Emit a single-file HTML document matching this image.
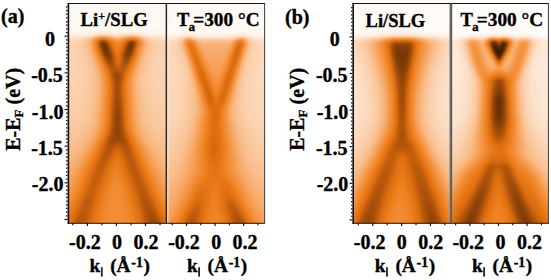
<!DOCTYPE html>
<html><head><meta charset="utf-8"><style>
html,body{margin:0;padding:0;background:#fff;width:551px;height:280px;overflow:hidden}
svg{display:block;position:absolute;left:0;top:0}
.m{position:absolute;overflow:hidden}
.m i{display:block;height:2px}
text{font-family:"Liberation Serif",serif;font-weight:bold;fill:#000;stroke:#000;stroke-width:0.35px}
</style></head><body>
<div class="m" style="left:68px;top:3px;width:98px;height:220px"><i style="background:linear-gradient(90deg,#fef8f3,#fef8f3,#fef8f3,#fef8f3,#fef8f3,#fef8f3,#fef8f3,#fef8f3,#fef8f3,#fef8f3,#fef8f3,#fef8f3,#fef8f3,#fef8f3,#fef8f3,#fef8f3,#fef8f3,#fef8f3,#fef8f3,#fef8f3,#fef8f3,#fef8f3,#fef8f3,#fef8f3,#fef8f3,#fef8f3,#fef8f3,#fef8f3,#fef8f3,#fef8f3,#fef8f3,#fef8f3,#fef8f3,#fef8f3,#fef8f3,#fef8f3,#fef8f3,#fef8f3,#fef8f3,#fef8f3,#fef8f3,#fef8f3,#fef8f3,#fef8f3,#fef8f3,#fef8f3,#fef8f3,#fef8f3,#fef8f3,#fef8f3)"></i><i style="background:linear-gradient(90deg,#fef8f3,#fef8f3,#fef8f3,#fef8f3,#fef8f3,#fef8f3,#fef8f3,#fef8f3,#fef8f3,#fef8f3,#fef8f3,#fef8f3,#fef8f3,#fef8f3,#fef8f3,#fef8f3,#fef8f3,#fef8f3,#fef8f3,#fef8f3,#fef8f3,#fef8f3,#fef8f3,#fef8f3,#fef8f3,#fef8f3,#fef8f3,#fef8f3,#fef8f3,#fef8f3,#fef8f3,#fef8f3,#fef8f3,#fef8f3,#fef8f3,#fef8f3,#fef8f3,#fef8f3,#fef8f3,#fef8f3,#fef8f3,#fef8f3,#fef8f3,#fef8f3,#fef8f3,#fef8f3,#fef8f3,#fef8f3,#fef8f3,#fef8f3)"></i><i style="background:linear-gradient(90deg,#fef8f3,#fef8f3,#fef8f3,#fef8f3,#fef8f3,#fef8f3,#fef8f3,#fef8f3,#fef8f3,#fef8f3,#fef8f3,#fef8f3,#fef8f3,#fef8f3,#fef8f3,#fef8f3,#fef8f3,#fef8f3,#fef8f3,#fef8f3,#fef8f3,#fef8f3,#fef8f3,#fef8f3,#fef8f3,#fef8f3,#fef8f3,#fef8f3,#fef8f3,#fef8f3,#fef8f3,#fef8f3,#fef8f3,#fef8f3,#fef8f3,#fef8f3,#fef8f3,#fef8f3,#fef8f3,#fef8f3,#fef8f3,#fef8f3,#fef8f3,#fef8f3,#fef8f3,#fef8f3,#fef8f3,#fef8f3,#fef8f3,#fef8f3)"></i><i style="background:linear-gradient(90deg,#fef8f3,#fef8f3,#fef8f3,#fef8f3,#fef8f3,#fef8f3,#fef8f3,#fef8f3,#fef8f3,#fef8f3,#fef8f3,#fef8f3,#fef8f3,#fef8f3,#fef8f3,#fef8f3,#fef8f3,#fef8f3,#fef8f3,#fef8f3,#fef8f3,#fef8f3,#fef8f3,#fef8f3,#fef8f3,#fef8f3,#fef8f3,#fef8f3,#fef8f3,#fef8f3,#fef8f3,#fef8f3,#fef8f3,#fef8f3,#fef8f3,#fef8f3,#fef8f3,#fef8f3,#fef8f3,#fef8f3,#fef8f3,#fef8f3,#fef8f3,#fef8f3,#fef8f3,#fef8f3,#fef8f3,#fef8f3,#fef8f3,#fef8f3)"></i><i style="background:linear-gradient(90deg,#fef8f3,#fef8f3,#fef8f3,#fef8f3,#fef8f3,#fef8f3,#fef8f3,#fef8f3,#fef8f3,#fef8f3,#fef8f3,#fef8f3,#fef8f3,#fef8f3,#fef8f3,#fef8f3,#fef8f3,#fef8f3,#fef8f3,#fef8f3,#fef8f3,#fef8f3,#fef8f3,#fef8f3,#fef8f3,#fef8f3,#fef8f3,#fef8f3,#fef8f3,#fef8f3,#fef8f3,#fef8f3,#fef8f3,#fef8f3,#fef8f3,#fef8f3,#fef8f3,#fef8f3,#fef8f3,#fef8f3,#fef8f3,#fef8f3,#fef8f3,#fef8f3,#fef8f3,#fef8f3,#fef8f3,#fef8f3,#fef8f3,#fef8f3)"></i><i style="background:linear-gradient(90deg,#fef8f3,#fef8f3,#fef8f3,#fef8f3,#fef8f3,#fef8f3,#fef8f3,#fef8f3,#fef8f3,#fef8f3,#fef8f3,#fef8f3,#fef8f3,#fef8f3,#fef8f3,#fef8f3,#fef8f3,#fef8f3,#fef8f3,#fef8f3,#fef8f3,#fef8f3,#fef8f3,#fef8f3,#fef8f3,#fef8f3,#fef8f3,#fef8f3,#fef8f3,#fef8f3,#fef8f3,#fef8f3,#fef8f3,#fef8f3,#fef8f3,#fef8f3,#fef8f3,#fef8f3,#fef8f3,#fef8f3,#fef8f3,#fef8f3,#fef8f3,#fef8f3,#fef8f3,#fef8f3,#fef8f3,#fef8f3,#fef8f3,#fef8f3)"></i><i style="background:linear-gradient(90deg,#fef8f3,#fef8f3,#fef8f3,#fef8f3,#fef8f3,#fef8f3,#fef8f3,#fef8f3,#fef8f3,#fef8f3,#fef8f3,#fef8f3,#fef8f3,#fef8f3,#fef8f3,#fef8f3,#fef8f3,#fef8f3,#fef8f3,#fef8f3,#fef8f3,#fef8f3,#fef8f3,#fef8f3,#fef8f3,#fef8f3,#fef8f3,#fef8f3,#fef8f3,#fef8f3,#fef8f3,#fef8f3,#fef8f3,#fef8f3,#fef8f3,#fef8f3,#fef8f3,#fef8f3,#fef8f3,#fef8f3,#fef8f3,#fef8f3,#fef8f3,#fef8f3,#fef8f3,#fef8f3,#fef8f3,#fef8f3,#fef8f3,#fef8f3)"></i><i style="background:linear-gradient(90deg,#fef8f3,#fef8f3,#fef8f3,#fef8f3,#fef8f3,#fef8f3,#fef8f3,#fef8f3,#fef8f3,#fef8f3,#fef8f3,#fef8f3,#fef8f3,#fef8f3,#fef8f3,#fef8f3,#fef8f3,#fef8f3,#fef8f3,#fef8f3,#fef8f3,#fef8f3,#fef8f3,#fef8f3,#fef8f3,#fef8f3,#fef8f3,#fef8f3,#fef8f3,#fef8f3,#fef8f3,#fef8f3,#fef8f3,#fef8f3,#fef8f3,#fef8f3,#fef8f3,#fef8f3,#fef8f3,#fef8f3,#fef8f3,#fef8f3,#fef8f3,#fef8f3,#fef8f3,#fef8f3,#fef8f3,#fef8f3,#fef8f3,#fef8f3)"></i><i style="background:linear-gradient(90deg,#fef8f3,#fef8f3,#fef8f3,#fef8f3,#fef8f3,#fef8f3,#fef8f3,#fef8f3,#fef8f3,#fef8f3,#fef8f3,#fef8f3,#fef8f3,#fef8f3,#fef8f3,#fef8f3,#fef8f3,#fef8f3,#fef8f3,#fef8f3,#fef8f3,#fef8f3,#fef8f3,#fef8f3,#fef8f3,#fef8f3,#fef8f3,#fef8f3,#fef8f3,#fef8f3,#fef8f3,#fef8f3,#fef8f3,#fef8f3,#fef8f3,#fef8f3,#fef8f3,#fef8f3,#fef8f3,#fef8f3,#fef8f3,#fef8f3,#fef8f3,#fef8f3,#fef8f3,#fef8f3,#fef8f3,#fef8f3,#fef8f3,#fef8f3)"></i><i style="background:linear-gradient(90deg,#fef8f3,#fef8f3,#fef8f3,#fef8f3,#fef8f3,#fef8f3,#fef8f3,#fef8f3,#fef8f3,#fef8f3,#fef8f3,#fef8f3,#fef8f3,#fef8f3,#fef8f3,#fef8f3,#fef8f3,#fef8f3,#fef8f3,#fef8f3,#fef8f3,#fef8f3,#fef8f3,#fef8f3,#fef8f3,#fef8f3,#fef8f3,#fef8f3,#fef8f3,#fef8f3,#fef8f3,#fef8f3,#fef8f3,#fef8f3,#fef8f3,#fef8f3,#fef8f3,#fef8f3,#fef8f3,#fef8f3,#fef8f3,#fef8f3,#fef8f3,#fef8f3,#fef8f3,#fef8f3,#fef8f3,#fef8f3,#fef8f3,#fef8f3)"></i><i style="background:linear-gradient(90deg,#fef8f3,#fef8f3,#fef8f3,#fef8f3,#fef8f3,#fef8f3,#fef8f3,#fef8f3,#fef8f3,#fef8f3,#fef8f3,#fef8f3,#fef8f3,#fef8f3,#fef8f3,#fef8f3,#fef8f3,#fef8f3,#fef8f3,#fef8f3,#fef8f3,#fef8f3,#fef8f3,#fef8f3,#fef8f3,#fef8f3,#fef8f3,#fef8f3,#fef8f3,#fef8f3,#fef8f3,#fef8f3,#fef8f3,#fef8f3,#fef8f3,#fef8f3,#fef8f3,#fef8f3,#fef8f3,#fef8f3,#fef8f3,#fef8f3,#fef8f3,#fef8f3,#fef8f3,#fef8f3,#fef8f3,#fef8f3,#fef8f3,#fef8f3)"></i><i style="background:linear-gradient(90deg,#fef8f3,#fef8f3,#fef8f3,#fef8f3,#fef8f3,#fef8f3,#fef8f3,#fef8f3,#fef8f3,#fef8f3,#fef8f3,#fef8f3,#fef8f3,#fef8f3,#fef8f3,#fef8f3,#fef8f3,#fef8f3,#fef8f3,#fef8f3,#fef8f3,#fef8f3,#fef8f3,#fef8f3,#fef8f3,#fef8f3,#fef8f3,#fef8f3,#fef8f3,#fef8f3,#fef8f3,#fef8f3,#fef8f3,#fef8f3,#fef8f3,#fef8f3,#fef8f3,#fef8f3,#fef8f3,#fef8f3,#fef8f3,#fef8f3,#fef8f3,#fef8f3,#fef8f3,#fef8f3,#fef8f3,#fef8f3,#fef8f3,#fef8f3)"></i><i style="background:linear-gradient(90deg,#fef8f3,#fef8f3,#fef8f3,#fef8f3,#fef8f3,#fef8f3,#fef8f3,#fef8f3,#fef8f3,#fef8f3,#fef8f2,#fef8f2,#fef8f2,#fef8f2,#fef7f1,#fef7f1,#fef7f1,#fef7f1,#fef7f1,#fef7f1,#fef7f1,#fef7f1,#fef7f2,#fef7f2,#fef8f2,#fef8f2,#fef8f2,#fef7f2,#fef7f1,#fef7f1,#fef7f1,#fef7f1,#fef7f1,#fef7f1,#fef7f1,#fef7f1,#fef7f2,#fef8f2,#fef8f2,#fef8f2,#fef8f2,#fef8f3,#fef8f3,#fef8f3,#fef8f3,#fef8f3,#fef8f3,#fef8f3,#fef8f3,#fef8f3)"></i><i style="height:1px;background:linear-gradient(90deg,#fef8f2,#fef8f2,#fef8f2,#fef8f2,#fef8f2,#fef8f2,#fef8f2,#fef7f2,#fef7f2,#fef7f1,#fef7f1,#fef7f1,#fef7f0,#fef6f0,#fef6ef,#fef6ef,#fef5ee,#fef5ee,#fef5ee,#fef6ee,#fef6ef,#fef6ef,#fef6ef,#fef6f0,#fef7f0,#fef7f0,#fef6f0,#fef6f0,#fef6ef,#fef6ef,#fef6ee,#fef5ee,#fef5ee,#fef5ee,#fef6ee,#fef6ef,#fef6f0,#fef7f0,#fef7f1,#fef7f1,#fef7f1,#fef7f2,#fef7f2,#fef8f2,#fef8f2,#fef8f2,#fef8f2,#fef8f2,#fef8f2,#fef8f2)"></i><i style="height:1px;background:linear-gradient(90deg,#fef7f1,#fef7f1,#fef7f1,#fef7f1,#fef7f1,#fef7f1,#fef7f1,#fef7f1,#fef7f0,#fef7f0,#fef6f0,#fef6ef,#fef6ee,#fef5ee,#fef5ed,#fef4ec,#fef4eb,#fef3ea,#fef3ea,#fef4eb,#fef4ec,#fef4ec,#fef5ed,#fef5ed,#fef5ee,#fef5ee,#fef5ee,#fef5ed,#fef5ed,#fef4ec,#fef4eb,#fef3eb,#fef3ea,#fef3ea,#fef4eb,#fef4ec,#fef5ed,#fef5ee,#fef6ef,#fef6ef,#fef6f0,#fef7f0,#fef7f1,#fef7f1,#fef7f1,#fef7f1,#fef7f1,#fef7f1,#fef7f1,#fef7f1)"></i><i style="height:1px;background:linear-gradient(90deg,#fef6f0,#fef6f0,#fef6f0,#fef6f0,#fef6ef,#fef6ef,#fef6ef,#fef6ef,#fef6ef,#fef5ee,#fef5ed,#fef5ed,#fef4eb,#fef3ea,#fef2e8,#fef1e7,#fef0e5,#fef0e5,#fef0e5,#fef1e6,#fef1e7,#fef2e8,#fef3e9,#fef3ea,#fef3ea,#fef3ea,#fef3ea,#fef3e9,#fef2e8,#fef2e7,#fef1e6,#fef0e5,#fef0e5,#fef0e5,#fef1e6,#fef2e7,#fef3e9,#fef4eb,#fef4ec,#fef5ed,#fef5ee,#fef6ee,#fef6ef,#fef6ef,#fef6ef,#fef6ef,#fef6f0,#fef6f0,#fef6f0,#fef6f0)"></i><i style="height:1px;background:linear-gradient(90deg,#fef5ee,#fef5ee,#fef5ed,#fef5ed,#fef5ed,#fef5ed,#fef5ec,#fef4ec,#fef4ec,#fef4eb,#fef3ea,#fef2e9,#fef1e7,#fef0e4,#feeee2,#fdeddf,#fdecdd,#fdebdc,#fdebdc,#fdecde,#fdeddf,#feeee1,#feefe3,#fef0e4,#fef0e5,#fef0e5,#fef0e5,#feefe3,#feeee2,#feede0,#fdecde,#fdebdd,#fdebdc,#fdebdd,#fdecde,#feeee1,#feefe3,#fef1e6,#fef2e8,#fef3e9,#fef3ea,#fef4eb,#fef4ec,#fef4ec,#fef5ed,#fef5ed,#fef5ed,#fef5ed,#fef5ee,#fef5ee)"></i><i style="height:1px;background:linear-gradient(90deg,#fef3eb,#fef3ea,#fef3ea,#fef3ea,#fef3e9,#fef3e9,#fef2e9,#fef2e8,#fef2e7,#fef1e6,#fef0e5,#feefe2,#feede0,#fdebdc,#fde9d8,#fde6d4,#fde5d1,#fde4cf,#fde4d0,#fde5d2,#fde6d4,#fde8d7,#fdeada,#fdebdc,#fdebdd,#fdecdd,#fdebdc,#fdeadb,#fde9d8,#fde7d6,#fde6d3,#fde4d1,#fde4cf,#fde4d0,#fde5d2,#fde7d6,#fdeada,#fdecde,#feeee1,#feefe4,#fef0e5,#fef1e7,#fef2e8,#fef2e8,#fef2e9,#fef3e9,#fef3ea,#fef3ea,#fef3ea,#fef3ea)"></i><i style="height:1px;background:linear-gradient(90deg,#fef1e6,#fef1e6,#fef0e5,#fef0e5,#fef0e4,#fef0e4,#feefe3,#feefe2,#feeee1,#fdeddf,#fdecdd,#fdeada,#fde7d6,#fde4d0,#fce1ca,#fcddc4,#fcd9be,#fbd8ba,#fbd8bb,#fcdabf,#fcddc4,#fce0c9,#fce2cd,#fde4d0,#fde5d1,#fde5d2,#fde4d1,#fce3ce,#fce1cb,#fcdec7,#fcdbc1,#fcd9bc,#fbd7ba,#fbd8bb,#fcdbc0,#fcdfc7,#fce2cd,#fde6d3,#fde9d8,#fdebdc,#fdecde,#feede0,#feeee2,#feefe3,#feefe4,#fef0e4,#fef0e5,#fef0e5,#fef1e6,#fef1e6)"></i><i style="height:1px;background:linear-gradient(90deg,#feede0,#feede0,#fdeddf,#fdecdf,#fdecde,#fdecdd,#fdebdc,#fdeadb,#fde9d9,#fde8d7,#fde6d3,#fde3cf,#fce0c9,#fcdabf,#fbd4b3,#facda8,#fac89e,#fac69a,#fac69b,#fac9a0,#facda8,#fbd2b0,#fbd6b8,#fcd9be,#fcdbc1,#fcdcc2,#fcdbc0,#fbd8bb,#fbd4b4,#fbd0ac,#facba4,#fac79d,#fac599,#fac79b,#facba3,#fbd0ad,#fbd7b9,#fcddc5,#fce1cc,#fde5d1,#fde7d5,#fde9d8,#fdeada,#fdebdb,#fdebdd,#fdecdd,#fdecde,#fdeddf,#fdeddf,#feede0)"></i><i style="height:1px;background:linear-gradient(90deg,#fde9d9,#fde9d8,#fde8d8,#fde8d7,#fde7d6,#fde7d5,#fde6d3,#fde5d2,#fde3cf,#fce2cc,#fcdfc8,#fcdbc0,#fbd4b4,#facca6,#fac496,#f9ba85,#f8b176,#f7ad6e,#f7ad6f,#f8b378,#f9ba85,#f9c192,#fac79c,#facba4,#facea9,#fbcfaa,#facda7,#fac9a0,#fac497,#f9be8c,#f8b67e,#f8b073,#f7ac6d,#f7ae71,#f8b57d,#f9bf8e,#fac89e,#fbd1ae,#fbd8ba,#fcddc4,#fce0ca,#fce3ce,#fde4d1,#fde5d3,#fde6d4,#fde7d5,#fde8d7,#fde8d7,#fde9d8,#fde9d9)"></i><i style="height:1px;background:linear-gradient(90deg,#fde5d2,#fde4d1,#fde4d0,#fde3cf,#fce3ce,#fce2cc,#fce1ca,#fcdfc8,#fcddc5,#fcdabf,#fbd6b8,#fbd0ad,#fac89e,#f9be8c,#f8b073,#f6a15a,#f59646,#f4923f,#f49240,#f59748,#f6a159,#f7ab6b,#f8b47b,#f9bb87,#f9bf8f,#f9c090,#f9be8c,#f8b882,#f8b074,#f7a662,#f69c50,#f49443,#f4923e,#f49341,#f69b4f,#f7a866,#f8b780,#f9c395,#facca6,#fbd3b3,#fbd8bc,#fcdcc2,#fcdec7,#fce0c9,#fce1cb,#fce2cd,#fce3ce,#fde4d0,#fde4d0,#fde5d1)"></i><i style="height:1px;background:linear-gradient(90deg,#fce1cb,#fce0ca,#fce0c9,#fcdfc8,#fcdec6,#fcddc4,#fcdbc1,#fcd9bd,#fbd6b8,#fbd3b2,#facea8,#fac79b,#f9bd8a,#f7ae6f,#f69c51,#f38e38,#ef8526,#ed7f1d,#ee7f1e,#ef8526,#f28d35,#f59545,#f6a058,#f7a967,#f7ae71,#f8b073,#f7ac6d,#f6a560,#f59b4f,#f3913d,#f1892e,#ef8221,#ed7f1d,#ee8120,#f1892e,#f49443,#f6a560,#f8b57d,#f9c293,#facaa2,#fbd0ad,#fbd5b5,#fbd8bb,#fcdabf,#fcdcc2,#fcddc5,#fcdec7,#fcdfc8,#fce0c9,#fce0ca)"></i><i style="height:1px;background:linear-gradient(90deg,#fcddc4,#fcdcc3,#fcdcc1,#fcdac0,#fcd9bd,#fbd8bb,#fbd6b7,#fbd4b3,#fbd1ae,#facda6,#fac79c,#f9bf8d,#f8b176,#f6a058,#f38f3a,#ee8221,#e47516,#de6e10,#de6e10,#e37415,#ec7e1c,#f1882c,#f3913d,#f5994b,#f6a057,#f6a15a,#f69d52,#f59544,#f28d35,#ef8324,#e87919,#e07112,#dd6d10,#e07113,#e97b1a,#f1882d,#f59647,#f7a967,#f8b982,#f9c395,#facaa2,#fbcfaa,#fbd2b1,#fbd5b5,#fbd7b9,#fbd9bc,#fcdabf,#fcdbc1,#fcdcc2,#fcddc4)"></i><i style="height:1px;background:linear-gradient(90deg,#fcdabe,#fcd9bd,#fbd8bb,#fbd7b9,#fbd6b7,#fbd4b4,#fbd2b0,#fbd0ac,#facca6,#fac89e,#f9c293,#f8b881,#f7a968,#f59647,#f0872b,#e67717,#d3670e,#ba590c,#b8580c,#cb630e,#e17113,#eb7d1c,#f0872b,#f38f3a,#f59543,#f59646,#f49340,#f28c34,#ef8324,#e77818,#dc6c0f,#c15d0d,#b7580c,#c45f0d,#df7012,#ed7f1e,#f38f39,#f6a058,#f8b175,#f9be8c,#fac599,#facaa2,#fbcea9,#fbd1ae,#fbd3b2,#fbd5b6,#fbd6b8,#fbd8ba,#fbd9bc,#fcd9be)"></i><i style="height:1px;background:linear-gradient(90deg,#fbd7ba,#fbd7b9,#fbd6b7,#fbd5b5,#fbd3b2,#fbd1af,#fbcfac,#facda7,#fac9a1,#fac598,#f9be8d,#f8b379,#f6a45e,#f4923e,#ef8222,#e07012,#ba5a0c,#9e4a0a,#9a480a,#ad520b,#cf650e,#e47415,#ee801e,#f1892e,#f38f39,#f3903c,#f28d35,#f08528,#ea7b1a,#df6f11,#bf5c0d,#a34d0a,#994809,#aa500b,#cf650e,#e87919,#f18a30,#f59a4d,#f7ac6c,#f9b984,#f9c293,#fac79d,#facba4,#fbceaa,#fbd1ae,#fbd2b1,#fbd4b4,#fbd5b6,#fbd6b8,#fbd7ba)"></i><i style="height:1px;background:linear-gradient(90deg,#fbd6b7,#fbd5b6,#fbd4b4,#fbd3b2,#fbd1af,#fbd0ac,#facea8,#facba4,#fac89d,#f9c395,#f9bc88,#f8b074,#f6a158,#f38f3a,#ed7f1d,#db6c0f,#aa510b,#894008,#833d08,#974709,#ba590c,#de6e11,#e97b1a,#ef8426,#f18b31,#f28c34,#f1882d,#ee811f,#e57516,#d1660e,#aa510b,#8c4208,#843e08,#974709,#c05d0d,#e47516,#f0872b,#f59747,#f7a967,#f8b77f,#f9c090,#fac69a,#facaa1,#facda6,#fbcfab,#fbd1ae,#fbd2b1,#fbd4b3,#fbd5b5,#fbd6b7)"></i><i style="height:1px;background:linear-gradient(90deg,#fbd5b6,#fbd4b4,#fbd3b2,#fbd2b0,#fbd1ae,#fbcfaa,#facda7,#facaa2,#fac79c,#f9c293,#f9bb87,#f8af72,#f6a057,#f38f39,#ec7e1c,#d7690f,#a44d0a,#7f3c07,#753707,#863f08,#aa510b,#d3670e,#e57617,#ee811f,#f0872b,#f1892f,#f08527,#eb7d1c,#e07113,#c25e0d,#9b490a,#7e3b07,#773807,#8e4309,#bb5a0c,#e37415,#f08629,#f59645,#f7a865,#f8b67d,#f9bf8e,#fac598,#fac99f,#facca5,#facea9,#fbd0ac,#fbd1af,#fbd3b1,#fbd4b3,#fbd5b5)"></i><i style="height:1px;background:linear-gradient(90deg,#fbd4b5,#fbd4b3,#fbd3b1,#fbd1af,#fbd0ad,#fbceaa,#facca6,#facaa1,#fac69b,#f9c293,#f9bb87,#f8b073,#f6a158,#f3903a,#ed7f1d,#db6b0f,#a54e0a,#7c3b07,#6e3406,#7b3a07,#9e4a0a,#c6600d,#e27214,#ec7d1c,#f08527,#f0872a,#ef8222,#e87919,#dd6d10,#b7570c,#904309,#753707,#733607,#8e4309,#bd5b0c,#e47516,#f0872b,#f59747,#f7a866,#f8b67e,#f9bf8e,#fac498,#fac89f,#facba4,#facea8,#fbcfac,#fbd1ae,#fbd2b1,#fbd3b2,#fbd4b4)"></i><i style="height:1px;background:linear-gradient(90deg,#fbd4b4,#fbd3b3,#fbd2b1,#fbd1af,#fbd0ac,#fbcea9,#facca6,#facaa1,#fac69b,#f9c293,#f9bb87,#f8b175,#f6a25b,#f3913d,#ee8120,#dd6e10,#aa500b,#7e3b07,#6b3306,#743707,#944509,#bc5b0c,#df6f11,#e97b1a,#ef8323,#f08527,#ee801e,#e57617,#d6690f,#ae530b,#884008,#703506,#723606,#914409,#c25e0d,#e57717,#f1892e,#f5984a,#f7aa68,#f8b67f,#f9bf8e,#fac498,#fac89f,#facba4,#facda8,#fbcfab,#fbd1ae,#fbd2b0,#fbd3b2,#fbd4b4)"></i><i style="height:1px;background:linear-gradient(90deg,#fbd4b4,#fbd3b2,#fbd2b1,#fbd1af,#fbd0ac,#fbcea9,#facca6,#facaa1,#fac79b,#f9c294,#f9bc89,#f8b277,#f6a45e,#f49340,#ef8323,#e07012,#b0540b,#823d08,#6b3206,#703506,#8c4208,#b4560c,#dc6c0f,#e77818,#ee811f,#ef8324,#ec7e1d,#e37415,#cf650e,#a64f0b,#823d08,#6e3406,#743707,#964709,#c9610d,#e77919,#f18a31,#f59a4e,#f7ab6b,#f8b780,#f9c08f,#fac598,#fac89f,#facba4,#facda8,#fbcfab,#fbd1ae,#fbd2b0,#fbd3b2,#fbd4b3)"></i><i style="height:1px;background:linear-gradient(90deg,#fbd4b4,#fbd3b2,#fbd2b1,#fbd1af,#fbd0ac,#fbcea9,#facca6,#facaa2,#fac79c,#f9c395,#f9bd8a,#f8b379,#f7a662,#f59543,#f08527,#e27314,#b8580c,#884008,#6d3306,#6d3306,#863f08,#ac520b,#d5680e,#e57616,#ed7f1d,#ee8221,#eb7c1b,#e17213,#c8610d,#a14b0a,#7e3b07,#6e3406,#783907,#9d4a0a,#d0660e,#ea7b1a,#f28c34,#f69d51,#f7ad6e,#f8b882,#f9c090,#fac599,#fac99f,#facba4,#facea8,#fbcfab,#fbd1ae,#fbd2b0,#fbd3b2,#fbd4b3)"></i><i style="background:linear-gradient(90deg,#fbd4b4,#fbd3b2,#fbd2b1,#fbd1af,#fbd0ad,#fbceaa,#facda6,#facaa2,#fac79d,#fac496,#f9be8d,#f8b57d,#f7a967,#f59849,#f1892e,#e67717,#c55f0d,#934509,#723606,#6c3306,#7f3c07,#a34c0a,#ca620e,#e27314,#eb7c1b,#ed7f1d,#e87a19,#df6f11,#bf5c0d,#994809,#7a3907,#6f3506,#803c08,#a84f0b,#dc6c0f,#ed7f1d,#f38f3a,#f6a057,#f8af72,#f9ba85,#f9c192,#fac69a,#fac9a0,#facca5,#facea9,#fbcfac,#fbd1ae,#fbd2b0,#fbd3b2,#fbd4b3)"></i><i style="background:linear-gradient(90deg,#fbd4b4,#fbd3b3,#fbd2b1,#fbd1af,#fbd0ad,#fbcfab,#facda7,#facba3,#fac89e,#fac598,#f9c08f,#f8b881,#f7ac6d,#f69d52,#f28d36,#eb7d1c,#d7690f,#a44d0a,#7c3b07,#6d3406,#783907,#974709,#be5b0c,#de6f11,#e77919,#eb7c1b,#e57617,#da6b0f,#b5560c,#914409,#783807,#753707,#8c4208,#b8580c,#e17213,#ef8425,#f49341,#f6a45f,#f8b277,#f9bc89,#f9c394,#fac79c,#facaa2,#facca6,#fbcea9,#fbd0ac,#fbd1af,#fbd2b1,#fbd3b2,#fbd4b3)"></i><i style="background:linear-gradient(90deg,#fbd4b4,#fbd3b3,#fbd3b1,#fbd2b0,#fbd1ae,#fbcfab,#facea8,#facca5,#fac9a0,#fac69a,#f9c192,#f9ba86,#f8b074,#f6a25b,#f4923e,#ef8222,#e07012,#b4560c,#894108,#723606,#753707,#8e4309,#b2550c,#d86a0f,#e47516,#e87919,#e27314,#d0660e,#ac520b,#8b4108,#783907,#7d3b07,#9b490a,#c9610d,#e67818,#f1892e,#f59849,#f7a966,#f8b57d,#f9bf8d,#fac497,#fac89e,#facba3,#facda7,#fbcfaa,#fbd0ad,#fbd1af,#fbd2b1,#fbd3b2,#fbd4b4)"></i><i style="background:linear-gradient(90deg,#fbd4b4,#fbd4b3,#fbd3b2,#fbd2b0,#fbd1ae,#fbd0ac,#fbcea9,#facca6,#facaa1,#fac79c,#f9c394,#f9bd8a,#f8b379,#f7a663,#f59645,#f0872b,#e57617,#c6600d,#984709,#7a3a07,#753707,#873f08,#a84f0b,#cc630e,#e17113,#e57616,#df7012,#c7600d,#a44d0a,#874008,#7b3a07,#874008,#aa510b,#da6b0f,#eb7d1c,#f28d36,#f69d52,#f7ac6d,#f8b882,#f9c090,#fac599,#fac99f,#facba4,#facea8,#fbcfab,#fbd1ae,#fbd2b0,#fbd3b1,#fbd3b3,#fbd4b4)"></i><i style="background:linear-gradient(90deg,#fbd4b5,#fbd4b4,#fbd3b2,#fbd2b1,#fbd1af,#fbd0ad,#fbcfaa,#facda7,#facba3,#fac89e,#fac497,#f9bf8e,#f8b780,#f7ac6c,#f69d52,#f28e37,#ec7e1d,#dd6d10,#b0540b,#8d4209,#7e3b07,#884008,#a34c0a,#c45f0d,#de6e11,#e27314,#de6e10,#c25e0d,#a34d0a,#8c4208,#884008,#9b490a,#c05d0d,#e27314,#ef8425,#f4923f,#f6a35c,#f8b175,#f9bb88,#f9c293,#fac79b,#facaa1,#facca6,#fbcea9,#fbd0ac,#fbd1ae,#fbd2b0,#fbd3b2,#fbd4b3,#fbd4b4)"></i><i style="background:linear-gradient(90deg,#fbd5b5,#fbd4b4,#fbd3b3,#fbd3b1,#fbd2b0,#fbd1ae,#fbcfab,#facea8,#facca5,#fac9a0,#fac69a,#f9c192,#f9bb86,#f8b074,#f6a35d,#f49341,#f08527,#e47516,#c7610d,#a14c0a,#8b4108,#8c4208,#a04b0a,#bd5b0c,#db6b0f,#e07012,#dc6c0f,#c05c0d,#a54e0a,#944609,#974709,#af530b,#d6690e,#e97a1a,#f18a2f,#f59849,#f7a866,#f8b57c,#f9be8d,#fac497,#fac89e,#facba3,#facda7,#fbcfab,#fbd0ad,#fbd1af,#fbd2b1,#fbd3b2,#fbd4b4,#fbd4b5)"></i><i style="background:linear-gradient(90deg,#fbd5b5,#fbd4b4,#fbd4b3,#fbd3b2,#fbd2b0,#fbd1ae,#fbd0ac,#fbcea9,#facca6,#facaa1,#fac79c,#f9c395,#f9bd8b,#f8b47b,#f7a866,#f5994b,#f28b32,#eb7d1b,#dd6d10,#b6570c,#9b490a,#934509,#a04b0a,#b9590c,#d4680e,#de6e11,#d7690f,#be5c0d,#a84f0b,#9e4a0a,#a74f0b,#c25e0d,#e07113,#ee811f,#f38f39,#f69e54,#f7ad6e,#f8b882,#f9c090,#fac599,#fac99f,#facba4,#facea8,#fbcfab,#fbd1ae,#fbd2b0,#fbd3b1,#fbd3b3,#fbd4b4,#fbd4b5)"></i><i style="background:linear-gradient(90deg,#fbd4b5,#fbd4b4,#fbd3b3,#fbd3b2,#fbd2b0,#fbd1af,#fbd0ac,#fbceaa,#facda7,#facaa2,#fac89d,#fac497,#f9bf8e,#f8b780,#f7ad6e,#f69f56,#f3913c,#ef8324,#e37415,#cb630e,#ac520b,#9e4a0a,#a34d0a,#b6570c,#ce640e,#dc6c0f,#d3670e,#be5b0c,#ad520b,#a9500b,#b6570c,#d5680e,#e67718,#f08629,#f49341,#f6a35c,#f8b074,#f9bb86,#f9c192,#fac69a,#fac9a1,#facca5,#facea9,#fbcfac,#fbd1ae,#fbd2b0,#fbd3b1,#fbd3b3,#fbd4b4,#fbd4b4)"></i><i style="background:linear-gradient(90deg,#fbd4b5,#fbd4b4,#fbd3b3,#fbd3b2,#fbd2b0,#fbd1af,#fbd0ad,#fbcfaa,#facda7,#facba3,#fac89f,#fac598,#f9c090,#f9ba85,#f8b074,#f6a45f,#f59545,#f1892e,#ea7b1b,#dd6d10,#be5c0d,#ab510b,#a9500b,#b5570c,#c8610d,#d4680e,#cf650e,#bf5c0d,#b3550c,#b4560c,#c7600d,#df7012,#ec7e1c,#f18b32,#f59849,#f7a764,#f8b37a,#f9bd8a,#f9c394,#fac79c,#facaa1,#facca6,#fbcea9,#fbd0ac,#fbd1ae,#fbd2b0,#fbd3b1,#fbd3b2,#fbd4b3,#fbd4b4)"></i><i style="background:linear-gradient(90deg,#fbd4b4,#fbd4b4,#fbd3b3,#fbd3b2,#fbd2b0,#fbd1af,#fbd0ad,#fbcfab,#facda8,#facba4,#fac9a0,#fac69a,#f9c293,#f9bc88,#f8b37a,#f7a866,#f59b4e,#f28e37,#ee8120,#e37415,#cf650e,#b7580c,#af530b,#b5570c,#c25e0d,#cc630e,#c8610d,#be5b0c,#b8580c,#c05d0d,#d7690f,#e57616,#ef8324,#f3903b,#f69e53,#f7ac6c,#f8b67f,#f9bf8d,#fac496,#fac79d,#facaa2,#facda6,#fbceaa,#fbd0ac,#fbd1ae,#fbd2b0,#fbd3b1,#fbd3b2,#fbd4b3,#fbd4b4)"></i><i style="background:linear-gradient(90deg,#fbd4b4,#fbd4b3,#fbd3b3,#fbd3b2,#fbd2b0,#fbd1af,#fbd0ad,#fbcfab,#facda8,#facca5,#fac9a0,#fac69b,#f9c394,#f9be8b,#f8b67e,#f7ac6c,#f69f56,#f4923e,#f08629,#e87919,#dd6d0f,#c25e0d,#b5560c,#b4560c,#bb5a0c,#c15d0d,#bf5c0d,#bb5a0c,#bd5b0c,#cc630e,#df7012,#ea7c1b,#f1892e,#f59543,#f6a35d,#f8b073,#f9b984,#f9c090,#fac598,#fac89e,#facba3,#facda7,#fbceaa,#fbd0ac,#fbd1ae,#fbd2b0,#fbd3b1,#fbd3b2,#fbd4b3,#fbd4b4)"></i><i style="background:linear-gradient(90deg,#fbd4b4,#fbd4b3,#fbd3b2,#fbd3b1,#fbd2b0,#fbd1af,#fbd0ad,#fbcfab,#facea8,#facca5,#facaa1,#fac79c,#f9c395,#f9bf8d,#f8b881,#f7af71,#f6a35d,#f59544,#f18a30,#ec7e1c,#e17113,#cd640e,#b9590c,#b1550b,#b2550b,#b4560c,#b6570c,#b9590c,#c35e0d,#d86a0f,#e47516,#ef8221,#f28e37,#f59a4d,#f7a865,#f8b378,#f9bc88,#f9c192,#fac599,#fac99f,#facba4,#facda7,#fbcfaa,#fbd0ac,#fbd1ae,#fbd2b0,#fbd2b1,#fbd3b2,#fbd3b3,#fbd4b4)"></i><i style="background:linear-gradient(90deg,#fbd4b3,#fbd3b3,#fbd3b2,#fbd2b1,#fbd2b0,#fbd1af,#fbd0ad,#fbcfab,#facea8,#facca5,#facaa1,#fac79c,#fac497,#f9c08f,#f9b984,#f8b175,#f7a662,#f5994b,#f28d36,#ef8221,#e47516,#d6680e,#bc5a0c,#ad520b,#a74f0b,#a74f0b,#ac510b,#b6570c,#c8610d,#de6e11,#e97a1a,#f0862a,#f4923e,#f69f56,#f7ab6b,#f8b57d,#f9bd8b,#f9c294,#fac69a,#fac9a0,#facba4,#facda7,#fbcfaa,#fbd0ac,#fbd1ae,#fbd2b0,#fbd2b1,#fbd3b2,#fbd3b3,#fbd4b3)"></i><i style="background:linear-gradient(90deg,#fbd4b3,#fbd3b2,#fbd3b2,#fbd2b1,#fbd2b0,#fbd1ae,#fbd0ad,#fbcfab,#facea8,#facca5,#facaa1,#fac79d,#fac497,#f9c090,#f9bb86,#f8b378,#f7a967,#f69c51,#f3903c,#f08527,#e77818,#db6c0f,#bc5a0c,#a64e0b,#9a480a,#984709,#a04b0a,#b1540b,#cb630e,#e17113,#ec7e1d,#f18a30,#f59545,#f6a35c,#f7ae70,#f8b780,#f9be8d,#f9c395,#fac69b,#fac9a0,#facba4,#facda7,#fbcfaa,#fbd0ac,#fbd1ae,#fbd1af,#fbd2b0,#fbd3b1,#fbd3b2,#fbd3b3)"></i><i style="background:linear-gradient(90deg,#fbd3b3,#fbd3b2,#fbd3b1,#fbd2b1,#fbd2b0,#fbd1ae,#fbd0ad,#fbcfab,#facea8,#facca5,#facaa2,#fac89d,#fac598,#f9c191,#f9bc88,#f8b47b,#f7ab6b,#f69f56,#f49340,#f0882c,#ea7c1b,#df6f11,#c35e0d,#aa500b,#9b490a,#984709,#a24c0a,#b6570c,#d3670e,#e47516,#ef8222,#f28e37,#f5994b,#f7a662,#f8b174,#f8b983,#f9bf8e,#f9c396,#fac79c,#fac9a0,#facba4,#facda7,#fbcfaa,#fbd0ac,#fbd1ae,#fbd1af,#fbd2b0,#fbd2b1,#fbd3b2,#fbd3b3)"></i><i style="background:linear-gradient(90deg,#fbd3b2,#fbd3b2,#fbd2b1,#fbd2b0,#fbd1af,#fbd1ae,#fbd0ad,#fbcfab,#facea8,#facca6,#facaa2,#fac89e,#fac598,#f9c192,#f9bc89,#f8b57d,#f7ad6e,#f6a25b,#f59544,#f18a31,#ed7e1d,#e17113,#c9620d,#ad520b,#9c490a,#994809,#a44d0a,#bb5a0c,#db6c0f,#e77818,#f08527,#f3903c,#f69c51,#f7a866,#f8b277,#f9ba85,#f9c08f,#fac496,#fac79c,#fac9a1,#facba4,#facda8,#fbcfaa,#fbd0ac,#fbd1ae,#fbd1af,#fbd2b0,#fbd2b1,#fbd3b2,#fbd3b2)"></i><i style="background:linear-gradient(90deg,#fbd3b2,#fbd3b1,#fbd2b1,#fbd2b0,#fbd1af,#fbd1ae,#fbd0ac,#fbcfab,#facea8,#facca6,#facaa2,#fac89e,#fac599,#f9c293,#f9bd8a,#f8b67e,#f7ae70,#f6a35d,#f59647,#f28c34,#ee801f,#e37415,#ce640e,#b1540b,#a04b0a,#9c490a,#a74f0b,#c05c0d,#de6e10,#e97b1a,#f0872b,#f4923f,#f69e54,#f7aa68,#f8b379,#f9bb86,#f9c090,#fac497,#fac79c,#fac9a1,#facca4,#facda7,#fbceaa,#fbd0ac,#fbd0ad,#fbd1af,#fbd2b0,#fbd2b0,#fbd3b1,#fbd3b2)"></i><i style="background:linear-gradient(90deg,#fbd3b2,#fbd2b1,#fbd2b0,#fbd2b0,#fbd1af,#fbd1ae,#fbd0ac,#fbcfab,#facea8,#facca6,#facaa2,#fac89e,#fac599,#f9c293,#f9bd8b,#f8b77f,#f7af71,#f6a45f,#f59849,#f28d36,#ef8221,#e47516,#d3670e,#b5570c,#a34d0a,#9f4b0a,#ab510b,#c45f0d,#df6f11,#ea7c1b,#f1882c,#f49340,#f69f56,#f7aa6a,#f8b47a,#f9bb87,#f9c090,#fac497,#fac79c,#facaa1,#facca4,#facda7,#fbceaa,#fbcfac,#fbd0ad,#fbd1ae,#fbd1af,#fbd2b0,#fbd2b1,#fbd3b1)"></i><i style="background:linear-gradient(90deg,#fbd3b1,#fbd2b1,#fbd2b0,#fbd2af,#fbd1ae,#fbd0ad,#fbd0ac,#fbcfaa,#facea8,#facca6,#facaa3,#fac89f,#fac59a,#f9c293,#f9be8c,#f8b780,#f8af72,#f6a560,#f5994b,#f28e37,#ef8323,#e57617,#d6690f,#b8580c,#a64e0a,#a24c0a,#ae530b,#c7600d,#e07012,#eb7d1c,#f1892e,#f49341,#f6a057,#f7ab6a,#f8b47a,#f9bb87,#f9c090,#fac497,#fac79c,#facaa1,#facba4,#facda7,#fbceaa,#fbcfab,#fbd0ad,#fbd1ae,#fbd1af,#fbd2b0,#fbd2b0,#fbd2b1)"></i><i style="background:linear-gradient(90deg,#fbd2b1,#fbd2b0,#fbd2b0,#fbd1af,#fbd1ae,#fbd0ad,#fbd0ac,#fbcfaa,#facea8,#facca6,#facaa3,#fac89f,#fac69a,#f9c294,#f9be8c,#f8b881,#f8af73,#f7a561,#f5994c,#f38e38,#ef8324,#e67717,#d86a0f,#ba5a0c,#a84f0b,#a44d0a,#b0540b,#c9610d,#e07113,#ec7d1c,#f1892f,#f49442,#f6a057,#f7ab6b,#f8b47b,#f9bb87,#f9c090,#fac497,#fac79d,#facaa1,#facba4,#facda7,#fbcea9,#fbcfab,#fbd0ad,#fbd1ae,#fbd1af,#fbd2af,#fbd2b0,#fbd2b1)"></i><i style="background:linear-gradient(90deg,#fbd2b0,#fbd2b0,#fbd1af,#fbd1af,#fbd1ae,#fbd0ad,#fbcfac,#fbcfaa,#facda8,#facca6,#facaa3,#fac89f,#fac69a,#f9c294,#f9be8c,#f8b881,#f8b073,#f7a662,#f59a4c,#f38f39,#ef8425,#e67717,#da6b0f,#bc5a0c,#a9500b,#a54e0a,#b1540b,#ca620d,#e17113,#ec7e1c,#f1892f,#f49442,#f6a058,#f7ab6b,#f8b47b,#f9bb87,#f9c091,#fac497,#fac79d,#fac9a1,#facba4,#facda7,#fbcea9,#fbcfab,#fbd0ac,#fbd0ad,#fbd1ae,#fbd1af,#fbd2b0,#fbd2b0)"></i><i style="background:linear-gradient(90deg,#fbd2b0,#fbd2af,#fbd1af,#fbd1ae,#fbd0ad,#fbd0ac,#fbcfab,#fbcea9,#facda8,#facca5,#facaa2,#fac89e,#fac59a,#f9c294,#f9be8c,#f8b881,#f8af73,#f7a561,#f5994c,#f38e38,#ef8324,#e67717,#d96b0f,#bc5a0c,#a9500b,#a54e0a,#b1540b,#c9620d,#e17113,#ec7d1c,#f1892e,#f49442,#f6a057,#f7ab6a,#f8b47a,#f9bb87,#f9c090,#fac497,#fac79c,#fac9a0,#facba4,#facda6,#facea9,#fbcfaa,#fbcfac,#fbd0ad,#fbd1ae,#fbd1ae,#fbd1af,#fbd2b0)"></i><i style="background:linear-gradient(90deg,#fbd2af,#fbd1af,#fbd1ae,#fbd0ae,#fbd0ad,#fbcfac,#fbcfaa,#facea9,#facda7,#facba4,#facaa1,#fac89d,#fac599,#f9c293,#f9bd8b,#f8b77f,#f7af71,#f6a560,#f5984a,#f28e37,#ef8323,#e67717,#d86a0f,#ba5a0c,#a84f0b,#a44d0a,#b0540b,#c8610d,#e07012,#eb7d1c,#f1882d,#f49340,#f69f55,#f7aa69,#f8b379,#f9ba85,#f9c08f,#fac396,#fac69b,#fac9a0,#facba3,#facca6,#facda8,#fbceaa,#fbcfab,#fbd0ac,#fbd0ad,#fbd1ae,#fbd1af,#fbd1af)"></i><i style="background:linear-gradient(90deg,#fbd1af,#fbd1ae,#fbd1ae,#fbd0ad,#fbd0ac,#fbcfab,#fbceaa,#facea8,#facca6,#facba4,#fac9a1,#fac79d,#fac498,#f9c192,#f9bd8a,#f8b67e,#f7ae70,#f6a45e,#f59749,#f28d36,#ef8222,#e57616,#d6690f,#b9590c,#a64e0b,#a24c0a,#ae530b,#c6600d,#df7012,#eb7c1b,#f0882c,#f4923f,#f69e54,#f7a967,#f8b277,#f9ba84,#f9bf8e,#f9c395,#fac69a,#fac89f,#facaa2,#facca5,#facda7,#facea9,#fbcfaa,#fbcfac,#fbd0ac,#fbd0ad,#fbd1ae,#fbd1af)"></i><i style="background:linear-gradient(90deg,#fbd1ae,#fbd1ae,#fbd0ad,#fbd0ac,#fbcfab,#fbcfaa,#fbcea9,#facda7,#facca5,#facba3,#fac9a0,#fac79c,#fac497,#f9c191,#f9bc88,#f8b57d,#f7ad6e,#f6a35c,#f59647,#f28c35,#ee8121,#e47516,#d4670e,#b6570c,#a44d0a,#a04b0a,#ac510b,#c45f0d,#df6f11,#ea7b1a,#f0872b,#f4923e,#f69d52,#f7a866,#f8b176,#f8b983,#f9bf8d,#f9c294,#fac599,#fac89e,#facaa1,#facba4,#facda6,#facea8,#fbceaa,#fbcfab,#fbd0ac,#fbd0ad,#fbd0ad,#fbd1ae)"></i><i style="background:linear-gradient(90deg,#fbd1ae,#fbd0ad,#fbd0ac,#fbcfac,#fbcfab,#fbceaa,#facea8,#facda7,#facca5,#facaa2,#fac89f,#fac69b,#fac396,#f9c090,#f9bb87,#f8b47b,#f7ac6d,#f6a25b,#f59645,#f28c33,#ee811f,#e37415,#d1660e,#b4560c,#a24c0a,#9d4a0a,#a9500b,#c15d0d,#de6e11,#e97a1a,#f08629,#f3913c,#f69c50,#f7a764,#f8b074,#f8b881,#f9be8c,#f9c293,#fac599,#fac79d,#fac9a1,#facba3,#facca6,#facda8,#fbcea9,#fbcfaa,#fbcfab,#fbd0ac,#fbd0ad,#fbd0ad)"></i><i style="background:linear-gradient(90deg,#fbd0ad,#fbd0ac,#fbd0ac,#fbcfab,#fbcfaa,#fbcea9,#facda8,#facca6,#facba4,#facaa1,#fac89e,#fac69a,#f9c395,#f9bf8f,#f9ba86,#f8b47a,#f7ab6b,#f6a159,#f59544,#f18b32,#ee801e,#e37315,#cf650e,#b2550b,#a04b0a,#9b490a,#a74f0b,#bf5c0d,#dd6d10,#e87a19,#f08628,#f3903b,#f59b4e,#f7a662,#f8b073,#f8b780,#f9bd8b,#f9c192,#fac498,#fac79c,#fac9a0,#facba3,#facca5,#facda7,#facea8,#fbceaa,#fbcfab,#fbcfab,#fbd0ac,#fbd0ad)"></i><i style="background:linear-gradient(90deg,#fbd0ac,#fbd0ac,#fbcfab,#fbcfaa,#fbcea9,#facea8,#facda7,#facca5,#facba3,#fac9a1,#fac89d,#fac599,#f9c294,#f9bf8e,#f9ba84,#f8b378,#f7aa6a,#f6a057,#f49443,#f18a31,#ed7f1d,#e27314,#cd640e,#b0540b,#9e4a0a,#9a480a,#a64e0a,#bd5b0c,#dd6d10,#e87919,#f08527,#f38f3a,#f59a4d,#f7a561,#f7af71,#f8b67f,#f9bd89,#f9c191,#fac497,#fac69b,#fac89f,#facaa2,#facba4,#facca6,#facda8,#facea9,#fbcfaa,#fbcfab,#fbcfac,#fbd0ac)"></i><i style="background:linear-gradient(90deg,#fbd0ac,#fbcfab,#fbcfab,#fbceaa,#facea9,#facda8,#facda6,#facca5,#facaa2,#fac9a0,#fac79c,#fac598,#f9c293,#f9be8d,#f8b983,#f8b277,#f7a968,#f69f56,#f49442,#f18a2f,#ed7e1d,#e17214,#cb630e,#af530b,#9c490a,#984709,#a44d0a,#bc5a0c,#dc6c0f,#e77818,#ef8426,#f38f39,#f5994b,#f6a45f,#f7ae70,#f8b67d,#f9bc88,#f9c090,#fac396,#fac69a,#fac89e,#facaa1,#facba4,#facca5,#facda7,#facea8,#fbcea9,#fbcfaa,#fbcfab,#fbcfac)"></i><i style="background:linear-gradient(90deg,#fbcfab,#fbcfab,#fbcfaa,#fbcea9,#facea8,#facda7,#facca6,#facba4,#facaa2,#fac89f,#fac79c,#fac497,#f9c192,#f9be8c,#f8b882,#f8b176,#f7a967,#f69e54,#f49340,#f1892e,#ec7e1c,#e17113,#c9620d,#ad520b,#9b490a,#974709,#a34c0a,#ba590c,#da6b0f,#e67818,#ef8424,#f28e38,#f5984a,#f6a45e,#f7ad6e,#f8b57c,#f9bb87,#f9c08f,#f9c395,#fac69a,#fac89d,#fac9a0,#facba3,#facca5,#facda6,#facda8,#facea9,#fbceaa,#fbcfaa,#fbcfab)"></i><i style="background:linear-gradient(90deg,#fbcfab,#fbcfaa,#fbcea9,#facea9,#facda8,#facda6,#facca5,#facba3,#facaa1,#fac89e,#fac69b,#fac497,#f9c191,#f9bd8a,#f8b781,#f8b074,#f7a865,#f69d53,#f4923f,#f1882d,#eb7d1c,#e07113,#c8610d,#ab510b,#994809,#954609,#a14c0a,#b8580c,#d86a0f,#e67717,#ef8323,#f28d36,#f59748,#f6a35c,#f7ac6d,#f8b47b,#f9ba86,#f9bf8e,#f9c294,#fac599,#fac79d,#fac9a0,#facaa2,#facba4,#facca6,#facda7,#facda8,#facea9,#fbceaa,#fbcfaa)"></i><i style="background:linear-gradient(90deg,#fbcfaa,#fbcea9,#facea9,#facda8,#facda7,#facca6,#facba4,#facaa2,#fac9a0,#fac89d,#fac69a,#f9c396,#f9c090,#f9bc89,#f8b77f,#f8b073,#f7a764,#f69c51,#f4923e,#f0882c,#eb7c1b,#e07012,#c6600d,#aa500b,#984709,#944509,#9f4b0a,#b7570c,#d6690f,#e57617,#ef8222,#f28d35,#f59646,#f6a25b,#f7ab6c,#f8b379,#f9ba84,#f9bf8d,#f9c293,#fac598,#fac79c,#fac89f,#facaa1,#facba3,#facca5,#facda6,#facda7,#facea8,#fbcea9,#fbceaa)"></i><i style="background:linear-gradient(90deg,#fbcea9,#facea9,#facea8,#facda7,#facca6,#facca5,#facba4,#facaa2,#fac99f,#fac79d,#fac599,#f9c395,#f9c08f,#f9bc88,#f8b67e,#f7af71,#f7a662,#f69b4f,#f3913d,#f0872b,#ea7c1b,#df6f12,#c45f0d,#a84f0b,#964609,#924509,#9e4a0a,#b5570c,#d5680e,#e57516,#ee8221,#f28c34,#f59545,#f6a159,#f7ab6a,#f8b378,#f8b983,#f9be8c,#f9c192,#fac497,#fac69b,#fac89e,#fac9a1,#facba3,#facba4,#facca6,#facda7,#facda8,#facea8,#fbcea9)"></i><i style="background:linear-gradient(90deg,#facea9,#facea8,#facda7,#facda7,#facca6,#facba4,#facba3,#facaa1,#fac89f,#fac79c,#fac598,#f9c294,#f9bf8e,#f9bb87,#f8b57d,#f7ae70,#f7a561,#f59a4e,#f3903c,#f08629,#e97b1a,#de6f11,#c25e0d,#a74f0b,#954609,#914409,#9c490a,#b3560c,#d3670e,#e47516,#ee8120,#f28b33,#f59544,#f6a058,#f7aa69,#f8b277,#f8b882,#f9bd8b,#f9c191,#fac496,#fac69a,#fac89d,#fac9a0,#facaa2,#facba4,#facca5,#facca6,#facda7,#facda8,#facea9)"></i><i style="background:linear-gradient(90deg,#facea8,#facda8,#facda7,#facca6,#facca5,#facba4,#facaa2,#fac9a0,#fac89e,#fac69b,#fac497,#f9c293,#f9bf8d,#f9ba86,#f8b47b,#f7ad6f,#f6a45f,#f5994c,#f3903a,#f08628,#e97a1a,#de6e11,#c05d0d,#a54e0a,#934509,#8f4309,#9b490a,#b2550b,#d1660e,#e37415,#ee801e,#f18b32,#f49443,#f69f56,#f7a967,#f8b175,#f8b881,#f9bd8a,#f9c090,#f9c395,#fac599,#fac79d,#fac99f,#facaa1,#facba3,#facba4,#facca6,#facda6,#facda7,#facda8)"></i><i style="background:linear-gradient(90deg,#facda8,#facda7,#facca6,#facca5,#facba4,#facba3,#facaa1,#fac9a0,#fac79d,#fac69a,#fac497,#f9c192,#f9be8d,#f9ba84,#f8b47a,#f7ac6d,#f6a35d,#f5994a,#f38f39,#f08527,#e87919,#dd6d10,#be5c0d,#a34d0a,#914409,#8d4209,#984709,#b0540b,#cf650e,#e37315,#ee7f1e,#f18a30,#f49441,#f69e54,#f7a866,#f8b074,#f8b77f,#f9bc89,#f9c08f,#f9c394,#fac599,#fac79c,#fac89e,#fac9a1,#facaa2,#facba4,#facca5,#facca6,#facda7,#facda7)"></i><i style="background:linear-gradient(90deg,#facda7,#facca6,#facca5,#facba4,#facba3,#facaa2,#fac9a0,#fac89e,#fac79c,#fac599,#f9c395,#f9c191,#f9bd8b,#f8b882,#f8b378,#f7ab6b,#f6a25c,#f59849,#f38e38,#ef8426,#e87919,#dd6d10,#be5c0d,#a44d0a,#924509,#8f4309,#9a480a,#b0540b,#cf650e,#e27314,#ed7f1d,#f18a2f,#f49340,#f69d53,#f7a764,#f8af72,#f8b67e,#f9bb87,#f9bf8e,#f9c293,#fac497,#fac69a,#fac79d,#fac99f,#facaa1,#facaa3,#facba4,#facca5,#facca6,#facda6)"></i><i style="background:linear-gradient(90deg,#facca5,#facba4,#facba4,#facba3,#facaa2,#fac9a0,#fac89f,#fac79c,#fac69a,#fac497,#f9c293,#f9bf8e,#f9bc88,#f8b780,#f8b175,#f7aa69,#f6a159,#f59647,#f28e37,#ef8425,#e87919,#dd6d10,#c05d0d,#a64f0b,#964609,#924509,#9d4a0a,#b3550c,#d0650e,#e37314,#ed7f1d,#f1892f,#f4923f,#f69c51,#f7a662,#f7ae70,#f8b47b,#f9ba84,#f9be8c,#f9c191,#f9c395,#fac599,#fac69b,#fac89e,#fac99f,#facaa1,#facaa2,#facba3,#facba4,#facca5)"></i><i style="background:linear-gradient(90deg,#facba4,#facba3,#facaa2,#facaa1,#fac9a0,#fac89e,#fac79d,#fac69b,#fac598,#f9c395,#f9c191,#f9be8c,#f9ba85,#f8b57d,#f8af73,#f7a866,#f69f56,#f59544,#f28d35,#ef8323,#e77818,#dc6c0f,#be5c0d,#a64e0a,#964609,#924509,#9d490a,#b1550b,#ce640e,#e27214,#ec7e1c,#f1882d,#f4913d,#f59b4e,#f6a45f,#f7ac6d,#f8b379,#f8b882,#f9bc89,#f9c08f,#f9c293,#fac497,#fac599,#fac79c,#fac89e,#fac99f,#fac9a1,#facaa2,#facaa3,#facba3)"></i><i style="background:linear-gradient(90deg,#facaa2,#facaa1,#fac9a0,#fac99f,#fac89e,#fac79d,#fac69b,#fac599,#fac396,#f9c293,#f9bf8f,#f9bc89,#f8b882,#f8b37a,#f7ad6f,#f7a662,#f69d52,#f49341,#f18b31,#ee811f,#e57516,#d7690f,#b8580c,#a04b0a,#914409,#8e4309,#984709,#ac520b,#c8610d,#e07012,#ea7c1b,#f08629,#f38f3a,#f5984a,#f6a25b,#f7aa6a,#f8b175,#f8b67f,#f9bb87,#f9be8d,#f9c191,#f9c395,#fac497,#fac69a,#fac79c,#fac89e,#fac89f,#fac9a0,#facaa1,#facaa2)"></i><i style="background:linear-gradient(90deg,#fac9a0,#fac9a0,#fac89f,#fac89e,#fac79c,#fac69b,#fac599,#fac496,#f9c294,#f9c090,#f9be8c,#f9bb86,#f8b77f,#f8b176,#f7ab6b,#f6a35d,#f59a4d,#f3913d,#f1882d,#ec7e1c,#e27314,#cf650e,#b2550c,#9c490a,#8e4309,#8c4208,#944609,#a74f0b,#c15d0d,#dd6d10,#e77919,#ef8425,#f28d36,#f59545,#f6a057,#f7a866,#f7af72,#f8b57c,#f9b983,#f9bd8a,#f9c08f,#f9c292,#f9c395,#fac598,#fac69a,#fac79c,#fac79d,#fac89e,#fac99f,#fac9a0)"></i><i style="background:linear-gradient(90deg,#fac89f,#fac89e,#fac79d,#fac79c,#fac69a,#fac599,#fac497,#f9c394,#f9c191,#f9bf8e,#f9bc89,#f8b983,#f8b57b,#f8af72,#f7a966,#f6a058,#f59747,#f38e38,#f08528,#e97b1a,#e07012,#c9620d,#af530b,#9b490a,#904309,#8d4209,#954609,#a54e0a,#bc5b0c,#da6b0f,#e57616,#ee8120,#f18a31,#f49341,#f69c51,#f7a561,#f7ad6e,#f8b378,#f8b780,#f9bb87,#f9be8c,#f9c090,#f9c293,#fac396,#fac598,#fac69a,#fac69b,#fac79d,#fac89e,#fac89e)"></i><i style="background:linear-gradient(90deg,#fac79d,#fac79c,#fac69b,#fac69a,#fac599,#fac497,#f9c395,#f9c192,#f9c08f,#f9be8b,#f9bb86,#f8b77f,#f8b277,#f7ad6d,#f7a561,#f69d52,#f49441,#f28b32,#ef8221,#e67718,#dd6d10,#c25e0d,#ab510b,#9a480a,#914409,#8f4309,#954609,#a34d0a,#b7580c,#d1660e,#e27314,#ec7d1c,#f0872b,#f3903b,#f5994b,#f6a25b,#f7aa69,#f8b074,#f8b57d,#f9b984,#f9bd8a,#f9bf8e,#f9c191,#f9c294,#fac496,#fac598,#fac59a,#fac69b,#fac79c,#fac79d)"></i><i style="background:linear-gradient(90deg,#fac79b,#fac69b,#fac599,#fac598,#fac497,#f9c395,#f9c293,#f9c090,#f9be8d,#f9bc88,#f8b983,#f8b57c,#f8b073,#f7aa68,#f6a25b,#f5994b,#f3903b,#f0882c,#ec7e1c,#e37315,#d4680e,#ba5a0c,#a74f0b,#994809,#924509,#914409,#964609,#a04b0a,#b1540b,#c9610d,#df6f11,#e87919,#ef8425,#f28d35,#f59544,#f69e55,#f7a763,#f7ae6f,#f8b379,#f8b780,#f9bb86,#f9be8b,#f9c08f,#f9c192,#f9c294,#fac496,#fac498,#fac599,#fac69a,#fac69b)"></i><i style="background:linear-gradient(90deg,#fac69a,#fac599,#fac498,#fac496,#f9c395,#f9c293,#f9c090,#f9bf8e,#f9bd8a,#f9ba85,#f8b67f,#f8b277,#f7ad6e,#f7a662,#f69e54,#f59543,#f28d35,#ef8425,#e87a19,#df6f12,#ca620e,#b4560c,#a44d0a,#9a480a,#964609,#964609,#984709,#9f4b0a,#ac520b,#c05d0d,#da6b0f,#e47516,#ee801e,#f1892e,#f4913e,#f59a4d,#f6a35d,#f7aa6a,#f8b074,#f8b57d,#f8b983,#f9bc88,#f9be8d,#f9c090,#f9c192,#f9c294,#fac396,#fac497,#fac598,#fac599)"></i><i style="background:linear-gradient(90deg,#fac598,#fac497,#fac396,#f9c394,#f9c293,#f9c091,#f9bf8e,#f9bd8b,#f9bb87,#f8b881,#f8b47b,#f8af73,#f7aa68,#f6a25b,#f5994c,#f3913d,#f1892e,#ed7f1d,#e47516,#d96a0f,#bf5c0d,#ac520b,#a04b0a,#9b480a,#994809,#994809,#9a480a,#9e4a0a,#a74f0b,#b7580c,#ce640e,#e07113,#e97b1a,#f08527,#f28e37,#f59545,#f69f56,#f7a764,#f7ae6f,#f8b378,#f8b77f,#f9ba85,#f9bd8a,#f9bf8d,#f9c090,#f9c192,#f9c294,#f9c395,#fac497,#fac498)"></i><i style="background:linear-gradient(90deg,#fac496,#f9c395,#f9c294,#f9c192,#f9c090,#f9bf8e,#f9be8c,#f9bc88,#f8b983,#f8b67d,#f8b276,#f7ac6d,#f7a662,#f69e54,#f59544,#f28d36,#ef8426,#e97b1a,#e07113,#ce640e,#b8580c,#a8500b,#a14b0a,#9f4b0a,#a14b0a,#a14c0a,#a14b0a,#a14b0a,#a54e0a,#b1540b,#c45f0d,#dd6d10,#e67717,#ee811f,#f18a30,#f4923f,#f59a4e,#f6a35d,#f7aa6a,#f8b074,#f8b57b,#f8b882,#f9bb87,#f9bd8b,#f9bf8e,#f9c090,#f9c192,#f9c293,#f9c395,#fac396)"></i><i style="background:linear-gradient(90deg,#f9c394,#f9c293,#f9c192,#f9c090,#f9bf8e,#f9be8c,#f9bc89,#f9ba85,#f8b780,#f8b379,#f7af71,#f7a967,#f6a25b,#f5994c,#f4913e,#f1892f,#ee801f,#e67717,#dd6d10,#c6600d,#b4560c,#a9500b,#a64e0a,#a84f0b,#ac520b,#ad520b,#ab510b,#a84f0b,#a84f0b,#af530b,#bf5c0d,#d5680e,#e27314,#eb7d1b,#f08629,#f38e38,#f59646,#f69f56,#f7a763,#f7ad6e,#f8b277,#f8b67e,#f9b983,#f9bc88,#f9be8b,#f9bf8e,#f9c090,#f9c192,#f9c293,#f9c294)"></i><i style="background:linear-gradient(90deg,#f9c293,#f9c191,#f9c090,#f9bf8e,#f9be8c,#f9bc89,#f9ba86,#f8b881,#f8b57c,#f8b175,#f7ac6c,#f7a561,#f69e54,#f59544,#f28e37,#f08528,#eb7c1b,#e27314,#d6680e,#c05d0d,#b1540b,#aa510b,#ab510b,#b1540b,#b7570c,#b8580c,#b5560c,#af530b,#ac510b,#af530b,#ba590c,#cd640e,#df6f11,#e77818,#ef8221,#f18a31,#f4923f,#f59b4e,#f6a35d,#f7aa69,#f8af72,#f8b47a,#f8b780,#f9ba85,#f9bc89,#f9be8c,#f9bf8e,#f9c090,#f9c191,#f9c292)"></i><i style="background:linear-gradient(90deg,#f9c191,#f9c090,#f9bf8e,#f9be8c,#f9bd8a,#f9bb86,#f8b983,#f8b67e,#f8b278,#f7ae70,#f7a866,#f6a25a,#f5994c,#f4913e,#f18a30,#ee8121,#e77818,#df6f11,#cd640e,#bb5a0c,#b0540b,#ad520b,#b1540b,#b9590c,#c15d0d,#c35e0d,#be5c0d,#b6570c,#b0540b,#b0540b,#b7570c,#c6600d,#db6c0f,#e47415,#ec7e1c,#f0872a,#f38f39,#f59646,#f69f55,#f7a662,#f7ac6d,#f8b175,#f8b57c,#f8b881,#f9ba86,#f9bc89,#f9be8c,#f9bf8e,#f9c08f,#f9c191)"></i><i style="background:linear-gradient(90deg,#f9c08f,#f9bf8e,#f9be8c,#f9bd8a,#f9bb87,#f9b983,#f8b77f,#f8b47a,#f8b073,#f7ab6a,#f6a560,#f69d53,#f59544,#f28e37,#f08629,#ec7d1c,#e37415,#db6b0f,#c6600d,#b7580c,#b0540b,#b0540b,#b7580c,#c25e0d,#ca620e,#cd640e,#c7610d,#be5b0c,#b5570c,#b1540b,#b5560c,#c05d0d,#d3670e,#e07113,#e87a19,#ef8323,#f18b32,#f4923f,#f59a4d,#f6a25b,#f7a967,#f7ae70,#f8b278,#f8b67e,#f8b982,#f9bb86,#f9bc89,#f9be8c,#f9bf8d,#f9bf8f)"></i><i style="background:linear-gradient(90deg,#f9bf8d,#f9be8b,#f9bc89,#f9bb87,#f9b984,#f8b780,#f8b47b,#f8b175,#f7ad6e,#f7a764,#f6a159,#f5994b,#f4913e,#f18a30,#ef8222,#e87919,#e07112,#d2670e,#c05d0d,#b5560c,#b1540b,#b5560c,#be5c0d,#ca620e,#d4680e,#d6690f,#d0650e,#c55f0d,#ba590c,#b4560c,#b4560c,#bc5a0c,#cb630e,#dd6e10,#e57617,#ed7f1d,#f0872b,#f38f39,#f59645,#f69e54,#f7a561,#f7ab6b,#f8b073,#f8b47a,#f8b77f,#f8b983,#f9bb86,#f9bc89,#f9bd8b,#f9be8d)"></i><i style="background:linear-gradient(90deg,#f9bd8b,#f9bc89,#f9bb87,#f9b984,#f8b780,#f8b57c,#f8b277,#f7ae71,#f7aa68,#f6a45e,#f69d52,#f59544,#f28e37,#f0862a,#ec7e1d,#e57616,#dd6d10,#cb630e,#bc5a0c,#b4560c,#b4560c,#bb5a0c,#c7600d,#d4670e,#dd6d0f,#dd6d10,#d96a0f,#cc630e,#bf5c0d,#b7570c,#b4560c,#b9590c,#c6600d,#d96a0f,#e27314,#ea7b1b,#ef8425,#f28c33,#f49340,#f59a4d,#f6a25b,#f7a866,#f7ad6f,#f8b176,#f8b47b,#f8b780,#f8b983,#f9bb86,#f9bc88,#f9bd8a)"></i><i style="background:linear-gradient(90deg,#f9bc88,#f9bb86,#f9b984,#f8b881,#f8b57d,#f8b378,#f8b073,#f7ab6c,#f7a662,#f6a057,#f5984a,#f4913e,#f18a31,#ef8323,#e97a1a,#e17214,#d7690f,#c5600d,#ba590c,#b5570c,#b8580c,#c15d0d,#cf650e,#dc6c0f,#df7012,#e07012,#dd6e10,#d3670e,#c55f0d,#ba590c,#b5570c,#b7580c,#c15d0d,#d2660e,#df7012,#e77818,#ee811f,#f1882d,#f3903a,#f59646,#f69e54,#f6a560,#f7aa6a,#f7af71,#f8b277,#f8b57c,#f8b780,#f9b983,#f9ba86,#f9bc88)"></i><i style="background:linear-gradient(90deg,#f9ba86,#f9b983,#f8b881,#f8b67e,#f8b379,#f8b174,#f7ad6e,#f7a866,#f6a35c,#f69c50,#f59543,#f28e38,#f0872b,#ed7f1d,#e67717,#df6f11,#d0650e,#c15d0d,#b9590c,#b7580c,#bd5b0c,#c9610d,#d7690f,#df6f11,#e27314,#e27314,#e07012,#da6b0f,#cb630e,#bf5c0d,#b7580c,#b7570c,#bd5b0c,#cb630e,#dd6d10,#e47516,#eb7d1c,#f08527,#f28c35,#f49341,#f59a4e,#f6a15a,#f7a764,#f7ac6d,#f8b073,#f8b379,#f8b57d,#f8b780,#f8b983,#f9ba85)"></i><i style="background:linear-gradient(90deg,#f8b983,#f8b881,#f8b67e,#f8b47a,#f8b176,#f7ae70,#f7aa69,#f7a561,#f69f56,#f59849,#f4913e,#f18b31,#ef8324,#ea7b1b,#e37315,#dc6c0f,#ca620e,#be5c0d,#b9590c,#bb5a0c,#c35e0d,#d0650e,#dd6d10,#e17214,#e47516,#e57616,#e27214,#dd6e10,#d1660e,#c35e0d,#ba590c,#b7580c,#bb5a0c,#c6600d,#d7690f,#e17213,#e87a19,#ef8221,#f1892f,#f3903b,#f59647,#f69e54,#f6a45f,#f7a968,#f7ae6f,#f8b175,#f8b47a,#f8b67d,#f8b780,#f8b983)"></i><i style="background:linear-gradient(90deg,#f8b780,#f8b67e,#f8b47b,#f8b277,#f8af72,#f7ac6c,#f7a764,#f6a25b,#f69b4f,#f49443,#f28e38,#f0872b,#ee801e,#e77818,#e07012,#d5680e,#c5600d,#bd5b0c,#bb5a0c,#bf5c0d,#ca620d,#d86a0f,#df7012,#e47516,#e77818,#e77818,#e47516,#df7012,#d7690f,#c8610d,#bd5b0c,#b8580c,#b9590c,#c25d0d,#d0660e,#de6f11,#e57617,#ed7f1d,#f08629,#f28d36,#f49341,#f59a4e,#f6a159,#f7a763,#f7ab6b,#f7af71,#f8b276,#f8b47a,#f8b67d,#f8b780)"></i><i style="background:linear-gradient(90deg,#f8b67e,#f8b47b,#f8b277,#f8b073,#f7ad6e,#f7a967,#f6a45f,#f69e54,#f59748,#f3913d,#f18b32,#ef8425,#eb7c1b,#e47415,#dd6d10,#ce650e,#c25e0d,#bc5b0c,#bd5b0c,#c45f0d,#d0660e,#dd6d10,#e27314,#e67718,#e97a1a,#e97a1a,#e67717,#e17213,#dc6c0f,#cd640e,#c15d0d,#ba590c,#b8580c,#be5c0d,#cb620e,#dc6c0f,#e37315,#ea7b1a,#ef8324,#f18a30,#f3913c,#f59747,#f69e53,#f6a45e,#f7a966,#f7ac6d,#f8b073,#f8b277,#f8b47b,#f8b67d)"></i><i style="background:linear-gradient(90deg,#f8b47b,#f8b278,#f8b074,#f7ae6f,#f7aa69,#f7a662,#f6a159,#f59a4e,#f49442,#f28e38,#f0872c,#ee801f,#e77919,#e17113,#d96a0f,#c9620d,#c05d0d,#bd5b0c,#c15d0d,#ca620e,#d86a0f,#df7012,#e47516,#e87a19,#eb7d1b,#eb7c1b,#e87919,#e37415,#de6e11,#d3670e,#c5600d,#bc5a0c,#b9590c,#bc5a0c,#c6600d,#d5680e,#e07012,#e77818,#ee801e,#f0872b,#f28e37,#f49442,#f59a4d,#f6a159,#f7a662,#f7aa69,#f7ad6f,#f8b074,#f8b278,#f8b47b)"></i><i style="background:linear-gradient(90deg,#f8b278,#f8b175,#f7ae70,#f7ab6b,#f7a865,#f6a35d,#f69d53,#f59747,#f3913d,#f18b32,#ef8426,#eb7d1c,#e47516,#de6f11,#d2670e,#c6600d,#bf5c0d,#bf5c0d,#c6600d,#d1660e,#dd6d10,#e27214,#e67818,#eb7c1b,#ed7f1d,#ec7e1d,#e97b1a,#e57616,#e07012,#d86a0f,#ca620d,#bf5c0d,#ba590c,#ba590c,#c25d0d,#cf650e,#de6e10,#e47516,#eb7d1c,#ef8425,#f18b32,#f3913d,#f59747,#f69d53,#f6a35d,#f7a865,#f7ab6b,#f7ae70,#f8b174,#f8b278)"></i><i style="background:linear-gradient(90deg,#f8b175,#f7af71,#f7ac6d,#f7a967,#f6a560,#f6a057,#f59a4c,#f49442,#f28e37,#f0882c,#ee8120,#e87a19,#e27214,#dc6c0f,#cd640e,#c35e0d,#c05d0d,#c35e0d,#cb630e,#d7690f,#df6f12,#e47516,#e97a1a,#ed7e1d,#ee811f,#ee801e,#eb7d1c,#e77818,#e27214,#dd6d10,#cf650e,#c35e0d,#bb5a0c,#ba590c,#be5c0d,#ca620d,#da6b0f,#e17214,#e87919,#ee8120,#f1882c,#f38e38,#f49442,#f59a4d,#f6a058,#f6a560,#f7a967,#f7ac6d,#f7af71,#f8b175)"></i><i style="background:linear-gradient(90deg,#f8af72,#f7ad6e,#f7aa69,#f7a663,#f6a25b,#f69d52,#f59646,#f3913d,#f28b32,#ef8526,#ec7e1c,#e57717,#df7012,#d6690e,#c9620d,#c25e0d,#c15d0d,#c6600d,#d0650e,#dc6d0f,#e17213,#e67717,#eb7c1b,#ee801f,#ef8222,#ef8221,#ed7f1d,#e87a19,#e47415,#de6f11,#d4680e,#c7600d,#be5b0c,#ba590c,#bc5a0c,#c55f0d,#d3670e,#df6f11,#e57617,#ec7e1c,#f08527,#f28b33,#f4913d,#f59747,#f69d52,#f6a25c,#f7a763,#f7aa69,#f7ad6e,#f8af72)"></i><i style="background:linear-gradient(90deg,#f7ad6f,#f7ab6b,#f7a865,#f6a45f,#f69f56,#f59a4c,#f49442,#f38e38,#f1882d,#ef8222,#e97b1a,#e37415,#dd6d10,#d1660e,#c6600d,#c25d0d,#c35e0d,#ca620d,#d5680e,#de6f11,#e37415,#e87919,#ec7e1d,#ef8222,#ef8425,#ef8324,#ee811f,#ea7c1b,#e57717,#e07113,#da6b0f,#cc630e,#c15d0d,#bb5a0c,#bb5a0c,#c15d0d,#cd640e,#dd6d0f,#e37315,#e97b1a,#ef8222,#f1892e,#f38f39,#f49443,#f59a4d,#f6a057,#f6a45f,#f7a865,#f7ab6b,#f7ad6f)"></i><i style="background:linear-gradient(90deg,#f7ac6c,#f7a967,#f7a661,#f6a25a,#f69d52,#f59747,#f4913e,#f28c34,#f08629,#ed7f1d,#e77818,#e17113,#da6b0f,#cd640e,#c45f0d,#c25e0d,#c5600d,#ce640e,#db6b0f,#e07112,#e57616,#ea7b1a,#ee801e,#ef8424,#f08528,#f08527,#ef8222,#ec7e1c,#e77918,#e27314,#dd6d10,#d1660e,#c45f0d,#bc5b0c,#ba590c,#be5b0c,#c7610d,#d7690f,#e07112,#e67818,#ed7f1d,#f08629,#f28c34,#f4923e,#f59747,#f69d52,#f6a25b,#f7a662,#f7a967,#f7ac6c)"></i><i style="background:linear-gradient(90deg,#f7aa69,#f7a764,#f6a35e,#f69f56,#f59a4d,#f49443,#f38f39,#f1892f,#ef8324,#eb7c1b,#e57516,#df6f11,#d5680e,#c9620d,#c35e0d,#c35e0d,#c9610d,#d3670e,#dd6d10,#e27314,#e77818,#eb7d1c,#ef8221,#f08527,#f0872a,#f08629,#ef8425,#ee801e,#e97b1a,#e47516,#df6f12,#d6690f,#c9610d,#bf5c0d,#ba590c,#bb5a0c,#c35e0d,#d0650e,#de6e10,#e47515,#ea7c1b,#ef8323,#f1892f,#f38f39,#f49443,#f59a4d,#f69f56,#f6a45e,#f7a764,#f7aa69)"></i><i style="background:linear-gradient(90deg,#f7a866,#f7a560,#f6a15a,#f69c51,#f59747,#f4923f,#f28d35,#f0872a,#ee811f,#e87a19,#e27314,#dd6d10,#d0660e,#c7600d,#c35e0d,#c55f0d,#cc630e,#d86a0f,#df6f11,#e47515,#e97a19,#ed7f1d,#ef8324,#f0862a,#f1882d,#f0882c,#f08527,#ee8121,#eb7d1b,#e67717,#e17113,#dc6c0f,#cd640e,#c25e0d,#bb5a0c,#ba590c,#bf5c0d,#ca620e,#da6b0f,#e17213,#e87919,#ee801e,#f0872a,#f28d35,#f4923e,#f59747,#f69c51,#f6a15a,#f6a560,#f7a866)"></i><i style="background:linear-gradient(90deg,#f7a662,#f6a35d,#f69f55,#f59a4d,#f59443,#f3903b,#f18a31,#ef8426,#ec7e1c,#e67717,#e07112,#d96a0f,#cc630e,#c55f0d,#c35e0d,#c7610d,#d0660e,#dc6c0f,#e17113,#e67717,#ea7c1b,#ee811f,#ef8526,#f0882c,#f1892f,#f1892e,#f0872a,#ef8323,#ed7e1d,#e87919,#e37415,#de6e10,#d2670e,#c6600d,#bd5b0c,#ba590c,#bc5b0c,#c55f0d,#d3670e,#df6f11,#e57616,#eb7d1c,#ef8425,#f18a30,#f38f3a,#f49443,#f59a4c,#f69f55,#f6a35c,#f7a662)"></i><i style="background:linear-gradient(90deg,#f6a45f,#f6a159,#f69c51,#f59748,#f4923f,#f28d36,#f0882c,#ef8221,#ea7b1a,#e47415,#de6e11,#d4680e,#c9620d,#c45f0d,#c55f0d,#ca620e,#d5680e,#de6e11,#e37314,#e77918,#ec7e1c,#ef8222,#f08629,#f1892e,#f18a31,#f18a30,#f0882c,#ef8426,#ee801f,#ea7b1a,#e57616,#e07012,#d86a0f,#ca620d,#bf5c0d,#ba590c,#ba590c,#c15d0d,#cd640e,#dc6c0f,#e27314,#e87a19,#ee8120,#f0872b,#f28d36,#f4923f,#f59747,#f69c51,#f6a058,#f6a45f)"></i><i style="background:linear-gradient(90deg,#f6a25b,#f69e55,#f59a4d,#f59544,#f3903b,#f18b32,#f08528,#ed7f1d,#e77818,#e17213,#dc6c0f,#d0650e,#c7600d,#c45f0d,#c6600d,#ce640e,#da6b0f,#e07012,#e47516,#e97b1a,#ee801e,#ef8425,#f0872b,#f18a30,#f28b33,#f28b32,#f1892e,#f08629,#ef8221,#eb7d1c,#e67818,#e17213,#dc6c0f,#ce650e,#c35e0d,#bb5a0c,#b9590c,#bd5b0c,#c7600d,#d6690e,#e07012,#e67717,#ec7e1c,#ef8426,#f18a31,#f3903b,#f49443,#f5994c,#f69e54,#f6a25b)"></i><i style="background:linear-gradient(90deg,#f6a058,#f69c51,#f59748,#f49340,#f28e37,#f1892e,#ef8323,#eb7c1b,#e57616,#df7012,#d76a0f,#cc630e,#c5600d,#c45f0d,#c9620d,#d2670e,#dd6d10,#e17213,#e67717,#eb7c1b,#ee8120,#f08528,#f1892e,#f28b32,#f28c35,#f28c34,#f18a30,#f0872b,#ef8324,#ed7f1d,#e87a19,#e37415,#de6e11,#d4670e,#c6600d,#bd5b0c,#b9590c,#bb5a0c,#c25e0d,#cf650e,#dd6d10,#e37415,#e97b1a,#ef8221,#f0882c,#f28d36,#f4923f,#f59747,#f69c50,#f6a057)"></i><i style="background:linear-gradient(90deg,#f69e54,#f59a4c,#f59544,#f3913c,#f28c33,#f08629,#ee801f,#e87a19,#e37315,#dd6e10,#d3670e,#c9620d,#c55f0d,#c6600d,#cc630e,#d7690f,#de6f11,#e37415,#e87919,#ec7e1d,#ef8323,#f0872a,#f18a30,#f28c34,#f28d36,#f28d36,#f28b32,#f1882d,#f08527,#ee811f,#ea7c1b,#e57617,#e07012,#d96a0f,#cb620e,#c05c0d,#ba590c,#b9590c,#be5c0d,#c9620d,#d96a0f,#e17113,#e77818,#ed7f1d,#f08527,#f18b32,#f3903b,#f49443,#f5994b,#f69e53)"></i><i style="background:linear-gradient(90deg,#f69c50,#f59748,#f49340,#f38e38,#f1892f,#ef8425,#ec7e1c,#e67717,#e07113,#db6b0f,#ce640e,#c6600d,#c45f0d,#c7600d,#cf650e,#db6b0f,#e07012,#e57616,#e97b1a,#ee801e,#ef8425,#f0882c,#f18b31,#f28d35,#f28e37,#f28e37,#f28c34,#f1892f,#f08629,#ef8222,#ec7d1c,#e77818,#e27214,#dd6d0f,#cf650e,#c25e0d,#ba590c,#b8580c,#bb5a0c,#c35f0d,#d1660e,#de6e11,#e47516,#ea7c1b,#ef8222,#f1882d,#f28d36,#f4923f,#f59646,#f69b4f)"></i><i style="background:linear-gradient(90deg,#f5994b,#f59544,#f3913c,#f28c34,#f0872a,#ee8120,#e97b1a,#e37415,#de6e11,#d4680e,#ca620d,#c45f0d,#c45f0d,#c8610d,#d2660e,#dd6d10,#e17213,#e67717,#eb7c1b,#ee8120,#f08527,#f1882d,#f28b32,#f28d36,#f28e38,#f28e37,#f28c34,#f18a30,#f0872a,#ef8324,#ed7f1d,#e87919,#e37415,#de6e11,#d2670e,#c55f0d,#bb5a0c,#b6570c,#b7580c,#be5b0c,#ca620d,#da6b0f,#e17213,#e77818,#ed7f1d,#f08528,#f18b32,#f3903b,#f49442,#f5984a)"></i><i style="background:linear-gradient(90deg,#f59647,#f49340,#f38e38,#f1892f,#ef8425,#ec7e1d,#e77818,#e17213,#dc6c0f,#cf650e,#c6600d,#c25e0d,#c45f0d,#ca620e,#d5680e,#de6e11,#e27314,#e77818,#ec7d1c,#ef8222,#f08628,#f1892e,#f28c33,#f28d36,#f38e38,#f28e38,#f28d35,#f18a31,#f0882c,#ef8425,#ee801e,#e97b1a,#e47516,#df7012,#d6690f,#c8610d,#bd5b0c,#b6570c,#b5560c,#b9590c,#c35e0d,#d2660e,#de6f11,#e47516,#ea7c1b,#ef8222,#f1882d,#f28d36,#f4923e,#f59645)"></i><i style="background:linear-gradient(90deg,#f49443,#f3913c,#f28c34,#f0872b,#ee8121,#ea7b1a,#e47516,#df6f11,#d6690e,#ca620e,#c35e0d,#c15d0d,#c45f0d,#cd630e,#d86a0f,#df6f12,#e47515,#e87a19,#ed7f1d,#ef8323,#f0872a,#f18a2f,#f28c34,#f28e37,#f38e38,#f38e38,#f28d36,#f18b32,#f1882d,#f08527,#ee8120,#ea7c1b,#e67717,#e17113,#da6b0f,#cb630e,#bf5c0d,#b6570c,#b3550c,#b5570c,#bd5b0c,#ca620e,#db6b0f,#e17214,#e77919,#ee7f1e,#f08528,#f18b32,#f38f3a,#f49442)"></i><i style="background:linear-gradient(90deg,#f4923f,#f38e38,#f18a30,#ef8426,#ed7f1d,#e77818,#e27214,#dd6d0f,#d0650e,#c6600d,#c15d0d,#c15d0d,#c6600d,#cf650e,#dc6c0f,#e07113,#e57616,#ea7b1a,#ee801e,#ef8425,#f0872b,#f18a30,#f28c34,#f28e37,#f38f38,#f38e38,#f28d36,#f28b33,#f1892e,#f08628,#ef8221,#ec7d1c,#e77818,#e27214,#dd6d10,#cf650e,#c15d0d,#b7580c,#b2550c,#b2550c,#b8580c,#c35e0d,#d2670e,#df6f11,#e57616,#eb7c1b,#ef8323,#f1882d,#f28d36,#f4913e)"></i><i style="background:linear-gradient(90deg,#f3903c,#f28c34,#f0872b,#ef8221,#ea7c1b,#e57616,#df7012,#d7690f,#cb620e,#c25e0d,#bf5c0d,#c15d0d,#c8610d,#d2670e,#dd6d10,#e27214,#e67717,#eb7c1b,#ee8120,#ef8526,#f0882c,#f18a31,#f28d35,#f28e37,#f38f39,#f38e38,#f28d36,#f28c33,#f1892f,#f0862a,#ef8323,#ed7f1d,#e87919,#e37415,#de6e11,#d3670e,#c45f0d,#b9590c,#b2550b,#b0540b,#b4560c,#bd5b0c,#cb620e,#dc6c0f,#e27214,#e87919,#ee801e,#f08528,#f18b31,#f38f3a)"></i><i style="background:linear-gradient(90deg,#f38e38,#f18a30,#f08527,#ed7f1d,#e87919,#e27314,#dd6d10,#d1660e,#c6600d,#bf5c0d,#be5c0d,#c25e0d,#ca620d,#d6680e,#de6f11,#e37415,#e77918,#ec7e1c,#ef8221,#f08528,#f1882d,#f18b32,#f28d35,#f28e38,#f38f39,#f38e38,#f28e37,#f28c34,#f18a30,#f0872b,#ef8425,#ee801e,#e97b1a,#e47516,#df7012,#d7690f,#c8610d,#bb5a0c,#b2550c,#ae530b,#b0540b,#b7580c,#c35e0d,#d3670e,#df6f11,#e57616,#eb7d1b,#ef8323,#f1882d,#f28d35)"></i><i style="background:linear-gradient(90deg,#f28c34,#f0872b,#ef8222,#eb7c1b,#e57617,#e07012,#d96a0f,#cb630e,#c25e0d,#bd5b0c,#be5b0c,#c35e0d,#cd640e,#d96a0f,#df7012,#e47516,#e97a19,#ed7f1d,#ef8323,#f08629,#f1892e,#f28b32,#f28d36,#f28e38,#f38f39,#f38e38,#f28e37,#f28c34,#f18a30,#f0882c,#ef8426,#ee811f,#ea7c1b,#e67717,#e17113,#db6c0f,#cb630e,#be5b0c,#b3560c,#ae520b,#ad520b,#b2550c,#bc5b0c,#cb630e,#dc6c0f,#e27314,#e87919,#ee801e,#f08528,#f18a31)"></i><i style="background:linear-gradient(90deg,#f18a30,#f08527,#ee801e,#e87a19,#e37415,#de6e10,#d2670e,#c6600d,#bf5c0d,#bc5a0c,#be5c0d,#c55f0d,#d0650e,#dc6c0f,#e17113,#e57617,#ea7b1a,#ee801e,#ef8324,#f0872a,#f1892f,#f28b33,#f28d36,#f28e38,#f38f39,#f38e38,#f28e37,#f28c34,#f18a31,#f1882d,#f08527,#ef8221,#ec7d1c,#e77818,#e27314,#dd6d10,#cf650e,#c15d0d,#b5570c,#ad520b,#ab510b,#ae530b,#b6570c,#c35e0d,#d4680e,#df7012,#e57617,#eb7d1c,#ef8323,#f1882c)"></i><i style="background:linear-gradient(90deg,#f0882c,#ef8323,#eb7d1c,#e67717,#e07113,#da6b0f,#cc630e,#c25e0d,#bc5a0c,#bb5a0c,#bf5c0d,#c7610d,#d3670e,#dd6e10,#e27314,#e67818,#eb7c1b,#ee811f,#ef8426,#f0872b,#f18a30,#f28c33,#f28d36,#f28e38,#f38f38,#f38e38,#f28e37,#f28c35,#f18b32,#f1892e,#f08628,#ef8222,#ed7e1d,#e87a19,#e37415,#de6f11,#d3670e,#c45f0d,#b7580c,#ae530b,#aa500b,#ab510b,#b1540b,#bc5b0c,#cc630e,#dc6d0f,#e27314,#e87a19,#ee801e,#f08528)"></i><i style="background:linear-gradient(90deg,#f08527,#ee801e,#e97a1a,#e37415,#de6e11,#d4670e,#c7600d,#be5c0d,#ba590c,#bb5a0c,#c05d0d,#ca620d,#d6690f,#df6f11,#e37415,#e87919,#ec7d1c,#ee8221,#f08527,#f0882c,#f18a30,#f28c33,#f28d36,#f28e38,#f38e38,#f38e38,#f28e37,#f28d35,#f18b32,#f1892e,#f0862a,#ef8324,#ed7f1e,#e97b1a,#e57616,#e07012,#d86a0f,#c8610d,#ba590c,#af530b,#a9500b,#a84f0b,#ac520b,#b6570c,#c45f0d,#d5680e,#df7012,#e57617,#eb7d1c,#ef8323)"></i><i style="background:linear-gradient(90deg,#ef8323,#ec7e1c,#e67818,#e17213,#dc6c0f,#cd640e,#c25e0d,#bb5a0c,#b8580c,#bb5a0c,#c25e0d,#cc630e,#da6b0f,#e07012,#e47516,#e97a1a,#ed7f1d,#ef8222,#f08628,#f1882d,#f18a31,#f28c34,#f28d36,#f28e37,#f38e38,#f38e38,#f28e37,#f28d35,#f28b32,#f1892f,#f0872a,#ef8425,#ee801f,#ea7c1b,#e67717,#e17113,#db6c0f,#cb630e,#bc5a0c,#b0540b,#a8500b,#a54e0a,#a84f0b,#b0540b,#bc5a0c,#cc630e,#dd6d10,#e37315,#e97a19,#ee801e)"></i><i style="background:linear-gradient(90deg,#ee811f,#ea7b1a,#e47516,#df6f11,#d5680e,#c8610d,#bd5b0c,#b8580c,#b7580c,#bb5a0c,#c45f0d,#cf650e,#dc6c0f,#e17113,#e57617,#ea7b1a,#ee801e,#ef8324,#f08629,#f1892e,#f18b31,#f28c34,#f28d36,#f28e37,#f38e38,#f28e38,#f28e37,#f28d35,#f28b32,#f18a2f,#f0872b,#ef8426,#ee8120,#eb7d1c,#e77818,#e27314,#dd6d10,#ce640e,#bf5c0d,#b1550b,#a84f0b,#a34d0a,#a44d0a,#aa500b,#b5570c,#c45f0d,#d6690f,#e07012,#e67717,#ec7d1c)"></i><i style="background:linear-gradient(90deg,#ed7e1d,#e77818,#e27314,#dd6d10,#cf650e,#c25e0d,#ba590c,#b6570c,#b7570c,#bc5b0c,#c6600d,#d2670e,#dd6e10,#e27314,#e67818,#eb7c1b,#ee801f,#ef8425,#f0872a,#f1892e,#f18b32,#f28c34,#f28d36,#f28e37,#f28e37,#f28e37,#f28d36,#f28d35,#f28b33,#f18a30,#f0882c,#f08527,#ef8221,#ec7e1c,#e87919,#e37415,#de6e11,#d2660e,#c15d0d,#b3560c,#a8500b,#a24c0a,#a14b0a,#a54e0a,#ae530b,#bc5b0c,#cd640e,#dd6d10,#e37415,#e97b1a)"></i><i style="background:linear-gradient(90deg,#ea7c1b,#e57616,#e07012,#d7690f,#c9610d,#bd5b0c,#b6570c,#b4560c,#b7570c,#be5b0c,#c8610d,#d6690e,#df6f11,#e37415,#e87919,#ec7d1c,#ee8120,#ef8426,#f0872b,#f1892f,#f18b32,#f28c34,#f28d36,#f28e37,#f28e37,#f28e37,#f28d36,#f28d35,#f28b33,#f18a30,#f1882d,#f08628,#ef8323,#ed7f1d,#e97a1a,#e47516,#df7012,#d5680e,#c55f0d,#b5570c,#a9500b,#a14c0a,#9e4a0a,#a04b0a,#a84f0b,#b5560c,#c55f0d,#d86a0f,#e17113,#e77818)"></i><i style="background:linear-gradient(90deg,#e87919,#e37315,#dd6e10,#d1660e,#c35e0d,#b9590c,#b3560c,#b3550c,#b7580c,#c05c0d,#cb630e,#d96a0f,#e07012,#e47516,#e97a19,#ed7e1d,#ef8222,#f08527,#f0882c,#f18a2f,#f28b32,#f28c34,#f28d36,#f28d36,#f28e37,#f28e37,#f28d36,#f28c35,#f28b33,#f18a30,#f1882d,#f08629,#ef8324,#ee801e,#ea7b1a,#e57617,#e07113,#d96a0f,#c8610d,#b8580c,#ab510b,#a14c0a,#9c490a,#9c490a,#a24c0a,#ae520b,#bd5b0c,#cf650e,#de6e11,#e47516)"></i><i style="height:1px;background:linear-gradient(90deg,#e67718,#e17113,#db6c0f,#cc630e,#bf5c0d,#b6570c,#b2550b,#b2550c,#b8580c,#c15d0d,#ce640e,#dc6c0f,#e17113,#e57617,#e97b1a,#ed7f1d,#ef8323,#f08528,#f0882c,#f18a30,#f28b32,#f28c34,#f28d35,#f28d36,#f28d37,#f28d36,#f28d36,#f28c34,#f28b33,#f18a30,#f1882d,#f08629,#ef8425,#ee801f,#ea7c1b,#e67717,#e17213,#dc6c0f,#cb620e,#ba590c,#ac520b,#a14c0a,#9a480a,#994809,#9e4a0a,#a9500b,#b7580c,#c8610d,#dc6c0f,#e27214)"></i></div>
<div class="m" style="left:166px;top:3px;width:98px;height:220px"><i style="background:linear-gradient(90deg,#fffaf6,#fffaf6,#fffaf6,#fffaf6,#fffaf6,#fffaf6,#fffaf6,#fffaf6,#fffaf6,#fffaf6,#fffaf6,#fffaf6,#fffaf6,#fffaf6,#fffaf6,#fffaf6,#fffaf6,#fffaf6,#fffaf6,#fffaf6,#fffaf6,#fffaf6,#fffaf6,#fffaf6,#fffaf6,#fffaf6,#fffaf6,#fffaf6,#fffaf6,#fffaf6,#fffaf6,#fffaf6,#fffaf6,#fffaf6,#fffaf6,#fffaf6,#fffaf6,#fffaf6,#fffaf6,#fffaf6,#fffaf6,#fffaf6,#fffaf6,#fffaf6,#fffaf6,#fffaf6,#fffaf6,#fffaf6,#fffaf6,#fffaf6)"></i><i style="background:linear-gradient(90deg,#fffaf6,#fffaf6,#fffaf6,#fffaf6,#fffaf6,#fffaf6,#fffaf6,#fffaf6,#fffaf6,#fffaf6,#fffaf6,#fffaf6,#fffaf6,#fffaf6,#fffaf6,#fffaf6,#fffaf6,#fffaf6,#fffaf6,#fffaf6,#fffaf6,#fffaf6,#fffaf6,#fffaf6,#fffaf6,#fffaf6,#fffaf6,#fffaf6,#fffaf6,#fffaf6,#fffaf6,#fffaf6,#fffaf6,#fffaf6,#fffaf6,#fffaf6,#fffaf6,#fffaf6,#fffaf6,#fffaf6,#fffaf6,#fffaf6,#fffaf6,#fffaf6,#fffaf6,#fffaf6,#fffaf6,#fffaf6,#fffaf6,#fffaf6)"></i><i style="background:linear-gradient(90deg,#fffaf6,#fffaf6,#fffaf6,#fffaf6,#fffaf6,#fffaf6,#fffaf6,#fffaf6,#fffaf6,#fffaf6,#fffaf6,#fffaf6,#fffaf6,#fffaf6,#fffaf6,#fffaf6,#fffaf6,#fffaf6,#fffaf6,#fffaf6,#fffaf6,#fffaf6,#fffaf6,#fffaf6,#fffaf6,#fffaf6,#fffaf6,#fffaf6,#fffaf6,#fffaf6,#fffaf6,#fffaf6,#fffaf6,#fffaf6,#fffaf6,#fffaf6,#fffaf6,#fffaf6,#fffaf6,#fffaf6,#fffaf6,#fffaf6,#fffaf6,#fffaf6,#fffaf6,#fffaf6,#fffaf6,#fffaf6,#fffaf6,#fffaf6)"></i><i style="background:linear-gradient(90deg,#fffaf6,#fffaf6,#fffaf6,#fffaf6,#fffaf6,#fffaf6,#fffaf6,#fffaf6,#fffaf6,#fffaf6,#fffaf6,#fffaf6,#fffaf6,#fffaf6,#fffaf6,#fffaf6,#fffaf6,#fffaf6,#fffaf6,#fffaf6,#fffaf6,#fffaf6,#fffaf6,#fffaf6,#fffaf6,#fffaf6,#fffaf6,#fffaf6,#fffaf6,#fffaf6,#fffaf6,#fffaf6,#fffaf6,#fffaf6,#fffaf6,#fffaf6,#fffaf6,#fffaf6,#fffaf6,#fffaf6,#fffaf6,#fffaf6,#fffaf6,#fffaf6,#fffaf6,#fffaf6,#fffaf6,#fffaf6,#fffaf6,#fffaf6)"></i><i style="background:linear-gradient(90deg,#fffaf6,#fffaf6,#fffaf6,#fffaf6,#fffaf6,#fffaf6,#fffaf6,#fffaf6,#fffaf6,#fffaf6,#fffaf6,#fffaf6,#fffaf6,#fffaf6,#fffaf6,#fffaf6,#fffaf6,#fffaf6,#fffaf6,#fffaf6,#fffaf6,#fffaf6,#fffaf6,#fffaf6,#fffaf6,#fffaf6,#fffaf6,#fffaf6,#fffaf6,#fffaf6,#fffaf6,#fffaf6,#fffaf6,#fffaf6,#fffaf6,#fffaf6,#fffaf6,#fffaf6,#fffaf6,#fffaf6,#fffaf6,#fffaf6,#fffaf6,#fffaf6,#fffaf6,#fffaf6,#fffaf6,#fffaf6,#fffaf6,#fffaf6)"></i><i style="background:linear-gradient(90deg,#fffaf6,#fffaf6,#fffaf6,#fffaf6,#fffaf6,#fffaf6,#fffaf6,#fffaf6,#fffaf6,#fffaf6,#fffaf6,#fffaf6,#fffaf6,#fffaf6,#fffaf6,#fffaf6,#fffaf6,#fffaf6,#fffaf6,#fffaf6,#fffaf6,#fffaf6,#fffaf6,#fffaf6,#fffaf6,#fffaf6,#fffaf6,#fffaf6,#fffaf6,#fffaf6,#fffaf6,#fffaf6,#fffaf6,#fffaf6,#fffaf6,#fffaf6,#fffaf6,#fffaf6,#fffaf6,#fffaf6,#fffaf6,#fffaf6,#fffaf6,#fffaf6,#fffaf6,#fffaf6,#fffaf6,#fffaf6,#fffaf6,#fffaf6)"></i><i style="background:linear-gradient(90deg,#fffaf6,#fffaf6,#fffaf6,#fffaf6,#fffaf6,#fffaf6,#fffaf6,#fffaf6,#fffaf6,#fffaf6,#fffaf6,#fffaf6,#fffaf6,#fffaf6,#fffaf6,#fffaf6,#fffaf6,#fffaf6,#fffaf6,#fffaf6,#fffaf6,#fffaf6,#fffaf6,#fffaf6,#fffaf6,#fffaf6,#fffaf6,#fffaf6,#fffaf6,#fffaf6,#fffaf6,#fffaf6,#fffaf6,#fffaf6,#fffaf6,#fffaf6,#fffaf6,#fffaf6,#fffaf6,#fffaf6,#fffaf6,#fffaf6,#fffaf6,#fffaf6,#fffaf6,#fffaf6,#fffaf6,#fffaf6,#fffaf6,#fffaf6)"></i><i style="background:linear-gradient(90deg,#fffaf6,#fffaf6,#fffaf6,#fffaf6,#fffaf6,#fffaf6,#fffaf6,#fffaf6,#fffaf6,#fffaf6,#fffaf6,#fffaf6,#fffaf6,#fffaf6,#fffaf6,#fffaf6,#fffaf6,#fffaf6,#fffaf6,#fffaf6,#fffaf6,#fffaf6,#fffaf6,#fffaf6,#fffaf6,#fffaf6,#fffaf6,#fffaf6,#fffaf6,#fffaf6,#fffaf6,#fffaf6,#fffaf6,#fffaf6,#fffaf6,#fffaf6,#fffaf6,#fffaf6,#fffaf6,#fffaf6,#fffaf6,#fffaf6,#fffaf6,#fffaf6,#fffaf6,#fffaf6,#fffaf6,#fffaf6,#fffaf6,#fffaf6)"></i><i style="background:linear-gradient(90deg,#fffaf6,#fffaf6,#fffaf6,#fffaf6,#fffaf6,#fffaf6,#fffaf6,#fffaf6,#fffaf6,#fffaf6,#fffaf6,#fffaf6,#fffaf6,#fffaf6,#fffaf6,#fffaf6,#fffaf6,#fffaf6,#fffaf6,#fffaf6,#fffaf6,#fffaf6,#fffaf6,#fffaf6,#fffaf6,#fffaf6,#fffaf6,#fffaf6,#fffaf6,#fffaf6,#fffaf6,#fffaf6,#fffaf6,#fffaf6,#fffaf6,#fffaf6,#fffaf6,#fffaf6,#fffaf6,#fffaf6,#fffaf6,#fffaf6,#fffaf6,#fffaf6,#fffaf6,#fffaf6,#fffaf6,#fffaf6,#fffaf6,#fffaf6)"></i><i style="background:linear-gradient(90deg,#fffaf6,#fffaf6,#fffaf6,#fffaf6,#fffaf6,#fffaf6,#fffaf6,#fffaf6,#fffaf6,#fffaf6,#fffaf6,#fffaf6,#fffaf6,#fffaf6,#fffaf6,#fffaf6,#fffaf6,#fffaf6,#fffaf6,#fffaf6,#fffaf6,#fffaf6,#fffaf6,#fffaf6,#fffaf6,#fffaf6,#fffaf6,#fffaf6,#fffaf6,#fffaf6,#fffaf6,#fffaf6,#fffaf6,#fffaf6,#fffaf6,#fffaf6,#fffaf6,#fffaf6,#fffaf6,#fffaf6,#fffaf6,#fffaf6,#fffaf6,#fffaf6,#fffaf6,#fffaf6,#fffaf6,#fffaf6,#fffaf6,#fffaf6)"></i><i style="background:linear-gradient(90deg,#fffaf6,#fffaf6,#fffaf6,#fffaf6,#fffaf6,#fffaf6,#fffaf6,#fffaf6,#fffaf6,#fffaf6,#fffaf6,#fffaf6,#fffaf6,#fffaf6,#fffaf6,#fffaf6,#fffaf6,#fffaf6,#fffaf6,#fffaf6,#fffaf6,#fffaf6,#fffaf6,#fffaf6,#fffaf6,#fffaf6,#fffaf6,#fffaf6,#fffaf6,#fffaf6,#fffaf6,#fffaf6,#fffaf6,#fffaf6,#fffaf6,#fffaf6,#fffaf6,#fffaf6,#fffaf6,#fffaf6,#fffaf6,#fffaf6,#fffaf6,#fffaf6,#fffaf6,#fffaf6,#fffaf6,#fffaf6,#fffaf6,#fffaf6)"></i><i style="background:linear-gradient(90deg,#fffaf6,#fffaf6,#fffaf6,#fffaf6,#fffaf6,#fffaf6,#fffaf6,#fffaf6,#fffaf6,#fffaf6,#fffaf6,#fffaf6,#fffaf6,#fffaf6,#fffaf6,#fffaf6,#fffaf6,#fffaf6,#fffaf6,#fffaf6,#fffaf6,#fffaf6,#fffaf6,#fffaf6,#fffaf6,#fffaf6,#fffaf6,#fffaf6,#fffaf6,#fffaf6,#fffaf6,#fffaf6,#fffaf6,#fffaf6,#fffaf6,#fffaf6,#fffaf6,#fffaf6,#fffaf6,#fffaf6,#fffaf6,#fffaf6,#fffaf6,#fffaf6,#fffaf6,#fffaf6,#fffaf6,#fffaf6,#fffaf6,#fffaf6)"></i><i style="background:linear-gradient(90deg,#fffaf6,#fffaf6,#fffaf6,#fffaf6,#fffaf6,#fffaf6,#fffaf6,#fffaf6,#fffaf6,#fffaf5,#fff9f5,#fff9f5,#fff9f5,#fffaf5,#fffaf5,#fffaf6,#fffaf6,#fffaf6,#fffaf6,#fffaf6,#fffaf6,#fffaf6,#fffaf6,#fffaf6,#fffaf6,#fffaf6,#fffaf6,#fffaf6,#fffaf6,#fffaf6,#fffaf6,#fffaf6,#fffaf6,#fffaf6,#fffaf6,#fffaf5,#fff9f5,#fff9f5,#fff9f5,#fff9f5,#fffaf5,#fffaf6,#fffaf6,#fffaf6,#fffaf6,#fffaf6,#fffaf6,#fffaf6,#fffaf6,#fffaf6)"></i><i style="height:1px;background:linear-gradient(90deg,#fffaf6,#fffaf6,#fffaf6,#fffaf5,#fffaf5,#fffaf5,#fff9f5,#fff9f5,#fff9f5,#fff9f4,#fff9f4,#fff9f4,#fff9f4,#fff9f4,#fff9f4,#fff9f5,#fff9f5,#fff9f5,#fff9f5,#fff9f5,#fff9f5,#fff9f5,#fff9f5,#fff9f5,#fff9f5,#fff9f5,#fff9f5,#fff9f5,#fff9f5,#fff9f5,#fff9f5,#fff9f5,#fff9f5,#fff9f5,#fff9f5,#fff9f4,#fff9f4,#fff9f4,#fff9f4,#fff9f4,#fff9f4,#fff9f5,#fff9f5,#fff9f5,#fffaf5,#fffaf5,#fffaf5,#fffaf6,#fffaf6,#fffaf6)"></i><i style="height:1px;background:linear-gradient(90deg,#fff9f5,#fff9f5,#fff9f5,#fff9f5,#fff9f5,#fff9f5,#fff9f5,#fff9f4,#fff9f4,#fef8f3,#fef8f3,#fef8f2,#fef8f2,#fef8f3,#fef8f3,#fff9f4,#fff9f4,#fff9f4,#fff9f4,#fff9f4,#fff9f4,#fff9f4,#fff9f4,#fff9f4,#fff9f4,#fff9f4,#fff9f4,#fff9f4,#fff9f4,#fff9f4,#fff9f4,#fff9f4,#fff9f4,#fff9f4,#fef8f3,#fef8f3,#fef8f2,#fef8f2,#fef8f2,#fef8f2,#fef8f3,#fff9f4,#fff9f4,#fff9f5,#fff9f5,#fff9f5,#fff9f5,#fff9f5,#fff9f5,#fff9f5)"></i><i style="height:1px;background:linear-gradient(90deg,#fff9f4,#fff9f4,#fff9f4,#fff9f4,#fff9f4,#fff9f4,#fef8f3,#fef8f3,#fef8f2,#fef7f1,#fef7f0,#fef6f0,#fef6f0,#fef7f0,#fef7f1,#fef8f2,#fef8f2,#fef8f2,#fef8f3,#fef8f3,#fef8f3,#fef8f3,#fef8f2,#fef8f2,#fef8f2,#fef8f2,#fef8f2,#fef8f2,#fef8f2,#fef8f3,#fef8f3,#fef8f3,#fef8f2,#fef8f2,#fef7f2,#fef7f1,#fef6f0,#fef6ef,#fef6ef,#fef6f0,#fef7f1,#fef8f2,#fef8f3,#fef8f3,#fff9f4,#fff9f4,#fff9f4,#fff9f4,#fff9f4,#fff9f4)"></i><i style="height:1px;background:linear-gradient(90deg,#fef8f3,#fef8f3,#fef8f3,#fef8f3,#fef8f2,#fef8f2,#fef7f2,#fef7f1,#fef6ef,#fef5ee,#fef4ec,#fef4eb,#fef4ec,#fef5ed,#fef5ee,#fef6ef,#fef6f0,#fef7f0,#fef7f0,#fef7f0,#fef7f0,#fef7f0,#fef7f0,#fef7f0,#fef7f0,#fef7f0,#fef7f0,#fef7f0,#fef7f0,#fef7f0,#fef7f0,#fef7f0,#fef7f0,#fef6f0,#fef6ef,#fef5ed,#fef4ec,#fef4eb,#fef4eb,#fef4ec,#fef5ed,#fef6ef,#fef7f1,#fef7f1,#fef8f2,#fef8f2,#fef8f3,#fef8f3,#fef8f3,#fef8f3)"></i><i style="height:1px;background:linear-gradient(90deg,#fef7f1,#fef7f1,#fef7f1,#fef7f0,#fef7f0,#fef6f0,#fef6ef,#fef5ed,#fef4eb,#fef3e9,#fef1e6,#fef0e5,#fef0e5,#fef1e7,#fef2e9,#fef3eb,#fef4ec,#fef4ec,#fef5ed,#fef5ed,#fef5ed,#fef5ec,#fef5ec,#fef4ec,#fef4ec,#fef4ec,#fef4ec,#fef4ec,#fef5ec,#fef5ed,#fef5ed,#fef5ed,#fef4ec,#fef4ec,#fef3ea,#fef2e8,#fef1e6,#fef0e4,#fef0e4,#fef1e6,#fef2e8,#fef4eb,#fef5ed,#fef6ef,#fef6ef,#fef7f0,#fef7f0,#fef7f1,#fef7f1,#fef7f1)"></i><i style="height:1px;background:linear-gradient(90deg,#fef5ee,#fef5ee,#fef5ed,#fef5ed,#fef5ed,#fef4ec,#fef3eb,#fef2e8,#fef0e5,#feeee2,#fdecde,#fdebdc,#fdebdc,#fdecde,#feeee1,#fef0e4,#fef1e6,#fef1e7,#fef2e7,#fef2e7,#fef2e7,#fef1e7,#fef1e7,#fef1e7,#fef1e7,#fef1e7,#fef1e7,#fef1e7,#fef1e7,#fef1e7,#fef2e7,#fef1e7,#fef1e7,#fef1e6,#feefe4,#feeee1,#fdebdd,#fdeada,#fdeada,#fdebdc,#feeee0,#fef0e5,#fef2e8,#fef3ea,#fef4ec,#fef5ec,#fef5ed,#fef5ed,#fef5ee,#fef5ee)"></i><i style="height:1px;background:linear-gradient(90deg,#fef3ea,#fef3e9,#fef3e9,#fef2e8,#fef2e8,#fef1e6,#fef0e5,#feeee2,#fdecdd,#fde8d7,#fde5d2,#fce3ce,#fde3cf,#fde5d2,#fde8d7,#fdeadb,#fdecde,#fdeddf,#feede0,#feede0,#feede0,#fdeddf,#fdeddf,#fdeddf,#fdeddf,#fdeddf,#fdeddf,#fdeddf,#fdeddf,#fdeddf,#feede0,#fdeddf,#fdeddf,#fdecdd,#fdeada,#fde7d6,#fde4d0,#fce2cc,#fce1cc,#fde3cf,#fde7d6,#fdebdc,#feeee1,#fef0e4,#fef1e6,#fef2e7,#fef2e8,#fef2e9,#fef3e9,#fef3ea)"></i><i style="height:1px;background:linear-gradient(90deg,#fef0e4,#feefe4,#feefe3,#feefe2,#feeee1,#feede0,#fdebdd,#fde9d8,#fde5d2,#fce0ca,#fcdbc0,#fbd7b9,#fbd7ba,#fcdbc1,#fce0c9,#fde3cf,#fde6d3,#fde7d5,#fde7d6,#fde7d6,#fde7d6,#fde7d5,#fde7d5,#fde7d5,#fde7d5,#fde7d5,#fde7d5,#fde7d5,#fde7d5,#fde7d5,#fde7d6,#fde7d5,#fde7d5,#fde5d2,#fce3ce,#fcdfc7,#fcd9bd,#fbd5b5,#fbd4b4,#fbd8bb,#fcdfc7,#fde4d0,#fde8d7,#fdebdc,#fdeddf,#feeee1,#feefe2,#feefe3,#feefe4,#fef0e4)"></i><i style="height:1px;background:linear-gradient(90deg,#fdecde,#fdebdd,#fdebdc,#fdeadb,#fde9da,#fde8d7,#fde6d4,#fce2ce,#fcddc4,#fbd4b5,#facca5,#fac79c,#fac89d,#facda7,#fbd4b4,#fcdabf,#fcdec6,#fce0c9,#fce0ca,#fce0ca,#fce0ca,#fce0c9,#fce0c9,#fce0c9,#fce0c9,#fce0c9,#fce0c9,#fce0c9,#fce0c9,#fce0ca,#fce0ca,#fce0ca,#fcdfc8,#fcddc5,#fcd9bd,#fbd2b0,#facaa2,#fac497,#f9c395,#fac99f,#fbd2b0,#fcdbc1,#fce2cc,#fde6d3,#fde8d7,#fde9d9,#fdeadb,#fdebdc,#fdebdd,#fdecdd)"></i><i style="height:1px;background:linear-gradient(90deg,#fde8d7,#fde7d6,#fde7d5,#fde6d3,#fde5d1,#fde3cf,#fce0ca,#fcdbc1,#fbd3b2,#fac89e,#f9bd8a,#f8b47b,#f8b47b,#f9bd8a,#fac69b,#fbcea9,#fbd3b3,#fbd6b8,#fbd7ba,#fbd7ba,#fbd7ba,#fbd7b9,#fbd7b8,#fbd6b8,#fbd6b8,#fbd6b8,#fbd6b8,#fbd6b8,#fbd7b9,#fbd7b9,#fbd7ba,#fbd7b9,#fbd6b7,#fbd3b1,#facca6,#fac396,#f8b882,#f7af71,#f7ae70,#f8b780,#fac598,#fbd1ae,#fcdabf,#fce0c9,#fce3ce,#fde4d1,#fde6d3,#fde6d4,#fde7d6,#fde8d6)"></i><i style="height:1px;background:linear-gradient(90deg,#fde4d0,#fde3cf,#fce3ce,#fce2cc,#fce0ca,#fcdfc7,#fcdbc0,#fbd4b5,#facba3,#f9be8b,#f7ad6d,#f6a158,#f69f56,#f7a865,#f8b67d,#f9c292,#fac99f,#facca6,#facea9,#fbcea9,#facea9,#facea8,#facda8,#facda7,#facda7,#facda7,#facda7,#facda7,#facda8,#facea8,#facea9,#facea8,#facca5,#fac89d,#f9c08f,#f8b277,#f6a25c,#f59849,#f5994b,#f7a561,#f8b882,#fac89e,#fbd3b1,#fcdabe,#fcdec6,#fce0ca,#fce1cc,#fce2cd,#fde3cf,#fde4d0)"></i><i style="height:1px;background:linear-gradient(90deg,#fce1cb,#fce0ca,#fcdfc8,#fcdec6,#fcddc3,#fcdabf,#fbd6b7,#fbcfab,#fac497,#f8b47a,#f6a057,#f4923f,#f3903a,#f59646,#f7a560,#f8b47b,#f9bf8e,#fac497,#fac69a,#fac69b,#fac69b,#fac69a,#fac599,#fac599,#fac598,#fac598,#fac598,#fac599,#fac599,#fac69a,#fac69a,#fac599,#f9c395,#f9be8b,#f8b276,#f6a159,#f4913d,#f18a30,#f28c33,#f59748,#f7ad6e,#f9c191,#facda7,#fbd5b5,#fcd9bd,#fcdcc2,#fcdec6,#fcdfc8,#fce0c9,#fce1ca)"></i><i style="height:1px;background:linear-gradient(90deg,#fcdec7,#fcdec5,#fcdcc3,#fcdbc1,#fcd9bd,#fbd7b8,#fbd2b1,#facba4,#f9c090,#f7ad6e,#f59748,#f18a31,#f08629,#f28b33,#f59748,#f7a866,#f8b57c,#f9bd89,#f9bf8f,#f9c090,#f9c090,#f9c08f,#f9bf8e,#f9bf8d,#f9be8d,#f9be8d,#f9bf8d,#f9bf8e,#f9bf8e,#f9c08f,#f9c08f,#f9bf8e,#f9bc88,#f8b47a,#f7a661,#f49442,#f0862a,#ed7f1d,#ef8323,#f3903b,#f7a561,#f9bb87,#fac99f,#fbd1ae,#fbd6b7,#fbd9bc,#fcdbc0,#fcdcc3,#fcddc5,#fcdec6)"></i><i style="height:1px;background:linear-gradient(90deg,#fcdcc3,#fcdbc1,#fcdabf,#fcd9bd,#fbd7b9,#fbd4b4,#fbd0ad,#fac9a0,#f9be8b,#f7aa68,#f49341,#f08527,#ed7f1d,#ef8324,#f38f39,#f69e54,#f7ad6e,#f8b67d,#f9ba85,#f9bb87,#f9bb87,#f9ba86,#f9ba84,#f9b984,#f8b983,#f8b983,#f9b983,#f9b984,#f9ba85,#f9ba86,#f9bb86,#f9b984,#f8b57c,#f7ac6c,#f69c50,#f28c33,#ec7e1c,#e67717,#eb7c1b,#f28b33,#f6a159,#f8b881,#fac69b,#fbcea9,#fbd3b2,#fbd6b8,#fbd8bc,#fcdabe,#fcdbc1,#fcdcc3)"></i><i style="height:1px;background:linear-gradient(90deg,#fcdbc1,#fcdabf,#fcd9bd,#fbd7ba,#fbd5b6,#fbd3b2,#fbcfaa,#fac89e,#f9bc89,#f7a866,#f4923e,#ef8222,#e87a19,#eb7d1c,#f1892e,#f59646,#f7a662,#f8b074,#f8b57d,#f8b780,#f8b780,#f8b67f,#f8b67e,#f8b57d,#f8b57c,#f8b57c,#f8b57c,#f8b57d,#f8b67e,#f8b67f,#f8b67f,#f8b57c,#f8b073,#f7a561,#f59543,#f08528,#e67717,#e07112,#e77818,#f1892f,#f69f55,#f8b67e,#fac598,#facda7,#fbd2b0,#fbd5b5,#fbd7b9,#fbd8bc,#fcdabe,#fcdbc0)"></i><i style="height:1px;background:linear-gradient(90deg,#fcdabf,#fcd9bd,#fbd8bb,#fbd6b8,#fbd5b5,#fbd2b0,#fbcea9,#fac89d,#f9bd89,#f7a967,#f4923e,#ee8120,#e57617,#e77818,#ef8324,#f4913e,#f6a159,#f7ac6d,#f8b277,#f8b47a,#f8b47b,#f8b47a,#f8b379,#f8b378,#f8b277,#f8b277,#f8b278,#f8b378,#f8b379,#f8b47a,#f8b47a,#f8b276,#f7ac6c,#f6a058,#f3903b,#ee801e,#e17113,#dc6c0f,#e57616,#f1882d,#f69e55,#f8b67e,#fac497,#facca6,#fbd1ae,#fbd4b4,#fbd6b7,#fbd7ba,#fcd9bd,#fcdabf)"></i><i style="height:1px;background:linear-gradient(90deg,#fcdabe,#fcd9bc,#fbd8ba,#fbd6b8,#fbd4b4,#fbd2b0,#facea9,#fac89e,#f9be8c,#f7ab6a,#f49341,#ef8221,#e47516,#e47515,#ed7f1d,#f28d36,#f69c50,#f7a866,#f8af72,#f8b276,#f8b277,#f8b276,#f8b175,#f8b175,#f8b074,#f8b074,#f8b074,#f8b175,#f8b176,#f8b277,#f8b176,#f7af72,#f7a866,#f69b4f,#f28c34,#ea7c1b,#dd6e10,#d96a0f,#e57617,#f18a30,#f6a058,#f8b780,#fac598,#facca6,#fbd1ae,#fbd3b3,#fbd5b6,#fbd7b9,#fbd8bc,#fcd9be)"></i><i style="height:1px;background:linear-gradient(90deg,#fcd9be,#fbd8bc,#fbd7ba,#fbd6b7,#fbd4b4,#fbd2b0,#fbcea9,#fac89f,#f9bf8e,#f7ad6f,#f59645,#ef8425,#e57616,#e27314,#ea7b1b,#f1892f,#f59748,#f6a560,#f7ad6e,#f8b073,#f8b174,#f8b074,#f8b073,#f8af72,#f7af72,#f7af72,#f8af72,#f8af73,#f8b073,#f8b074,#f8b073,#f7ad6e,#f7a561,#f59748,#f1882d,#e77818,#da6b0f,#d96a0f,#e77818,#f28c34,#f6a35d,#f8b983,#fac599,#facca6,#fbd1ae,#fbd3b3,#fbd5b6,#fbd7b9,#fbd8bb,#fcd9bd)"></i><i style="height:1px;background:linear-gradient(90deg,#fcd9be,#fbd8bc,#fbd7ba,#fbd6b7,#fbd4b4,#fbd2b0,#fbceaa,#fac9a0,#f9c191,#f8b074,#f5994b,#f08629,#e67717,#e17113,#e77818,#f08629,#f49442,#f6a25a,#f7aa6a,#f7ae70,#f8af72,#f8af72,#f7af71,#f7ae70,#f7ae70,#f7ae70,#f7ae70,#f7ae71,#f7af72,#f8af72,#f7ae70,#f7ab6a,#f6a25b,#f49442,#f08528,#e47515,#d5680e,#db6b0f,#e97b1a,#f38f39,#f7a663,#f9bb87,#fac69b,#facda7,#fbd1ae,#fbd3b3,#fbd5b6,#fbd7b9,#fbd8bb,#fcd9bd)"></i><i style="background:linear-gradient(90deg,#fcd9be,#fbd8bc,#fbd7ba,#fbd6b7,#fbd4b4,#fbd2b0,#fbcfab,#facaa2,#f9c395,#f8b57c,#f69f56,#f18a31,#e87a19,#e07113,#e47515,#ee8120,#f38f3a,#f69d52,#f7a764,#f7ac6d,#f7ae70,#f7ae70,#f7ad6f,#f7ad6e,#f7ad6e,#f7ad6e,#f7ad6e,#f7ad6f,#f7ae6f,#f7ae6f,#f7ac6d,#f7a865,#f69e54,#f3903b,#ee811f,#e07113,#d2660e,#de6e10,#ed7f1d,#f49340,#f7ab6b,#f9be8c,#fac89e,#facea8,#fbd1af,#fbd4b3,#fbd5b6,#fbd7b9,#fbd8bb,#fcd9bd)"></i><i style="background:linear-gradient(90deg,#fcd9be,#fbd9bc,#fbd8ba,#fbd6b8,#fbd5b5,#fbd3b1,#fbd0ad,#facca5,#fac599,#f9ba85,#f7a663,#f3903b,#ed7f1d,#e17214,#e17113,#ea7b1a,#f1892f,#f59646,#f6a25b,#f7a967,#f7ac6c,#f7ac6d,#f7ac6d,#f7ac6c,#f7ab6c,#f7ab6c,#f7ac6c,#f7ac6c,#f7ac6d,#f7ac6c,#f7aa69,#f6a45e,#f5984a,#f18b32,#e97b1a,#dd6d10,#d2670e,#e27214,#f08527,#f59a4d,#f8b176,#f9c192,#fac9a1,#fbcfaa,#fbd2b0,#fbd4b4,#fbd6b7,#fbd7b9,#fbd8bc,#fcd9bd)"></i><i style="background:linear-gradient(90deg,#fcdabe,#fcd9bd,#fbd8bb,#fbd7b9,#fbd5b6,#fbd3b2,#fbd1ae,#facda8,#fac89e,#f9bf8d,#f7ae6f,#f59646,#ef8426,#e47516,#df7012,#e57617,#ef8424,#f3913c,#f69d52,#f7a661,#f7aa68,#f7ab6a,#f7ab6a,#f7ab6a,#f7aa6a,#f7aa6a,#f7ab6a,#f7ab6a,#f7ab6b,#f7aa69,#f7a764,#f6a057,#f49341,#f08628,#e57616,#d7690f,#d86a0f,#e77818,#f28b33,#f6a25a,#f8b780,#fac497,#facba4,#fbcfac,#fbd2b1,#fbd4b5,#fbd6b8,#fbd7ba,#fbd8bc,#fcd9be)"></i><i style="background:linear-gradient(90deg,#fcdabf,#fcd9bd,#fbd8bb,#fbd7b9,#fbd5b7,#fbd4b3,#fbd2af,#fbceaa,#facaa1,#f9c293,#f8b47a,#f69f55,#f18a31,#e87a19,#e07012,#e27214,#ec7e1c,#f28b32,#f59747,#f6a15a,#f7a764,#f7a967,#f7aa68,#f7a968,#f7a968,#f7a968,#f7a968,#f7aa68,#f7aa68,#f7a866,#f6a45f,#f59b4f,#f38f39,#ee801f,#e17113,#d4680e,#de6e11,#ec7e1d,#f4913e,#f7a967,#f9bc88,#fac69b,#facda6,#fbd0ad,#fbd3b2,#fbd5b6,#fbd6b8,#fbd8bb,#fcd9bc,#fcdabe)"></i><i style="background:linear-gradient(90deg,#fcdabf,#fcd9bd,#fbd8bc,#fbd7ba,#fbd6b7,#fbd4b4,#fbd2b1,#fbcfac,#facba4,#fac598,#f9b984,#f7a662,#f3903c,#ed7f1d,#e17213,#df7012,#e77818,#f08628,#f4923f,#f69d52,#f6a45e,#f7a764,#f7a866,#f7a866,#f7a866,#f7a866,#f7a866,#f7a966,#f7a866,#f7a662,#f6a158,#f59645,#f18a30,#ea7b1a,#de6e10,#d6690e,#e27314,#ef8426,#f59849,#f8af72,#f9c08f,#fac89f,#facea9,#fbd1af,#fbd4b3,#fbd5b6,#fbd7b9,#fbd8bb,#fcd9bd,#fcdabe)"></i><i style="background:linear-gradient(90deg,#fcdabf,#fcdabe,#fbd9bc,#fbd8ba,#fbd6b8,#fbd5b5,#fbd3b2,#fbd0ad,#facda7,#fac79c,#f9be8c,#f7ad6e,#f59647,#f08527,#e47516,#df6f11,#e37415,#ee801e,#f28d35,#f59748,#f6a058,#f6a560,#f7a763,#f7a764,#f7a764,#f7a764,#f7a764,#f7a764,#f7a663,#f6a35e,#f69c51,#f4923e,#f08527,#e57617,#db6c0f,#db6c0f,#e77818,#f18a31,#f69f57,#f8b57c,#f9c394,#facaa2,#fbcfab,#fbd2b0,#fbd4b4,#fbd6b7,#fbd7ba,#fbd8bc,#fcd9bd,#fcdabf)"></i><i style="background:linear-gradient(90deg,#fcdabf,#fcdabe,#fcd9bd,#fbd8bb,#fbd7b9,#fbd5b6,#fbd3b3,#fbd1af,#facea9,#fac9a0,#f9c192,#f8b379,#f69e55,#f18b31,#e97a19,#df7012,#e07012,#e97b1a,#f0882c,#f49340,#f69c51,#f6a25b,#f6a560,#f7a661,#f7a662,#f7a662,#f7a662,#f7a662,#f6a45f,#f6a058,#f59849,#f28d36,#ee801e,#e27214,#d86a0f,#de6f11,#ec7e1c,#f3903b,#f7a763,#f9ba85,#fac599,#facca5,#fbd0ac,#fbd3b1,#fbd5b5,#fbd6b8,#fbd7ba,#fbd9bc,#fcd9be,#fcdabf)"></i><i style="background:linear-gradient(90deg,#fcdabf,#fcdabe,#fcd9bd,#fbd8bb,#fbd7b9,#fbd6b7,#fbd4b4,#fbd2b0,#fbcfaa,#facba3,#fac497,#f8b882,#f7a661,#f3903c,#ed7f1d,#e17213,#de6e11,#e47516,#ef8222,#f28e37,#f59748,#f69f55,#f6a25c,#f6a45e,#f6a45f,#f6a560,#f6a560,#f6a45f,#f6a25b,#f69d52,#f49442,#f1892e,#ea7b1a,#df6f11,#d96a0f,#e27314,#ef8324,#f59645,#f7ad6e,#f9be8c,#fac79d,#facda7,#fbd1ae,#fbd3b2,#fbd5b6,#fbd6b8,#fbd8ba,#fbd9bc,#fcd9be,#fcdabf)"></i><i style="background:linear-gradient(90deg,#fcdabf,#fcdabe,#fcd9bd,#fbd8bb,#fbd7ba,#fbd6b7,#fbd4b4,#fbd2b1,#fbd0ac,#facca5,#fac69b,#f9bd8a,#f7ac6d,#f59646,#f08527,#e47516,#de6e10,#e17113,#eb7c1b,#f1892e,#f49340,#f59b4e,#f6a057,#f6a25b,#f6a35d,#f6a35d,#f6a35d,#f6a25b,#f69f56,#f5994b,#f3903b,#ef8425,#e57617,#dc6d0f,#dc6c0f,#e67818,#f1892f,#f69d52,#f8b378,#f9c192,#fac9a0,#facea9,#fbd1af,#fbd4b3,#fbd5b6,#fbd7b9,#fbd8bb,#fcd9bd,#fcdabe,#fcdabf)"></i><i style="background:linear-gradient(90deg,#fcdabf,#fcdabe,#fcd9bd,#fbd8bc,#fbd7ba,#fbd6b8,#fbd5b5,#fbd3b2,#fbd0ad,#facda7,#fac89e,#f9c090,#f8b277,#f69e53,#f18a31,#e87a19,#de6f11,#de6e11,#e67717,#ef8324,#f38e38,#f59646,#f69d52,#f6a057,#f6a15a,#f6a25b,#f6a25a,#f6a058,#f69c51,#f59544,#f28c33,#ed7f1e,#e27214,#da6b0f,#df6f11,#eb7d1c,#f38f39,#f6a45f,#f8b881,#fac496,#facba3,#fbcfab,#fbd2b0,#fbd4b4,#fbd6b7,#fbd7b9,#fbd8bb,#fcd9bd,#fcdabe,#fcdabf)"></i><i style="background:linear-gradient(90deg,#fcdabf,#fcdabe,#fcd9bd,#fbd8bc,#fbd8ba,#fbd6b8,#fbd5b6,#fbd3b2,#fbd1ae,#facea9,#facaa1,#f9c395,#f8b780,#f6a560,#f3903b,#ed7f1d,#e07113,#dc6c0f,#e27214,#ec7e1c,#f1892f,#f4923f,#f5994b,#f69d53,#f6a057,#f6a058,#f6a057,#f69e53,#f5994a,#f3913d,#f0872b,#e97b1a,#df6f11,#da6b0f,#e27314,#ef8323,#f49443,#f7aa6a,#f9bc88,#fac69a,#facca5,#fbd0ac,#fbd2b1,#fbd4b5,#fbd6b7,#fbd7ba,#fbd8bb,#fcd9bd,#fcdabe,#fcdabf)"></i><i style="background:linear-gradient(90deg,#fcdabf,#fcdabe,#fcd9bd,#fbd8bc,#fbd8ba,#fbd6b8,#fbd5b6,#fbd3b3,#fbd1af,#fbcfaa,#facba3,#fac598,#f9bb87,#f7ab6a,#f59544,#ef8426,#e47415,#dc6c0f,#de6e11,#e77818,#ef8426,#f38e38,#f59544,#f59b4e,#f69e53,#f69f55,#f69e54,#f59b4f,#f59544,#f28d36,#ef8323,#e57617,#dd6d10,#dc6c0f,#e67717,#f0882c,#f59a4e,#f8b073,#f9bf8e,#fac79d,#facda7,#fbd0ad,#fbd3b2,#fbd5b5,#fbd6b8,#fbd7ba,#fbd8bb,#fcd9bd,#fcdabe,#fcdabf)"></i><i style="background:linear-gradient(90deg,#fcdabf,#fcdabe,#fcd9bd,#fbd8bc,#fbd7ba,#fbd6b8,#fbd5b6,#fbd3b3,#fbd1af,#fbcfab,#facba4,#fac69b,#f9be8d,#f8b073,#f69c50,#f1892f,#e77818,#dd6d10,#d96b0f,#e27314,#ed7f1d,#f18a2f,#f4923e,#f59748,#f69c50,#f69d52,#f69c50,#f59849,#f4923f,#f1892f,#ec7e1c,#e17213,#da6b0f,#de6e11,#ea7c1b,#f28d35,#f6a159,#f8b47b,#f9c192,#fac99f,#facda8,#fbd1ae,#fbd3b2,#fbd5b5,#fbd6b8,#fbd7ba,#fbd8bb,#fcd9bd,#fcd9be,#fcdabf)"></i><i style="background:linear-gradient(90deg,#fcdabf,#fcdabe,#fcd9bd,#fbd8bc,#fbd7ba,#fbd6b8,#fbd5b6,#fbd3b3,#fbd2af,#fbcfab,#facca5,#fac79d,#f9c090,#f8b47a,#f6a25a,#f28e38,#eb7d1c,#df6f11,#d4680e,#de6e10,#e87919,#ef8526,#f28e37,#f49443,#f5994b,#f69b4f,#f5994c,#f59544,#f38e38,#f08527,#e87919,#de6f11,#d86a0f,#e17113,#ee811f,#f4923e,#f7a663,#f8b882,#f9c395,#facaa1,#facea9,#fbd1ae,#fbd3b2,#fbd5b5,#fbd6b8,#fbd7ba,#fbd8bb,#fcd9bd,#fcd9be,#fcdabf)"></i><i style="background:linear-gradient(90deg,#fcdabe,#fcd9be,#fcd9bd,#fbd8bb,#fbd7ba,#fbd6b8,#fbd5b6,#fbd4b3,#fbd2b0,#fbcfab,#facca6,#fac89e,#f9c293,#f8b881,#f7a764,#f49341,#ef8222,#e27314,#d6680e,#d96a0f,#e37415,#ee801e,#f18a31,#f4923e,#f59647,#f5994b,#f59747,#f4923f,#f18b32,#ee8120,#e47516,#dc6c0f,#db6c0f,#e57516,#f08628,#f59647,#f7ac6c,#f9bc88,#fac598,#facaa3,#fbceaa,#fbd1ae,#fbd3b2,#fbd5b5,#fbd6b8,#fbd7b9,#fbd8bb,#fbd9bc,#fcd9bd,#fcdabe)"></i><i style="background:linear-gradient(90deg,#fcdabe,#fcd9bd,#fcd9bc,#fbd8bb,#fbd7ba,#fbd6b8,#fbd5b6,#fbd4b3,#fbd2b0,#fbcfac,#facda6,#fac9a0,#f9c396,#f9bb86,#f7ac6d,#f5984a,#f0872c,#e67717,#da6b0f,#d4670e,#df7012,#ea7b1a,#f08629,#f38f39,#f49443,#f59747,#f59543,#f38f3a,#f0872b,#eb7c1b,#e17113,#d96a0f,#de6e10,#e97a1a,#f18b31,#f69d52,#f8b074,#f9be8d,#fac69b,#facba4,#fbcfaa,#fbd1af,#fbd3b2,#fbd5b5,#fbd6b7,#fbd7b9,#fbd8bb,#fbd9bc,#fcd9bd,#fcdabe)"></i><i style="background:linear-gradient(90deg,#fcdabe,#fcd9bd,#fbd9bc,#fbd8bb,#fbd7ba,#fbd6b8,#fbd5b6,#fbd4b3,#fbd2b0,#fbd0ac,#facda7,#fac9a0,#fac498,#f9bd8a,#f8b074,#f69e54,#f28c34,#ea7c1b,#de6e11,#d2660e,#dc6c0f,#e57617,#ef8221,#f28b32,#f4923e,#f59544,#f4923f,#f28c34,#ef8324,#e77818,#de6e11,#d96a0f,#e07113,#ed7f1d,#f38f3a,#f6a35c,#f8b47b,#f9c090,#fac79d,#facca5,#fbcfab,#fbd1af,#fbd3b2,#fbd5b5,#fbd6b7,#fbd7b9,#fbd8bb,#fbd8bc,#fcd9bd,#fcd9be)"></i><i style="background:linear-gradient(90deg,#fcd9be,#fcd9bd,#fbd8bc,#fbd8bb,#fbd7b9,#fbd6b8,#fbd5b6,#fbd4b3,#fbd2b0,#fbd0ac,#facda7,#facaa1,#fac599,#f9bf8e,#f8b47a,#f6a35e,#f3913d,#ee8120,#e17213,#d3670e,#d5680e,#e17213,#ec7d1c,#f0882c,#f38f39,#f49340,#f3903b,#f1892e,#ed7f1e,#e47415,#dc6c0f,#db6c0f,#e47515,#ef8425,#f49442,#f7a865,#f8b881,#f9c293,#fac89e,#facca6,#fbcfab,#fbd1af,#fbd3b3,#fbd5b5,#fbd6b7,#fbd7b9,#fbd8bb,#fbd8bc,#fcd9bd,#fcd9be)"></i><i style="background:linear-gradient(90deg,#fcd9bd,#fcd9bd,#fbd8bc,#fbd8bb,#fbd7b9,#fbd6b8,#fbd5b5,#fbd3b3,#fbd2b0,#fbd0ac,#facda8,#facaa2,#fac69a,#f9c090,#f8b77f,#f7a866,#f59545,#f08628,#e57616,#d86a0f,#d0660e,#de6e11,#e77919,#ef8425,#f28c34,#f3903b,#f28d36,#f08528,#ea7b1a,#e07113,#d96a0f,#dd6e10,#e87919,#f1882d,#f5994b,#f7ac6d,#f9bb86,#f9c396,#fac99f,#facda6,#fbcfab,#fbd2af,#fbd3b3,#fbd5b5,#fbd6b7,#fbd7b9,#fbd8ba,#fbd8bc,#fcd9bc,#fcd9bd)"></i><i style="background:linear-gradient(90deg,#fcd9bd,#fbd9bc,#fbd8bb,#fbd8ba,#fbd7b9,#fbd6b7,#fbd5b5,#fbd3b3,#fbd2b0,#fbd0ac,#facda8,#facaa2,#fac69b,#f9c192,#f8b983,#f7ac6c,#f59a4e,#f18a31,#e97b1a,#dd6d10,#cf650e,#d86a0f,#e37415,#ee801e,#f1892e,#f28e37,#f18a30,#ef8221,#e67717,#de6e11,#d86a0f,#e07012,#ec7d1c,#f28d36,#f69e55,#f8b074,#f9bd8a,#fac498,#fac9a1,#facda7,#fbd0ac,#fbd2b0,#fbd3b3,#fbd5b5,#fbd6b7,#fbd7b9,#fbd7ba,#fbd8bb,#fbd9bc,#fcd9bd)"></i><i style="background:linear-gradient(90deg,#fcd9bd,#fbd9bc,#fbd8bb,#fbd7ba,#fbd7b9,#fbd6b7,#fbd5b5,#fbd3b3,#fbd2b0,#fbd0ac,#facda8,#facba3,#fac79c,#f9c293,#f9bb86,#f8af72,#f69f56,#f38f38,#ed7f1d,#e07112,#d1660e,#d2660e,#e07012,#ea7b1a,#f08528,#f18b31,#f0872a,#ec7e1d,#e37415,#dc6c0f,#db6b0f,#e37415,#ef8222,#f3913d,#f6a35e,#f8b47a,#f9bf8e,#fac599,#facaa1,#facda7,#fbd0ac,#fbd2b0,#fbd3b3,#fbd5b5,#fbd6b7,#fbd7b9,#fbd7ba,#fbd8bb,#fbd8bc,#fcd9bd)"></i><i style="background:linear-gradient(90deg,#fcd9bc,#fbd8bc,#fbd8bb,#fbd7ba,#fbd7b9,#fbd6b7,#fbd5b5,#fbd3b3,#fbd2b0,#fbd0ac,#facea8,#facba3,#fac79d,#f9c394,#f9bc89,#f8b277,#f6a35e,#f49240,#ef8425,#e47515,#d5680e,#cd640e,#dd6d0f,#e67717,#ef8221,#f0872b,#ef8324,#e97a1a,#e07112,#d96a0f,#dd6d10,#e67718,#f08629,#f59545,#f7a865,#f8b67f,#f9c090,#fac69b,#facaa2,#facda8,#fbd0ac,#fbd2b0,#fbd3b3,#fbd5b5,#fbd6b7,#fbd7b9,#fbd7ba,#fbd8bb,#fbd8bc,#fcd9bc)"></i><i style="background:linear-gradient(90deg,#fbd9bc,#fbd8bb,#fbd8bb,#fbd7ba,#fbd6b8,#fbd6b7,#fbd5b5,#fbd3b3,#fbd2b0,#fbd0ac,#facea8,#facba3,#fac79d,#f9c395,#f9be8b,#f8b47b,#f7a764,#f59646,#f1882c,#e87919,#dc6c0f,#cc630e,#d5680e,#e27314,#ec7e1c,#ef8425,#ee801e,#e57717,#de6e10,#d86a0f,#df6f12,#ea7c1b,#f18a31,#f59a4d,#f7ac6c,#f8b983,#f9c192,#fac79c,#facba3,#facea8,#fbd0ac,#fbd2b0,#fbd3b3,#fbd5b5,#fbd6b7,#fbd6b8,#fbd7ba,#fbd8bb,#fbd8bb,#fbd9bc)"></i><i style="background:linear-gradient(90deg,#fbd8bc,#fbd8bb,#fbd8ba,#fbd7b9,#fbd6b8,#fbd6b7,#fbd5b5,#fbd3b3,#fbd2b0,#fbd0ac,#facea8,#facba3,#fac89d,#fac496,#f9be8d,#f8b67e,#f7aa69,#f59b4e,#f28c34,#ec7d1c,#df6f12,#ce650e,#cf650e,#df6f11,#e87919,#ee801e,#ea7c1b,#e27314,#dc6c0f,#da6b0f,#e27214,#ee801e,#f38e38,#f69f56,#f7af72,#f9bb86,#f9c294,#fac79d,#facba3,#facea8,#fbd0ad,#fbd2b0,#fbd3b3,#fbd5b5,#fbd6b7,#fbd6b8,#fbd7b9,#fbd8ba,#fbd8bb,#fbd8bc)"></i><i style="background:linear-gradient(90deg,#fbd8bc,#fbd8bb,#fbd7ba,#fbd7b9,#fbd6b8,#fbd5b6,#fbd4b5,#fbd3b2,#fbd2b0,#fbd0ac,#facea8,#facba3,#fac89e,#fac497,#f9bf8e,#f8b780,#f7ad6e,#f69f55,#f3903a,#ee8221,#e27314,#d3670e,#cc630e,#db6c0f,#e47516,#ea7c1b,#e77818,#e07012,#d96a0f,#dd6d0f,#e57616,#ef8425,#f4923f,#f6a35d,#f8b277,#f9bd89,#f9c395,#fac89d,#facba4,#facea9,#fbd0ad,#fbd2b0,#fbd3b3,#fbd5b5,#fbd6b7,#fbd6b8,#fbd7b9,#fbd7ba,#fbd8bb,#fbd8bc)"></i><i style="background:linear-gradient(90deg,#fbd8bb,#fbd8bb,#fbd7ba,#fbd7b9,#fbd6b8,#fbd5b6,#fbd4b4,#fbd3b2,#fbd2b0,#fbd0ac,#facea8,#facba4,#fac89e,#fac497,#f9bf8f,#f8b882,#f7af71,#f6a25b,#f49340,#f08528,#e67717,#da6b0f,#cb630e,#d3670e,#e17113,#e67717,#e47415,#dd6e10,#d7690f,#de6f11,#e87a19,#f1882c,#f59645,#f7a763,#f8b47b,#f9be8c,#fac496,#fac89e,#facba4,#facea9,#fbd0ad,#fbd2b0,#fbd3b3,#fbd4b5,#fbd5b6,#fbd6b8,#fbd7b9,#fbd7ba,#fbd8bb,#fbd8bb)"></i><i style="background:linear-gradient(90deg,#fbd8bb,#fbd8ba,#fbd7ba,#fbd7b9,#fbd6b7,#fbd5b6,#fbd4b4,#fbd3b2,#fbd2b0,#fbd0ac,#facea8,#facba4,#fac89e,#fac497,#f9c08f,#f9b984,#f8b074,#f6a45f,#f59545,#f1892e,#ea7b1b,#df6f11,#d0660e,#d1660e,#de6e11,#e37314,#e17113,#dc6c0f,#dc6c0f,#e27214,#ed7f1d,#f28c34,#f59a4e,#f7aa69,#f8b67e,#f9bf8e,#fac497,#fac89f,#facba4,#fbcea9,#fbd0ad,#fbd2b0,#fbd3b3,#fbd4b5,#fbd5b6,#fbd6b8,#fbd7b9,#fbd7ba,#fbd8ba,#fbd8bb)"></i><i style="background:linear-gradient(90deg,#fbd8bb,#fbd7ba,#fbd7b9,#fbd6b8,#fbd6b7,#fbd5b6,#fbd4b4,#fbd3b2,#fbd2af,#fbd0ac,#facea8,#facba4,#fac89e,#fac497,#f9c090,#f9ba85,#f8b176,#f7a663,#f5994a,#f28c34,#ee801e,#e37315,#da6b0f,#d5680e,#dd6d10,#e07012,#df6f11,#dd6d10,#df6f11,#e67718,#ef8425,#f3913c,#f69f56,#f7ad6f,#f8b882,#f9c08f,#fac598,#fac89f,#facca5,#fbcea9,#fbd0ad,#fbd2b0,#fbd3b3,#fbd4b5,#fbd5b6,#fbd6b7,#fbd7b9,#fbd7b9,#fbd7ba,#fbd8bb)"></i><i style="background:linear-gradient(90deg,#fbd8ba,#fbd7ba,#fbd7b9,#fbd6b8,#fbd6b7,#fbd5b6,#fbd4b4,#fbd3b2,#fbd1af,#fbd0ac,#facea8,#facba4,#fac89e,#fac498,#f9c090,#f9ba85,#f8b277,#f7a865,#f69b4f,#f38f39,#ef8324,#e77818,#de6f11,#d96b0f,#dc6c0f,#de6e11,#de6e11,#de6e11,#e27314,#eb7d1b,#f1882d,#f49443,#f6a35d,#f8b073,#f9ba84,#f9c090,#fac599,#fac99f,#facca5,#fbcea9,#fbd0ad,#fbd2b0,#fbd3b2,#fbd4b4,#fbd5b6,#fbd6b7,#fbd6b8,#fbd7b9,#fbd7ba,#fbd8ba)"></i><i style="background:linear-gradient(90deg,#fbd7ba,#fbd7b9,#fbd7b9,#fbd6b8,#fbd6b7,#fbd5b5,#fbd4b4,#fbd3b2,#fbd1af,#fbd0ac,#facea8,#facba4,#fac89e,#fac498,#f9c090,#f9ba86,#f8b378,#f7a968,#f69d53,#f4913e,#f0872a,#ea7b1b,#e17214,#dd6d10,#dc6c0f,#dd6d10,#de6e10,#e07012,#e67717,#ee8120,#f28d35,#f5984a,#f7a663,#f8b277,#f9bb86,#f9c191,#fac599,#fac9a0,#facca5,#fbcea9,#fbd0ad,#fbd2b0,#fbd3b2,#fbd4b4,#fbd5b6,#fbd6b7,#fbd6b8,#fbd7b9,#fbd7ba,#fbd7ba)"></i><i style="background:linear-gradient(90deg,#fbd7ba,#fbd7b9,#fbd6b8,#fbd6b7,#fbd5b6,#fbd5b5,#fbd4b3,#fbd3b1,#fbd1af,#fbd0ac,#facda8,#facba3,#fac89e,#fac498,#f9c090,#f9ba86,#f8b379,#f7aa69,#f69f55,#f49341,#f1892e,#ed7f1d,#e47516,#de6e11,#dc6c0f,#dc6c0f,#de6e11,#e27314,#e97b1a,#f08527,#f3903b,#f69c51,#f7a967,#f8b379,#f9bc88,#f9c192,#fac69a,#fac9a0,#facca5,#fbceaa,#fbd0ad,#fbd2b0,#fbd3b2,#fbd4b4,#fbd5b6,#fbd6b7,#fbd6b8,#fbd7b9,#fbd7b9,#fbd7ba)"></i><i style="background:linear-gradient(90deg,#fbd7b9,#fbd7b9,#fbd6b8,#fbd6b7,#fbd5b6,#fbd4b5,#fbd3b3,#fbd2b1,#fbd1ae,#fbcfab,#facda7,#facba3,#fac89d,#fac497,#f9c08f,#f9ba85,#f8b278,#f7aa68,#f69f56,#f49442,#f18a31,#ee811f,#e67717,#df7012,#dc6c0f,#db6c0f,#de6f11,#e47516,#ec7e1c,#f1882d,#f4923f,#f69e55,#f7aa69,#f8b47a,#f9bc88,#f9c192,#fac599,#fac9a0,#facca5,#fbcea9,#fbd0ad,#fbd2af,#fbd3b2,#fbd4b4,#fbd5b5,#fbd5b6,#fbd6b7,#fbd6b8,#fbd7b9,#fbd7b9)"></i><i style="background:linear-gradient(90deg,#fbd7b9,#fbd6b8,#fbd6b7,#fbd5b6,#fbd5b5,#fbd4b4,#fbd3b2,#fbd2b0,#fbd0ad,#fbcfaa,#facca6,#facaa2,#fac79c,#f9c395,#f9bf8e,#f8b983,#f8b176,#f7a967,#f69e55,#f49442,#f18b32,#ee8221,#e77818,#e07112,#dc6c0f,#dc6c0f,#df6f12,#e57617,#ee801e,#f18a30,#f49442,#f69f56,#f7aa69,#f8b379,#f9bb86,#f9c090,#fac598,#fac89e,#facba4,#facda8,#fbcfac,#fbd1af,#fbd2b1,#fbd3b3,#fbd4b4,#fbd5b6,#fbd6b7,#fbd6b8,#fbd6b8,#fbd7b9)"></i><i style="background:linear-gradient(90deg,#fbd6b8,#fbd6b7,#fbd5b7,#fbd5b6,#fbd4b4,#fbd4b3,#fbd3b1,#fbd1af,#fbd0ac,#fbcea9,#facca5,#fac9a0,#fac69a,#f9c294,#f9be8c,#f8b780,#f8b073,#f7a764,#f69d52,#f49340,#f18a31,#ee8120,#e77818,#e07112,#dc6c0f,#dc6c0f,#df7012,#e67717,#ee811f,#f18a31,#f49442,#f69f55,#f7a968,#f8b277,#f9ba84,#f9c08f,#fac497,#fac79d,#facaa2,#facda7,#fbcfab,#fbd1ae,#fbd2b0,#fbd3b2,#fbd4b4,#fbd5b5,#fbd5b6,#fbd6b7,#fbd6b8,#fbd6b8)"></i><i style="background:linear-gradient(90deg,#fbd6b7,#fbd6b7,#fbd5b6,#fbd5b5,#fbd4b4,#fbd3b2,#fbd2b0,#fbd1ae,#fbcfab,#facda8,#facba4,#fac89f,#fac599,#f9c192,#f9bc89,#f8b67e,#f7ae70,#f7a560,#f59b4e,#f4913e,#f1892e,#ee801e,#e67717,#df7012,#db6b0f,#da6b0f,#df6f12,#e67717,#ee801f,#f18a30,#f49340,#f69d53,#f7a865,#f8b175,#f8b882,#f9bf8d,#f9c395,#fac79b,#facaa1,#facca6,#fbcea9,#fbd0ac,#fbd1af,#fbd2b1,#fbd3b3,#fbd4b4,#fbd5b5,#fbd5b6,#fbd6b7,#fbd6b8)"></i><i style="background:linear-gradient(90deg,#fbd6b7,#fbd5b6,#fbd5b5,#fbd4b4,#fbd3b3,#fbd3b1,#fbd2af,#fbd0ad,#fbcfaa,#facda7,#facaa2,#fac89d,#fac497,#f9c090,#f9bb87,#f8b57b,#f7ad6e,#f6a45e,#f5994b,#f3903c,#f0882c,#ed7f1d,#e67717,#e07012,#dc6d0f,#dd6d0f,#e07012,#e67718,#ee801f,#f1892f,#f4923f,#f69c50,#f7a662,#f8af72,#f8b780,#f9be8b,#f9c293,#fac69a,#fac9a0,#facba4,#facea8,#fbcfac,#fbd1ae,#fbd2b0,#fbd3b2,#fbd4b3,#fbd4b5,#fbd5b6,#fbd5b6,#fbd6b7)"></i><i style="background:linear-gradient(90deg,#fbd5b6,#fbd5b5,#fbd4b4,#fbd4b3,#fbd3b2,#fbd2b0,#fbd1ae,#fbd0ac,#facea9,#facca5,#facaa1,#fac79c,#fac396,#f9bf8f,#f9ba85,#f8b379,#f7ab6b,#f6a25b,#f59849,#f3903a,#f0872b,#ed7f1d,#e67718,#e17113,#de6e11,#de6f11,#e27214,#e77918,#ee811f,#f1892f,#f4913e,#f59b4e,#f7a560,#f7ae70,#f8b67e,#f9bc89,#f9c192,#fac599,#fac89e,#facba3,#facda7,#fbcfaa,#fbd0ad,#fbd1af,#fbd2b1,#fbd3b3,#fbd4b4,#fbd4b5,#fbd5b6,#fbd5b6)"></i><i style="background:linear-gradient(90deg,#fbd4b5,#fbd4b4,#fbd4b3,#fbd3b2,#fbd2b1,#fbd1af,#fbd0ad,#fbcfaa,#facda7,#facba4,#fac99f,#fac69a,#f9c294,#f9be8d,#f8b982,#f8b276,#f7aa68,#f6a158,#f59646,#f38e38,#f0872a,#ed7f1d,#e67717,#e17213,#de6f11,#df6f11,#e27314,#e77919,#ee811f,#f1892e,#f3913c,#f5994c,#f6a45e,#f7ad6e,#f8b47b,#f9bb87,#f9c090,#fac497,#fac79d,#facaa1,#facca5,#facea9,#fbcfac,#fbd1ae,#fbd2b0,#fbd3b1,#fbd3b2,#fbd4b4,#fbd4b4,#fbd5b5)"></i><i style="background:linear-gradient(90deg,#fbd4b4,#fbd3b3,#fbd3b2,#fbd2b1,#fbd1af,#fbd1ae,#fbcfab,#facea9,#facca6,#facaa2,#fac89e,#fac598,#f9c192,#f9bd8a,#f8b780,#f8b074,#f7a866,#f69f55,#f59544,#f28d36,#f08628,#ec7e1c,#e57617,#e17113,#de6e11,#de6f11,#e27214,#e77818,#ee801e,#f0882c,#f3903b,#f59849,#f6a25b,#f7ab6b,#f8b379,#f9ba84,#f9bf8e,#f9c395,#fac69b,#fac9a0,#facba4,#facda7,#fbcfaa,#fbd0ac,#fbd1ae,#fbd2b0,#fbd3b1,#fbd3b2,#fbd4b3,#fbd4b4)"></i><i style="background:linear-gradient(90deg,#fbd3b2,#fbd3b2,#fbd2b1,#fbd2af,#fbd1ae,#fbd0ac,#fbcfaa,#facda7,#facba4,#fac9a0,#fac79c,#fac496,#f9c090,#f9bc88,#f8b67d,#f7af71,#f7a663,#f69d53,#f49442,#f28c34,#ef8526,#eb7d1c,#e57616,#e07112,#de6e10,#de6e11,#e17213,#e67818,#ed7f1d,#f0872a,#f38f39,#f59647,#f6a158,#f7aa68,#f8b176,#f8b882,#f9be8c,#f9c293,#fac599,#fac89e,#facaa2,#facca6,#facea9,#fbcfab,#fbd0ad,#fbd1af,#fbd2b0,#fbd2b1,#fbd3b2,#fbd3b3)"></i><i style="background:linear-gradient(90deg,#fbd3b1,#fbd2b0,#fbd2af,#fbd1ae,#fbd0ad,#fbcfab,#facea9,#facca6,#facaa3,#fac89f,#fac69a,#f9c395,#f9bf8e,#f9ba85,#f8b47b,#f7ad6e,#f6a560,#f69c50,#f49340,#f28b32,#ef8425,#ea7c1b,#e47516,#e07012,#dd6d10,#de6e10,#e17113,#e67717,#ec7e1d,#f08629,#f28e37,#f59545,#f69f56,#f7a866,#f8b073,#f8b77f,#f9bd89,#f9c191,#fac497,#fac79c,#fac9a1,#facba4,#facda7,#fbceaa,#fbcfac,#fbd0ad,#fbd1af,#fbd2b0,#fbd2b1,#fbd3b2)"></i><i style="background:linear-gradient(90deg,#fbd2b0,#fbd1af,#fbd1ae,#fbd0ad,#fbcfab,#fbcea9,#facda7,#facba4,#facaa1,#fac79d,#fac598,#f9c293,#f9be8c,#f8b983,#f8b378,#f7ab6b,#f6a35d,#f59a4d,#f4923e,#f18a31,#ef8323,#ea7b1a,#e37415,#df6f12,#dd6d10,#dd6d10,#e07112,#e57617,#ec7d1c,#f08527,#f28d35,#f49443,#f69d53,#f7a663,#f7ae71,#f8b57d,#f9bb87,#f9c08f,#f9c395,#fac69b,#fac89f,#facaa3,#facca6,#facea8,#fbcfaa,#fbd0ac,#fbd0ad,#fbd1af,#fbd2b0,#fbd2b0)"></i><i style="background:linear-gradient(90deg,#fbd1af,#fbd1ae,#fbd0ad,#fbcfac,#fbcfaa,#facda8,#facca6,#facba3,#fac99f,#fac69b,#fac496,#f9c191,#f9bd8a,#f8b780,#f8b175,#f7aa69,#f6a25a,#f5984a,#f3913c,#f1892f,#ef8221,#e97a1a,#e37415,#df6f11,#dc6c0f,#dd6d10,#e07012,#e57616,#eb7d1c,#ef8426,#f28c34,#f49341,#f69c50,#f6a560,#f7ad6e,#f8b47a,#f9ba85,#f9bf8d,#f9c293,#fac599,#fac89d,#facaa1,#facba4,#facda7,#facea9,#fbcfab,#fbd0ac,#fbd0ad,#fbd1ae,#fbd1af)"></i><i style="background:linear-gradient(90deg,#fbd1ae,#fbd0ad,#fbcfac,#fbcfaa,#facea9,#facda7,#facba4,#facaa1,#fac89e,#fac59a,#f9c395,#f9c08f,#f9bb87,#f8b67e,#f8af73,#f7a866,#f6a057,#f59747,#f38f3a,#f1882d,#ee811f,#e87919,#e27314,#de6e11,#dc6c0f,#dc6d0f,#df7012,#e47516,#ea7c1b,#ef8324,#f18b32,#f4923f,#f59a4e,#f6a35e,#f7ab6b,#f8b278,#f8b882,#f9be8b,#f9c192,#fac497,#fac79c,#fac99f,#facba3,#facca5,#facda8,#fbcea9,#fbcfab,#fbd0ac,#fbd0ad,#fbd1ae)"></i><i style="background:linear-gradient(90deg,#fbd0ac,#fbcfac,#fbcfaa,#facea9,#facda7,#facca5,#facaa3,#fac9a0,#fac79c,#fac598,#f9c293,#f9bf8d,#f9ba85,#f8b47b,#f7ae70,#f7a763,#f69e55,#f59545,#f38e38,#f0872b,#ee801e,#e77818,#e27214,#de6e10,#db6b0f,#dc6c0f,#df6f11,#e47415,#ea7b1a,#ef8323,#f18a30,#f3913d,#f5994b,#f6a25b,#f7aa69,#f8b175,#f8b780,#f9bc89,#f9c090,#f9c395,#fac69a,#fac89e,#facaa1,#facba4,#facca6,#facda8,#fbceaa,#fbcfab,#fbd0ac,#fbd0ad)"></i><i style="background:linear-gradient(90deg,#fbcfab,#fbcfaa,#fbcea9,#facda8,#facca6,#facba4,#facaa1,#fac89e,#fac69a,#fac496,#f9c191,#f9bd8b,#f8b882,#f8b379,#f7ac6d,#f7a560,#f69d52,#f49443,#f28d36,#f08629,#ed7f1d,#e67818,#e17213,#dd6d10,#d96b0f,#db6b0f,#de6f11,#e37415,#e97a1a,#ef8221,#f1892f,#f3903c,#f59749,#f6a058,#f7a866,#f8af73,#f8b67d,#f9bb86,#f9bf8e,#f9c294,#fac598,#fac79c,#fac9a0,#facaa2,#facca5,#facda7,#facea8,#fbceaa,#fbcfab,#fbcfac)"></i><i style="background:linear-gradient(90deg,#fbcfaa,#fbcea9,#facda8,#facca6,#facba4,#facaa2,#fac9a0,#fac79c,#fac599,#f9c394,#f9c08f,#f9bc88,#f8b780,#f8b176,#f7ab6b,#f6a35e,#f69b4f,#f49341,#f28c34,#f08527,#ec7e1c,#e67717,#e07113,#dd6d0f,#d86a0f,#d96b0f,#de6e11,#e27314,#e87a19,#ee8120,#f1882d,#f38f3a,#f59646,#f69f56,#f7a764,#f7ae70,#f8b47b,#f9b984,#f9be8c,#f9c192,#fac497,#fac69b,#fac89e,#facaa1,#facba3,#facca5,#facda7,#facea8,#fbceaa,#fbcfab)"></i><i style="background:linear-gradient(90deg,#facea9,#facda8,#facda6,#facca5,#facba3,#fac9a1,#fac89e,#fac69b,#fac497,#f9c293,#f9bf8d,#f9bb86,#f8b67d,#f8b073,#f7a968,#f6a25b,#f59a4c,#f4923f,#f28b32,#ef8426,#eb7d1c,#e57617,#e07012,#dc6c0f,#d7690f,#d86a0f,#dd6e10,#e27314,#e87919,#ee801f,#f0872b,#f38e38,#f59544,#f69d53,#f7a561,#f7ad6e,#f8b378,#f8b882,#f9bd8a,#f9c090,#f9c395,#fac599,#fac79d,#fac99f,#facaa2,#facba4,#facca6,#facda7,#facea8,#fbcea9)"></i><i style="background:linear-gradient(90deg,#facda8,#facda7,#facca5,#facba4,#facaa2,#fac99f,#fac79d,#fac599,#f9c395,#f9c191,#f9be8b,#f9b984,#f8b47b,#f7af71,#f7a865,#f6a058,#f59849,#f3913d,#f18a31,#ef8324,#ea7c1b,#e47516,#df7012,#db6b0f,#d5680e,#d7690f,#dd6d10,#e17213,#e77818,#ee7f1e,#f0862a,#f28d36,#f49442,#f69c51,#f6a45f,#f7ab6b,#f8b176,#f8b77f,#f9bb88,#f9bf8e,#f9c293,#fac497,#fac69b,#fac89e,#fac9a1,#facaa3,#facba4,#facca6,#facda7,#facea8)"></i><i style="background:linear-gradient(90deg,#facda6,#facca5,#facba4,#facaa2,#fac9a0,#fac89e,#fac69b,#fac498,#f9c294,#f9c08f,#f9bc89,#f8b881,#f8b379,#f7ad6e,#f7a663,#f69f55,#f59647,#f3903b,#f1892f,#ef8222,#ea7b1a,#e47415,#df6f11,#d96a0f,#d4670e,#d5680e,#dd6d0f,#e17113,#e67818,#ed7f1d,#f08628,#f28c35,#f49341,#f59b4e,#f6a35c,#f7aa69,#f8b073,#f8b57d,#f9ba85,#f9be8c,#f9c191,#fac396,#fac599,#fac79d,#fac99f,#facaa1,#facba3,#facca5,#facca6,#facda7)"></i><i style="background:linear-gradient(90deg,#facca5,#facba4,#facaa3,#facaa1,#fac89f,#fac79c,#fac599,#fac496,#f9c192,#f9bf8d,#f9bb87,#f8b77f,#f8b176,#f7ac6c,#f6a560,#f69d53,#f59545,#f38f39,#f1882d,#ee8121,#e97a1a,#e37415,#de6e11,#d86a0f,#d2670e,#d4680e,#dc6c0f,#e07113,#e67717,#ec7e1c,#f08527,#f28c33,#f4923f,#f5994b,#f6a159,#f7a866,#f7af71,#f8b47b,#f8b983,#f9bd8a,#f9c090,#f9c294,#fac598,#fac69b,#fac89e,#fac9a0,#facaa2,#facba3,#facca5,#facca6)"></i><i style="background:linear-gradient(90deg,#facba4,#facba3,#facaa1,#fac99f,#fac89d,#fac69b,#fac598,#f9c394,#f9c090,#f9be8b,#f9ba85,#f8b57d,#f8b074,#f7aa69,#f6a45e,#f69c50,#f49443,#f38e38,#f0882c,#ee8120,#e97a1a,#e37415,#de6e11,#d86a0f,#d3670e,#d5680e,#dc6c0f,#e07113,#e67717,#ec7e1c,#ef8426,#f18b32,#f4913e,#f59849,#f6a057,#f7a764,#f7ad6f,#f8b378,#f8b881,#f9bc88,#f9bf8e,#f9c292,#fac496,#fac599,#fac79c,#fac89e,#fac9a0,#facaa2,#facba3,#facba4)"></i><i style="background:linear-gradient(90deg,#facaa3,#facaa1,#fac9a0,#fac89e,#fac79c,#fac599,#fac496,#f9c292,#f9bf8e,#f9bc89,#f8b882,#f8b47a,#f7af71,#f7a967,#f6a25c,#f69b4f,#f49442,#f28e37,#f0882c,#ee8120,#e97b1a,#e47415,#df6f12,#dc6c0f,#d7690f,#d96a0f,#dd6d10,#e17213,#e67718,#ec7e1c,#ef8426,#f18b32,#f3913d,#f59748,#f69f55,#f7a662,#f7ac6c,#f8b176,#f8b67e,#f9ba86,#f9be8c,#f9c090,#f9c394,#fac498,#fac69a,#fac79d,#fac89f,#fac9a1,#facaa2,#facba3)"></i><i style="background:linear-gradient(90deg,#facaa1,#fac9a0,#fac89e,#fac79c,#fac69a,#fac497,#f9c394,#f9c191,#f9be8c,#f9bb87,#f8b780,#f8b378,#f7ae6f,#f7a865,#f6a15a,#f59a4d,#f49341,#f28e37,#f0882c,#ee8120,#e97b1a,#e47516,#e07012,#dd6d10,#da6b0f,#dc6c0f,#de6e11,#e27314,#e77818,#ec7e1d,#ef8426,#f18b31,#f3913c,#f59647,#f69e54,#f6a560,#f7ab6a,#f8b074,#f8b57c,#f9b983,#f9bd8a,#f9bf8f,#f9c293,#fac396,#fac599,#fac69b,#fac89d,#fac99f,#fac9a1,#facaa2)"></i><i style="background:linear-gradient(90deg,#fac9a0,#fac89e,#fac79d,#fac69b,#fac598,#fac396,#f9c293,#f9c08f,#f9bd8a,#f9ba84,#f8b67e,#f8b176,#f7ac6d,#f7a763,#f6a058,#f5994c,#f49341,#f28d36,#f0882c,#ee8221,#ea7b1b,#e57616,#e17113,#de6e11,#dd6d0f,#dd6d10,#df6f12,#e37315,#e77918,#ed7f1d,#ef8526,#f18a31,#f3903c,#f59645,#f69d52,#f6a45e,#f7aa68,#f7af72,#f8b47a,#f8b881,#f9bb87,#f9be8d,#f9c191,#f9c394,#fac497,#fac69a,#fac79c,#fac89e,#fac99f,#fac9a0)"></i><i style="background:linear-gradient(90deg,#fac89e,#fac79d,#fac69b,#fac599,#fac497,#f9c294,#f9c191,#f9bf8d,#f9bc88,#f8b882,#f8b47b,#f8b074,#f7ab6b,#f7a661,#f69f56,#f5994b,#f49340,#f28d36,#f0882c,#ef8221,#ea7c1b,#e67717,#e27214,#df6f11,#de6e10,#de6e11,#e07012,#e37415,#e87919,#ed7f1d,#ef8526,#f18a31,#f3903b,#f59545,#f69c51,#f6a35c,#f7a866,#f7ae6f,#f8b278,#f8b67f,#f9ba85,#f9bd8b,#f9c08f,#f9c292,#f9c395,#fac598,#fac69a,#fac79c,#fac89e,#fac99f)"></i><i style="background:linear-gradient(90deg,#fac79d,#fac79b,#fac69a,#fac498,#f9c395,#f9c192,#f9c08f,#f9bd8b,#f9ba86,#f8b780,#f8b379,#f7af71,#f7aa69,#f6a55f,#f69e55,#f59849,#f4923f,#f28d36,#f0882c,#ef8222,#eb7c1b,#e67717,#e27314,#e07012,#df6f11,#df6f12,#e17113,#e47516,#e87a19,#ed7f1d,#f08527,#f18a31,#f3903b,#f59544,#f69b4f,#f6a25a,#f7a764,#f7ac6d,#f8b175,#f8b57d,#f8b983,#f9bc88,#f9bf8d,#f9c191,#f9c294,#fac496,#fac599,#fac69b,#fac79c,#fac89e)"></i><i style="background:linear-gradient(90deg,#fac79b,#fac69a,#fac598,#fac396,#f9c293,#f9c090,#f9bf8d,#f9bc89,#f9b983,#f8b67d,#f8b277,#f7ae6f,#f7a967,#f6a35d,#f69e53,#f59748,#f4923f,#f28d35,#f0882c,#ef8222,#eb7d1c,#e77818,#e37415,#e17113,#e07012,#e07012,#e27214,#e57616,#e97a1a,#ee801e,#f08527,#f18a30,#f38f3a,#f49443,#f59a4e,#f6a158,#f7a662,#f7ab6b,#f8b073,#f8b47a,#f8b780,#f9bb86,#f9bd8b,#f9c08f,#f9c192,#f9c395,#fac497,#fac599,#fac69b,#fac79c)"></i><i style="background:linear-gradient(90deg,#fac69a,#fac598,#fac496,#f9c294,#f9c191,#f9bf8f,#f9bd8b,#f9bb86,#f8b881,#f8b47b,#f8b174,#f7ac6d,#f7a865,#f6a25c,#f69d52,#f59647,#f4923e,#f28d35,#f0882c,#ef8222,#ec7d1c,#e77919,#e47516,#e27214,#e17113,#e17113,#e37315,#e67717,#e97b1a,#ee801e,#f08527,#f18a30,#f38f39,#f49442,#f59a4c,#f6a057,#f7a560,#f7aa69,#f7af71,#f8b378,#f8b67e,#f9b984,#f9bc89,#f9be8d,#f9c090,#f9c293,#f9c395,#fac497,#fac599,#fac69b)"></i><i style="background:linear-gradient(90deg,#fac598,#fac497,#f9c395,#f9c192,#f9c090,#f9be8d,#f9bc89,#f9b984,#f8b67f,#f8b379,#f8af72,#f7ab6b,#f7a663,#f6a15a,#f69c50,#f59645,#f3913d,#f28c35,#f0882c,#ef8323,#ec7e1c,#e87919,#e57616,#e37314,#e17214,#e27214,#e37415,#e67718,#ea7c1b,#ee801f,#f08527,#f18a30,#f38f39,#f49341,#f5994b,#f69f55,#f6a45e,#f7a967,#f7ad6f,#f8b176,#f8b57c,#f8b881,#f9bb86,#f9bd8b,#f9bf8e,#f9c191,#f9c293,#f9c396,#fac497,#fac599)"></i><i style="background:linear-gradient(90deg,#fac497,#f9c395,#f9c293,#f9c191,#f9bf8e,#f9bd8b,#f9bb86,#f8b882,#f8b57d,#f8b277,#f7ae70,#f7aa69,#f7a561,#f6a058,#f59b4e,#f59544,#f3913c,#f28c34,#f0872c,#ef8323,#ec7e1d,#e97a19,#e57717,#e37415,#e27314,#e37315,#e47516,#e77818,#ea7c1b,#ee811f,#f08527,#f18a30,#f38e38,#f49340,#f59849,#f69e53,#f6a35c,#f7a865,#f7ac6d,#f8b073,#f8b47a,#f8b77f,#f9ba84,#f9bc89,#f9be8c,#f9c08f,#f9c192,#f9c294,#fac396,#fac497)"></i><i style="background:linear-gradient(90deg,#f9c395,#f9c293,#f9c191,#f9c08f,#f9be8c,#f9bc88,#f9ba84,#f8b77f,#f8b47a,#f8b074,#f7ad6e,#f7a967,#f6a45f,#f69f56,#f5994c,#f49443,#f3903b,#f28c33,#f0872b,#ef8323,#ed7e1d,#e97a1a,#e67717,#e47516,#e37415,#e47415,#e57616,#e77918,#eb7c1b,#ee801f,#ef8526,#f1892f,#f28e37,#f4923f,#f59647,#f69c51,#f6a15a,#f7a663,#f7ab6a,#f7af71,#f8b277,#f8b57d,#f8b882,#f9bb86,#f9bd8a,#f9bf8d,#f9c090,#f9c192,#f9c394,#fac396)"></i><i style="background:linear-gradient(90deg,#f9c293,#f9c192,#f9c08f,#f9bf8d,#f9bd8a,#f9bb86,#f8b882,#f8b67d,#f8b278,#f8af72,#f7ab6b,#f7a764,#f6a25c,#f69d53,#f59849,#f49341,#f38f39,#f18a31,#f08629,#ef8222,#ec7e1d,#e97b1a,#e77818,#e57616,#e47516,#e47516,#e57617,#e87919,#ea7c1b,#ee801e,#ef8425,#f0882c,#f28c34,#f3913c,#f59544,#f59a4d,#f6a057,#f6a560,#f7a968,#f7ad6f,#f8b175,#f8b47b,#f8b780,#f9b984,#f9bc88,#f9be8c,#f9bf8e,#f9c091,#f9c293,#f9c394)"></i><i style="background:linear-gradient(90deg,#f9c192,#f9c090,#f9bf8e,#f9bd8b,#f9bc88,#f9b984,#f8b780,#f8b47b,#f8b175,#f7ae6f,#f7aa68,#f7a561,#f6a058,#f69b4f,#f59545,#f3913d,#f28d35,#f1892e,#ef8426,#ee811f,#ec7d1c,#e97a1a,#e77818,#e57617,#e57616,#e57616,#e67717,#e77919,#ea7b1a,#ed7e1d,#ef8222,#f08629,#f18a30,#f38f38,#f49340,#f59849,#f69d53,#f6a35c,#f7a764,#f7ac6c,#f8af72,#f8b378,#f8b57d,#f8b882,#f9ba86,#f9bc89,#f9be8c,#f9c08f,#f9c191,#f9c293)"></i><i style="background:linear-gradient(90deg,#f9c090,#f9bf8e,#f9be8c,#f9bc89,#f9ba85,#f8b881,#f8b57d,#f8b378,#f8af73,#f7ac6c,#f7a865,#f6a35d,#f69e54,#f5984a,#f49341,#f38f39,#f18a31,#f08629,#ef8222,#ed7f1d,#eb7c1b,#e87a19,#e77818,#e67717,#e57617,#e57617,#e67717,#e77818,#e97a1a,#eb7d1c,#ee801e,#ef8324,#f0882c,#f28c34,#f3913c,#f59544,#f59b4e,#f6a058,#f7a561,#f7aa68,#f7ae6f,#f8b175,#f8b47a,#f8b77f,#f9b983,#f9bb87,#f9bd8a,#f9bf8d,#f9c08f,#f9c191)"></i><i style="background:linear-gradient(90deg,#f9bf8e,#f9be8c,#f9bd8a,#f9bb86,#f8b983,#f8b77f,#f8b47a,#f8b175,#f7ae70,#f7aa69,#f7a661,#f6a159,#f69b4f,#f59545,#f3913d,#f28c34,#f0882c,#ef8424,#ee801e,#eb7d1c,#e97b1a,#e87919,#e77818,#e67717,#e67717,#e67717,#e67717,#e77818,#e87919,#e97b1a,#eb7d1c,#ee811f,#ef8526,#f1892e,#f28e37,#f49340,#f59749,#f69d53,#f6a35c,#f7a865,#f7ac6c,#f8af72,#f8b278,#f8b57d,#f8b881,#f9ba85,#f9bc88,#f9bd8b,#f9bf8d,#f9c08f)"></i><i style="background:linear-gradient(90deg,#f9be8d,#f9bd8a,#f9bb87,#f9b984,#f8b780,#f8b57c,#f8b278,#f8af72,#f7ac6c,#f7a865,#f6a35d,#f69e54,#f5984a,#f49341,#f38e38,#f1892f,#f08527,#ee811f,#eb7d1c,#e97b1a,#e87919,#e77918,#e77818,#e77818,#e77818,#e77818,#e67818,#e67718,#e67818,#e77818,#e97a1a,#ec7d1c,#ee8121,#f08629,#f18b32,#f3903b,#f59544,#f59a4e,#f6a058,#f7a561,#f7aa68,#f7ad6f,#f8b175,#f8b47a,#f8b67e,#f8b882,#f9ba86,#f9bc89,#f9be8b,#f9bf8d)"></i><i style="background:linear-gradient(90deg,#f9bd8a,#f9bc88,#f9ba85,#f8b882,#f8b67e,#f8b47a,#f8b175,#f7ae6f,#f7aa69,#f7a661,#f6a159,#f69b4f,#f59544,#f3903c,#f28b33,#f0862a,#ef8221,#ec7e1c,#e97a1a,#e77818,#e77818,#e77818,#e77919,#e87919,#e87919,#e87919,#e77818,#e67717,#e57617,#e57617,#e67718,#e97a1a,#ec7e1c,#ef8323,#f0882c,#f28d35,#f4923f,#f59748,#f69d53,#f6a35c,#f7a865,#f7ac6c,#f8af72,#f8b277,#f8b57c,#f8b780,#f8b983,#f9bb86,#f9bc89,#f9be8b)"></i><i style="background:linear-gradient(90deg,#f9bc88,#f9ba86,#f8b983,#f8b77f,#f8b47b,#f8b277,#f8af72,#f7ac6c,#f7a865,#f6a35d,#f69e54,#f59849,#f49340,#f28e37,#f1882d,#ef8324,#ec7e1d,#e97a1a,#e67718,#e57617,#e57617,#e67717,#e87919,#e97a1a,#e97b1a,#e97a1a,#e77918,#e67717,#e47516,#e37415,#e47515,#e67717,#e97a1a,#ed7f1d,#ef8426,#f18a30,#f38f3a,#f49443,#f59a4d,#f6a058,#f7a561,#f7aa68,#f7ad6f,#f8b074,#f8b379,#f8b57d,#f8b881,#f9b984,#f9bb87,#f9bc89)"></i><i style="background:linear-gradient(90deg,#f9bb86,#f9b983,#f8b780,#f8b57d,#f8b379,#f8b074,#f7ad6f,#f7aa69,#f7a662,#f6a159,#f69b4f,#f59545,#f3903b,#f18b32,#f08528,#ee801e,#ea7b1b,#e67818,#e47516,#e47515,#e47516,#e67717,#e87919,#ea7b1a,#ea7c1b,#ea7b1a,#e87919,#e67717,#e47415,#e27314,#e27314,#e37415,#e67717,#ea7c1b,#ee8120,#f0872a,#f28c35,#f4923f,#f59748,#f69d53,#f6a35c,#f7a765,#f7ab6b,#f7af71,#f8b276,#f8b47a,#f8b67e,#f8b882,#f9ba84,#f9bb87)"></i><i style="background:linear-gradient(90deg,#f9b984,#f8b881,#f8b67e,#f8b47a,#f8b176,#f7af71,#f7ac6c,#f7a865,#f6a35e,#f69e55,#f5984a,#f49340,#f28e37,#f1882d,#ef8323,#eb7d1c,#e77818,#e47516,#e37314,#e37314,#e47515,#e67717,#e87919,#ea7c1b,#eb7d1c,#ea7c1b,#e87919,#e57617,#e37415,#e17213,#e07113,#e17213,#e37415,#e77818,#ec7e1c,#ef8425,#f18a2f,#f38f3a,#f59443,#f59b4e,#f6a058,#f7a561,#f7a968,#f7ad6e,#f8b073,#f8b278,#f8b57c,#f8b77f,#f8b882,#f9ba85)"></i><i style="background:linear-gradient(90deg,#f8b882,#f8b67f,#f8b57b,#f8b278,#f8b073,#f7ad6e,#f7aa69,#f7a662,#f6a15a,#f69c50,#f59545,#f3903c,#f28b32,#f08528,#ee801e,#e97a1a,#e57616,#e27314,#e17213,#e27214,#e37415,#e67717,#e87a19,#eb7c1b,#ec7d1c,#eb7c1b,#e87a19,#e57617,#e37314,#e07112,#df6f11,#df6f12,#e17113,#e47516,#e97b1a,#ee811f,#f0872a,#f28d35,#f4923f,#f59749,#f69e53,#f6a35d,#f7a765,#f7ab6b,#f7ae71,#f8b175,#f8b379,#f8b57d,#f8b780,#f8b983)"></i><i style="background:linear-gradient(90deg,#f8b77f,#f8b57c,#f8b379,#f8b175,#f7ae71,#f7ac6c,#f7a865,#f6a45e,#f69f55,#f5994b,#f49341,#f28e38,#f1882d,#ef8223,#eb7d1b,#e67717,#e27314,#e07113,#e07012,#e17113,#e37415,#e67717,#e97a1a,#eb7d1c,#ec7e1d,#eb7d1c,#e97a1a,#e67717,#e27314,#e07012,#de6e11,#dd6e10,#df6f11,#e27214,#e67717,#ec7d1c,#ef8425,#f18a30,#f3903a,#f59544,#f69b4f,#f6a159,#f7a561,#f7a968,#f7ad6e,#f8b073,#f8b277,#f8b47a,#f8b67e,#f8b780)"></i><i style="background:linear-gradient(90deg,#f8b67d,#f8b47a,#f8b277,#f8b073,#f7ad6e,#f7aa69,#f7a662,#f6a25a,#f69c51,#f59646,#f3913d,#f28b33,#f08628,#ee801e,#e87a19,#e47415,#e07113,#df6f11,#df6f11,#e07113,#e37415,#e67717,#e97a1a,#ec7d1c,#ed7f1d,#ec7e1c,#e97b1a,#e67717,#e27314,#df7012,#dd6d10,#dc6c0f,#dd6d10,#df7012,#e37415,#e97a1a,#ee811f,#f0872b,#f28d36,#f49340,#f5984a,#f69e54,#f6a35d,#f7a865,#f7ab6b,#f7ae70,#f8b174,#f8b378,#f8b57b,#f8b67e)"></i><i style="background:linear-gradient(90deg,#f8b47b,#f8b378,#f8b174,#f7ae70,#f7ab6b,#f7a866,#f6a45f,#f69f56,#f59a4c,#f49442,#f38f39,#f1892e,#ef8323,#eb7c1b,#e57617,#e17213,#de6f11,#dd6d10,#de6e11,#e07012,#e37415,#e67717,#e97b1a,#ec7e1c,#ed7f1e,#ec7e1d,#ea7b1a,#e67718,#e37314,#df6f12,#dc6c0f,#d86a0f,#d86a0f,#dd6d10,#e07113,#e67717,#ec7d1c,#ef8425,#f18a31,#f3903b,#f59545,#f69c50,#f6a159,#f7a661,#f7a968,#f7ac6d,#f8af72,#f8b176,#f8b379,#f8b57c)"></i><i style="background:linear-gradient(90deg,#f8b379,#f8b176,#f8af72,#f7ad6e,#f7aa69,#f7a662,#f6a25b,#f69d52,#f59747,#f4923e,#f28c34,#f08629,#ee801e,#e87919,#e37315,#df6f11,#dd6d0f,#dc6c0f,#dd6d10,#e07012,#e37415,#e77818,#ea7b1b,#ed7f1d,#ee801e,#ed7f1d,#ea7c1b,#e77818,#e37415,#df6f11,#db6c0f,#d4680e,#d2670e,#d7690f,#de6e10,#e27314,#e87a19,#ee811f,#f0872b,#f28d37,#f49341,#f5994b,#f69f55,#f6a45e,#f7a865,#f7ab6a,#f7ae6f,#f8b073,#f8b277,#f8b47a)"></i><i style="background:linear-gradient(90deg,#f8b276,#f8b073,#f7ae6f,#f7ab6b,#f7a865,#f6a45f,#f6a057,#f59a4d,#f49443,#f38f39,#f1892f,#ef8323,#eb7c1b,#e57616,#e07012,#dc6c0f,#d86a0f,#d86a0f,#dd6d10,#e07012,#e37415,#e77818,#ea7c1b,#ed7f1d,#ee801f,#ee7f1e,#eb7c1b,#e77818,#e37415,#df6f11,#da6b0f,#d1660e,#cd640e,#cf650e,#d86a0f,#df7012,#e57616,#eb7d1c,#ef8425,#f18b31,#f3903c,#f59645,#f69c50,#f6a159,#f7a561,#f7a967,#f7ac6c,#f7ae71,#f8b074,#f8b277)"></i><i style="background:linear-gradient(90deg,#f8b074,#f7ae70,#f7ac6c,#f7a967,#f7a661,#f6a25a,#f69d52,#f59747,#f4923e,#f28c34,#f08629,#ee7f1e,#e77918,#e27214,#dd6d10,#d6690e,#d2670e,#d5680e,#dc6c0f,#df7012,#e37415,#e77818,#eb7c1b,#ee801e,#ee8120,#ee801e,#eb7d1c,#e77919,#e37415,#df6f11,#d86a0f,#ce640e,#c8610d,#c8610d,#cf650e,#dc6c0f,#e17214,#e87919,#ee811f,#f0872b,#f28e37,#f49341,#f5994b,#f69e55,#f6a35d,#f7a764,#f7aa69,#f7ad6e,#f7af71,#f8b175)"></i><i style="background:linear-gradient(90deg,#f7ae71,#f7ac6d,#f7aa69,#f7a764,#f6a35e,#f69f56,#f59a4d,#f49443,#f38f39,#f1892f,#ef8323,#ea7c1b,#e47516,#de6f11,#d6690f,#ce650e,#cd640e,#d2660e,#db6b0f,#df7012,#e37415,#e87919,#eb7d1c,#ee801e,#ee8120,#ee801f,#ec7d1c,#e87919,#e47415,#df6f12,#d86a0f,#cb630e,#c35e0d,#c15d0d,#c6600d,#d1660e,#de6e11,#e47516,#eb7d1c,#ef8425,#f18b31,#f3903c,#f59645,#f69b50,#f6a158,#f6a560,#f7a866,#f7ab6a,#f7ad6e,#f8af72)"></i><i style="background:linear-gradient(90deg,#f7ad6e,#f7ab6a,#f7a866,#f6a560,#f6a159,#f69c51,#f59747,#f4923e,#f28c34,#f08629,#ee801e,#e77818,#e17213,#dc6c0f,#d0650e,#ca620d,#cb630e,#d1660e,#dc6c0f,#e07112,#e47516,#e87a19,#ec7e1c,#ee811f,#ef8222,#ee8120,#ed7e1d,#e97a1a,#e57616,#e07113,#db6b0f,#cd640e,#c35e0d,#be5c0d,#c05d0d,#c9610d,#d86a0f,#e17113,#e77919,#ee801f,#f0872b,#f28e37,#f49340,#f5984a,#f69e54,#f6a25b,#f7a662,#f7a967,#f7ab6b,#f7ad6f)"></i><i style="background:linear-gradient(90deg,#f7ab6b,#f7a967,#f7a662,#f6a35c,#f69f55,#f59a4c,#f49443,#f38f3a,#f1892f,#ef8324,#ea7c1b,#e47516,#de6e11,#d3670e,#ca620d,#c6600d,#c9620d,#d2660e,#dd6d10,#e17113,#e57617,#e97b1a,#ed7f1d,#ee8121,#ef8323,#ef8222,#ee801e,#ea7c1b,#e67717,#e27214,#dd6d10,#d0650e,#c45f0d,#bc5b0c,#bb5a0c,#c15d0d,#ce640e,#dd6d10,#e47516,#eb7c1b,#ef8425,#f18a31,#f3903b,#f59544,#f59b4e,#f6a057,#f6a45e,#f7a764,#f7aa68,#f7ac6c)"></i><i style="background:linear-gradient(90deg,#f7a968,#f7a764,#f6a45f,#f6a058,#f69c50,#f59747,#f4923e,#f28c35,#f0862a,#ee801e,#e77818,#e17113,#da6b0f,#cc630e,#c45f0d,#c35e0d,#c9610d,#d3670e,#dd6d10,#e27214,#e67717,#ea7c1b,#ed7f1e,#ef8222,#ef8324,#ef8323,#ee811f,#eb7d1c,#e77918,#e37415,#de6e11,#d3670e,#c5600d,#bc5a0c,#b8580c,#bb5a0c,#c55f0d,#d5680e,#e07113,#e77818,#ee801e,#f0872b,#f28d36,#f49340,#f59849,#f69d52,#f6a15a,#f6a560,#f7a865,#f7aa69)"></i><i style="background:linear-gradient(90deg,#f7a865,#f7a560,#f6a25b,#f69e54,#f5994c,#f49443,#f38f3a,#f18a2f,#ef8324,#eb7c1b,#e47516,#de6e10,#d1660e,#c55f0d,#c05c0d,#c15d0d,#c9610d,#d4680e,#de6e11,#e37314,#e77818,#eb7d1b,#ee801e,#ef8323,#ef8425,#ef8324,#ee8121,#ec7e1d,#e97a19,#e47516,#df7012,#d7690f,#c8610d,#bc5a0c,#b5570c,#b5570c,#bd5b0c,#cb630e,#dd6d10,#e37415,#eb7c1b,#ef8424,#f18a30,#f3903b,#f59544,#f59a4d,#f69f55,#f6a35c,#f7a661,#f7a866)"></i><i style="background:linear-gradient(90deg,#f7a662,#f6a35d,#f6a057,#f69b50,#f59646,#f4923e,#f28d35,#f0872a,#ee801e,#e77918,#e17113,#d86a0f,#c8610d,#bf5c0d,#bc5a0c,#c05c0d,#c9620d,#d6690f,#df6f11,#e37415,#e87919,#ec7d1c,#ee8120,#ef8324,#ef8526,#ef8425,#ef8222,#ed7f1d,#ea7b1a,#e57717,#e17113,#db6b0f,#cb620e,#bd5b0c,#b4560c,#b1540b,#b6570c,#c15d0d,#d3670e,#e07012,#e77818,#ee801e,#f0872a,#f28d35,#f4923f,#f59747,#f69c50,#f6a058,#f6a45e,#f7a663)"></i><i style="background:linear-gradient(90deg,#f6a45f,#f6a159,#f69d53,#f5994b,#f49442,#f38f3a,#f18a30,#ef8324,#eb7c1b,#e47516,#de6e10,#ce650e,#c15d0d,#b9590c,#b9590c,#bf5c0d,#ca620e,#d96a0f,#e07012,#e47516,#e97a1a,#ed7e1d,#ef8221,#ef8425,#f08527,#f08527,#ef8324,#ee801f,#eb7d1b,#e77818,#e27314,#dd6d10,#ce640e,#bf5c0d,#b4560c,#ae530b,#af540b,#b8580c,#c8610d,#dc6c0f,#e37415,#ea7c1b,#ef8324,#f18a30,#f38f3a,#f49443,#f5994b,#f69e53,#f6a15a,#f6a45f)"></i><i style="background:linear-gradient(90deg,#f6a25b,#f69f55,#f59b4e,#f59646,#f4923e,#f28d35,#f0872a,#ee801e,#e77919,#e17113,#d7690f,#c5600d,#ba590c,#b5560c,#b7580c,#bf5c0d,#cc630e,#db6c0f,#e17113,#e57617,#ea7b1a,#ed7f1d,#ef8222,#ef8426,#f08628,#f08528,#ef8425,#ee8120,#ec7e1c,#e87919,#e37415,#de6f11,#d2670e,#c25e0d,#b4560c,#ac520b,#ab510b,#b0540b,#bd5b0c,#d0650e,#df6f12,#e67718,#ed7f1e,#f08629,#f28c34,#f4923e,#f59646,#f59b4f,#f69f56,#f6a25b)"></i><i style="background:linear-gradient(90deg,#f6a058,#f69d51,#f5984a,#f49442,#f38f3a,#f18a30,#ef8425,#eb7d1b,#e47516,#dd6d10,#cc630e,#bd5b0c,#b4560c,#b1540b,#b6570c,#c05c0d,#ce640e,#dd6d10,#e27214,#e67818,#eb7c1b,#ee801e,#ef8323,#f08527,#f08629,#f08629,#ef8426,#ef8222,#ed7f1d,#e97b1a,#e57616,#e07012,#d7690f,#c55f0d,#b6570c,#ab510b,#a74f0b,#aa500b,#b4560c,#c45f0d,#da6b0f,#e27314,#ea7b1a,#ef8323,#f1892f,#f38f39,#f49441,#f59849,#f69c51,#f6a058)"></i><i style="height:1px;background:linear-gradient(90deg,#f69e55,#f59b4e,#f59646,#f4923f,#f28d36,#f0882c,#ee8120,#e87a19,#e17214,#d86a0f,#c55f0d,#b7580c,#af530b,#af530b,#b5570c,#c15d0d,#d0650e,#dd6e10,#e27314,#e77818,#eb7d1c,#ee811f,#ef8324,#f08528,#f0862a,#f08629,#f08527,#ef8323,#ee801e,#ea7c1b,#e67717,#e17113,#da6b0f,#c8610d,#b8580c,#ab510b,#a54e0a,#a54e0a,#ad520b,#bc5a0c,#d0660e,#df7012,#e77818,#ee801e,#f0872a,#f28d35,#f4923e,#f59646,#f59a4e,#f69e55)"></i></div>
<div class="m" style="left:353px;top:3px;width:98px;height:220px"><i style="background:linear-gradient(90deg,#fffaf6,#fffaf6,#fffaf6,#fffaf6,#fffaf6,#fffaf6,#fffaf6,#fffaf6,#fffaf6,#fffaf6,#fffaf6,#fffaf6,#fffaf6,#fffaf6,#fffaf6,#fffaf6,#fffaf6,#fffaf6,#fffaf6,#fffaf6,#fffaf6,#fffaf6,#fffaf6,#fffaf6,#fffaf6,#fffaf6,#fffaf6,#fffaf6,#fffaf6,#fffaf6,#fffaf6,#fffaf6,#fffaf6,#fffaf6,#fffaf6,#fffaf6,#fffaf6,#fffaf6,#fffaf6,#fffaf6,#fffaf6,#fffaf6,#fffaf6,#fffaf6,#fffaf6,#fffaf6,#fffaf6,#fffaf6,#fffaf6,#fffaf6)"></i><i style="background:linear-gradient(90deg,#fffaf6,#fffaf6,#fffaf6,#fffaf6,#fffaf6,#fffaf6,#fffaf6,#fffaf6,#fffaf6,#fffaf6,#fffaf6,#fffaf6,#fffaf6,#fffaf6,#fffaf6,#fffaf6,#fffaf6,#fffaf6,#fffaf6,#fffaf6,#fffaf6,#fffaf6,#fffaf6,#fffaf6,#fffaf6,#fffaf6,#fffaf6,#fffaf6,#fffaf6,#fffaf6,#fffaf6,#fffaf6,#fffaf6,#fffaf6,#fffaf6,#fffaf6,#fffaf6,#fffaf6,#fffaf6,#fffaf6,#fffaf6,#fffaf6,#fffaf6,#fffaf6,#fffaf6,#fffaf6,#fffaf6,#fffaf6,#fffaf6,#fffaf6)"></i><i style="background:linear-gradient(90deg,#fffaf6,#fffaf6,#fffaf6,#fffaf6,#fffaf6,#fffaf6,#fffaf6,#fffaf6,#fffaf6,#fffaf6,#fffaf6,#fffaf6,#fffaf6,#fffaf6,#fffaf6,#fffaf6,#fffaf6,#fffaf6,#fffaf6,#fffaf6,#fffaf6,#fffaf6,#fffaf6,#fffaf6,#fffaf6,#fffaf6,#fffaf6,#fffaf6,#fffaf6,#fffaf6,#fffaf6,#fffaf6,#fffaf6,#fffaf6,#fffaf6,#fffaf6,#fffaf6,#fffaf6,#fffaf6,#fffaf6,#fffaf6,#fffaf6,#fffaf6,#fffaf6,#fffaf6,#fffaf6,#fffaf6,#fffaf6,#fffaf6,#fffaf6)"></i><i style="background:linear-gradient(90deg,#fffaf6,#fffaf6,#fffaf6,#fffaf6,#fffaf6,#fffaf6,#fffaf6,#fffaf6,#fffaf6,#fffaf6,#fffaf6,#fffaf6,#fffaf6,#fffaf6,#fffaf6,#fffaf6,#fffaf6,#fffaf6,#fffaf6,#fffaf6,#fffaf6,#fffaf6,#fffaf6,#fffaf6,#fffaf6,#fffaf6,#fffaf6,#fffaf6,#fffaf6,#fffaf6,#fffaf6,#fffaf6,#fffaf6,#fffaf6,#fffaf6,#fffaf6,#fffaf6,#fffaf6,#fffaf6,#fffaf6,#fffaf6,#fffaf6,#fffaf6,#fffaf6,#fffaf6,#fffaf6,#fffaf6,#fffaf6,#fffaf6,#fffaf6)"></i><i style="background:linear-gradient(90deg,#fffaf6,#fffaf6,#fffaf6,#fffaf6,#fffaf6,#fffaf6,#fffaf6,#fffaf6,#fffaf6,#fffaf6,#fffaf6,#fffaf6,#fffaf6,#fffaf6,#fffaf6,#fffaf6,#fffaf6,#fffaf6,#fffaf6,#fffaf6,#fffaf6,#fffaf6,#fffaf6,#fffaf6,#fffaf6,#fffaf6,#fffaf6,#fffaf6,#fffaf6,#fffaf6,#fffaf6,#fffaf6,#fffaf6,#fffaf6,#fffaf6,#fffaf6,#fffaf6,#fffaf6,#fffaf6,#fffaf6,#fffaf6,#fffaf6,#fffaf6,#fffaf6,#fffaf6,#fffaf6,#fffaf6,#fffaf6,#fffaf6,#fffaf6)"></i><i style="background:linear-gradient(90deg,#fffaf6,#fffaf6,#fffaf6,#fffaf6,#fffaf6,#fffaf6,#fffaf6,#fffaf6,#fffaf6,#fffaf6,#fffaf6,#fffaf6,#fffaf6,#fffaf6,#fffaf6,#fffaf6,#fffaf6,#fffaf6,#fffaf6,#fffaf6,#fffaf6,#fffaf6,#fffaf6,#fffaf6,#fffaf6,#fffaf6,#fffaf6,#fffaf6,#fffaf6,#fffaf6,#fffaf6,#fffaf6,#fffaf6,#fffaf6,#fffaf6,#fffaf6,#fffaf6,#fffaf6,#fffaf6,#fffaf6,#fffaf6,#fffaf6,#fffaf6,#fffaf6,#fffaf6,#fffaf6,#fffaf6,#fffaf6,#fffaf6,#fffaf6)"></i><i style="background:linear-gradient(90deg,#fffaf6,#fffaf6,#fffaf6,#fffaf6,#fffaf6,#fffaf6,#fffaf6,#fffaf6,#fffaf6,#fffaf6,#fffaf6,#fffaf6,#fffaf6,#fffaf6,#fffaf6,#fffaf6,#fffaf6,#fffaf6,#fffaf6,#fffaf6,#fffaf6,#fffaf6,#fffaf6,#fffaf6,#fffaf6,#fffaf6,#fffaf6,#fffaf6,#fffaf6,#fffaf6,#fffaf6,#fffaf6,#fffaf6,#fffaf6,#fffaf6,#fffaf6,#fffaf6,#fffaf6,#fffaf6,#fffaf6,#fffaf6,#fffaf6,#fffaf6,#fffaf6,#fffaf6,#fffaf6,#fffaf6,#fffaf6,#fffaf6,#fffaf6)"></i><i style="background:linear-gradient(90deg,#fffaf6,#fffaf6,#fffaf6,#fffaf6,#fffaf6,#fffaf6,#fffaf6,#fffaf6,#fffaf6,#fffaf6,#fffaf6,#fffaf6,#fffaf6,#fffaf6,#fffaf6,#fffaf6,#fffaf6,#fffaf6,#fffaf6,#fffaf6,#fffaf6,#fffaf6,#fffaf6,#fffaf6,#fffaf6,#fffaf6,#fffaf6,#fffaf6,#fffaf6,#fffaf6,#fffaf6,#fffaf6,#fffaf6,#fffaf6,#fffaf6,#fffaf6,#fffaf6,#fffaf6,#fffaf6,#fffaf6,#fffaf6,#fffaf6,#fffaf6,#fffaf6,#fffaf6,#fffaf6,#fffaf6,#fffaf6,#fffaf6,#fffaf6)"></i><i style="background:linear-gradient(90deg,#fffaf6,#fffaf6,#fffaf6,#fffaf6,#fffaf6,#fffaf6,#fffaf6,#fffaf6,#fffaf6,#fffaf6,#fffaf6,#fffaf6,#fffaf6,#fffaf6,#fffaf6,#fffaf6,#fffaf6,#fffaf6,#fffaf6,#fffaf6,#fffaf6,#fffaf6,#fffaf6,#fffaf6,#fffaf6,#fffaf6,#fffaf6,#fffaf6,#fffaf6,#fffaf6,#fffaf6,#fffaf6,#fffaf6,#fffaf6,#fffaf6,#fffaf6,#fffaf6,#fffaf6,#fffaf6,#fffaf6,#fffaf6,#fffaf6,#fffaf6,#fffaf6,#fffaf6,#fffaf6,#fffaf6,#fffaf6,#fffaf6,#fffaf6)"></i><i style="background:linear-gradient(90deg,#fffaf6,#fffaf6,#fffaf6,#fffaf6,#fffaf6,#fffaf6,#fffaf6,#fffaf6,#fffaf6,#fffaf6,#fffaf6,#fffaf6,#fffaf6,#fffaf6,#fffaf6,#fffaf6,#fffaf6,#fffaf6,#fffaf6,#fffaf6,#fffaf6,#fffaf6,#fffaf6,#fffaf6,#fffaf6,#fffaf6,#fffaf6,#fffaf6,#fffaf6,#fffaf6,#fffaf6,#fffaf6,#fffaf6,#fffaf6,#fffaf6,#fffaf6,#fffaf6,#fffaf6,#fffaf6,#fffaf6,#fffaf6,#fffaf6,#fffaf6,#fffaf6,#fffaf6,#fffaf6,#fffaf6,#fffaf6,#fffaf6,#fffaf6)"></i><i style="background:linear-gradient(90deg,#fffaf6,#fffaf6,#fffaf6,#fffaf6,#fffaf6,#fffaf6,#fffaf6,#fffaf6,#fffaf6,#fffaf6,#fffaf6,#fffaf6,#fffaf6,#fffaf6,#fffaf6,#fffaf6,#fffaf6,#fffaf6,#fffaf6,#fffaf6,#fffaf6,#fffaf6,#fffaf6,#fffaf6,#fffaf6,#fffaf6,#fffaf6,#fffaf6,#fffaf6,#fffaf6,#fffaf6,#fffaf6,#fffaf6,#fffaf6,#fffaf6,#fffaf6,#fffaf6,#fffaf6,#fffaf6,#fffaf6,#fffaf6,#fffaf6,#fffaf6,#fffaf6,#fffaf6,#fffaf6,#fffaf6,#fffaf6,#fffaf6,#fffaf6)"></i><i style="background:linear-gradient(90deg,#fffaf6,#fffaf6,#fffaf6,#fffaf6,#fffaf6,#fffaf6,#fffaf6,#fffaf6,#fffaf6,#fffaf6,#fffaf6,#fffaf6,#fffaf6,#fffaf6,#fffaf6,#fffaf6,#fffaf6,#fffaf6,#fffaf6,#fffaf6,#fffaf6,#fffaf6,#fffaf6,#fffaf6,#fffaf6,#fffaf6,#fffaf6,#fffaf6,#fffaf6,#fffaf6,#fffaf6,#fffaf6,#fffaf6,#fffaf6,#fffaf6,#fffaf6,#fffaf6,#fffaf6,#fffaf6,#fffaf6,#fffaf6,#fffaf6,#fffaf6,#fffaf6,#fffaf6,#fffaf6,#fffaf6,#fffaf6,#fffaf6,#fffaf6)"></i><i style="background:linear-gradient(90deg,#fffaf6,#fffaf6,#fffaf6,#fffaf6,#fffaf6,#fffaf6,#fffaf6,#fffaf6,#fffaf6,#fffaf6,#fffaf6,#fffaf6,#fffaf6,#fffaf5,#fffaf5,#fffaf5,#fff9f5,#fff9f5,#fff9f5,#fff9f5,#fff9f5,#fff9f5,#fff9f5,#fff9f5,#fff9f5,#fff9f5,#fff9f5,#fff9f5,#fff9f5,#fff9f5,#fff9f5,#fff9f5,#fff9f5,#fff9f5,#fffaf5,#fffaf5,#fffaf5,#fffaf6,#fffaf6,#fffaf6,#fffaf6,#fffaf6,#fffaf6,#fffaf6,#fffaf6,#fffaf6,#fffaf6,#fffaf6,#fffaf6,#fffaf6)"></i><i style="height:1px;background:linear-gradient(90deg,#fffaf6,#fffaf6,#fffaf5,#fffaf5,#fffaf5,#fff9f5,#fff9f5,#fff9f5,#fff9f5,#fff9f5,#fff9f5,#fff9f5,#fff9f5,#fff9f4,#fff9f4,#fff9f4,#fff9f4,#fff9f4,#fef8f3,#fef8f3,#fef8f3,#fef8f3,#fef8f3,#fef8f3,#fef8f3,#fef8f3,#fef8f3,#fef8f3,#fef8f3,#fef8f3,#fef8f3,#fef8f3,#fff9f4,#fff9f4,#fff9f4,#fff9f4,#fff9f4,#fff9f5,#fff9f5,#fff9f5,#fff9f5,#fff9f5,#fff9f5,#fff9f5,#fff9f5,#fffaf5,#fffaf5,#fffaf5,#fffaf6,#fffaf6)"></i><i style="height:1px;background:linear-gradient(90deg,#fff9f5,#fff9f5,#fff9f5,#fff9f5,#fff9f5,#fff9f5,#fff9f4,#fff9f4,#fff9f4,#fff9f4,#fff9f4,#fff9f4,#fef8f3,#fef8f3,#fef8f3,#fef8f3,#fef8f2,#fef8f2,#fef7f2,#fef7f1,#fef7f1,#fef7f1,#fef7f1,#fef7f1,#fef7f1,#fef7f1,#fef7f1,#fef7f1,#fef7f1,#fef7f1,#fef7f1,#fef7f2,#fef8f2,#fef8f2,#fef8f3,#fef8f3,#fef8f3,#fef8f3,#fff9f4,#fff9f4,#fff9f4,#fff9f4,#fff9f4,#fff9f4,#fff9f5,#fff9f5,#fff9f5,#fff9f5,#fff9f5,#fff9f5)"></i><i style="height:1px;background:linear-gradient(90deg,#fff9f4,#fff9f4,#fff9f4,#fff9f4,#fff9f4,#fef8f3,#fef8f3,#fef8f3,#fef8f3,#fef8f2,#fef8f2,#fef8f2,#fef7f2,#fef7f1,#fef7f1,#fef7f0,#fef6f0,#fef6ef,#fef6ef,#fef5ee,#fef5ee,#fef5ee,#fef5ed,#fef5ed,#fef5ed,#fef5ed,#fef5ed,#fef5ed,#fef5ee,#fef5ee,#fef5ee,#fef6ef,#fef6ef,#fef6f0,#fef7f0,#fef7f1,#fef7f1,#fef7f2,#fef8f2,#fef8f2,#fef8f2,#fef8f3,#fef8f3,#fef8f3,#fef8f3,#fff9f4,#fff9f4,#fff9f4,#fff9f4,#fff9f4)"></i><i style="height:1px;background:linear-gradient(90deg,#fef8f3,#fef8f3,#fef8f3,#fef8f2,#fef8f2,#fef7f2,#fef7f1,#fef7f1,#fef7f0,#fef7f0,#fef6f0,#fef6ef,#fef6ef,#fef5ee,#fef5ed,#fef5ed,#fef4ec,#fef4eb,#fef3ea,#fef3e9,#fef2e9,#fef2e8,#fef2e8,#fef2e8,#fef2e8,#fef2e8,#fef2e8,#fef2e8,#fef2e8,#fef2e9,#fef3e9,#fef3ea,#fef4eb,#fef4ec,#fef5ed,#fef5ed,#fef5ee,#fef6ef,#fef6ef,#fef6f0,#fef7f0,#fef7f0,#fef7f1,#fef7f1,#fef7f2,#fef8f2,#fef8f2,#fef8f3,#fef8f3,#fef8f3)"></i><i style="height:1px;background:linear-gradient(90deg,#fef7f1,#fef7f1,#fef7f0,#fef6f0,#fef6ef,#fef6ef,#fef6ee,#fef5ee,#fef5ed,#fef4ec,#fef4eb,#fef4eb,#fef3ea,#fef3e9,#fef2e8,#fef1e7,#fef1e6,#fef0e4,#feefe3,#feeee1,#feeee1,#feede0,#feede0,#feede0,#feede0,#feede0,#feede0,#feede0,#feede0,#feeee1,#feeee1,#feefe3,#fef0e4,#fef1e6,#fef1e7,#fef2e8,#fef3e9,#fef3ea,#fef4eb,#fef4eb,#fef4ec,#fef5ed,#fef5ee,#fef6ee,#fef6ef,#fef6ef,#fef6f0,#fef7f0,#fef7f1,#fef7f1)"></i><i style="height:1px;background:linear-gradient(90deg,#fef5ee,#fef5ed,#fef5ed,#fef4ec,#fef4eb,#fef4eb,#fef3ea,#fef2e9,#fef2e8,#fef1e7,#fef1e6,#fef0e4,#feefe3,#feeee2,#feede0,#fdecde,#fdebdc,#fdeada,#fde9d8,#fde7d6,#fde7d5,#fde6d4,#fde6d3,#fde6d3,#fde6d3,#fde6d3,#fde6d3,#fde6d3,#fde6d4,#fde7d5,#fde7d6,#fde9d8,#fdeada,#fdebdc,#fdecde,#feede0,#feeee2,#feefe3,#fef0e4,#fef1e6,#fef1e7,#fef2e8,#fef2e9,#fef3ea,#fef4eb,#fef4eb,#fef4ec,#fef5ed,#fef5ed,#fef5ee)"></i><i style="height:1px;background:linear-gradient(90deg,#fef3ea,#fef2e9,#fef2e8,#fef1e7,#fef1e6,#fef0e5,#feefe3,#feeee2,#feeee0,#fdeddf,#fdecdd,#fdebdb,#fde9da,#fde8d8,#fde7d5,#fde5d3,#fde3cf,#fce1cc,#fce0c9,#fcdec6,#fcdcc3,#fcdbc1,#fcdbc0,#fcdbc0,#fcdbc0,#fcdbc0,#fcdbc0,#fcdbc0,#fcdbc1,#fcdcc3,#fcdec6,#fce0c9,#fce1cc,#fde3cf,#fde5d3,#fde7d5,#fde8d8,#fde9da,#fdebdb,#fdecdd,#fdeddf,#feeee0,#feeee2,#feefe3,#fef0e5,#fef1e6,#fef1e7,#fef2e8,#fef2e9,#fef3ea)"></i><i style="height:1px;background:linear-gradient(90deg,#fef0e4,#feefe3,#feeee2,#feeee0,#fdeddf,#fdecdd,#fdeadb,#fde9d9,#fde8d7,#fde7d5,#fde5d2,#fde4d0,#fce2cd,#fce0ca,#fcdec7,#fcdcc2,#fbd8bb,#fbd4b5,#fbd1ae,#facea8,#facba4,#facaa2,#fac9a0,#fac9a0,#facaa1,#facaa1,#fac9a0,#fac9a0,#facaa2,#facba4,#facea8,#fbd1ae,#fbd4b5,#fbd8bb,#fcdcc2,#fcdec7,#fce0ca,#fce2cd,#fde4d0,#fde5d2,#fde7d5,#fde8d7,#fde9d9,#fdeadb,#fdecdd,#fdeddf,#feeee0,#feeee2,#feefe3,#fef0e4)"></i><i style="height:1px;background:linear-gradient(90deg,#fdecdd,#fdebdc,#fdeada,#fde9d8,#fde8d6,#fde6d4,#fde5d1,#fde3cf,#fce1cb,#fcdfc8,#fcddc4,#fcdbc0,#fbd8bb,#fbd5b6,#fbd2af,#facda8,#fac99f,#fac496,#f9bf8d,#f9ba84,#f8b67d,#f8b379,#f8b277,#f8b277,#f8b378,#f8b378,#f8b277,#f8b277,#f8b379,#f8b67d,#f9ba84,#f9bf8d,#fac496,#fac99f,#facda8,#fbd2af,#fbd5b6,#fbd8bb,#fcdbc0,#fcddc4,#fcdfc8,#fce1cb,#fde3cf,#fde5d1,#fde6d4,#fde8d6,#fde9d8,#fdeada,#fdebdc,#fdecdd)"></i><i style="height:1px;background:linear-gradient(90deg,#fde8d6,#fde7d5,#fde5d3,#fde4d0,#fce2cd,#fce1ca,#fcdfc7,#fcdcc3,#fcd9bd,#fbd6b7,#fbd3b2,#fbcfab,#facca5,#fac89e,#fac496,#f9bf8d,#f8b780,#f7af72,#f7a764,#f6a058,#f59b4f,#f59849,#f59646,#f59647,#f59748,#f59748,#f59647,#f59646,#f59849,#f59b4f,#f6a058,#f7a764,#f7af72,#f8b780,#f9bf8d,#fac496,#fac89e,#facca5,#fbcfab,#fbd3b2,#fbd6b7,#fcd9bd,#fcdcc3,#fcdfc7,#fce1ca,#fce2cd,#fde4d0,#fde5d3,#fde7d5,#fde8d6)"></i><i style="height:1px;background:linear-gradient(90deg,#fde4d0,#fce3ce,#fce1cb,#fce0c9,#fcdec5,#fcdbc0,#fbd8bb,#fbd4b5,#fbd1ae,#facda7,#fac9a0,#fac599,#f9c191,#f9bc88,#f8b57d,#f7ad6f,#f6a45f,#f59a4d,#f4923f,#f28c35,#f1882d,#f08528,#ef8425,#ef8426,#f08527,#f08527,#ef8426,#ef8425,#f08528,#f1882d,#f28c35,#f4923f,#f59a4d,#f6a45f,#f7ad6f,#f8b57d,#f9bc88,#f9c191,#fac599,#fac9a0,#facda7,#fbd1ae,#fbd4b5,#fbd8bb,#fcdbc0,#fcdec5,#fce0c9,#fce1cb,#fce3ce,#fde4d0)"></i><i style="height:1px;background:linear-gradient(90deg,#fce1cb,#fcdfc9,#fcdec6,#fcdbc1,#fbd9bc,#fbd5b7,#fbd2b0,#fbcea9,#facaa2,#fac69a,#f9c192,#f9bc89,#f8b67e,#f8af72,#f7a865,#f69f55,#f59544,#f28d36,#f08528,#ed7e1d,#e87919,#e47516,#e37415,#e37415,#e47516,#e47516,#e37415,#e37415,#e47516,#e87919,#ed7e1d,#f08528,#f28d36,#f59544,#f69f55,#f7a865,#f8af72,#f8b67e,#f9bc89,#f9c192,#fac69a,#facaa2,#fbcea9,#fbd2b0,#fbd5b7,#fbd9bc,#fcdbc1,#fcdec6,#fcdfc9,#fce1cb)"></i><i style="height:1px;background:linear-gradient(90deg,#fcdfc7,#fcddc4,#fcdbc0,#fbd8bb,#fbd5b6,#fbd2af,#facea9,#facaa1,#fac599,#f9c090,#f9bb86,#f8b47b,#f7ad6f,#f7a662,#f69e54,#f59543,#f28d35,#ef8425,#e97b1a,#e27314,#dc6d0f,#d2660e,#cd640e,#cd640e,#d0650e,#d0650e,#cd640e,#cd640e,#d2660e,#dc6d0f,#e27314,#e97b1a,#ef8425,#f28d35,#f59543,#f69e54,#f7a662,#f7ad6f,#f8b47b,#f9bb86,#f9c090,#fac599,#facaa1,#facea9,#fbd2af,#fbd5b6,#fbd8bb,#fcdbc0,#fcddc4,#fcdfc7)"></i><i style="height:1px;background:linear-gradient(90deg,#fcddc4,#fcdbc0,#fbd8bc,#fbd6b7,#fbd3b1,#fbcfab,#facba4,#fac79c,#f9c293,#f9bc89,#f8b67d,#f7af71,#f7a765,#f6a057,#f59748,#f38f3a,#f0872b,#ec7d1c,#e37315,#d86a0f,#c45f0d,#b7580c,#b1550b,#b2550b,#b5560c,#b5560c,#b2550b,#b1550b,#b7580c,#c45f0d,#d86a0f,#e37315,#ec7d1c,#f0872b,#f38f3a,#f59748,#f6a057,#f7a765,#f7af71,#f8b67d,#f9bc89,#f9c293,#fac79c,#facba4,#fbcfab,#fbd3b1,#fbd6b7,#fbd8bc,#fcdbc0,#fcddc4)"></i><i style="height:1px;background:linear-gradient(90deg,#fcdcc2,#fcdabe,#fbd7ba,#fbd4b4,#fbd1af,#facda8,#fac9a0,#fac598,#f9c08f,#f9ba84,#f8b378,#f7ab6b,#f6a45e,#f69c50,#f49442,#f28c34,#ef8324,#e87919,#de6f11,#c8610d,#b2550c,#a54e0a,#9f4a0a,#9f4b0a,#a24c0a,#a24c0a,#9f4b0a,#9f4a0a,#a54e0a,#b2550c,#c8610d,#de6f11,#e87919,#ef8324,#f28c34,#f49442,#f69c50,#f6a45e,#f7ab6b,#f8b378,#f9ba84,#f9c08f,#fac598,#fac9a0,#facda8,#fbd1af,#fbd4b4,#fbd7ba,#fcdabe,#fcdcc2)"></i><i style="height:1px;background:linear-gradient(90deg,#fcdbc1,#fcd9bd,#fbd7b8,#fbd4b3,#fbd0ad,#facda6,#fac89f,#fac496,#f9bf8d,#f8b881,#f8b175,#f7a968,#f6a25a,#f5994c,#f4923f,#f18b31,#ef8221,#e67717,#dc6c0f,#bf5c0d,#a8500b,#994809,#924409,#924409,#954609,#954609,#924409,#924409,#994809,#a8500b,#bf5c0d,#dc6c0f,#e67717,#ef8221,#f18b31,#f4923f,#f5994c,#f6a25a,#f7a968,#f8b175,#f8b881,#f9bf8d,#fac496,#fac89f,#facda6,#fbd0ad,#fbd4b3,#fbd7b8,#fcd9bd,#fcdbc1)"></i><i style="height:1px;background:linear-gradient(90deg,#fcdbc1,#fcd9bd,#fbd6b8,#fbd3b3,#fbd0ad,#facca6,#fac89e,#fac396,#f9be8d,#f8b781,#f8b074,#f7a967,#f6a159,#f5984a,#f4913e,#f18a30,#ee8120,#e57617,#d96a0f,#ba5a0c,#a24c0a,#914409,#894108,#894008,#8d4209,#8d4209,#894008,#894108,#914409,#a24c0a,#ba5a0c,#d96a0f,#e57617,#ee8120,#f18a30,#f4913e,#f5984a,#f6a159,#f7a967,#f8b074,#f8b781,#f9be8d,#fac396,#fac89e,#facca6,#fbd0ad,#fbd3b3,#fbd6b8,#fcd9bd,#fcdbc1)"></i><i style="height:1px;background:linear-gradient(90deg,#fcdbc1,#fcd9bd,#fbd6b8,#fbd3b3,#fbd0ad,#facda6,#fac89f,#fac496,#f9bf8d,#f8b881,#f8b074,#f7a967,#f6a159,#f5984a,#f4913e,#f18a30,#ee8120,#e57617,#d86a0f,#b8580c,#9f4b0a,#8d4209,#843e08,#833e08,#873f08,#873f08,#833e08,#843e08,#8d4209,#9f4b0a,#b8580c,#d86a0f,#e57617,#ee8120,#f18a30,#f4913e,#f5984a,#f6a159,#f7a967,#f8b074,#f8b881,#f9bf8d,#fac496,#fac89f,#facda6,#fbd0ad,#fbd3b3,#fbd6b8,#fcd9bd,#fcdbc1)"></i><i style="height:1px;background:linear-gradient(90deg,#fcdbc1,#fcd9bd,#fbd7b9,#fbd4b3,#fbd1ae,#facda7,#fac99f,#fac497,#f9bf8e,#f8b882,#f8b175,#f7a968,#f6a15a,#f5994b,#f4923e,#f18a31,#ee8120,#e57617,#d86a0f,#b8580c,#9d4a0a,#8a4108,#813d08,#803c08,#833d08,#833d08,#803c08,#813d08,#8a4108,#9d4a0a,#b8580c,#d86a0f,#e57617,#ee8120,#f18a31,#f4923e,#f5994b,#f6a15a,#f7a968,#f8b175,#f8b882,#f9bf8e,#fac497,#fac99f,#facda7,#fbd1ae,#fbd4b3,#fbd7b9,#fcd9bd,#fcdbc1)"></i><i style="background:linear-gradient(90deg,#fcdcc2,#fcd9be,#fbd7b9,#fbd4b4,#fbd1af,#facea8,#fac9a1,#fac599,#f9c08f,#f9b984,#f8b277,#f7aa6a,#f6a25c,#f59a4d,#f49240,#f28b32,#ef8222,#e67718,#db6b0f,#b9590c,#9d4a0a,#884008,#7e3b07,#7c3a07,#7f3c07,#7f3c07,#7c3a07,#7e3b07,#884008,#9d4a0a,#b9590c,#db6b0f,#e67718,#ef8222,#f28b32,#f49240,#f59a4d,#f6a25c,#f7aa6a,#f8b277,#f9b984,#f9c08f,#fac599,#fac9a1,#facea8,#fbd1af,#fbd4b4,#fbd7b9,#fcd9be,#fcdcc2)"></i><i style="background:linear-gradient(90deg,#fcdcc3,#fcdabf,#fbd8bb,#fbd5b6,#fbd2b1,#fbcfaa,#facba3,#fac69b,#f9c192,#f9bb87,#f8b47b,#f7ac6d,#f6a45f,#f69c50,#f49442,#f28d35,#ef8425,#e87919,#dd6d10,#bd5b0c,#9f4b0a,#884008,#7b3a07,#793907,#7b3a07,#7b3a07,#793907,#7b3a07,#884008,#9f4b0a,#bd5b0c,#dd6d10,#e87919,#ef8425,#f28d35,#f49442,#f69c50,#f6a45f,#f7ac6d,#f8b47b,#f9bb87,#f9c192,#fac69b,#facba3,#fbcfaa,#fbd2b1,#fbd5b6,#fbd8bb,#fcdabf,#fcdcc3)"></i><i style="background:linear-gradient(90deg,#fcddc4,#fcdbc0,#fbd9bc,#fbd6b8,#fbd3b2,#fbd0ac,#facca5,#fac89e,#f9c395,#f9bd8b,#f8b67e,#f7af71,#f7a663,#f69e54,#f59545,#f38e38,#f08628,#ea7b1a,#df6f11,#c25e0d,#a24c0a,#894008,#7a3a07,#763807,#783807,#783807,#763807,#7a3a07,#894008,#a24c0a,#c25e0d,#df6f11,#ea7b1a,#f08628,#f38e38,#f59545,#f69e54,#f7a663,#f7af71,#f8b67e,#f9bd8b,#f9c395,#fac89e,#facca5,#fbd0ac,#fbd3b2,#fbd6b8,#fbd9bc,#fcdbc0,#fcddc4)"></i><i style="background:linear-gradient(90deg,#fcddc5,#fcdcc2,#fcd9be,#fbd7b9,#fbd4b4,#fbd1ae,#facda8,#fac9a0,#fac498,#f9bf8e,#f8b882,#f8b175,#f7a967,#f6a058,#f59748,#f3903b,#f0882c,#ec7d1c,#e17113,#c7610d,#a64e0a,#8b4108,#7a3907,#743707,#753707,#753707,#743707,#7a3907,#8b4108,#a64e0a,#c7610d,#e17113,#ec7d1c,#f0882c,#f3903b,#f59748,#f6a058,#f7a967,#f8b175,#f8b882,#f9bf8e,#fac498,#fac9a0,#facda8,#fbd1ae,#fbd4b4,#fbd7b9,#fcd9be,#fcdcc2,#fcddc5)"></i><i style="background:linear-gradient(90deg,#fcdec6,#fcdcc3,#fcdabf,#fbd8bb,#fbd5b6,#fbd2b1,#fbcfaa,#facba3,#fac69a,#f9c191,#f9bb86,#f8b379,#f7ab6b,#f6a35c,#f59a4d,#f4923e,#f18a2f,#ee801e,#e37415,#cf650e,#ac520b,#904409,#7e3b07,#773807,#773807,#773807,#773807,#7e3b07,#904409,#ac520b,#cf650e,#e37415,#ee801e,#f18a2f,#f4923e,#f59a4d,#f6a35c,#f7ab6b,#f8b379,#f9bb86,#f9c191,#fac69a,#facba3,#fbcfaa,#fbd2b1,#fbd5b6,#fbd8bb,#fcdabf,#fcdcc3,#fcdec6)"></i><i style="background:linear-gradient(90deg,#fcdec7,#fcddc4,#fcdbc1,#fcd9bd,#fbd6b8,#fbd3b3,#fbd0ac,#facca5,#fac79d,#f9c394,#f9bd8a,#f8b57d,#f7ad6f,#f7a560,#f69c51,#f49441,#f28c33,#ef8222,#e57717,#d6690f,#b3550c,#964609,#823d08,#7a3907,#793907,#793907,#7a3907,#823d08,#964609,#b3550c,#d6690f,#e57717,#ef8222,#f28c33,#f49441,#f69c51,#f7a560,#f7ad6f,#f8b57d,#f9bd8a,#f9c394,#fac79d,#facca5,#fbd0ac,#fbd3b3,#fbd6b8,#fcd9bd,#fcdbc1,#fcddc4,#fcdec7)"></i><i style="background:linear-gradient(90deg,#fcdfc8,#fcdec5,#fcdcc2,#fcdabe,#fbd7b9,#fbd4b4,#fbd1ae,#facda8,#fac9a0,#fac497,#f9bf8d,#f8b881,#f8b073,#f7a764,#f69f55,#f59545,#f28e37,#ef8426,#e87919,#dc6d0f,#ba590c,#9b490a,#863f08,#7d3b07,#7b3a07,#7b3a07,#7d3b07,#863f08,#9b490a,#ba590c,#dc6d0f,#e87919,#ef8426,#f28e37,#f59545,#f69f55,#f7a764,#f8b073,#f8b881,#f9bf8d,#fac497,#fac9a0,#facda8,#fbd1ae,#fbd4b4,#fbd7b9,#fcdabe,#fcdcc2,#fcdec5,#fcdfc8)"></i><i style="background:linear-gradient(90deg,#fcdfc8,#fcdec6,#fcdcc3,#fcdabf,#fbd8bb,#fbd5b6,#fbd2b0,#fbceaa,#facaa2,#fac69a,#f9c090,#f9ba84,#f8b277,#f7aa68,#f6a159,#f59748,#f38f3a,#f0862a,#ea7b1b,#df6f11,#c05d0d,#a14c0a,#8a4108,#7f3c07,#7d3b07,#7d3b07,#7f3c07,#8a4108,#a14c0a,#c05d0d,#df6f11,#ea7b1b,#f0862a,#f38f3a,#f59748,#f6a159,#f7aa68,#f8b277,#f9ba84,#f9c090,#fac69a,#facaa2,#fbceaa,#fbd2b0,#fbd5b6,#fbd8bb,#fcdabf,#fcdcc3,#fcdec6,#fcdfc8)"></i><i style="background:linear-gradient(90deg,#fce0c9,#fcdec7,#fcddc4,#fcdbc0,#fbd9bc,#fbd6b7,#fbd3b2,#fbcfac,#facba4,#fac79c,#f9c293,#f9bc88,#f8b47a,#f7ac6c,#f6a35d,#f59a4c,#f3913d,#f1882d,#ec7e1c,#e17213,#c7610d,#a74f0b,#8f4309,#823d08,#7e3b07,#7e3b07,#823d08,#8f4309,#a74f0b,#c7610d,#e17213,#ec7e1c,#f1882d,#f3913d,#f59a4c,#f6a35d,#f7ac6c,#f8b47a,#f9bc88,#f9c293,#fac79c,#facba4,#fbcfac,#fbd3b2,#fbd6b7,#fbd9bc,#fcdbc0,#fcddc4,#fcdec7,#fce0c9)"></i><i style="background:linear-gradient(90deg,#fce0c9,#fcdfc7,#fcddc5,#fcdbc1,#fcd9bd,#fbd7b9,#fbd4b4,#fbd1ae,#facda7,#fac89f,#f9c396,#f9be8b,#f8b67e,#f7ae70,#f7a561,#f69c50,#f49340,#f18a31,#ee801f,#e37415,#cf650e,#ad520b,#944509,#853e08,#803c08,#803c08,#853e08,#944509,#ad520b,#cf650e,#e37415,#ee801f,#f18a31,#f49340,#f69c50,#f7a561,#f7ae70,#f8b67e,#f9be8b,#f9c396,#fac89f,#facda7,#fbd1ae,#fbd4b4,#fbd7b9,#fcd9bd,#fcdbc1,#fcddc5,#fcdfc7,#fce0c9)"></i><i style="background:linear-gradient(90deg,#fce0ca,#fcdfc8,#fcdec6,#fcdcc2,#fcdabf,#fbd8ba,#fbd5b5,#fbd2af,#facea9,#facaa1,#fac598,#f9bf8e,#f8b882,#f8b074,#f7a765,#f69e54,#f59543,#f28c34,#ef8222,#e67717,#d6690e,#b3560c,#994809,#884008,#813d08,#813d08,#884008,#994809,#b3560c,#d6690e,#e67717,#ef8222,#f28c34,#f59543,#f69e54,#f7a765,#f8b074,#f8b882,#f9bf8e,#fac598,#facaa1,#facea9,#fbd2af,#fbd5b5,#fbd8ba,#fcdabf,#fcdcc2,#fcdec6,#fcdfc8,#fce0ca)"></i><i style="background:linear-gradient(90deg,#fce0ca,#fcdfc8,#fcdec6,#fcddc3,#fcdbc0,#fbd8bc,#fbd6b7,#fbd2b1,#fbcfab,#facba3,#fac69b,#f9c191,#f9ba85,#f8b277,#f7aa68,#f6a058,#f59646,#f28e38,#ef8426,#e87919,#dc6c0f,#ba590c,#9e4a0a,#8c4208,#843e08,#843e08,#8c4208,#9e4a0a,#ba590c,#dc6c0f,#e87919,#ef8426,#f28e38,#f59646,#f6a058,#f7aa68,#f8b277,#f9ba85,#f9c191,#fac69b,#facba3,#fbcfab,#fbd2b1,#fbd6b7,#fbd8bc,#fcdbc0,#fcddc3,#fcdec6,#fcdfc8,#fce0ca)"></i><i style="background:linear-gradient(90deg,#fce1ca,#fce0c9,#fcdfc7,#fcddc4,#fcdbc1,#fcd9bd,#fbd6b8,#fbd3b3,#fbd0ad,#facca5,#fac79d,#f9c294,#f9bc89,#f8b47b,#f7ac6c,#f6a35c,#f5994a,#f3903b,#f0862a,#ea7b1a,#de6f11,#c15d0d,#a44d0a,#914409,#894008,#894008,#914409,#a44d0a,#c15d0d,#de6f11,#ea7b1a,#f0862a,#f3903b,#f5994a,#f6a35c,#f7ac6c,#f8b47b,#f9bc89,#f9c294,#fac79d,#facca5,#fbd0ad,#fbd3b3,#fbd6b8,#fcd9bd,#fcdbc1,#fcddc4,#fcdfc7,#fce0c9,#fce1ca)"></i><i style="background:linear-gradient(90deg,#fce1cb,#fce0c9,#fcdfc7,#fcdec5,#fcdcc2,#fcdabe,#fbd7ba,#fbd4b4,#fbd1ae,#facda8,#fac9a0,#fac497,#f9be8c,#f8b67f,#f7ae70,#f6a560,#f59b4e,#f4913e,#f1882d,#ec7d1c,#e07113,#c7610d,#aa510b,#964709,#8d4209,#8d4209,#964709,#aa510b,#c7610d,#e07113,#ec7d1c,#f1882d,#f4913e,#f59b4e,#f6a560,#f7ae70,#f8b67f,#f9be8c,#fac497,#fac9a0,#facda8,#fbd1ae,#fbd4b4,#fbd7ba,#fcdabe,#fcdcc2,#fcdec5,#fcdfc7,#fce0c9,#fce1cb)"></i><i style="background:linear-gradient(90deg,#fce1cb,#fce0c9,#fcdfc8,#fcdec6,#fcdcc2,#fcdabf,#fbd8ba,#fbd5b5,#fbd2b0,#facea9,#facaa1,#fac598,#f9bf8f,#f8b882,#f8b073,#f7a764,#f69d52,#f49341,#f18a30,#ed7f1e,#e27314,#cd640e,#af530b,#9a480a,#8f4309,#8f4309,#9a480a,#af530b,#cd640e,#e27314,#ed7f1e,#f18a30,#f49341,#f69d52,#f7a764,#f8b073,#f8b882,#f9bf8f,#fac598,#facaa1,#facea9,#fbd2b0,#fbd5b5,#fbd8ba,#fcdabf,#fcdcc2,#fcdec6,#fcdfc8,#fce0c9,#fce1cb)"></i><i style="background:linear-gradient(90deg,#fce1cb,#fce0ca,#fcdfc8,#fcdec6,#fcdcc3,#fcdabf,#fbd8bb,#fbd5b6,#fbd2b1,#fbcfaa,#facba3,#fac69a,#f9c191,#f9ba85,#f8b277,#f7a967,#f69f56,#f59543,#f28c33,#ee8120,#e47516,#d3670e,#b4560c,#9e4a0a,#924409,#924409,#9e4a0a,#b4560c,#d3670e,#e47516,#ee8120,#f28c33,#f59543,#f69f56,#f7a967,#f8b277,#f9ba85,#f9c191,#fac69a,#facba3,#fbcfaa,#fbd2b1,#fbd5b6,#fbd8bb,#fcdabf,#fcdcc3,#fcdec6,#fcdfc8,#fce0ca,#fce1cb)"></i><i style="background:linear-gradient(90deg,#fce1cb,#fce0ca,#fcdfc8,#fcdec6,#fcddc3,#fcdbc0,#fbd8bc,#fbd6b7,#fbd3b1,#fbcfab,#facba4,#fac79c,#f9c293,#f9bb88,#f8b47a,#f7ab6b,#f6a15a,#f59646,#f28d36,#ef8323,#e67717,#d96a0f,#b8580c,#a14c0a,#944609,#944609,#a14c0a,#b8580c,#d96a0f,#e67717,#ef8323,#f28d36,#f59646,#f6a15a,#f7ab6b,#f8b47a,#f9bb88,#f9c293,#fac79c,#facba4,#fbcfab,#fbd3b1,#fbd6b7,#fbd8bc,#fcdbc0,#fcddc3,#fcdec6,#fcdfc8,#fce0ca,#fce1cb)"></i><i style="background:linear-gradient(90deg,#fce1cb,#fce0ca,#fcdfc8,#fcdec6,#fcddc4,#fcdbc0,#fbd9bc,#fbd6b8,#fbd3b2,#fbd0ac,#facca5,#fac89d,#f9c394,#f9bd8a,#f8b57d,#f7ad6e,#f6a35d,#f5984a,#f38f39,#f08527,#e87919,#dd6d10,#bd5b0c,#a54e0a,#974709,#974709,#a54e0a,#bd5b0c,#dd6d10,#e87919,#f08527,#f38f39,#f5984a,#f6a35d,#f7ad6e,#f8b57d,#f9bd8a,#f9c394,#fac89d,#facca5,#fbd0ac,#fbd3b2,#fbd6b8,#fbd9bc,#fcdbc0,#fcddc4,#fcdec6,#fcdfc8,#fce0ca,#fce1cb)"></i><i style="background:linear-gradient(90deg,#fce1cb,#fce0ca,#fcdfc8,#fcdec7,#fcddc4,#fcdbc1,#fcd9bd,#fbd6b8,#fbd4b3,#fbd0ad,#facda6,#fac89f,#fac496,#f9be8c,#f8b77f,#f7ae71,#f7a560,#f59a4e,#f3903c,#f0862a,#e97b1a,#de6e11,#c25e0d,#a84f0b,#9a480a,#9a480a,#a84f0b,#c25e0d,#de6e11,#e97b1a,#f0862a,#f3903c,#f59a4e,#f7a560,#f7ae71,#f8b77f,#f9be8c,#fac496,#fac89f,#facda6,#fbd0ad,#fbd4b3,#fbd6b8,#fcd9bd,#fcdbc1,#fcddc4,#fcdec7,#fcdfc8,#fce0ca,#fce1cb)"></i><i style="background:linear-gradient(90deg,#fce1cb,#fce0ca,#fce0c9,#fcdfc7,#fcddc4,#fcdbc1,#fcd9bd,#fbd7b9,#fbd4b4,#fbd1ae,#facda7,#fac9a0,#fac498,#f9bf8e,#f8b882,#f8b073,#f7a763,#f69c51,#f4923e,#f1882c,#eb7d1b,#e07012,#c6600d,#ac510b,#9d4a0a,#9d4a0a,#ac510b,#c6600d,#e07012,#eb7d1b,#f1882c,#f4923e,#f69c51,#f7a763,#f8b073,#f8b882,#f9bf8e,#fac498,#fac9a0,#facda7,#fbd1ae,#fbd4b4,#fbd7b9,#fcd9bd,#fcdbc1,#fcddc4,#fcdfc7,#fce0c9,#fce0ca,#fce1cb)"></i><i style="background:linear-gradient(90deg,#fce1cb,#fce0ca,#fce0c9,#fcdfc7,#fcddc5,#fcdcc2,#fcdabe,#fbd7ba,#fbd4b5,#fbd1af,#facea8,#facaa1,#fac599,#f9c090,#f9b984,#f8b176,#f7a866,#f69e54,#f49341,#f1892f,#ec7e1d,#e17213,#ca620e,#af530b,#a04b0a,#a04b0a,#af530b,#ca620e,#e17213,#ec7e1d,#f1892f,#f49341,#f69e54,#f7a866,#f8b176,#f9b984,#f9c090,#fac599,#facaa1,#facea8,#fbd1af,#fbd4b5,#fbd7ba,#fcdabe,#fcdcc2,#fcddc5,#fcdfc7,#fce0c9,#fce0ca,#fce1cb)"></i><i style="background:linear-gradient(90deg,#fce1cb,#fce0ca,#fce0c9,#fcdfc7,#fcdec5,#fcdcc2,#fcdabe,#fbd8ba,#fbd5b5,#fbd2b0,#fbcea9,#facaa2,#fac69a,#f9c191,#f9bb86,#f8b378,#f7aa69,#f6a057,#f49443,#f18b31,#ee801e,#e27314,#cd640e,#b1540b,#a14c0a,#a14c0a,#b1540b,#cd640e,#e27314,#ee801e,#f18b31,#f49443,#f6a057,#f7aa69,#f8b378,#f9bb86,#f9c191,#fac69a,#facaa2,#fbcea9,#fbd2b0,#fbd5b5,#fbd8ba,#fcdabe,#fcdcc2,#fcdec5,#fcdfc7,#fce0c9,#fce0ca,#fce1cb)"></i><i style="background:linear-gradient(90deg,#fce1cb,#fce0ca,#fce0c9,#fcdfc7,#fcdec5,#fcdcc2,#fcdabf,#fbd8bb,#fbd5b6,#fbd2b1,#fbcfaa,#facba3,#fac69b,#f9c292,#f9bc88,#f8b47a,#f7ab6b,#f6a15a,#f59645,#f28c34,#ee8120,#e37415,#cf650e,#b1540b,#a04b0a,#a04b0a,#b1540b,#cf650e,#e37415,#ee8120,#f28c34,#f59645,#f6a15a,#f7ab6b,#f8b47a,#f9bc88,#f9c292,#fac69b,#facba3,#fbcfaa,#fbd2b1,#fbd5b6,#fbd8bb,#fcdabf,#fcdcc2,#fcdec5,#fcdfc7,#fce0c9,#fce0ca,#fce1cb)"></i><i style="background:linear-gradient(90deg,#fce1cb,#fce1ca,#fce0c9,#fcdfc8,#fcdec6,#fcdcc3,#fcdabf,#fbd8bb,#fbd6b7,#fbd3b1,#fbcfab,#facba4,#fac79c,#f9c294,#f9bc89,#f8b57c,#f7ac6d,#f6a35c,#f59747,#f28d36,#ef8221,#e47516,#d0660e,#b1540b,#9f4a0a,#9f4a0a,#b1540b,#d0660e,#e47516,#ef8221,#f28d36,#f59747,#f6a35c,#f7ac6d,#f8b57c,#f9bc89,#f9c294,#fac79c,#facba4,#fbcfab,#fbd3b1,#fbd6b7,#fbd8bb,#fcdabf,#fcdcc3,#fcdec6,#fcdfc8,#fce0c9,#fce1ca,#fce1cb)"></i><i style="background:linear-gradient(90deg,#fce1cb,#fce1ca,#fce0c9,#fcdfc8,#fcdec6,#fcdcc3,#fcdbc0,#fbd8bc,#fbd6b7,#fbd3b2,#fbd0ac,#facca5,#fac79d,#f9c395,#f9bd8b,#f8b67d,#f7ad6f,#f6a35d,#f59749,#f28d36,#ef8222,#e47516,#d2660e,#b2550b,#a04b0a,#a04b0a,#b2550b,#d2660e,#e47516,#ef8222,#f28d36,#f59749,#f6a35d,#f7ad6f,#f8b67d,#f9bd8b,#f9c395,#fac79d,#facca5,#fbd0ac,#fbd3b2,#fbd6b7,#fbd8bc,#fcdbc0,#fcdcc3,#fcdec6,#fcdfc8,#fce0c9,#fce1ca,#fce1cb)"></i><i style="background:linear-gradient(90deg,#fce1cb,#fce1ca,#fce0c9,#fcdfc8,#fcdec6,#fcddc3,#fcdbc0,#fbd9bc,#fbd6b8,#fbd3b3,#fbd0ad,#facca6,#fac89e,#f9c395,#f9be8c,#f8b67f,#f7ae70,#f6a45e,#f5984a,#f28e37,#ef8323,#e57616,#d3670e,#b3550c,#a14c0a,#a14c0a,#b3550c,#d3670e,#e57616,#ef8323,#f28e37,#f5984a,#f6a45e,#f7ae70,#f8b67f,#f9be8c,#f9c395,#fac89e,#facca6,#fbd0ad,#fbd3b3,#fbd6b8,#fbd9bc,#fcdbc0,#fcddc3,#fcdec6,#fcdfc8,#fce0c9,#fce1ca,#fce1cb)"></i><i style="background:linear-gradient(90deg,#fce1cb,#fce1ca,#fce0c9,#fcdfc8,#fcdec6,#fcddc4,#fcdbc0,#fcd9bd,#fbd6b8,#fbd4b3,#fbd0ad,#facda7,#fac89f,#fac496,#f9be8d,#f8b780,#f7ae71,#f6a45f,#f5994b,#f28e38,#ef8323,#e57617,#d4680e,#b4560c,#a24c0a,#a24c0a,#b4560c,#d4680e,#e57617,#ef8323,#f28e38,#f5994b,#f6a45f,#f7ae71,#f8b780,#f9be8d,#fac496,#fac89f,#facda7,#fbd0ad,#fbd4b3,#fbd6b8,#fcd9bd,#fcdbc0,#fcddc4,#fcdec6,#fcdfc8,#fce0c9,#fce1ca,#fce1cb)"></i><i style="background:linear-gradient(90deg,#fce1cb,#fce1ca,#fce0c9,#fcdfc8,#fcdec6,#fcddc4,#fcdbc1,#fcd9bd,#fbd7b9,#fbd4b4,#fbd1ae,#facda7,#fac9a0,#fac497,#f9bf8e,#f8b881,#f8af72,#f7a560,#f5994b,#f38e38,#ef8324,#e57617,#d5680e,#b5570c,#a34d0a,#a34d0a,#b5570c,#d5680e,#e57617,#ef8324,#f38e38,#f5994b,#f7a560,#f8af72,#f8b881,#f9bf8e,#fac497,#fac9a0,#facda7,#fbd1ae,#fbd4b4,#fbd7b9,#fcd9bd,#fcdbc1,#fcddc4,#fcdec6,#fcdfc8,#fce0c9,#fce1ca,#fce1cb)"></i><i style="background:linear-gradient(90deg,#fce1cb,#fce0ca,#fce0c9,#fcdfc8,#fcdec6,#fcddc4,#fcdbc1,#fcd9be,#fbd7b9,#fbd4b4,#fbd1af,#facda8,#fac9a1,#fac598,#f9bf8f,#f8b882,#f8b073,#f7a661,#f59a4c,#f38f39,#ef8424,#e67717,#d6690f,#b7570c,#a54e0a,#a54e0a,#b7570c,#d6690f,#e67717,#ef8424,#f38f39,#f59a4c,#f7a661,#f8b073,#f8b882,#f9bf8f,#fac598,#fac9a1,#facda8,#fbd1af,#fbd4b4,#fbd7b9,#fcd9be,#fcdbc1,#fcddc4,#fcdec6,#fcdfc8,#fce0c9,#fce0ca,#fce1cb)"></i><i style="background:linear-gradient(90deg,#fce1cb,#fce0ca,#fce0c9,#fcdfc8,#fcdec6,#fcddc4,#fcdbc1,#fcdabe,#fbd7ba,#fbd5b5,#fbd1af,#facea9,#facaa1,#fac599,#f9c08f,#f8b983,#f8b074,#f7a662,#f59a4d,#f38f39,#ef8425,#e67717,#d7690f,#b8580c,#a64e0b,#a64e0b,#b8580c,#d7690f,#e67717,#ef8425,#f38f39,#f59a4d,#f7a662,#f8b074,#f8b983,#f9c08f,#fac599,#facaa1,#facea9,#fbd1af,#fbd5b5,#fbd7ba,#fcdabe,#fcdbc1,#fcddc4,#fcdec6,#fcdfc8,#fce0c9,#fce0ca,#fce1cb)"></i><i style="background:linear-gradient(90deg,#fce1cb,#fce0ca,#fce0c9,#fcdfc8,#fcdec7,#fcddc4,#fcdcc2,#fcdabe,#fbd8ba,#fbd5b5,#fbd2b0,#fbceaa,#facaa2,#fac69a,#f9c090,#f9b984,#f8b175,#f7a763,#f59a4e,#f38f3a,#ef8425,#e67718,#d86a0f,#b9590c,#a74f0b,#a74f0b,#b9590c,#d86a0f,#e67718,#ef8425,#f38f3a,#f59a4e,#f7a763,#f8b175,#f9b984,#f9c090,#fac69a,#facaa2,#fbceaa,#fbd2b0,#fbd5b5,#fbd8ba,#fcdabe,#fcdcc2,#fcddc4,#fcdec7,#fcdfc8,#fce0c9,#fce0ca,#fce1cb)"></i><i style="background:linear-gradient(90deg,#fce1cb,#fce0ca,#fce0c9,#fcdfc8,#fcdec6,#fcddc4,#fcdbc1,#fcdabe,#fbd7ba,#fbd5b5,#fbd2b0,#fbcea9,#facaa2,#fac69a,#f9c090,#f9b984,#f8b175,#f7a763,#f59a4e,#f38f3a,#ef8425,#e67718,#d96a0f,#ba590c,#a9500b,#a9500b,#ba590c,#d96a0f,#e67718,#ef8425,#f38f3a,#f59a4e,#f7a763,#f8b175,#f9b984,#f9c090,#fac69a,#facaa2,#fbcea9,#fbd2b0,#fbd5b5,#fbd7ba,#fcdabe,#fcdbc1,#fcddc4,#fcdec6,#fcdfc8,#fce0c9,#fce0ca,#fce1cb)"></i><i style="background:linear-gradient(90deg,#fce1ca,#fce0c9,#fcdfc8,#fcdfc7,#fcdec6,#fcddc3,#fcdbc1,#fcd9bd,#fbd7b9,#fbd4b4,#fbd1af,#facea8,#facaa1,#fac599,#f9c08f,#f8b983,#f8b074,#f7a662,#f59a4d,#f38f39,#ef8425,#e67718,#d96a0f,#bb5a0c,#aa500b,#aa500b,#bb5a0c,#d96a0f,#e67718,#ef8425,#f38f39,#f59a4d,#f7a662,#f8b074,#f8b983,#f9c08f,#fac599,#facaa1,#facea8,#fbd1af,#fbd4b4,#fbd7b9,#fcd9bd,#fcdbc1,#fcddc3,#fcdec6,#fcdfc7,#fcdfc8,#fce0c9,#fce1ca)"></i><i style="background:linear-gradient(90deg,#fce0ca,#fce0c9,#fcdfc8,#fcdec7,#fcddc5,#fcdcc3,#fcdbc0,#fbd9bc,#fbd6b8,#fbd4b3,#fbd1ae,#facda7,#fac9a0,#fac498,#f9bf8e,#f8b882,#f8af72,#f7a561,#f5994c,#f38f38,#ef8425,#e67717,#d96a0f,#bb5a0c,#ab510b,#ab510b,#bb5a0c,#d96a0f,#e67717,#ef8425,#f38f38,#f5994c,#f7a561,#f8af72,#f8b882,#f9bf8e,#fac498,#fac9a0,#facda7,#fbd1ae,#fbd4b3,#fbd6b8,#fbd9bc,#fcdbc0,#fcdcc3,#fcddc5,#fcdec7,#fcdfc8,#fce0c9,#fce0ca)"></i><i style="background:linear-gradient(90deg,#fce0c9,#fce0c9,#fcdfc8,#fcdec6,#fcddc4,#fcdcc2,#fcdabf,#fbd8bb,#fbd6b7,#fbd3b2,#fbd0ad,#facca6,#fac89f,#fac496,#f9bf8d,#f8b780,#f7ae71,#f6a45f,#f5984a,#f28e37,#ef8323,#e67717,#d96a0f,#bc5b0c,#ac520b,#ac520b,#bc5b0c,#d96a0f,#e67717,#ef8323,#f28e37,#f5984a,#f6a45f,#f7ae71,#f8b780,#f9bf8d,#fac496,#fac89f,#facca6,#fbd0ad,#fbd3b2,#fbd6b7,#fbd8bb,#fcdabf,#fcdcc2,#fcddc4,#fcdec6,#fcdfc8,#fce0c9,#fce0c9)"></i><i style="background:linear-gradient(90deg,#fce0c9,#fcdfc8,#fcdfc7,#fcdec6,#fcddc4,#fcdbc1,#fcdabe,#fbd8ba,#fbd5b6,#fbd3b1,#fbcfac,#facca5,#fac89e,#f9c395,#f9be8c,#f8b67e,#f7ad6f,#f6a35d,#f59748,#f28d36,#ef8222,#e57617,#d96a0f,#bd5b0c,#ae530b,#ae530b,#bd5b0c,#d96a0f,#e57617,#ef8222,#f28d36,#f59748,#f6a35d,#f7ad6f,#f8b67e,#f9be8c,#f9c395,#fac89e,#facca5,#fbcfac,#fbd3b1,#fbd5b6,#fbd8ba,#fcdabe,#fcdbc1,#fcddc4,#fcdec6,#fcdfc7,#fcdfc8,#fce0c9)"></i><i style="background:linear-gradient(90deg,#fcdfc8,#fcdfc7,#fcdec6,#fcddc5,#fcdcc2,#fcdbc0,#fcd9bd,#fbd7b9,#fbd5b5,#fbd2b0,#fbcfaa,#facba4,#fac79c,#f9c294,#f9bd8a,#f8b57c,#f7ac6d,#f6a25b,#f59646,#f28c34,#ef8221,#e57616,#d86a0f,#be5b0c,#af530b,#af530b,#be5b0c,#d86a0f,#e57616,#ef8221,#f28c34,#f59646,#f6a25b,#f7ac6d,#f8b57c,#f9bd8a,#f9c294,#fac79c,#facba4,#fbcfaa,#fbd2b0,#fbd5b5,#fbd7b9,#fcd9bd,#fcdbc0,#fcdcc2,#fcddc5,#fcdec6,#fcdfc7,#fcdfc8)"></i><i style="background:linear-gradient(90deg,#fcdfc7,#fcdec6,#fcddc5,#fcdcc3,#fcdbc1,#fcdabe,#fbd8bb,#fbd6b7,#fbd4b3,#fbd1ae,#facea8,#facaa2,#fac69a,#f9c192,#f9bb87,#f8b37a,#f7aa6a,#f6a058,#f59543,#f28b32,#ee811f,#e47516,#d7690f,#bd5b0c,#af530b,#af530b,#bd5b0c,#d7690f,#e47516,#ee811f,#f28b32,#f59543,#f6a058,#f7aa6a,#f8b37a,#f9bb87,#f9c192,#fac69a,#facaa2,#facea8,#fbd1ae,#fbd4b3,#fbd6b7,#fbd8bb,#fcdabe,#fcdbc1,#fcdcc3,#fcddc5,#fcdec6,#fcdfc7)"></i><i style="background:linear-gradient(90deg,#fcdec6,#fcddc5,#fcddc3,#fcdbc1,#fcdabf,#fcd9bd,#fbd7b9,#fbd5b6,#fbd3b1,#fbd0ac,#facda6,#fac9a0,#fac598,#f9c08f,#f9ba84,#f8b276,#f7a967,#f69e54,#f49341,#f18a30,#ee7f1e,#e37415,#d5680e,#bd5b0c,#af530b,#af530b,#bd5b0c,#d5680e,#e37415,#ee7f1e,#f18a30,#f49341,#f69e54,#f7a967,#f8b276,#f9ba84,#f9c08f,#fac598,#fac9a0,#facda6,#fbd0ac,#fbd3b1,#fbd5b6,#fbd7b9,#fcd9bd,#fcdabf,#fcdbc1,#fcddc3,#fcddc5,#fcdec6)"></i><i style="background:linear-gradient(90deg,#fcddc5,#fcddc3,#fcdcc2,#fcdbc0,#fcd9be,#fbd8bb,#fbd6b8,#fbd4b4,#fbd2af,#fbcfaa,#facba4,#fac89e,#fac396,#f9bf8d,#f8b881,#f8b073,#f7a662,#f69c50,#f4913e,#f1882d,#ec7e1c,#e27314,#d3670e,#bb5a0c,#af530b,#af530b,#bb5a0c,#d3670e,#e27314,#ec7e1c,#f1882d,#f4913e,#f69c50,#f7a662,#f8b073,#f8b881,#f9bf8d,#fac396,#fac89e,#facba4,#fbcfaa,#fbd2af,#fbd4b4,#fbd6b8,#fbd8bb,#fcd9be,#fcdbc0,#fcdcc2,#fcddc3,#fcddc5)"></i><i style="background:linear-gradient(90deg,#fcddc3,#fcdcc2,#fcdbc0,#fcdabe,#fbd8bc,#fbd7b9,#fbd5b6,#fbd3b2,#fbd0ad,#facea8,#facaa2,#fac69b,#f9c293,#f9bd8a,#f8b57d,#f7ad6e,#f6a35d,#f5984a,#f38f3a,#f08629,#ea7c1b,#e17213,#d0650e,#ba590c,#ae520b,#ae520b,#ba590c,#d0650e,#e17213,#ea7c1b,#f08629,#f38f3a,#f5984a,#f6a35d,#f7ad6e,#f8b57d,#f9bd8a,#f9c293,#fac69b,#facaa2,#facea8,#fbd0ad,#fbd3b2,#fbd5b6,#fbd7b9,#fbd8bc,#fcdabe,#fcdbc0,#fcdcc2,#fcddc3)"></i><i style="background:linear-gradient(90deg,#fcdcc2,#fcdbc0,#fcdabf,#fcd9bd,#fbd8ba,#fbd6b7,#fbd4b4,#fbd2b0,#fbcfab,#facca6,#fac9a0,#fac599,#f9c090,#f9ba86,#f8b378,#f7aa69,#f6a057,#f59544,#f28d35,#ef8425,#e87a19,#df7012,#cc630e,#b8580c,#ac520b,#ac520b,#b8580c,#cc630e,#df7012,#e87a19,#ef8425,#f28d35,#f59544,#f6a057,#f7aa69,#f8b378,#f9ba86,#f9c090,#fac599,#fac9a0,#facca6,#fbcfab,#fbd2b0,#fbd4b4,#fbd6b7,#fbd8ba,#fcd9bd,#fcdabf,#fcdbc0,#fcdcc2)"></i><i style="background:linear-gradient(90deg,#fcdbc0,#fcdabf,#fcd9bd,#fbd8bb,#fbd7b8,#fbd5b6,#fbd3b2,#fbd1ae,#fbcea9,#facba4,#fac89d,#fac396,#f9bf8d,#f8b881,#f8af72,#f7a662,#f69c50,#f4923f,#f18a30,#ee8120,#e67717,#de6e10,#c8610d,#b5560c,#aa510b,#aa510b,#b5560c,#c8610d,#de6e10,#e67717,#ee8120,#f18a30,#f4923f,#f69c50,#f7a662,#f8af72,#f8b881,#f9bf8d,#fac396,#fac89d,#facba4,#fbcea9,#fbd1ae,#fbd3b2,#fbd5b6,#fbd7b8,#fbd8bb,#fcd9bd,#fcdabf,#fcdbc0)"></i><i style="background:linear-gradient(90deg,#fcdabf,#fcd9bd,#fbd8bb,#fbd7b9,#fbd6b7,#fbd4b4,#fbd2b0,#fbd0ac,#facda7,#facaa1,#fac69a,#f9c292,#f9bc88,#f8b47b,#f7ac6c,#f6a25b,#f59748,#f38f39,#f08629,#ec7d1c,#e37415,#da6b0f,#c35e0d,#b2550b,#a84f0b,#a84f0b,#b2550b,#c35e0d,#da6b0f,#e37415,#ec7d1c,#f08629,#f38f39,#f59748,#f6a25b,#f7ac6c,#f8b47b,#f9bc88,#f9c292,#fac69a,#facaa1,#facda7,#fbd0ac,#fbd2b0,#fbd4b4,#fbd6b7,#fbd7b9,#fbd8bb,#fcd9bd,#fcdabf)"></i><i style="background:linear-gradient(90deg,#fcd9bd,#fbd8bc,#fbd7ba,#fbd6b8,#fbd5b5,#fbd3b2,#fbd1ae,#fbceaa,#facca5,#fac89e,#fac497,#f9bf8f,#f8b983,#f8b175,#f7a865,#f69d53,#f49341,#f28b32,#ef8323,#e97a1a,#e17213,#d6690f,#c25e0d,#b3560c,#ab510b,#ab510b,#b3560c,#c25e0d,#d6690f,#e17213,#e97a1a,#ef8323,#f28b32,#f49341,#f69d53,#f7a865,#f8b175,#f8b983,#f9bf8f,#fac497,#fac89e,#facca5,#fbceaa,#fbd1ae,#fbd3b2,#fbd5b5,#fbd6b8,#fbd7ba,#fbd8bc,#fcd9bd)"></i><i style="background:linear-gradient(90deg,#fbd8bc,#fbd7ba,#fbd6b8,#fbd5b6,#fbd3b3,#fbd2b0,#fbd0ac,#facda7,#facaa2,#fac69b,#f9c294,#f9bd8a,#f8b57d,#f7ad6e,#f6a35d,#f59849,#f38f3a,#f0872b,#ed7f1d,#e57617,#df6f11,#d1660e,#c05d0d,#b4560c,#ad520b,#ad520b,#b4560c,#c05d0d,#d1660e,#df6f11,#e57617,#ed7f1d,#f0872b,#f38f3a,#f59849,#f6a35d,#f7ad6e,#f8b57d,#f9bd8a,#f9c294,#fac69b,#facaa2,#facda7,#fbd0ac,#fbd2b0,#fbd3b3,#fbd5b6,#fbd6b8,#fbd7ba,#fbd8bc)"></i><i style="background:linear-gradient(90deg,#fbd7ba,#fbd6b8,#fbd5b6,#fbd4b4,#fbd2b1,#fbd1ae,#fbceaa,#facca5,#fac89f,#fac598,#f9c090,#f9ba84,#f8b276,#f7a866,#f69e54,#f49341,#f28b32,#ef8323,#e97a1a,#e27214,#db6b0f,#ca620e,#bd5b0c,#b4560c,#af530b,#af530b,#b4560c,#bd5b0c,#ca620e,#db6b0f,#e27214,#e97a1a,#ef8323,#f28b32,#f49341,#f69e54,#f7a866,#f8b276,#f9ba84,#f9c090,#fac598,#fac89f,#facca5,#fbceaa,#fbd1ae,#fbd2b1,#fbd4b4,#fbd5b6,#fbd6b8,#fbd7ba)"></i><i style="background:linear-gradient(90deg,#fbd6b8,#fbd5b6,#fbd4b4,#fbd3b2,#fbd1af,#fbcfab,#facda7,#facaa2,#fac79c,#f9c294,#f9bd8b,#f8b67e,#f7ad6f,#f6a35d,#f5984a,#f38f3a,#f0872a,#ec7e1d,#e57516,#de6e11,#d0650e,#c35e0d,#b9590c,#b3550c,#af530b,#af530b,#b3550c,#b9590c,#c35e0d,#d0650e,#de6e11,#e57516,#ec7e1d,#f0872a,#f38f3a,#f5984a,#f6a35d,#f7ad6f,#f8b67e,#f9bd8b,#f9c294,#fac79c,#facaa2,#facda7,#fbcfab,#fbd1af,#fbd3b2,#fbd4b4,#fbd5b6,#fbd6b8)"></i><i style="background:linear-gradient(90deg,#fbd5b6,#fbd4b5,#fbd3b2,#fbd2b0,#fbd0ad,#facea9,#facba4,#fac89f,#fac598,#f9c090,#f9ba85,#f8b277,#f7a967,#f69e54,#f49341,#f18b32,#ef8222,#e87919,#e07112,#d5680e,#c55f0d,#bb5a0c,#b5560c,#b1540b,#af530b,#af530b,#b1540b,#b5560c,#bb5a0c,#c55f0d,#d5680e,#e07112,#e87919,#ef8222,#f18b32,#f49341,#f69e54,#f7a967,#f8b277,#f9ba85,#f9c090,#fac598,#fac89f,#facba4,#facea9,#fbd0ad,#fbd2b0,#fbd3b2,#fbd4b5,#fbd5b6)"></i><i style="background:linear-gradient(90deg,#fbd4b5,#fbd3b3,#fbd2b0,#fbd1ae,#fbcfaa,#facda6,#facaa2,#fac79c,#f9c395,#f9be8c,#f8b77f,#f7ae70,#f6a45f,#f5994c,#f3903b,#f0872b,#ed7e1d,#e57616,#de6e10,#cf650e,#c25e0d,#bb5a0c,#b7580c,#b6570c,#b5570c,#b5570c,#b6570c,#b7580c,#bb5a0c,#c25e0d,#cf650e,#de6e10,#e57616,#ed7e1d,#f0872b,#f3903b,#f5994c,#f6a45f,#f7ae70,#f8b77f,#f9be8c,#f9c395,#fac79c,#facaa2,#facda6,#fbcfaa,#fbd1ae,#fbd2b0,#fbd3b3,#fbd4b5)"></i><i style="background:linear-gradient(90deg,#fbd4b3,#fbd2b1,#fbd1af,#fbcfac,#facea8,#facba4,#fac89f,#fac598,#f9c191,#f9bb86,#f8b379,#f7aa69,#f6a057,#f59544,#f28c34,#ef8425,#e97b1a,#e27214,#d96b0f,#ca620d,#c05c0d,#bb5a0c,#ba590c,#bb5a0c,#bb5a0c,#bb5a0c,#bb5a0c,#ba590c,#bb5a0c,#c05c0d,#ca620d,#d96b0f,#e27214,#e97b1a,#ef8425,#f28c34,#f59544,#f6a057,#f7aa69,#f8b379,#f9bb86,#f9c191,#fac598,#fac89f,#facba4,#facea8,#fbcfac,#fbd1af,#fbd2b1,#fbd4b3)"></i><i style="background:linear-gradient(90deg,#fbd2b1,#fbd1af,#fbd0ac,#fbcea9,#facca5,#fac9a1,#fac69b,#f9c394,#f9be8c,#f8b780,#f7af72,#f7a561,#f59b4e,#f3913d,#f1892e,#ee801e,#e67717,#df6f11,#d3670e,#c6600d,#bf5c0d,#bd5b0c,#bf5c0d,#c15d0d,#c35e0d,#c35e0d,#c15d0d,#bf5c0d,#bd5b0c,#bf5c0d,#c6600d,#d3670e,#df6f11,#e67717,#ee801e,#f1892e,#f3913d,#f59b4e,#f7a561,#f7af72,#f8b780,#f9be8c,#f9c394,#fac69b,#fac9a1,#facca5,#fbcea9,#fbd0ac,#fbd1af,#fbd2b1)"></i><i style="background:linear-gradient(90deg,#fbd1af,#fbd0ac,#fbceaa,#facda6,#facaa2,#fac79d,#fac497,#f9c090,#f9ba86,#f8b379,#f7aa69,#f6a058,#f59645,#f28d36,#f08527,#eb7c1b,#e37415,#dc6d0f,#cd640e,#c35e0d,#bf5c0d,#c15d0d,#c55f0d,#ca620e,#cd640e,#cd640e,#ca620e,#c55f0d,#c15d0d,#bf5c0d,#c35e0d,#cd640e,#dc6d0f,#e37415,#eb7c1b,#f08527,#f28d36,#f59645,#f6a058,#f7aa69,#f8b379,#f9ba86,#f9c090,#fac497,#fac79d,#facaa2,#facda6,#fbceaa,#fbd0ac,#fbd1af)"></i><i style="background:linear-gradient(90deg,#fbd0ac,#fbcfaa,#facda7,#facba3,#fac89f,#fac599,#f9c293,#f9bd8a,#f8b67f,#f7af71,#f7a561,#f69b4f,#f4923e,#f1892f,#ee8120,#e77818,#e07112,#d6690f,#c9610d,#c15d0d,#c05d0d,#c45f0d,#cb620e,#d2660e,#d6690f,#d6690f,#d2660e,#cb620e,#c45f0d,#c05d0d,#c15d0d,#c9610d,#d6690f,#e07112,#e77818,#ee8120,#f1892f,#f4923e,#f69b4f,#f7a561,#f7af71,#f8b67f,#f9bd8a,#f9c293,#fac599,#fac89f,#facba3,#facda7,#fbcfaa,#fbd0ac)"></i><i style="background:linear-gradient(90deg,#fbcfaa,#facda7,#facba4,#fac9a0,#fac69b,#f9c395,#f9bf8e,#f9ba84,#f8b278,#f7aa69,#f6a058,#f59646,#f28e37,#f08628,#ec7d1c,#e47516,#dd6e10,#d0650e,#c55f0d,#c05d0d,#c15d0d,#c7610d,#d0650e,#d96a0f,#dd6d10,#dd6d10,#d96a0f,#d0650e,#c7610d,#c15d0d,#c05d0d,#c55f0d,#d0650e,#dd6e10,#e47516,#ec7d1c,#f08628,#f28e37,#f59646,#f6a058,#f7aa69,#f8b278,#f9ba84,#f9bf8e,#f9c395,#fac69b,#fac9a0,#facba4,#facda7,#fbcfaa)"></i><i style="background:linear-gradient(90deg,#facda8,#facca5,#facaa1,#fac79d,#fac497,#f9c191,#f9bc89,#f8b67d,#f7ae70,#f7a561,#f69b4f,#f4923f,#f18a30,#ef8221,#e87919,#e17213,#d96a0f,#ca620e,#c25e0d,#bf5c0d,#c35e0d,#ca620e,#d5680e,#dd6d10,#df6f11,#df6f11,#dd6d10,#d5680e,#ca620e,#c35e0d,#bf5c0d,#c25e0d,#ca620e,#d96a0f,#e17213,#e87919,#ef8221,#f18a30,#f4923f,#f69b4f,#f7a561,#f7ae70,#f8b67d,#f9bc89,#f9c191,#fac497,#fac79d,#facaa1,#facca5,#facda8)"></i><i style="background:linear-gradient(90deg,#facca5,#facaa2,#fac89e,#fac599,#f9c293,#f9be8c,#f8b882,#f8b176,#f7a968,#f6a058,#f59646,#f38e38,#f08629,#ec7e1c,#e57616,#de6e11,#d1660e,#c55f0d,#bf5c0d,#bf5c0d,#c45f0d,#ce640e,#d96a0f,#de6f11,#e07113,#e07113,#de6f11,#d96a0f,#ce640e,#c45f0d,#bf5c0d,#bf5c0d,#c55f0d,#d1660e,#de6e11,#e57616,#ec7e1c,#f08629,#f38e38,#f59646,#f6a058,#f7a968,#f8b176,#f8b882,#f9be8c,#f9c293,#fac599,#fac89e,#facaa2,#facca5)"></i><i style="background:linear-gradient(90deg,#facaa2,#fac89e,#fac69a,#f9c395,#f9bf8f,#f9bb86,#f8b47b,#f7ad6e,#f6a45f,#f59b4e,#f4923f,#f18a31,#ef8222,#e87a19,#e17213,#da6b0f,#ca620e,#c15d0d,#bd5b0c,#bf5c0d,#c6600d,#d0660e,#dc6c0f,#df7012,#e27214,#e27214,#df7012,#dc6c0f,#d0660e,#c6600d,#bf5c0d,#bd5b0c,#c15d0d,#ca620e,#da6b0f,#e17213,#e87a19,#ef8222,#f18a31,#f4923f,#f59b4e,#f6a45f,#f7ad6e,#f8b47b,#f9bb86,#f9bf8f,#f9c395,#fac69a,#fac89e,#facaa2)"></i><i style="background:linear-gradient(90deg,#fac89f,#fac69b,#fac496,#f9c191,#f9bc89,#f8b77f,#f8b074,#f7a866,#f69f56,#f59545,#f28e37,#f08629,#ec7e1d,#e57616,#de6f11,#d1660e,#c45f0d,#bd5b0c,#bc5a0c,#bf5c0d,#c8610d,#d3670e,#dd6d10,#e17113,#e37415,#e37415,#e17113,#dd6d10,#d3670e,#c8610d,#bf5c0d,#bc5a0c,#bd5b0c,#c45f0d,#d1660e,#de6f11,#e57616,#ec7e1d,#f08629,#f28e37,#f59545,#f69f56,#f7a866,#f8b074,#f8b77f,#f9bc89,#f9c191,#fac496,#fac69b,#fac89f)"></i><i style="background:linear-gradient(90deg,#fac69b,#fac497,#f9c192,#f9be8c,#f8b983,#f8b378,#f7ac6c,#f6a35d,#f59a4d,#f4923e,#f18a30,#ef8222,#e97a1a,#e27214,#da6b0f,#ca620d,#bf5c0d,#ba590c,#bb5a0c,#c05d0d,#ca620d,#d6690f,#de6e11,#e27214,#e47516,#e47516,#e27214,#de6e11,#d6690f,#ca620d,#c05d0d,#bb5a0c,#ba590c,#bf5c0d,#ca620d,#da6b0f,#e27214,#e97a1a,#ef8222,#f18a30,#f4923e,#f59a4d,#f6a35d,#f7ac6c,#f8b378,#f8b983,#f9be8c,#f9c192,#fac497,#fac69b)"></i><i style="background:linear-gradient(90deg,#fac598,#f9c293,#f9bf8e,#f9bb86,#f8b57c,#f7af71,#f7a764,#f69e54,#f59544,#f28e37,#f08629,#ec7e1d,#e57617,#de6f11,#d1660e,#c35e0d,#bb5a0c,#b8580c,#bb5a0c,#c25e0d,#cc630e,#d96a0f,#df6f12,#e37315,#e57616,#e57616,#e37315,#df6f12,#d96a0f,#cc630e,#c25e0d,#bb5a0c,#b8580c,#bb5a0c,#c35e0d,#d1660e,#de6f11,#e57617,#ec7e1d,#f08629,#f28e37,#f59544,#f69e54,#f7a764,#f7af71,#f8b57c,#f9bb86,#f9bf8e,#f9c293,#fac598)"></i><i style="background:linear-gradient(90deg,#f9c394,#f9c08f,#f9bc89,#f8b780,#f8b176,#f7aa6a,#f6a25c,#f5994c,#f4913e,#f18a30,#ef8222,#e97a1a,#e27214,#db6b0f,#ca620d,#be5b0c,#b8580c,#b7580c,#bc5a0c,#c45f0d,#d0650e,#dc6c0f,#e07113,#e47516,#e67717,#e67717,#e47516,#e07113,#dc6c0f,#cf650e,#c45f0d,#bb5a0c,#b7580c,#b8580c,#be5c0d,#ca620e,#db6b0f,#e27314,#e97b1a,#ef8323,#f18a31,#f4923e,#f59a4c,#f6a35c,#f7ab6a,#f8b276,#f8b781,#f9bc89,#f9c090,#f9c394)"></i><i style="background:linear-gradient(90deg,#f9c191,#f9be8c,#f9b984,#f8b47b,#f7ae70,#f7a663,#f69e54,#f59544,#f28e38,#f0872a,#ed7f1d,#e67717,#df6f12,#d3670e,#c45f0d,#bb5a0c,#b7570c,#b8580c,#be5c0d,#c8610d,#d5680e,#de6e11,#e27314,#e57617,#e77919,#e77918,#e57617,#e17214,#dd6d10,#d3670e,#c6600d,#bd5b0c,#b7580c,#b6570c,#bb5a0c,#c55f0d,#d4680e,#e07012,#e67718,#ee801e,#f0872b,#f38f39,#f59645,#f69f55,#f7a764,#f7ae71,#f8b57b,#f9ba84,#f9be8c,#f9c191)"></i><i style="background:linear-gradient(90deg,#f9bf8d,#f9bb87,#f8b67f,#f8b175,#f7aa69,#f6a25c,#f59a4c,#f4923e,#f18b31,#ef8324,#ea7b1b,#e37415,#dc6c0f,#cc630e,#bf5c0d,#b8580c,#b6570c,#b9590c,#c15d0d,#cc630e,#d96b0f,#df7012,#e37415,#e77818,#e97a1a,#e97a19,#e67718,#e37315,#de6f11,#d6690f,#c9620d,#bf5c0d,#b7580c,#b5560c,#b8580c,#c05d0d,#ce640e,#dd6d10,#e47415,#eb7c1b,#ef8426,#f28c33,#f49340,#f59b4f,#f6a35e,#f7ab6b,#f8b176,#f8b780,#f9bc88,#f9bf8e)"></i><i style="background:linear-gradient(90deg,#f9bd89,#f8b882,#f8b379,#f7ad6f,#f7a662,#f69e54,#f59545,#f38f39,#f0872b,#ee801e,#e77818,#e07012,#d5680e,#c6600d,#bb5a0c,#b6570c,#b6570c,#bb5a0c,#c55f0d,#d1660e,#dd6d10,#e17113,#e57616,#e87a19,#ea7c1b,#ea7b1a,#e77919,#e47515,#e07012,#da6b0f,#cc630e,#c15d0d,#b8580c,#b4560c,#b5570c,#bc5a0c,#c8610d,#d86a0f,#e17213,#e87919,#ee8120,#f1892e,#f3903b,#f59748,#f6a057,#f7a865,#f7ae71,#f8b47b,#f9b983,#f9bd8a)"></i><i style="background:linear-gradient(90deg,#f9ba85,#f8b57d,#f8b074,#f7aa68,#f6a25b,#f59a4d,#f4923f,#f28b33,#ef8425,#eb7c1b,#e47415,#dd6d10,#ce640e,#c05d0d,#b8580c,#b5560c,#b7580c,#be5b0c,#c8610d,#d5680e,#de6e11,#e27314,#e67818,#ea7b1a,#eb7d1c,#eb7d1b,#e97a19,#e57616,#e17113,#dc6c0f,#cf650e,#c35e0d,#ba590c,#b4560c,#b3560c,#b8580c,#c25e0d,#d1660e,#df6f11,#e57617,#ec7e1d,#f08629,#f28d36,#f49442,#f69c50,#f6a45f,#f7ab6b,#f8b176,#f8b67f,#f9bb86)"></i><i style="background:linear-gradient(90deg,#f8b780,#f8b278,#f7ad6e,#f7a662,#f69e54,#f59645,#f38f39,#f1882c,#ee811f,#e77919,#e17113,#d86a0f,#c7610d,#bc5a0c,#b5570c,#b4560c,#b9590c,#c15d0d,#cc630e,#da6b0f,#e07012,#e47516,#e87919,#eb7d1b,#ed7e1d,#ec7e1c,#ea7b1a,#e67717,#e27314,#dd6e10,#d3670e,#c6600d,#bb5a0c,#b4560c,#b2550b,#b5560c,#bd5b0c,#cb630e,#dc6c0f,#e37314,#ea7b1a,#ef8323,#f18a30,#f3913d,#f5984a,#f6a158,#f7a865,#f7ae71,#f8b47a,#f8b882)"></i><i style="background:linear-gradient(90deg,#f8b47b,#f8af72,#f7a967,#f6a25b,#f59a4d,#f49340,#f28c33,#ef8526,#eb7d1c,#e47516,#de6e11,#d0650e,#c15d0d,#b8580c,#b4560c,#b5560c,#bb5a0c,#c45f0d,#d1660e,#dd6d10,#e17213,#e57617,#e97b1a,#ec7e1c,#ee801e,#ed7f1d,#eb7c1b,#e77818,#e37415,#df6f11,#d6690f,#c8610d,#bd5b0c,#b5560c,#b1540b,#b2550c,#b9590c,#c55f0d,#d5680e,#e07012,#e77818,#ee801e,#f0872b,#f38e38,#f59544,#f69d52,#f6a560,#f7ab6b,#f8b175,#f8b67e)"></i><i style="background:linear-gradient(90deg,#f8b176,#f7ac6c,#f7a561,#f69e54,#f59646,#f38f3a,#f1882d,#ee8120,#e87a19,#e17214,#da6b0f,#c9610d,#bc5a0c,#b5560c,#b3550c,#b6570c,#bd5b0c,#c8610d,#d5680e,#de6e11,#e37314,#e77818,#eb7c1b,#ed7f1d,#ee811f,#ee801e,#ec7e1c,#e87a19,#e47516,#e07012,#da6b0f,#cb630e,#bf5c0d,#b6570c,#b1540b,#b0540b,#b5560c,#bf5c0d,#ce640e,#de6e10,#e47516,#eb7d1c,#ef8426,#f28b33,#f4923f,#f5994c,#f6a15a,#f7a866,#f7ae70,#f8b379)"></i><i style="background:linear-gradient(90deg,#f7ae71,#f7a966,#f6a25a,#f59a4d,#f49340,#f28c34,#f08527,#ec7e1c,#e57617,#df6f11,#d1660e,#c25e0d,#b8580c,#b2550c,#b2550c,#b7580c,#c05d0d,#cc630e,#da6b0f,#e07012,#e47516,#e87a19,#ec7e1c,#ee811f,#ef8221,#ee8120,#ed7f1d,#e97b1a,#e57617,#e17113,#dc6c0f,#cf650e,#c25e0d,#b7580c,#b1540b,#ae530b,#b1550b,#ba590c,#c8610d,#d96b0f,#e17214,#e87a19,#ee8121,#f1892d,#f38f3a,#f59645,#f69e53,#f6a560,#f7ab6b,#f8b174)"></i><i style="background:linear-gradient(90deg,#f7ab6b,#f6a560,#f69e54,#f59646,#f3903a,#f1892e,#ef8221,#e97a1a,#e27314,#db6c0f,#ca620d,#bc5b0c,#b4560c,#b1540b,#b3550c,#b9590c,#c35e0d,#d0660e,#dd6d10,#e17213,#e67717,#ea7b1a,#ed7f1d,#ef8221,#ef8323,#ef8222,#ee801e,#ea7c1b,#e67718,#e27314,#dd6e10,#d2660e,#c45f0d,#b9590c,#b1540b,#ad520b,#af530b,#b5570c,#c15d0d,#d2660e,#df6f11,#e67717,#ed7e1d,#f08628,#f28d35,#f49340,#f59a4d,#f6a25a,#f7a866,#f7ae70)"></i><i style="background:linear-gradient(90deg,#f7a865,#f6a15a,#f59a4d,#f49340,#f28c34,#f08628,#ed7e1d,#e67717,#df6f12,#d3670e,#c35e0d,#b7580c,#b1540b,#b0540b,#b4560c,#bc5a0c,#c7600d,#d5680e,#de6e11,#e37315,#e77818,#eb7d1b,#ee801e,#ef8323,#ef8425,#ef8323,#ee811f,#eb7d1c,#e77919,#e37415,#df6f11,#d5680e,#c7600d,#bb5a0c,#b2550b,#ad520b,#ac520b,#b1550b,#bc5a0c,#cb620e,#dc6c0f,#e37415,#ea7b1a,#ef8323,#f18a30,#f3903c,#f59647,#f69e54,#f7a560,#f7ab6b)"></i><i style="background:linear-gradient(90deg,#f6a45f,#f69d53,#f59645,#f3903a,#f1892f,#ef8222,#e97b1a,#e27314,#dc6c0f,#cb620e,#bc5b0c,#b3550c,#ae530b,#af530b,#b5570c,#be5c0d,#cb630e,#d96a0f,#e07012,#e47516,#e87a19,#ec7e1c,#ee8120,#ef8425,#ef8527,#ef8425,#ef8221,#ec7e1d,#e87a19,#e47516,#e07012,#d96a0f,#ca620d,#bd5b0c,#b3550c,#ac520b,#aa510b,#ae520b,#b6570c,#c45f0d,#d5680e,#e07112,#e77818,#ee801e,#f0872a,#f28e37,#f49442,#f59b4e,#f6a25b,#f7a866)"></i><i style="background:linear-gradient(90deg,#f6a159,#f5994c,#f49340,#f28c35,#f08629,#ed7f1d,#e67717,#df7012,#d4670e,#c35e0d,#b7570c,#af530b,#ad520b,#b0540b,#b7580c,#c25e0d,#cf650e,#dc6d0f,#e17213,#e57617,#ea7b1a,#ed7f1d,#ef8222,#ef8527,#f08628,#ef8527,#ef8222,#ed7f1d,#e97b1a,#e57617,#e17113,#dc6c0f,#cd640e,#bf5c0d,#b4560c,#ac520b,#a9500b,#aa510b,#b1550b,#bd5b0c,#ce640e,#de6e10,#e47516,#eb7d1c,#ef8425,#f18b31,#f3913d,#f59748,#f69f55,#f7a560)"></i><i style="background:linear-gradient(90deg,#f69d52,#f59545,#f3903a,#f1892f,#ef8223,#ea7b1a,#e37415,#dd6d0f,#cb630e,#bc5b0c,#b2550b,#ac520b,#ac520b,#b1540b,#b9590c,#c55f0d,#d3670e,#de6e11,#e27314,#e77818,#eb7d1b,#ee811f,#ef8424,#f08628,#f0862a,#f08528,#ef8324,#ee801e,#ea7c1b,#e67718,#e27214,#dd6d10,#d0660e,#c25e0d,#b6570c,#ad520b,#a84f0b,#a84f0b,#ad520b,#b7580c,#c6600d,#d96a0f,#e17214,#e87a19,#ee8120,#f1882c,#f38e38,#f49443,#f69b4f,#f6a25b)"></i><i style="background:linear-gradient(90deg,#f5994c,#f49340,#f28d35,#f08629,#ed7f1e,#e77818,#e07112,#d5680e,#c45f0d,#b7570c,#ae530b,#aa510b,#ac520b,#b2550c,#bc5b0c,#c9620d,#d86a0f,#df7012,#e47516,#e87a19,#ec7e1d,#ef8221,#ef8526,#f0872a,#f0872b,#f0862a,#ef8426,#ee8120,#eb7d1c,#e77918,#e37415,#de6e11,#d4670e,#c55f0d,#b8580c,#ae530b,#a74f0b,#a64e0a,#aa500b,#b2550c,#c05d0d,#d2660e,#df6f12,#e67717,#ed7e1d,#f08528,#f28c34,#f4923f,#f5984a,#f69f56)"></i><i style="background:linear-gradient(90deg,#f59646,#f3903c,#f18a30,#ef8324,#eb7c1b,#e47516,#dd6e10,#ce640e,#bd5b0c,#b2550b,#ab510b,#a9500b,#ac520b,#b4560c,#c05c0d,#cd640e,#dc6c0f,#e17113,#e57617,#ea7b1a,#ed7f1e,#ef8323,#f08628,#f0872b,#f1882c,#f0872b,#f08527,#ef8222,#ec7e1d,#e87a19,#e47516,#df7012,#d7690f,#c8610d,#ba590c,#af530b,#a74f0b,#a44d0a,#a74f0b,#ae530b,#bb5a0c,#cb630e,#dd6d10,#e37415,#ea7c1b,#ef8324,#f18a30,#f3903b,#f59545,#f69c51)"></i><i style="background:linear-gradient(90deg,#f49341,#f28e37,#f0872b,#ee811f,#e87919,#e17213,#d86a0f,#c6600d,#b7580c,#ad520b,#a84f0b,#a84f0b,#ad520b,#b6570c,#c35e0d,#d1660e,#dd6e10,#e27314,#e77818,#eb7d1b,#ee811f,#ef8425,#f0862a,#f1882d,#f1892e,#f0882c,#f08628,#ef8323,#ed7f1d,#e97b1a,#e57616,#e07112,#da6b0f,#ca620e,#bc5a0c,#b0540b,#a74f0b,#a34d0a,#a44d0a,#aa500b,#b5570c,#c55f0d,#d86a0f,#e17213,#e87919,#ee811f,#f0872b,#f28e37,#f49341,#f59a4c)"></i><i style="background:linear-gradient(90deg,#f3913c,#f18b32,#ef8426,#ec7d1c,#e57616,#de6f11,#d0650e,#bf5c0d,#b1540b,#a9500b,#a64e0a,#a84f0b,#ae530b,#b9590c,#c6600d,#d5680e,#df6f11,#e47415,#e87919,#ec7e1c,#ef8221,#f08527,#f0872b,#f1892e,#f1892f,#f1882d,#f08629,#ef8324,#ee801e,#ea7c1b,#e67717,#e17213,#dc6c0f,#cd640e,#be5b0c,#b1540b,#a74f0b,#a24c0a,#a14c0a,#a64e0a,#b0540b,#be5c0d,#d0660e,#df6f11,#e57617,#ec7e1c,#f08527,#f28b32,#f3913d,#f59747)"></i><i style="background:linear-gradient(90deg,#f28e38,#f1882c,#ee8121,#e97a1a,#e27314,#db6b0f,#c8610d,#b8580c,#ac520b,#a54e0a,#a44d0a,#a84f0b,#b0540b,#bc5a0c,#ca620e,#da6b0f,#e07112,#e57616,#e97b1a,#ed7f1d,#ef8323,#f08628,#f1882d,#f1892f,#f18a30,#f1892e,#f0872b,#ef8426,#ee8120,#eb7d1c,#e77818,#e27314,#dd6d10,#d0650e,#c05d0d,#b3550c,#a84f0b,#a14c0a,#9f4a0a,#a24c0a,#ab510b,#b8580c,#c9620d,#dc6c0f,#e37415,#ea7b1a,#ef8223,#f1892e,#f38f39,#f49443)"></i><i style="background:linear-gradient(90deg,#f28b33,#f08527,#ec7e1d,#e67717,#df7012,#d2660e,#c05d0d,#b1550b,#a74f0b,#a24c0a,#a34d0a,#a8500b,#b2550c,#bf5c0d,#ce640e,#dd6d10,#e27214,#e67717,#ea7c1b,#ee801f,#ef8425,#f0872a,#f1892e,#f18a30,#f18a31,#f1892f,#f0872c,#f08527,#ef8221,#ec7e1c,#e87919,#e37415,#de6e11,#d3670e,#c35e0d,#b4560c,#a9500b,#a14b0a,#9d4a0a,#9f4a0a,#a64e0b,#b2550c,#c25e0d,#d6690f,#e17113,#e77918,#ee801e,#f0872a,#f28d35,#f4923f)"></i><i style="background:linear-gradient(90deg,#f1892e,#ef8222,#ea7b1a,#e37415,#dc6c0f,#ca620d,#b9580c,#ab510b,#a34d0a,#a04b0a,#a34c0a,#aa500b,#b5560c,#c35e0d,#d2670e,#de6e11,#e37415,#e77919,#ec7d1c,#ee8121,#ef8527,#f0872b,#f1892f,#f18b31,#f18b31,#f18a30,#f1882d,#f08528,#ef8222,#ed7f1d,#e97a19,#e47516,#df7012,#d6690e,#c5600d,#b6570c,#aa500b,#a04b0a,#9b490a,#9c490a,#a24c0a,#ad520b,#bc5a0c,#cf650e,#de6f11,#e57617,#ec7d1c,#ef8426,#f18b31,#f3903b)"></i><i style="background:linear-gradient(90deg,#f08629,#ed7f1d,#e77818,#e07112,#d4680e,#c15d0d,#b2550b,#a64e0b,#a04b0a,#9f4a0a,#a34d0a,#ab510b,#b8580c,#c6600d,#d7690f,#df7012,#e47516,#e97a1a,#ed7f1d,#ef8223,#f08628,#f1882d,#f18a30,#f28b32,#f28b32,#f18a31,#f1892d,#f08629,#ef8324,#ee7f1e,#e97b1a,#e57616,#e07112,#d96a0f,#c8610d,#b9590c,#ab510b,#a14b0a,#9a480a,#994809,#9e4a0a,#a74f0b,#b6570c,#c8610d,#dc6c0f,#e37315,#e97b1a,#ef8222,#f1882d,#f28e38)"></i><i style="background:linear-gradient(90deg,#ef8324,#eb7c1b,#e47516,#dd6d10,#cc630e,#ba590c,#ab510b,#a14c0a,#9d490a,#9d4a0a,#a34d0a,#ae520b,#bb5a0c,#ca620e,#db6b0f,#e17113,#e67717,#ea7c1b,#ee801e,#ef8324,#f0862a,#f1892e,#f18a31,#f28b33,#f28c33,#f18b31,#f1892e,#f0872a,#ef8425,#ee801f,#ea7c1b,#e67717,#e17213,#dc6c0f,#cb630e,#bb5a0c,#ad520b,#a14c0a,#994809,#974709,#9a480a,#a24c0a,#b0540b,#c15d0d,#d5680e,#e07113,#e77818,#ee801e,#f08629,#f28c34)"></i><i style="background:linear-gradient(90deg,#ee801e,#e87919,#e17213,#d7690f,#c35e0d,#b2550c,#a54e0a,#9d4a0a,#9a480a,#9d4a0a,#a54e0a,#b0540b,#bf5c0d,#cf650e,#dd6d10,#e27314,#e77818,#eb7d1c,#ee8120,#ef8426,#f0872b,#f1892f,#f28b32,#f28c34,#f28c34,#f28b32,#f1892f,#f0872b,#ef8426,#ee8120,#eb7d1c,#e77818,#e27314,#dd6d10,#ce640e,#be5b0c,#ae530b,#a24c0a,#994809,#954609,#964609,#9e4a0a,#aa500b,#ba590c,#cd640e,#de6e11,#e57616,#eb7d1c,#ef8425,#f18a30)"></i><i style="background:linear-gradient(90deg,#eb7d1c,#e57616,#de6e11,#ce640e,#bb5a0c,#ab510b,#a04b0a,#994809,#984709,#9d4a0a,#a64f0b,#b3560c,#c25e0d,#d3670e,#de6f11,#e37415,#e87a19,#ec7e1d,#ef8222,#f08528,#f1882c,#f18a30,#f28b33,#f28c34,#f28c34,#f28b33,#f18a30,#f0882c,#f08527,#ef8221,#ec7e1c,#e87919,#e37415,#de6e11,#d1660e,#c05d0d,#b1540b,#a34d0a,#994809,#934509,#934509,#994809,#a44d0a,#b3560c,#c6600d,#db6b0f,#e27314,#e97a1a,#ee8121,#f0882c)"></i><i style="background:linear-gradient(90deg,#e97a19,#e27314,#da6b0f,#c5600d,#b3560c,#a54e0a,#9b490a,#964609,#974709,#9e4a0a,#a9500b,#b6570c,#c6600d,#d86a0f,#e07012,#e57616,#e97b1a,#ee7f1e,#ef8324,#f08629,#f1892e,#f18b31,#f28c34,#f28d35,#f28d35,#f28c33,#f18a31,#f1882d,#f08628,#ef8323,#ed7f1d,#e97a1a,#e47516,#df6f12,#d5680e,#c35e0d,#b3550c,#a54e0a,#994809,#924509,#904409,#954609,#9f4b0a,#ad520b,#bf5c0d,#d3670e,#e07012,#e77818,#ed7f1d,#f08528)"></i><i style="height:1px;background:linear-gradient(90deg,#e67818,#e07012,#d3670e,#bf5c0d,#ae530b,#a14b0a,#984709,#944609,#974709,#9f4a0a,#ab510b,#b9590c,#ca620d,#db6b0f,#e17113,#e67717,#ea7c1b,#ee801f,#ef8425,#f0872a,#f1892f,#f18b32,#f28c34,#f28d35,#f28d35,#f28c34,#f18b31,#f1892e,#f08629,#ef8324,#ed7f1e,#e97b1a,#e57616,#e07012,#d7690f,#c5600d,#b5560c,#a64e0a,#9a480a,#914409,#8f4309,#924409,#9b490a,#a9500b,#ba590c,#ce640e,#de6e11,#e57616,#eb7d1c,#ef8425)"></i></div>
<div class="m" style="left:451px;top:3px;width:97px;height:220px"><i style="background:linear-gradient(90deg,#fffcf9,#fffcf9,#fffcf9,#fffcf9,#fffcf9,#fffcf9,#fffcf9,#fffcf9,#fffcf9,#fffcf9,#fffcf9,#fffcf9,#fffcf9,#fffcf9,#fffcf9,#fffcf9,#fffcf9,#fffcf9,#fffcf9,#fffcf9,#fffcf9,#fffcf9,#fffcf9,#fffcf9,#fffcf9,#fffcf9,#fffcf9,#fffcf9,#fffcf9,#fffcf9,#fffcf9,#fffcf9,#fffcf9,#fffcf9,#fffcf9,#fffcf9,#fffcf9,#fffcf9,#fffcf9,#fffcf9,#fffcf9,#fffcf9,#fffcf9,#fffcf9,#fffcf9,#fffcf9,#fffcf9,#fffcf9,#fffcf9)"></i><i style="background:linear-gradient(90deg,#fffcf9,#fffcf9,#fffcf9,#fffcf9,#fffcf9,#fffcf9,#fffcf9,#fffcf9,#fffcf9,#fffcf9,#fffcf9,#fffcf9,#fffcf9,#fffcf9,#fffcf9,#fffcf9,#fffcf9,#fffcf9,#fffcf9,#fffcf9,#fffcf9,#fffcf9,#fffcf9,#fffcf9,#fffcf9,#fffcf9,#fffcf9,#fffcf9,#fffcf9,#fffcf9,#fffcf9,#fffcf9,#fffcf9,#fffcf9,#fffcf9,#fffcf9,#fffcf9,#fffcf9,#fffcf9,#fffcf9,#fffcf9,#fffcf9,#fffcf9,#fffcf9,#fffcf9,#fffcf9,#fffcf9,#fffcf9,#fffcf9)"></i><i style="background:linear-gradient(90deg,#fffcf9,#fffcf9,#fffcf9,#fffcf9,#fffcf9,#fffcf9,#fffcf9,#fffcf9,#fffcf9,#fffcf9,#fffcf9,#fffcf9,#fffcf9,#fffcf9,#fffcf9,#fffcf9,#fffcf9,#fffcf9,#fffcf9,#fffcf9,#fffcf9,#fffcf9,#fffcf9,#fffcf9,#fffcf9,#fffcf9,#fffcf9,#fffcf9,#fffcf9,#fffcf9,#fffcf9,#fffcf9,#fffcf9,#fffcf9,#fffcf9,#fffcf9,#fffcf9,#fffcf9,#fffcf9,#fffcf9,#fffcf9,#fffcf9,#fffcf9,#fffcf9,#fffcf9,#fffcf9,#fffcf9,#fffcf9,#fffcf9)"></i><i style="background:linear-gradient(90deg,#fffcf9,#fffcf9,#fffcf9,#fffcf9,#fffcf9,#fffcf9,#fffcf9,#fffcf9,#fffcf9,#fffcf9,#fffcf9,#fffcf9,#fffcf9,#fffcf9,#fffcf9,#fffcf9,#fffcf9,#fffcf9,#fffcf9,#fffcf9,#fffcf9,#fffcf9,#fffcf9,#fffcf9,#fffcf9,#fffcf9,#fffcf9,#fffcf9,#fffcf9,#fffcf9,#fffcf9,#fffcf9,#fffcf9,#fffcf9,#fffcf9,#fffcf9,#fffcf9,#fffcf9,#fffcf9,#fffcf9,#fffcf9,#fffcf9,#fffcf9,#fffcf9,#fffcf9,#fffcf9,#fffcf9,#fffcf9,#fffcf9)"></i><i style="background:linear-gradient(90deg,#fffcf9,#fffcf9,#fffcf9,#fffcf9,#fffcf9,#fffcf9,#fffcf9,#fffcf9,#fffcf9,#fffcf9,#fffcf9,#fffcf9,#fffcf9,#fffcf9,#fffcf9,#fffcf9,#fffcf9,#fffcf9,#fffcf9,#fffcf9,#fffcf9,#fffcf9,#fffcf9,#fffcf9,#fffcf9,#fffcf9,#fffcf9,#fffcf9,#fffcf9,#fffcf9,#fffcf9,#fffcf9,#fffcf9,#fffcf9,#fffcf9,#fffcf9,#fffcf9,#fffcf9,#fffcf9,#fffcf9,#fffcf9,#fffcf9,#fffcf9,#fffcf9,#fffcf9,#fffcf9,#fffcf9,#fffcf9,#fffcf9)"></i><i style="background:linear-gradient(90deg,#fffcf9,#fffcf9,#fffcf9,#fffcf9,#fffcf9,#fffcf9,#fffcf9,#fffcf9,#fffcf9,#fffcf9,#fffcf9,#fffcf9,#fffcf9,#fffcf9,#fffcf9,#fffcf9,#fffcf9,#fffcf9,#fffcf9,#fffcf9,#fffcf9,#fffcf9,#fffcf9,#fffcf9,#fffcf9,#fffcf9,#fffcf9,#fffcf9,#fffcf9,#fffcf9,#fffcf9,#fffcf9,#fffcf9,#fffcf9,#fffcf9,#fffcf9,#fffcf9,#fffcf9,#fffcf9,#fffcf9,#fffcf9,#fffcf9,#fffcf9,#fffcf9,#fffcf9,#fffcf9,#fffcf9,#fffcf9,#fffcf9)"></i><i style="background:linear-gradient(90deg,#fffcf9,#fffcf9,#fffcf9,#fffcf9,#fffcf9,#fffcf9,#fffcf9,#fffcf9,#fffcf9,#fffcf9,#fffcf9,#fffcf9,#fffcf9,#fffcf9,#fffcf9,#fffcf9,#fffcf9,#fffcf9,#fffcf9,#fffcf9,#fffcf9,#fffcf9,#fffcf9,#fffcf9,#fffcf9,#fffcf9,#fffcf9,#fffcf9,#fffcf9,#fffcf9,#fffcf9,#fffcf9,#fffcf9,#fffcf9,#fffcf9,#fffcf9,#fffcf9,#fffcf9,#fffcf9,#fffcf9,#fffcf9,#fffcf9,#fffcf9,#fffcf9,#fffcf9,#fffcf9,#fffcf9,#fffcf9,#fffcf9)"></i><i style="background:linear-gradient(90deg,#fffcf9,#fffcf9,#fffcf9,#fffcf9,#fffcf9,#fffcf9,#fffcf9,#fffcf9,#fffcf9,#fffcf9,#fffcf9,#fffcf9,#fffcf9,#fffcf9,#fffcf9,#fffcf9,#fffcf9,#fffcf9,#fffcf9,#fffcf9,#fffcf9,#fffcf9,#fffcf9,#fffcf9,#fffcf9,#fffcf9,#fffcf9,#fffcf9,#fffcf9,#fffcf9,#fffcf9,#fffcf9,#fffcf9,#fffcf9,#fffcf9,#fffcf9,#fffcf9,#fffcf9,#fffcf9,#fffcf9,#fffcf9,#fffcf9,#fffcf9,#fffcf9,#fffcf9,#fffcf9,#fffcf9,#fffcf9,#fffcf9)"></i><i style="background:linear-gradient(90deg,#fffcf9,#fffcf9,#fffcf9,#fffcf9,#fffcf9,#fffcf9,#fffcf9,#fffcf9,#fffcf9,#fffcf9,#fffcf9,#fffcf9,#fffcf9,#fffcf9,#fffcf9,#fffcf9,#fffcf9,#fffcf9,#fffcf9,#fffcf9,#fffcf9,#fffcf9,#fffcf9,#fffcf9,#fffcf9,#fffcf9,#fffcf9,#fffcf9,#fffcf9,#fffcf9,#fffcf9,#fffcf9,#fffcf9,#fffcf9,#fffcf9,#fffcf9,#fffcf9,#fffcf9,#fffcf9,#fffcf9,#fffcf9,#fffcf9,#fffcf9,#fffcf9,#fffcf9,#fffcf9,#fffcf9,#fffcf9,#fffcf9)"></i><i style="background:linear-gradient(90deg,#fffcf9,#fffcf9,#fffcf9,#fffcf9,#fffcf9,#fffcf9,#fffcf9,#fffcf9,#fffcf9,#fffcf9,#fffcf9,#fffcf9,#fffcf9,#fffcf9,#fffcf9,#fffcf9,#fffcf9,#fffcf9,#fffcf9,#fffcf9,#fffcf9,#fffcf9,#fffcf9,#fffcf9,#fffcf9,#fffcf9,#fffcf9,#fffcf9,#fffcf9,#fffcf9,#fffcf9,#fffcf9,#fffcf9,#fffcf9,#fffcf9,#fffcf9,#fffcf9,#fffcf9,#fffcf9,#fffcf9,#fffcf9,#fffcf9,#fffcf9,#fffcf9,#fffcf9,#fffcf9,#fffcf9,#fffcf9,#fffcf9)"></i><i style="background:linear-gradient(90deg,#fffcf9,#fffcf9,#fffcf9,#fffcf9,#fffcf9,#fffcf9,#fffcf9,#fffcf9,#fffcf9,#fffcf9,#fffcf9,#fffcf9,#fffcf9,#fffcf9,#fffcf9,#fffcf9,#fffcf9,#fffcf9,#fffcf9,#fffcf9,#fffcf9,#fffcf9,#fffcf9,#fffcf9,#fffcf9,#fffcf9,#fffcf9,#fffcf9,#fffcf9,#fffcf9,#fffcf9,#fffcf9,#fffcf9,#fffcf9,#fffcf9,#fffcf9,#fffcf9,#fffcf9,#fffcf9,#fffcf9,#fffcf9,#fffcf9,#fffcf9,#fffcf9,#fffcf9,#fffcf9,#fffcf9,#fffcf9,#fffcf9)"></i><i style="background:linear-gradient(90deg,#fffcf9,#fffcf9,#fffcf9,#fffcf9,#fffcf9,#fffcf9,#fffcf9,#fffcf9,#fffcf9,#fffcf9,#fffcf9,#fffcf9,#fffcf9,#fffcf9,#fffcf9,#fffcf9,#fffcf9,#fffcf9,#fffcf9,#fffcf9,#fffcf9,#fffcf9,#fffcf9,#fffcf9,#fffcf9,#fffcf9,#fffcf9,#fffcf9,#fffcf9,#fffcf9,#fffcf9,#fffcf9,#fffcf9,#fffcf9,#fffcf9,#fffcf9,#fffcf9,#fffcf9,#fffcf9,#fffcf9,#fffcf9,#fffcf9,#fffcf9,#fffcf9,#fffcf9,#fffcf9,#fffcf9,#fffcf9,#fffcf9)"></i><i style="background:linear-gradient(90deg,#fffcf9,#fffcf9,#fffcf9,#fffcf9,#fffcf9,#fffcf9,#fffcf9,#fffcf9,#fffcf9,#fffcf9,#fffcf9,#fffcf9,#fffcf9,#fffcf9,#fffcf9,#fffcf9,#fffcf9,#fffcf9,#fffcf9,#fffcf9,#fffcf9,#fffcf9,#fffcf9,#fffcf9,#fffcf9,#fffcf9,#fffcf9,#fffcf9,#fffcf9,#fffcf9,#fffcf9,#fffcf9,#fffcf9,#fffcf9,#fffcf9,#fffcf9,#fffcf9,#fffcf9,#fffcf9,#fffcf9,#fffcf9,#fffcf9,#fffcf9,#fffcf9,#fffcf9,#fffcf9,#fffcf9,#fffcf9,#fffcf9)"></i><i style="height:1px;background:linear-gradient(90deg,#fffcf9,#fffcf9,#fffcf9,#fffcf9,#fffcf9,#fffcf9,#fffcf9,#fffcf9,#fffbf9,#fffbf9,#fffbf9,#fffbf9,#fffbf9,#fffbf9,#fffbf9,#fffcf9,#fffbf9,#fffbf9,#fffbf9,#fffbf8,#fffbf8,#fffbf8,#fffbf8,#fffbf8,#fffbf8,#fffbf8,#fffbf8,#fffbf8,#fffbf8,#fffbf8,#fffbf9,#fffbf9,#fffbf9,#fffbf9,#fffbf9,#fffbf9,#fffbf9,#fffbf9,#fffbf9,#fffbf9,#fffcf9,#fffcf9,#fffcf9,#fffcf9,#fffcf9,#fffcf9,#fffcf9,#fffcf9,#fffcf9)"></i><i style="height:1px;background:linear-gradient(90deg,#fffcf9,#fffcf9,#fffcf9,#fffcf9,#fffcf9,#fffbf9,#fffbf9,#fffbf9,#fffbf8,#fffbf8,#fffbf8,#fffbf8,#fffbf8,#fffbf8,#fffbf8,#fffbf8,#fffbf8,#fffbf8,#fffbf8,#fffbf8,#fffbf7,#fffbf7,#fffbf7,#fffbf7,#fffbf7,#fffbf7,#fffbf7,#fffbf7,#fffbf7,#fffbf8,#fffbf8,#fffbf8,#fffbf8,#fffbf8,#fffbf8,#fffbf8,#fffbf8,#fffbf8,#fffbf8,#fffbf8,#fffbf9,#fffbf9,#fffbf9,#fffcf9,#fffcf9,#fffcf9,#fffcf9,#fffcf9,#fffcf9)"></i><i style="height:1px;background:linear-gradient(90deg,#fffbf9,#fffbf9,#fffbf9,#fffbf9,#fffbf9,#fffbf8,#fffbf8,#fffbf8,#fffbf8,#fffbf7,#fffbf7,#fffbf7,#fffbf7,#fffbf8,#fffbf8,#fffbf8,#fffbf8,#fffbf7,#fffaf7,#fffaf6,#fffaf6,#fffaf6,#fffaf6,#fffaf6,#fffaf6,#fffaf6,#fffaf6,#fffaf6,#fffaf6,#fffaf6,#fffaf7,#fffbf7,#fffbf8,#fffbf8,#fffbf8,#fffbf7,#fffbf7,#fffbf7,#fffbf7,#fffbf8,#fffbf8,#fffbf8,#fffbf8,#fffbf9,#fffbf9,#fffbf9,#fffbf9,#fffbf9,#fffbf9)"></i><i style="height:1px;background:linear-gradient(90deg,#fffbf8,#fffbf8,#fffbf8,#fffbf8,#fffbf8,#fffbf8,#fffbf7,#fffaf7,#fffaf6,#fffaf6,#fffaf6,#fffaf6,#fffaf6,#fffaf6,#fffaf6,#fffaf6,#fffaf6,#fffaf6,#fff9f5,#fff9f4,#fef8f3,#fef8f2,#fef8f3,#fef8f3,#fef8f3,#fef8f3,#fef8f2,#fef8f2,#fef8f3,#fff9f4,#fff9f5,#fffaf6,#fffaf6,#fffaf6,#fffaf6,#fffaf6,#fffaf6,#fffaf6,#fffaf6,#fffaf6,#fffaf7,#fffbf7,#fffbf8,#fffbf8,#fffbf8,#fffbf8,#fffbf8,#fffbf8,#fffbf8)"></i><i style="height:1px;background:linear-gradient(90deg,#fffbf8,#fffbf8,#fffbf7,#fffbf7,#fffaf7,#fffaf6,#fffaf6,#fff9f5,#fff9f4,#fef8f3,#fef8f3,#fef8f3,#fef8f3,#fef8f3,#fff9f4,#fff9f4,#fff9f4,#fef8f3,#fef7f1,#fef6ef,#fef5ed,#fef5ed,#fef5ed,#fef5ee,#fef6ee,#fef5ed,#fef5ed,#fef5ed,#fef5ee,#fef6f0,#fef7f2,#fef8f3,#fff9f4,#fff9f4,#fef8f3,#fef8f3,#fef8f3,#fef8f3,#fef8f3,#fff9f4,#fff9f5,#fffaf6,#fffaf6,#fffaf7,#fffbf7,#fffbf7,#fffbf7,#fffbf8,#fffbf8)"></i><i style="height:1px;background:linear-gradient(90deg,#fffaf6,#fffaf6,#fffaf6,#fffaf6,#fff9f5,#fff9f4,#fef8f3,#fef7f2,#fef7f0,#fef6ef,#fef5ee,#fef5ed,#fef5ee,#fef6ef,#fef6f0,#fef7f0,#fef6ef,#fef5ed,#fef3ea,#fef1e7,#fef0e4,#feefe3,#feefe3,#fef0e5,#fef1e6,#fef0e4,#feefe3,#feefe3,#fef0e5,#fef2e8,#fef4ec,#fef6ee,#fef6f0,#fef6f0,#fef6ef,#fef5ee,#fef5ed,#fef5ed,#fef5ee,#fef6f0,#fef7f1,#fef8f3,#fff9f4,#fff9f5,#fffaf5,#fffaf6,#fffaf6,#fffaf6,#fffaf6)"></i><i style="height:1px;background:linear-gradient(90deg,#fff9f4,#fff9f4,#fef8f3,#fef8f3,#fef8f2,#fef7f0,#fef6ee,#fef4ec,#fef3e9,#fef1e7,#fef0e5,#fef0e5,#fef0e5,#fef1e7,#fef2e9,#fef3ea,#fef2e8,#fef0e4,#fdeddf,#fde9d9,#fde6d4,#fde5d2,#fde6d3,#fde8d6,#fde8d7,#fde7d5,#fde5d3,#fde6d3,#fde8d6,#fdebdc,#feeee2,#fef1e6,#fef3e9,#fef2e9,#fef2e7,#fef1e6,#fef0e5,#fef0e5,#fef1e6,#fef2e8,#fef4eb,#fef5ee,#fef6f0,#fef7f1,#fef8f2,#fef8f3,#fff9f4,#fff9f4,#fff9f4)"></i><i style="height:1px;background:linear-gradient(90deg,#fef7f1,#fef7f0,#fef6f0,#fef6ef,#fef5ed,#fef3eb,#fef2e7,#feefe3,#fdeddf,#fdeada,#fde8d8,#fde8d7,#fde9d9,#fdeadb,#fdecde,#fdeddf,#fdecdd,#fde8d7,#fce3ce,#fcdcc3,#fbd7b9,#fbd4b4,#fbd6b7,#fcd9bd,#fcdabf,#fbd7ba,#fbd4b5,#fbd5b5,#fcd9bd,#fce0c9,#fde5d2,#fdeada,#fdecde,#fdecde,#fdebdc,#fde9d9,#fde8d7,#fde8d7,#fde9d9,#fdecdd,#feeee2,#fef1e6,#fef3ea,#fef4ec,#fef5ee,#fef6ef,#fef7f0,#fef7f1,#fef7f1)"></i><i style="height:1px;background:linear-gradient(90deg,#fef4ec,#fef4ec,#fef3ea,#fef2e9,#fef1e6,#feefe3,#fdecde,#fde8d7,#fde4d0,#fce0ca,#fcdec6,#fcddc4,#fcdfc7,#fce1cb,#fde3cf,#fde5d1,#fce3ce,#fcdcc3,#fbd2b1,#fac79c,#f9be8b,#f9b983,#f9bc88,#f9c293,#fac496,#f9bf8e,#f9ba84,#f9ba86,#f9c293,#facca6,#fbd8ba,#fce0c9,#fde4d0,#fde4cf,#fce1cc,#fcdfc8,#fcddc4,#fcddc4,#fcdfc8,#fce3ce,#fde7d5,#fdebdc,#feeee1,#fef0e5,#fef2e8,#fef3ea,#fef4eb,#fef4ec,#fef5ed)"></i><i style="height:1px;background:linear-gradient(90deg,#fef2e7,#fef1e6,#fef0e4,#feeee2,#fdecdf,#fde9d9,#fde5d2,#fce0ca,#fcd9be,#fbd3b1,#fbcea9,#facda7,#fbcfac,#fbd4b3,#fbd8bb,#fcdac0,#fbd7b9,#facca6,#f9be8b,#f7aa69,#f59a4d,#f49443,#f59748,#f6a158,#f6a45e,#f69c50,#f59544,#f59545,#f6a159,#f8b37a,#fac599,#fbd2b0,#fcd9bd,#fbd8bc,#fbd4b5,#fbd0ad,#facda7,#facda7,#fbd1ae,#fbd7ba,#fcdec7,#fde4d0,#fde8d8,#fdecdd,#feeee1,#feefe4,#fef0e5,#fef1e7,#fef2e8)"></i><i style="height:1px;background:linear-gradient(90deg,#feefe2,#feeee1,#fdeddf,#fdebdc,#fde8d7,#fde4d1,#fcdfc8,#fbd7b9,#facea8,#fac598,#f9bf8d,#f9bd8a,#f9c090,#fac59a,#facba4,#fbceaa,#facaa2,#f9bd89,#f7a561,#f38f39,#ee811f,#e97a1a,#ec7e1c,#f08629,#f1892f,#ef8222,#ea7b1a,#eb7c1b,#f0872b,#f5984a,#f8b176,#fac497,#facda7,#facca5,#fac69b,#f9c191,#f9bd8a,#f9bd8b,#f9c294,#facba3,#fbd4b4,#fcddc5,#fde3cf,#fde7d6,#fdeada,#fdecde,#feede0,#feeee2,#feefe3)"></i><i style="height:1px;background:linear-gradient(90deg,#fdecde,#fdebdd,#fdeada,#fde8d7,#fde5d2,#fce1cb,#fcdabe,#fbd0ac,#fac598,#f8b983,#f8af72,#f7ac6d,#f8b074,#f8b881,#f9c090,#fac498,#f9c090,#f7ae6f,#f49442,#ed7f1d,#dc6c0f,#c35e0d,#ce640e,#e17213,#e57616,#dc6c0f,#c55f0d,#cb630e,#e47415,#f1892f,#f6a159,#f8b882,#f9c394,#f9c191,#f9b984,#f8b175,#f7ac6d,#f7ad6f,#f8b57d,#f9c192,#facda6,#fbd7b9,#fcdfc8,#fde4d0,#fde7d5,#fde9d9,#fdebdc,#fdecde,#fdeddf)"></i><i style="height:1px;background:linear-gradient(90deg,#fdebdc,#fdeada,#fde8d7,#fde6d4,#fce3ce,#fcdec6,#fbd6b8,#facba4,#f9bf8d,#f8b073,#f6a55f,#f6a058,#f6a45e,#f7ac6d,#f8b67e,#f9bd8a,#f8b881,#f6a45e,#f28b32,#e27314,#b1550b,#924509,#9e4a0a,#bf5c0d,#cc630e,#ae530b,#934509,#9d4a0a,#ce640e,#ed7f1e,#f59646,#f8af72,#f9bb86,#f8b780,#f7ae70,#f6a560,#f6a057,#f6a25b,#f7ac6c,#f9ba85,#fac89d,#fbd3b2,#fcdcc3,#fce2cc,#fde5d2,#fde8d6,#fde9d9,#fdeadb,#fdebdd)"></i><i style="height:1px;background:linear-gradient(90deg,#fdeada,#fde9d8,#fde7d6,#fde5d2,#fce2cc,#fcddc4,#fbd4b4,#fac99f,#f9bb86,#f7aa69,#f69e53,#f5984a,#f69b4f,#f6a45f,#f7af71,#f8b67e,#f8b378,#f69e54,#f08629,#dc6c0f,#964609,#713506,#7b3a07,#a14b0a,#ae530b,#8d4209,#713506,#7e3b07,#b6570c,#e87919,#f4913d,#f7aa68,#f8b57c,#f8b073,#f7a662,#f69c51,#f59849,#f59b4e,#f7a662,#f8b67d,#fac598,#fbd1ae,#fcdabf,#fce0ca,#fde4d0,#fde6d4,#fde8d7,#fde9d9,#fdeadb)"></i><i style="height:1px;background:linear-gradient(90deg,#fde9d9,#fde8d7,#fde7d5,#fde4d1,#fce1cb,#fcdcc2,#fbd3b2,#fac89d,#f8b983,#f7a764,#f59a4c,#f49443,#f59646,#f69e55,#f7a968,#f8b277,#f8af73,#f69b4f,#ef8424,#d1660e,#863f08,#5e2c05,#653005,#8b4108,#994809,#773807,#5c2c05,#6b3306,#a9500b,#e57616,#f38f39,#f7a763,#f8b175,#f7ab6a,#f6a058,#f59747,#f49341,#f59647,#f6a35c,#f8b37a,#fac496,#fbd0ad,#fcdabe,#fce0c9,#fde3cf,#fde6d3,#fde8d6,#fde9d9,#fdeada)"></i><i style="height:1px;background:linear-gradient(90deg,#fde9d9,#fde8d7,#fde6d4,#fde4d1,#fce1cb,#fcdcc2,#fbd3b3,#fac89e,#f8b983,#f7a763,#f5984a,#f4923f,#f49341,#f59b4e,#f7a661,#f8af72,#f7af71,#f69c51,#ef8526,#d2670e,#823d08,#552804,#582904,#793907,#874008,#663006,#522603,#642f05,#a8500b,#e67717,#f3903b,#f7a763,#f7ae71,#f7a764,#f69c51,#f49442,#f4913e,#f59544,#f6a25b,#f8b37a,#fac497,#fbd0ad,#fcdabe,#fce0c9,#fde3cf,#fde6d3,#fde7d6,#fde9d8,#fdeada)"></i><i style="height:1px;background:linear-gradient(90deg,#fde9d9,#fde8d7,#fde6d4,#fde4d1,#fce1cc,#fcdcc3,#fbd4b4,#fac9a0,#f9ba85,#f7a866,#f5994a,#f4923e,#f4923f,#f59849,#f6a35d,#f7ad6e,#f8b073,#f6a058,#f1882d,#dd6d10,#8a4108,#532704,#4e2503,#693106,#763807,#592a04,#4c2303,#663006,#b3550c,#ea7b1a,#f49341,#f7a968,#f7ad6e,#f6a45f,#f5994c,#f4923f,#f3913c,#f59545,#f6a35d,#f8b57c,#fac599,#fbd1af,#fcdabf,#fce0ca,#fde4cf,#fde6d3,#fde7d6,#fde9d8,#fdeada)"></i><i style="height:1px;background:linear-gradient(90deg,#fde9d9,#fde8d7,#fde7d5,#fde5d1,#fce2cc,#fcddc4,#fbd5b6,#facaa2,#f9bc89,#f7aa69,#f59a4c,#f4923e,#f3913d,#f59646,#f6a159,#f7ab6b,#f8b073,#f6a45f,#f28d35,#e17213,#954609,#542804,#482102,#5b2b05,#673106,#4f2503,#492202,#6d3406,#c05d0d,#ee801e,#f59849,#f7ab6b,#f7ac6c,#f6a25b,#f59748,#f3913d,#f3903c,#f59646,#f6a560,#f8b780,#fac79c,#fbd2b1,#fcdbc1,#fce1ca,#fde4d0,#fde6d3,#fde8d6,#fde9d8,#fdeada)"></i><i style="height:1px;background:linear-gradient(90deg,#fde9d9,#fde8d7,#fde7d5,#fde5d2,#fce2cd,#fcdec6,#fbd6b8,#facba4,#f9be8c,#f7ac6c,#f69b4f,#f4923f,#f3913c,#f59544,#f69f56,#f7aa68,#f8b073,#f7a866,#f3913d,#e67717,#a34d0a,#582a04,#431f02,#512603,#5a2a04,#482102,#482202,#783807,#d0650e,#f08527,#f69d52,#f7ad6d,#f7aa69,#f6a058,#f59545,#f3903c,#f3913c,#f59748,#f7a764,#f9b984,#fac89f,#fbd4b3,#fcdcc2,#fce1cb,#fde4d0,#fde6d4,#fde8d6,#fde9d8,#fdeada)"></i><i style="background:linear-gradient(90deg,#fde9d9,#fde8d8,#fde7d5,#fde5d2,#fce3ce,#fcdfc7,#fbd8bb,#facea8,#f9c191,#f8af72,#f69e54,#f49341,#f3903c,#f49442,#f69d51,#f7a765,#f8af72,#f7ad6e,#f59849,#ee801e,#bc5b0c,#663006,#431f01,#472102,#4d2403,#421e01,#4e2403,#8e4309,#e07113,#f28c34,#f6a45e,#f7ad6f,#f7a865,#f69d53,#f49442,#f3903b,#f3913d,#f59a4d,#f7ab6a,#f9bd8a,#facba3,#fbd5b7,#fcddc5,#fce2cc,#fde4d1,#fde6d4,#fde8d7,#fde9d9,#fdeada)"></i><i style="background:linear-gradient(90deg,#fdeada,#fde9d8,#fde7d6,#fde6d3,#fde3cf,#fce0c9,#fcdabe,#fbd0ad,#fac497,#f8b47a,#f6a25b,#f59544,#f3913c,#f4923f,#f59a4c,#f6a55f,#f7ae70,#f8b074,#f6a35c,#f18b31,#de6e11,#853e08,#4a2202,#3e1d01,#401e01,#401d01,#5e2c05,#b2550c,#ec7d1c,#f59645,#f7ab6a,#f7ad6e,#f6a560,#f59a4d,#f4923f,#f3903a,#f49340,#f69e54,#f8b073,#f9c192,#facea9,#fbd8bb,#fcdfc7,#fce3ce,#fde5d2,#fde7d5,#fde8d7,#fde9d9,#fdeadb)"></i><i style="background:linear-gradient(90deg,#fdeada,#fde9d9,#fde8d7,#fde6d4,#fde4d0,#fce1cb,#fcdcc2,#fbd3b2,#fac89d,#f8b982,#f7a663,#f59748,#f3913d,#f4913e,#f59748,#f6a25a,#f7ac6c,#f8b176,#f7ac6c,#f59645,#eb7d1c,#b2550b,#5e2c05,#3f1d01,#3b1b01,#4a2202,#843e08,#dd6e10,#f18a31,#f6a25b,#f7ae71,#f7ab6a,#f6a15a,#f59747,#f3913d,#f3903b,#f59544,#f6a35c,#f8b57c,#fac599,#fbd1ae,#fcdabf,#fce0c9,#fde3cf,#fde6d3,#fde7d6,#fde9d8,#fdeada,#fdeadb)"></i><i style="background:linear-gradient(90deg,#fdeadb,#fde9d9,#fde8d7,#fde7d5,#fde5d1,#fce2cd,#fcddc5,#fbd6b7,#facba3,#f9bd8b,#f7ab6b,#f59b4e,#f4923f,#f3913d,#f59544,#f69f55,#f7a967,#f8b174,#f8b276,#f6a45e,#f28c34,#df6f12,#894008,#4c2403,#421e01,#612e05,#b6570c,#ed7f1d,#f59748,#f7ac6c,#f7af71,#f7a866,#f69e54,#f59443,#f3903b,#f3913c,#f59849,#f7a865,#f9ba85,#fac99f,#fbd4b3,#fcdcc3,#fce1cb,#fde4d0,#fde6d4,#fde8d6,#fde9d8,#fdeada,#fdebdb)"></i><i style="background:linear-gradient(90deg,#fdeadb,#fde9d9,#fde8d8,#fde7d5,#fde5d2,#fce3ce,#fcdfc7,#fbd8bb,#facea9,#f9c191,#f8b073,#f69e55,#f49341,#f3913c,#f49442,#f69c50,#f7a662,#f7af71,#f8b379,#f7ad6f,#f5984a,#ee801e,#b8580c,#642f05,#532703,#894008,#e07012,#f28d35,#f6a45f,#f8b073,#f7ad6f,#f7a560,#f59b4e,#f49340,#f38f3a,#f4923e,#f69c50,#f7ad6e,#f9bf8d,#facca5,#fbd6b8,#fcdec6,#fce2cd,#fde5d1,#fde7d5,#fde8d7,#fde9d9,#fdeada,#fdebdc)"></i><i style="background:linear-gradient(90deg,#fdebdb,#fdeada,#fde9d8,#fde8d6,#fde6d3,#fde3cf,#fce0c9,#fcdabf,#fbd1ae,#fac498,#f8b47b,#f6a35c,#f59544,#f3913d,#f4923f,#f5994b,#f6a35d,#f7ad6d,#f8b378,#f8b378,#f7a661,#f28e37,#e17113,#9a480a,#833e08,#be5c0d,#ee801f,#f5994c,#f7ad6f,#f8b074,#f7ab6b,#f6a25b,#f59749,#f3913d,#f38f3a,#f49442,#f6a058,#f8b277,#f9c394,#fbcfab,#fcd9bc,#fcdfc8,#fce3ce,#fde5d2,#fde7d5,#fde8d8,#fde9d9,#fdeadb,#fdebdc)"></i><i style="background:linear-gradient(90deg,#fdebdb,#fdeada,#fde9d9,#fde8d7,#fde6d4,#fde4d0,#fce1cb,#fcdcc2,#fbd3b3,#fac89e,#f8b983,#f7a764,#f59849,#f4913e,#f4913e,#f59647,#f6a058,#f7aa69,#f8b175,#f8b47b,#f8b073,#f69c51,#ef8425,#d86a0f,#c35e0d,#e57617,#f3903b,#f7a865,#f8b276,#f8af72,#f7a865,#f69e55,#f59544,#f3903b,#f3903b,#f59645,#f6a560,#f8b780,#fac69b,#fbd2b0,#fcdbc0,#fce0ca,#fde4cf,#fde6d3,#fde7d6,#fde9d8,#fdeada,#fdeadb,#fdebdc)"></i><i style="background:linear-gradient(90deg,#fdebdc,#fdeada,#fde9d9,#fde8d7,#fde7d5,#fde5d1,#fce2cd,#fcdec6,#fbd6b8,#facca5,#f9be8d,#f7ad6e,#f69c51,#f49340,#f3913c,#f49442,#f69c50,#f7a661,#f7ad6f,#f8b278,#f8b47a,#f7a968,#f4923e,#eb7c1b,#e47516,#f0862a,#f69e54,#f8af73,#f8b175,#f7ac6c,#f6a45e,#f59a4d,#f49340,#f38f3a,#f3913d,#f59a4d,#f7aa69,#f9bc89,#facaa2,#fbd5b5,#fcddc4,#fce1cc,#fde4d0,#fde6d4,#fde8d6,#fde9d8,#fdeada,#fdeadb,#fdebdc)"></i><i style="background:linear-gradient(90deg,#fdebdc,#fdeadb,#fde9d9,#fde8d8,#fde7d5,#fde5d2,#fce3ce,#fcdfc8,#fcd9bd,#fbd0ac,#fac496,#f8b47a,#f6a25c,#f59545,#f3913d,#f4923e,#f59747,#f6a057,#f7a866,#f7ae71,#f8b276,#f7ae70,#f69c51,#f28b33,#f0872b,#f4923f,#f7a662,#f8af73,#f7ad6e,#f7a764,#f69f55,#f59545,#f3913c,#f38f3a,#f49341,#f6a057,#f8b175,#f9c192,#facea9,#fbd7ba,#fcdec7,#fce2cd,#fde5d1,#fde7d5,#fde8d7,#fde9d9,#fdeada,#fdebdb,#fdebdc)"></i><i style="background:linear-gradient(90deg,#fdebdc,#fdeadb,#fde9da,#fde9d8,#fde7d6,#fde6d3,#fde4d0,#fce0ca,#fcdbc1,#fbd3b2,#fac89e,#f9ba86,#f7a967,#f59a4d,#f4923f,#f3913c,#f49442,#f59b4e,#f6a35d,#f7aa69,#f7ae71,#f8af72,#f7a865,#f69c50,#f5984a,#f6a15a,#f7ac6d,#f7ad6e,#f7a967,#f6a25b,#f59a4c,#f49340,#f38f3a,#f3903c,#f59747,#f7a661,#f8b780,#fac69a,#fbd1af,#fcdabe,#fce0c9,#fce3ce,#fde5d2,#fde7d5,#fde8d7,#fde9d9,#fdeada,#fdebdb,#fdebdc)"></i><i style="background:linear-gradient(90deg,#fdebdc,#fdeadb,#fdeada,#fde9d8,#fde8d6,#fde6d4,#fde4d1,#fce2cc,#fcddc5,#fbd6b8,#facca6,#f9c090,#f8b073,#f69f57,#f49443,#f3903c,#f4913e,#f59645,#f69d53,#f6a45f,#f7a764,#f7a662,#f6a25b,#f69f56,#f69e54,#f6a058,#f6a45e,#f7a561,#f6a35d,#f69d52,#f59544,#f3913c,#f38f39,#f4923f,#f69c50,#f7ac6c,#f9bd8a,#facaa1,#fbd4b4,#fcdcc2,#fce1ca,#fde4cf,#fde6d3,#fde7d6,#fde8d8,#fde9d9,#fdeada,#fdebdb,#fdebdc)"></i><i style="background:linear-gradient(90deg,#fdebdc,#fdeadb,#fdeada,#fde9d8,#fde8d7,#fde6d4,#fde5d1,#fce2cd,#fcdfc7,#fbd9bc,#fbd0ac,#fac598,#f8b67e,#f7a561,#f59748,#f3913d,#f3903b,#f4923f,#f59748,#f69c50,#f69c51,#f59849,#f49442,#f4923e,#f3913d,#f4923f,#f59545,#f5994c,#f59a4d,#f59646,#f4923f,#f38f39,#f38f3a,#f49443,#f6a159,#f8b176,#f9c192,#facda7,#fbd6b8,#fcddc5,#fce1cc,#fde4d0,#fde6d3,#fde7d6,#fde8d8,#fde9d9,#fdeada,#fdebdb,#fdebdc)"></i><i style="background:linear-gradient(90deg,#fdebdb,#fdeada,#fde9d9,#fde9d8,#fde8d6,#fde6d4,#fde5d2,#fce3ce,#fcdfc9,#fcdabf,#fbd2b1,#fac89e,#f9bb87,#f7ab6a,#f69b4f,#f4923f,#f38f39,#f38f3a,#f4923e,#f49341,#f4913e,#f28d36,#f1892e,#f08629,#f08528,#f0872b,#f18b31,#f38f39,#f4923e,#f3913d,#f38e38,#f28d36,#f3903b,#f59748,#f7a662,#f8b67f,#fac598,#fbd0ac,#fbd8bb,#fcdec6,#fce2cc,#fde4d0,#fde6d3,#fde7d6,#fde8d7,#fde9d9,#fdeada,#fdeadb,#fdebdc)"></i><i style="background:linear-gradient(90deg,#fdeadb,#fdeada,#fde9d9,#fde8d8,#fde7d6,#fde6d4,#fde5d1,#fce3ce,#fce0c9,#fcdcc1,#fbd5b5,#facba4,#f9c08f,#f8b074,#f6a057,#f49442,#f28e38,#f28c34,#f28d35,#f28c34,#f1882d,#ef8323,#ec7d1c,#e87a19,#e87919,#ea7b1a,#ee801e,#f08527,#f1892f,#f28b32,#f28b32,#f28c34,#f3913d,#f59b4e,#f7aa6a,#f9bb87,#fac89e,#fbd2b0,#fcd9bd,#fcdfc7,#fce2cc,#fde4d0,#fde6d3,#fde7d5,#fde8d7,#fde9d8,#fde9d9,#fdeada,#fdeadb)"></i><i style="background:linear-gradient(90deg,#fdeada,#fde9d9,#fde9d8,#fde8d7,#fde7d5,#fde6d3,#fde5d1,#fce3ce,#fce0ca,#fcddc4,#fbd7b9,#fbcfab,#fac599,#f8b881,#f7a764,#f5984a,#f3903a,#f18b31,#f0882c,#ef8426,#ed7f1d,#e67717,#e17113,#dd6d10,#dc6c0f,#de6f11,#e37415,#e97b1a,#ee8120,#f08528,#f1882d,#f28d35,#f49442,#f6a15a,#f8b277,#f9c191,#facca5,#fbd4b4,#fcdbc0,#fcdfc8,#fce2cc,#fde4d0,#fde5d2,#fde7d5,#fde8d6,#fde8d8,#fde9d9,#fdeada,#fdeadb)"></i><i style="background:linear-gradient(90deg,#fde9d9,#fde9d8,#fde8d7,#fde7d6,#fde6d4,#fde5d2,#fde4d0,#fce2cd,#fce0c9,#fcddc4,#fbd8bb,#fbd1af,#fac89f,#f9bd8b,#f7ad6f,#f69d53,#f3913d,#f1892e,#ef8323,#ea7c1b,#e37415,#db6b0f,#c6600d,#b9590c,#b6570c,#be5c0d,#cf650e,#df6f12,#e67818,#ed7f1d,#f08528,#f28d35,#f59747,#f7a763,#f8b780,#fac497,#facea9,#fbd5b6,#fcdbc0,#fcdfc7,#fce1cb,#fde3cf,#fde5d1,#fde6d4,#fde7d5,#fde8d7,#fde9d8,#fde9d9,#fdeada)"></i><i style="background:linear-gradient(90deg,#fde9d9,#fde8d8,#fde8d7,#fde7d5,#fde6d4,#fde5d2,#fde3cf,#fce2cc,#fce0c9,#fcdcc3,#fbd8bb,#fbd2b0,#facaa2,#f9c090,#f8b277,#f6a25a,#f49340,#f1882d,#ee801e,#e67717,#dd6e10,#c6600d,#b1540b,#a34d0a,#a04b0a,#a9500b,#ba5a0c,#d3670e,#e17213,#e97b1a,#ef8425,#f28e37,#f59a4d,#f7ab6a,#f9ba86,#fac69a,#fbceaa,#fbd5b6,#fcdabf,#fcdec6,#fce1cb,#fce3ce,#fde4d1,#fde6d3,#fde7d5,#fde7d6,#fde8d7,#fde9d8,#fde9d9)"></i><i style="background:linear-gradient(90deg,#fde9d8,#fde8d7,#fde8d6,#fde7d5,#fde6d3,#fde5d1,#fde3cf,#fce2cc,#fcdfc8,#fcdcc3,#fbd8bb,#fbd2b1,#facba4,#f9c294,#f8b67d,#f7a662,#f59545,#f18a30,#ee801e,#e57516,#dc6c0f,#c15d0d,#ab510b,#9e4a0a,#9a480a,#a34d0a,#b5560c,#cd640e,#e07012,#e97a1a,#f08527,#f3903b,#f69e54,#f7ae71,#f9bd8b,#fac79d,#fbcfab,#fbd5b6,#fcdabf,#fcdec6,#fce1ca,#fce2ce,#fde4d0,#fde5d2,#fde6d4,#fde7d6,#fde8d7,#fde9d8,#fde9d9)"></i><i style="background:linear-gradient(90deg,#fde9d8,#fde8d7,#fde7d6,#fde7d5,#fde6d3,#fde5d1,#fde3cf,#fce1cc,#fcdfc8,#fcdcc2,#fbd8bb,#fbd2b1,#facba4,#f9c395,#f8b881,#f7a967,#f59849,#f28b33,#ee801e,#e47515,#d7690f,#bb5a0c,#a64e0a,#984709,#944609,#9d4a0a,#af530b,#c8610d,#df6f11,#e97a1a,#f08628,#f4913e,#f6a159,#f8b174,#f9be8d,#fac89d,#fbcfab,#fbd5b6,#fcdabf,#fcdec6,#fce0ca,#fce2cd,#fde4d0,#fde5d2,#fde6d4,#fde7d5,#fde8d7,#fde8d8,#fde9d8)"></i><i style="background:linear-gradient(90deg,#fde8d8,#fde8d7,#fde7d6,#fde6d4,#fde6d3,#fde4d1,#fce3ce,#fce1cb,#fcdfc8,#fcdcc2,#fbd7ba,#fbd2b0,#facba4,#f9c395,#f8b882,#f7aa69,#f59a4c,#f28c34,#ee801f,#e37415,#d3670e,#b6570c,#a04b0a,#924409,#8e4309,#974709,#aa500b,#c35e0d,#de6e11,#e97a19,#f08629,#f49240,#f6a25b,#f8b176,#f9bf8d,#fac79d,#fbcfaa,#fbd5b5,#fcdabe,#fcdec5,#fce0ca,#fce2cd,#fde4d0,#fde5d2,#fde6d4,#fde7d5,#fde8d6,#fde8d7,#fde9d8)"></i><i style="background:linear-gradient(90deg,#fde8d7,#fde8d6,#fde7d5,#fde6d4,#fde5d2,#fde4d0,#fce3ce,#fce1cb,#fcdfc7,#fcdbc1,#fbd7b9,#fbd2b0,#facba3,#f9c395,#f8b882,#f7aa69,#f59a4d,#f28d35,#ee801f,#e37315,#cf650e,#b1540b,#9a480a,#8b4208,#884008,#914409,#a54e0a,#bf5c0d,#dd6d10,#e87a19,#f0872a,#f49340,#f6a25b,#f8b176,#f9be8c,#fac79c,#fbceaa,#fbd4b5,#fcd9be,#fcddc5,#fce0c9,#fce2cd,#fde3cf,#fde5d2,#fde6d3,#fde7d5,#fde7d6,#fde8d7,#fde8d8)"></i><i style="background:linear-gradient(90deg,#fde8d7,#fde7d6,#fde7d5,#fde6d4,#fde5d2,#fde4d0,#fce3ce,#fce1cb,#fcdfc7,#fcdbc1,#fbd7b9,#fbd1af,#facaa3,#f9c294,#f8b781,#f7aa68,#f59a4d,#f28d35,#ee801f,#e27314,#cc630e,#ad520b,#954609,#863f08,#833d08,#8c4208,#a04b0a,#bc5a0c,#dd6d10,#e87a19,#f0872a,#f49340,#f6a25b,#f8b175,#f9be8b,#fac79c,#facea9,#fbd4b4,#fcd9bd,#fcddc4,#fce0c9,#fce2cc,#fde3cf,#fde5d1,#fde6d3,#fde6d4,#fde7d6,#fde8d7,#fde8d7)"></i><i style="background:linear-gradient(90deg,#fde8d7,#fde7d6,#fde7d5,#fde6d3,#fde5d2,#fde4d0,#fce2cd,#fce1ca,#fcdec7,#fcdbc0,#fbd6b8,#fbd1ae,#facaa2,#f9c293,#f8b77f,#f7a967,#f5994b,#f28c34,#ee801e,#e27214,#ca620d,#a9500b,#904309,#803c08,#7d3b07,#863f08,#9c490a,#b9590c,#dc6c0f,#e87919,#f08629,#f4923f,#f6a159,#f8b073,#f9bd8a,#fac69b,#facea8,#fbd4b3,#fcd9bc,#fcddc4,#fcdfc9,#fce1cc,#fde3cf,#fde4d1,#fde5d3,#fde6d4,#fde7d5,#fde8d6,#fde8d7)"></i><i style="background:linear-gradient(90deg,#fde8d6,#fde7d5,#fde6d4,#fde6d3,#fde5d1,#fde4cf,#fce2cd,#fce0ca,#fcdec6,#fcdac0,#fbd6b7,#fbd0ad,#fac9a1,#f9c192,#f8b67d,#f7a865,#f59849,#f28b33,#ed7f1d,#e17113,#c6600d,#a54e0a,#8b4108,#7b3a07,#773807,#813d08,#974709,#b5560c,#d86a0f,#e77818,#f08527,#f4913d,#f6a057,#f7af71,#f9bc89,#fac599,#facda7,#fbd3b3,#fbd8bc,#fcdcc3,#fcdfc8,#fce1cc,#fce3ce,#fde4d0,#fde5d2,#fde6d4,#fde7d5,#fde7d6,#fde8d7)"></i><i style="background:linear-gradient(90deg,#fde7d6,#fde7d5,#fde6d4,#fde5d3,#fde5d1,#fde3cf,#fce2cd,#fce0ca,#fcdec6,#fcdabf,#fbd6b7,#fbd0ac,#fac9a0,#f9c191,#f8b57c,#f7a663,#f59647,#f18a31,#ec7e1c,#e07012,#c25e0d,#a14b0a,#853f08,#753707,#723606,#7c3a07,#924409,#b0540b,#d4680e,#e67717,#ef8425,#f3903c,#f69f55,#f7ae70,#f9bb87,#fac598,#facda6,#fbd3b2,#fbd8bb,#fcdcc2,#fcdfc8,#fce1cb,#fce3ce,#fde4d0,#fde5d2,#fde6d3,#fde7d5,#fde7d6,#fde8d6)"></i><i style="background:linear-gradient(90deg,#fde7d6,#fde7d5,#fde6d4,#fde5d2,#fde4d1,#fde3cf,#fce2cc,#fce0c9,#fcdec5,#fcdabe,#fbd5b6,#fbcfac,#fac89f,#f9c08f,#f8b47a,#f7a561,#f59545,#f1892f,#eb7c1b,#de6f11,#bd5b0c,#9b490a,#803c08,#6f3506,#6c3306,#763807,#8c4208,#ab510b,#d0650e,#e47516,#ef8323,#f38f3a,#f69d53,#f7ad6e,#f9ba85,#fac497,#facca5,#fbd2b1,#fbd8ba,#fcdcc2,#fcdfc7,#fce1cb,#fce2ce,#fde4d0,#fde5d2,#fde6d3,#fde6d4,#fde7d5,#fde7d6)"></i><i style="background:linear-gradient(90deg,#fde7d5,#fde6d4,#fde6d3,#fde5d2,#fde4d0,#fce3ce,#fce2cc,#fce0c9,#fcddc5,#fcdabe,#fbd5b6,#fbcfab,#fac89e,#f9bf8f,#f8b379,#f6a560,#f59544,#f1892e,#ea7c1b,#de6e10,#bb5a0c,#984709,#7d3b07,#6c3306,#693206,#733607,#894008,#a9500b,#cd640e,#e47515,#ef8222,#f38f39,#f69d51,#f7ac6d,#f9ba84,#fac497,#facca5,#fbd2b1,#fbd7ba,#fcdcc1,#fcdfc7,#fce1cb,#fce2cd,#fde4d0,#fde5d1,#fde5d3,#fde6d4,#fde7d5,#fde7d6)"></i><i style="background:linear-gradient(90deg,#fde7d5,#fde6d4,#fde6d3,#fde5d2,#fde4d0,#fce3ce,#fce1cc,#fce0c9,#fcddc4,#fcd9be,#fbd5b5,#fbcfab,#fac89e,#f9bf8e,#f8b378,#f6a45f,#f59543,#f1882d,#ea7b1a,#dd6e10,#ba590c,#984709,#7c3a07,#6c3306,#693106,#723606,#894008,#a84f0b,#cd630e,#e37415,#ef8222,#f38f38,#f69c51,#f7ac6c,#f9b984,#fac496,#facca4,#fbd2b0,#fbd7ba,#fcdbc1,#fcdfc7,#fce1ca,#fce2cd,#fde3cf,#fde4d1,#fde5d2,#fde6d4,#fde7d5,#fde7d5)"></i><i style="background:linear-gradient(90deg,#fde7d5,#fde6d4,#fde6d3,#fde5d2,#fde4d0,#fce3ce,#fce1cc,#fcdfc9,#fcddc4,#fcd9bd,#fbd5b5,#fbcfaa,#fac89d,#f9bf8e,#f8b378,#f6a45e,#f49443,#f1882d,#ea7b1a,#dd6d10,#b9590c,#974709,#7c3a07,#6b3306,#683106,#723606,#884008,#a84f0b,#cc630e,#e37415,#ef8221,#f38e38,#f69c50,#f7ab6b,#f9b983,#fac396,#facba4,#fbd2b0,#fbd7b9,#fcdbc1,#fcdec7,#fce0ca,#fce2cd,#fde3cf,#fde4d1,#fde5d2,#fde6d3,#fde6d4,#fde7d5)"></i><i style="background:linear-gradient(90deg,#fde7d5,#fde6d4,#fde5d3,#fde5d1,#fde4d0,#fce3ce,#fce1cb,#fcdfc8,#fcddc4,#fcd9bd,#fbd4b5,#fbcfaa,#fac79d,#f9bf8d,#f8b277,#f6a45e,#f49443,#f1882c,#e97b1a,#dd6d10,#b9590c,#974709,#7b3a07,#6b3306,#683106,#713606,#874008,#a74f0b,#cb630e,#e37415,#ee8221,#f28e37,#f69c50,#f7ab6b,#f8b983,#f9c396,#facba4,#fbd2b0,#fbd7b9,#fcdbc1,#fcdec6,#fce0ca,#fce2cd,#fde3cf,#fde4d1,#fde5d2,#fde6d3,#fde6d4,#fde7d5)"></i><i style="background:linear-gradient(90deg,#fde6d4,#fde6d3,#fde5d2,#fde5d1,#fde4d0,#fce2ce,#fce1cb,#fcdfc8,#fcddc4,#fcd9bd,#fbd4b4,#fbceaa,#fac79d,#f9bf8d,#f8b277,#f6a35d,#f49442,#f0882c,#e97b1a,#dd6d10,#b8580c,#964609,#7b3a07,#6b3206,#673106,#713506,#873f08,#a64e0b,#cb620e,#e37415,#ee8120,#f28e37,#f69b4f,#f7ab6a,#f8b982,#f9c395,#facba4,#fbd1af,#fbd7b9,#fcdbc0,#fcdec6,#fce0ca,#fce2cc,#fde3cf,#fde4d0,#fde5d2,#fde6d3,#fde6d4,#fde7d5)"></i><i style="background:linear-gradient(90deg,#fde6d4,#fde6d3,#fde5d2,#fde4d1,#fde3cf,#fce2cd,#fce1cb,#fcdfc7,#fcdcc2,#fbd8bc,#fbd4b3,#facea8,#fac69b,#f9be8b,#f8b175,#f6a25b,#f49341,#f0872b,#e97a1a,#dc6c0f,#b7580c,#964609,#7b3a07,#6b3306,#683106,#713506,#873f08,#a64e0a,#ca620d,#e27314,#ee811f,#f28d36,#f59a4d,#f7aa68,#f8b780,#f9c294,#facaa2,#fbd1ae,#fbd6b7,#fcdabf,#fcdec5,#fce0c9,#fce1cc,#fce3ce,#fde4d0,#fde5d1,#fde5d2,#fde6d3,#fde6d4)"></i><i style="background:linear-gradient(90deg,#fde6d3,#fde5d2,#fde5d1,#fde4d0,#fce3ce,#fce2cc,#fce0c9,#fcdec6,#fcdbc0,#fbd7b9,#fbd2b1,#facca6,#fac598,#f9bc88,#f7af71,#f6a058,#f4923f,#f08629,#e87919,#dc6c0f,#b7570c,#964609,#7c3a07,#6c3306,#693206,#733607,#884008,#a64e0a,#c8610d,#e27214,#ee801e,#f28c34,#f5984a,#f7a865,#f8b57d,#f9c191,#fac99f,#fbcfab,#fbd5b5,#fcd9bd,#fcddc3,#fcdfc8,#fce1cb,#fce2cd,#fde3cf,#fde4d0,#fde5d2,#fde6d3,#fde6d4)"></i><i style="background:linear-gradient(90deg,#fde5d3,#fde5d2,#fde4d0,#fde3cf,#fce2cd,#fce1cb,#fcdfc8,#fcddc4,#fcdabe,#fbd6b7,#fbd1ae,#facba3,#f9c396,#f9ba84,#f7ad6e,#f69e55,#f3913d,#f08527,#e77818,#da6b0f,#b6570c,#964609,#7d3b07,#6e3406,#6b3206,#743707,#884008,#a64e0a,#c7610d,#e17213,#ed7f1d,#f28b32,#f59747,#f7a662,#f8b37a,#f9bf8e,#fac79c,#facea9,#fbd3b3,#fbd8bb,#fcdcc1,#fcdec7,#fce0ca,#fce2cc,#fce3ce,#fde4d0,#fde4d1,#fde5d2,#fde6d3)"></i><i style="background:linear-gradient(90deg,#fde5d2,#fde4d1,#fde4d0,#fce3ce,#fce2cc,#fce0ca,#fcdfc7,#fcdcc2,#fcd9bc,#fbd5b5,#fbcfac,#fac9a0,#f9c293,#f8b881,#f7ab6b,#f69d52,#f3903b,#ef8426,#e77818,#d96a0f,#b6570c,#974709,#7e3b07,#6f3506,#6c3306,#753707,#894008,#a54e0a,#c7600d,#e17113,#ec7e1d,#f18a30,#f59545,#f6a45f,#f8b276,#f9bd8b,#fac69a,#facca6,#fbd2b0,#fbd7b9,#fcdac0,#fcddc5,#fcdfc8,#fce1cb,#fce2cd,#fde3cf,#fde4d0,#fde5d1,#fde5d2)"></i><i style="background:linear-gradient(90deg,#fde5d1,#fde4d0,#fde3cf,#fce2cd,#fce1cb,#fce0c9,#fcdec6,#fcdbc1,#fbd8bb,#fbd3b3,#fbceaa,#fac89e,#f9c191,#f8b67f,#f7aa69,#f69c50,#f38f3a,#ef8425,#e77818,#da6b0f,#b8580c,#9a480a,#823d08,#743707,#713506,#7a3907,#8d4209,#a8500b,#c9610d,#e17213,#ec7e1d,#f18a30,#f59544,#f6a35d,#f8b074,#f9bc88,#fac498,#facba4,#fbd1ae,#fbd6b7,#fcd9be,#fcddc3,#fcdfc7,#fce0ca,#fce2cc,#fce3ce,#fde4d0,#fde4d1,#fde5d2)"></i><i style="background:linear-gradient(90deg,#fde4d0,#fde3cf,#fce3ce,#fce2cc,#fce0ca,#fcdfc8,#fcddc4,#fcdabf,#fbd6b8,#fbd2b1,#facda7,#fac79c,#f9c08f,#f8b57d,#f7a967,#f69b4f,#f38f3a,#ef8426,#e77818,#dc6d0f,#bd5b0c,#a04b0a,#894008,#7c3a07,#793907,#813d08,#944509,#ad520b,#cc630e,#e27214,#ed7f1d,#f18a30,#f59443,#f6a25b,#f8af72,#f9bb86,#f9c396,#facaa2,#fbd0ac,#fbd4b5,#fbd8bc,#fcdbc1,#fcdec6,#fce0c9,#fce1cb,#fce2cd,#fde3cf,#fde4d0,#fde4d1)"></i><i style="background:linear-gradient(90deg,#fde3cf,#fce3ce,#fce2cc,#fce1cb,#fcdfc8,#fcdec6,#fcdbc1,#fbd9bc,#fbd5b6,#fbd1ae,#facca5,#fac599,#f9be8c,#f8b47a,#f7a865,#f59a4e,#f38f39,#ef8426,#e87919,#dd6d10,#c05d0d,#a54e0a,#8f4309,#823d08,#7f3c07,#874008,#994809,#b2550b,#d0650e,#e27314,#ed7f1d,#f18a30,#f49442,#f6a159,#f7ae70,#f9b983,#f9c293,#fac99f,#fbcea9,#fbd3b2,#fbd7b9,#fcdabf,#fcddc4,#fcdfc7,#fce0ca,#fce1cb,#fce2cd,#fce3ce,#fde4d0)"></i><i style="background:linear-gradient(90deg,#fce2ce,#fce2cc,#fce1cb,#fce0c9,#fcdec7,#fcdcc3,#fcdabf,#fbd7b9,#fbd3b3,#fbcfab,#facaa2,#fac497,#f9bd89,#f8b277,#f7a663,#f5994c,#f38f39,#ef8426,#e87919,#de6e11,#c45f0d,#aa500b,#954609,#894008,#863f08,#8e4209,#9f4a0a,#b6570c,#d3670e,#e37415,#ed7f1d,#f18a2f,#f49442,#f6a058,#f7ac6d,#f8b781,#f9c091,#fac79c,#facda7,#fbd1af,#fbd5b6,#fbd9bc,#fcdbc1,#fcdec5,#fcdfc8,#fce0ca,#fce1cc,#fce2cd,#fce3ce)"></i><i style="background:linear-gradient(90deg,#fce2cc,#fce1cb,#fce0c9,#fcdfc7,#fcddc5,#fcdbc1,#fbd9bc,#fbd6b7,#fbd2b0,#facea8,#fac99f,#f9c394,#f9bb87,#f8b175,#f7a561,#f5994b,#f38e38,#ef8426,#e87a19,#df6f11,#c8610d,#ae530b,#9b490a,#8f4309,#8c4208,#944509,#a44d0a,#ba590c,#d6690e,#e47415,#ed7f1d,#f1892f,#f49341,#f69f56,#f7ab6b,#f8b67e,#f9bf8e,#fac69a,#facba4,#fbd0ac,#fbd4b4,#fbd7ba,#fcdabf,#fcdcc3,#fcdec6,#fcdfc8,#fce0ca,#fce1cb,#fce2cd)"></i><i style="background:linear-gradient(90deg,#fce1cb,#fce0c9,#fcdfc8,#fcdec5,#fcdcc2,#fcdabe,#fbd7ba,#fbd4b4,#fbd0ad,#facca6,#fac79c,#f9c192,#f9b984,#f8af72,#f6a45f,#f59849,#f38e38,#ef8526,#e97a1a,#e07012,#cb630e,#b3560c,#a14c0a,#954609,#934509,#9a480a,#a9500b,#bf5c0d,#d96a0f,#e47516,#ee801e,#f1892f,#f49340,#f69e54,#f7aa69,#f8b47b,#f9be8b,#fac497,#facaa1,#fbceaa,#fbd2b1,#fbd6b7,#fbd8bc,#fcdbc0,#fcddc4,#fcdec7,#fcdfc8,#fce0ca,#fce1cb)"></i><i style="background:linear-gradient(90deg,#fce0c9,#fcdfc8,#fcdec6,#fcdcc3,#fcdac0,#fbd8bc,#fbd6b7,#fbd3b1,#fbcfab,#facba3,#fac69a,#f9c08f,#f8b881,#f7ae70,#f6a35d,#f59748,#f28e37,#ef8527,#e97b1a,#e07113,#cf650e,#b8580c,#a74f0b,#9c490a,#9a480a,#a04b0a,#ae530b,#c35e0d,#dc6c0f,#e57616,#ee801e,#f1892f,#f49240,#f69d53,#f7a967,#f8b379,#f9bc89,#f9c395,#fac89e,#facda7,#fbd1ae,#fbd4b4,#fbd7b9,#fcd9be,#fcdbc1,#fcddc4,#fcdec7,#fcdfc8,#fce0ca)"></i><i style="background:linear-gradient(90deg,#fcdfc8,#fcdec6,#fcddc4,#fcdbc1,#fcd9bd,#fbd7b9,#fbd4b4,#fbd1af,#facda8,#fac9a0,#fac497,#f9be8d,#f8b67e,#f7ad6e,#f6a25b,#f59747,#f28e37,#f08527,#ea7b1b,#e17213,#d3670e,#bd5b0c,#ac520b,#a24c0a,#a04b0a,#a64e0b,#b4560c,#c7610d,#dd6d10,#e57717,#ee801f,#f1892f,#f4923f,#f69c51,#f7a865,#f8b276,#f9ba86,#f9c192,#fac79c,#facba4,#fbcfab,#fbd3b2,#fbd6b7,#fbd8bb,#fcdabf,#fcdcc2,#fcddc5,#fcdec7,#fcdfc8)"></i><i style="background:linear-gradient(90deg,#fcdec6,#fcddc4,#fcdbc1,#fcdabe,#fbd8bb,#fbd5b6,#fbd3b2,#fbd0ac,#facca5,#fac89d,#f9c395,#f9bd8a,#f8b57c,#f7ab6b,#f6a15a,#f59646,#f28e37,#f08527,#ea7c1b,#e27314,#d7690f,#c25e0d,#b2550b,#a8500b,#a64e0b,#ac520b,#b9590c,#cc630e,#de6e11,#e67717,#ee811f,#f1892f,#f4923e,#f69c50,#f7a663,#f8b074,#f8b983,#f9c08f,#fac599,#facaa1,#facea9,#fbd1af,#fbd4b4,#fbd7b9,#fcd9bc,#fcdbc0,#fcdcc3,#fcddc5,#fcdec7)"></i><i style="background:linear-gradient(90deg,#fcddc4,#fcdcc2,#fcdabf,#fbd8bc,#fbd6b8,#fbd4b4,#fbd1af,#fbcea9,#facba3,#fac69b,#f9c192,#f9bb88,#f8b47a,#f7ab6a,#f6a159,#f59646,#f38e38,#f08629,#ec7e1c,#e47516,#dd6d10,#cb620e,#bb5a0c,#b2550c,#b1540b,#b6570c,#c25e0d,#d4680e,#e07113,#e87919,#ef8221,#f18a30,#f4923f,#f69c50,#f7a662,#f8af72,#f8b881,#f9bf8d,#fac497,#fac99f,#facca6,#fbd0ac,#fbd3b2,#fbd5b6,#fbd7ba,#fcd9bd,#fcdbc0,#fcdcc3,#fcddc5)"></i><i style="background:linear-gradient(90deg,#fcdcc2,#fcdabf,#fcd9bd,#fbd7ba,#fbd5b6,#fbd3b2,#fbd0ad,#facda7,#fac9a0,#fac599,#f9c090,#f9ba85,#f8b378,#f7aa69,#f6a158,#f59647,#f38f39,#f0872b,#ed7f1d,#e67717,#df6f12,#d3670e,#c55f0d,#bd5b0c,#bb5a0c,#c05d0d,#cb630e,#dc6c0f,#e27314,#e97b1a,#ef8324,#f18b32,#f49340,#f69b50,#f7a561,#f7ae71,#f8b67f,#f9be8b,#f9c395,#fac79d,#facba4,#fbceaa,#fbd1af,#fbd4b4,#fbd6b8,#fbd8bb,#fcdabe,#fcdbc1,#fcdcc3)"></i><i style="background:linear-gradient(90deg,#fcdbc0,#fcd9bd,#fbd8ba,#fbd6b7,#fbd4b3,#fbd1af,#fbcfaa,#facba4,#fac89e,#fac496,#f9bf8e,#f8b983,#f8b276,#f7a968,#f6a058,#f59747,#f38f3a,#f1882d,#ee811f,#e87919,#e17213,#dc6c0f,#cf650e,#c7600d,#c5600d,#ca620e,#d5680e,#df6f11,#e47516,#eb7d1c,#ef8426,#f28c33,#f49340,#f69b50,#f6a560,#f7ad6f,#f8b57d,#f9bc89,#f9c292,#fac69a,#facaa1,#facda7,#fbd0ad,#fbd3b1,#fbd5b5,#fbd7b9,#fbd8bc,#fcdabf,#fcdbc1)"></i><i style="background:linear-gradient(90deg,#fcd9be,#fbd8bb,#fbd6b8,#fbd5b5,#fbd2b1,#fbd0ad,#facda8,#facaa2,#fac79c,#f9c394,#f9be8c,#f8b881,#f8b174,#f7a967,#f6a058,#f59748,#f3903b,#f1892e,#ef8222,#ea7b1a,#e47415,#df6f11,#d86a0f,#d1660e,#d0650e,#d4680e,#dd6d0f,#e17213,#e67818,#ed7f1d,#f08628,#f28c35,#f49341,#f69c50,#f6a45f,#f7ad6e,#f8b47b,#f9bb87,#f9c090,#fac598,#fac89f,#facca5,#fbcfaa,#fbd1af,#fbd3b3,#fbd5b7,#fbd7ba,#fbd9bc,#fcdabf)"></i><i style="background:linear-gradient(90deg,#fbd8bb,#fbd7b9,#fbd5b6,#fbd3b2,#fbd1af,#fbcfaa,#facca5,#fac99f,#fac599,#f9c192,#f9bd8a,#f8b67f,#f8b073,#f7a866,#f6a057,#f59748,#f3903c,#f18a30,#ef8424,#eb7d1c,#e67717,#e17213,#de6e10,#db6b0f,#d96b0f,#dc6c0f,#df7012,#e37415,#e87a19,#ee801f,#f0872a,#f28d36,#f49442,#f69c50,#f6a45f,#f7ac6c,#f8b379,#f9ba84,#f9bf8e,#f9c396,#fac79c,#facaa2,#facda8,#fbd0ac,#fbd2b1,#fbd4b4,#fbd6b7,#fbd7ba,#fcd9bd)"></i><i style="background:linear-gradient(90deg,#fbd7b9,#fbd5b6,#fbd4b3,#fbd2b0,#fbd0ac,#facda8,#facaa3,#fac79d,#fac497,#f9c090,#f9bb87,#f8b57d,#f7af71,#f7a765,#f6a057,#f59748,#f3913d,#f18b32,#ef8527,#ed7f1d,#e87919,#e37415,#e07012,#de6e11,#de6e10,#df6f11,#e17214,#e57617,#ea7c1b,#ef8221,#f0882c,#f28e37,#f49442,#f69c50,#f6a45e,#f7ab6b,#f8b277,#f8b882,#f9be8c,#f9c293,#fac69a,#fac9a0,#facca5,#fbceaa,#fbd1ae,#fbd3b2,#fbd5b5,#fbd6b8,#fbd8ba)"></i><i style="background:linear-gradient(90deg,#fbd6b7,#fbd4b4,#fbd2b1,#fbd1ae,#fbceaa,#facca5,#fac9a0,#fac69b,#f9c394,#f9bf8d,#f9ba85,#f8b47b,#f7ae6f,#f7a763,#f69f56,#f59748,#f3913d,#f28b33,#f08528,#ee801e,#e97a1a,#e57616,#e27214,#e07012,#e07012,#e17113,#e37415,#e77818,#eb7d1c,#ef8323,#f1882d,#f38e38,#f49443,#f69c50,#f6a35d,#f7aa6a,#f8b175,#f8b780,#f9bc89,#f9c191,#fac498,#fac89d,#facba3,#facda7,#fbcfac,#fbd1af,#fbd3b3,#fbd5b6,#fbd6b8)"></i><i style="background:linear-gradient(90deg,#fbd4b5,#fbd3b2,#fbd1af,#fbcfab,#facda7,#facaa3,#fac89e,#fac598,#f9c192,#f9be8b,#f8b882,#f8b379,#f7ad6e,#f7a662,#f69f56,#f59748,#f3913d,#f28b32,#f08528,#ee801e,#e97b1a,#e57617,#e37415,#e17213,#e17213,#e27314,#e47516,#e77919,#ec7e1c,#ef8324,#f1892e,#f38f39,#f49443,#f69b4f,#f6a35c,#f7aa68,#f8b073,#f8b67e,#f9bb87,#f9c08f,#f9c395,#fac69b,#fac9a0,#facca5,#fbcea9,#fbd0ad,#fbd2b0,#fbd4b3,#fbd5b6)"></i><i style="background:linear-gradient(90deg,#fbd3b2,#fbd1af,#fbd0ac,#facea9,#facca4,#fac9a0,#fac69b,#f9c396,#f9c090,#f9bc88,#f8b780,#f8b276,#f7ab6c,#f6a560,#f69e53,#f59646,#f3903b,#f18a30,#ef8426,#ed7f1d,#e87a19,#e57617,#e37415,#e27314,#e27214,#e27314,#e47516,#e77818,#eb7d1c,#ef8222,#f1882d,#f28e38,#f49442,#f59b4e,#f6a25b,#f7a967,#f7af71,#f8b47b,#f9ba84,#f9be8d,#f9c293,#fac598,#fac89e,#facaa2,#facda7,#fbcfaa,#fbd1ae,#fbd2b1,#fbd4b3)"></i><i style="background:linear-gradient(90deg,#fbd2b0,#fbd0ad,#fbcea9,#facca6,#facaa2,#fac89d,#fac598,#f9c293,#f9be8d,#f9ba85,#f8b57c,#f7af72,#f7a967,#f6a25b,#f59b4e,#f49442,#f28e37,#f0882c,#ef8221,#ea7c1b,#e67718,#e37415,#e27314,#e17213,#e17213,#e17214,#e37315,#e57617,#e97b1a,#ee801f,#f08629,#f28c34,#f4923f,#f5984a,#f69f56,#f7a662,#f7ac6d,#f8b277,#f8b881,#f9bc89,#f9c090,#fac396,#fac69b,#fac9a0,#facba4,#facda8,#fbcfab,#fbd1ae,#fbd2b1)"></i><i style="background:linear-gradient(90deg,#fbd0ad,#fbcfaa,#facda7,#facba3,#fac89f,#fac69a,#f9c395,#f9c08f,#f9bc88,#f8b77f,#f8b175,#f7ab6b,#f6a45f,#f69d53,#f59646,#f3903c,#f18a31,#ef8425,#ec7e1c,#e77818,#e37415,#e17213,#e07112,#e07012,#e07012,#e07012,#e07113,#e37315,#e67818,#eb7d1c,#ef8324,#f1892f,#f38f3a,#f59543,#f69b4f,#f6a25b,#f7a866,#f7ae71,#f8b47b,#f9b984,#f9be8c,#f9c292,#fac598,#fac79d,#facaa1,#facca5,#facea8,#fbcfac,#fbd1ae)"></i><i style="background:linear-gradient(90deg,#fbcfaa,#facda7,#facba4,#fac9a0,#fac79b,#fac497,#f9c191,#f9bd8b,#f8b882,#f8b378,#f7ad6d,#f7a662,#f69f56,#f59849,#f4923f,#f28c35,#f08629,#ee801e,#e87919,#e37415,#e07012,#de6e11,#de6e10,#de6e11,#de6e10,#dd6d10,#de6e10,#df7012,#e37415,#e87919,#ee801e,#f08629,#f28c34,#f3913d,#f59646,#f69d52,#f6a35d,#f7aa68,#f8b073,#f8b67d,#f9bb87,#f9bf8e,#f9c294,#fac599,#fac89e,#facaa2,#facca6,#facea9,#fbcfac)"></i><i style="background:linear-gradient(90deg,#facda7,#facba4,#fac9a0,#fac79c,#fac497,#f9c192,#f9be8c,#f9b984,#f8b47a,#f7ae6f,#f7a764,#f6a058,#f5994b,#f49341,#f28e37,#f1882d,#ef8221,#e97b1a,#e37415,#df6f11,#dc6c0f,#d86a0f,#d96a0f,#db6b0f,#da6b0f,#d7690f,#d6690f,#da6b0f,#df6f11,#e47415,#ea7b1a,#ef8222,#f1882d,#f28d36,#f4923f,#f59747,#f69d53,#f6a45f,#f7ab6a,#f8b175,#f8b77f,#f9bc88,#f9c08f,#f9c395,#fac69a,#fac89e,#facaa2,#facca5,#facea8)"></i><i style="background:linear-gradient(90deg,#facba3,#fac9a0,#fac79c,#fac498,#f9c293,#f9bf8d,#f9ba85,#f8b57c,#f7af71,#f7a865,#f6a159,#f59a4c,#f49441,#f38f39,#f1892f,#ef8324,#eb7d1c,#e47516,#df6f11,#d6690f,#ce650e,#cd640e,#d0650e,#d2670e,#d1660e,#cd640e,#ca620e,#cd640e,#d6690f,#df6f12,#e57617,#ec7e1c,#ef8425,#f1892f,#f28e37,#f4923f,#f59747,#f69e53,#f6a560,#f7ab6b,#f8b277,#f8b781,#f9bd89,#f9c090,#f9c395,#fac69a,#fac89e,#facaa2,#facca5)"></i><i style="background:linear-gradient(90deg,#fac99f,#fac79c,#fac498,#f9c293,#f9bf8e,#f9bb86,#f8b57d,#f8af72,#f7a967,#f6a15a,#f59a4d,#f49442,#f38f39,#f18a30,#f08527,#ed7f1d,#e67717,#df7012,#d5680e,#c7610d,#c25d0d,#c25e0d,#c7600d,#ca620e,#c9610d,#c35e0d,#bf5c0d,#bf5c0d,#c8610d,#d7690f,#e17113,#e77919,#ee801e,#f08628,#f18a30,#f28e37,#f4923f,#f59748,#f69e54,#f7a561,#f7ac6d,#f8b378,#f8b882,#f9bd8a,#f9c191,#f9c396,#fac69a,#fac89e,#facaa1)"></i><i style="background:linear-gradient(90deg,#fac69b,#fac498,#f9c293,#f9bf8e,#f9bb87,#f8b67e,#f8b074,#f7aa68,#f6a25b,#f59b4e,#f49442,#f38f39,#f18a31,#f08628,#ee801f,#e87919,#e17213,#d7690f,#c45f0d,#b9590c,#b5570c,#b9580c,#bf5c0d,#c35e0d,#c15d0d,#ba590c,#b3560c,#b2550c,#b9590c,#c8610d,#dc6c0f,#e37415,#ea7c1b,#ef8221,#f08629,#f18a30,#f28d37,#f4923e,#f59748,#f69f55,#f7a662,#f7ad6e,#f8b379,#f8b983,#f9bd8b,#f9c191,#f9c396,#fac69a,#fac79d)"></i><i style="background:linear-gradient(90deg,#fac497,#f9c293,#f9bf8e,#f9bc88,#f8b77f,#f8b175,#f7ab6a,#f6a35d,#f69b4f,#f49443,#f38f39,#f18a31,#f08629,#ef8221,#eb7c1b,#e57516,#de6e11,#cd640e,#bd5b0c,#b5560c,#b5560c,#bb5a0c,#c45f0d,#c9610d,#c6600d,#be5b0c,#b4560c,#b0540b,#b4560c,#bf5c0d,#d2660e,#e07012,#e77818,#ec7e1d,#ef8323,#f08629,#f1892f,#f28d36,#f4923e,#f59849,#f69f57,#f7a764,#f7ae70,#f8b47b,#f9b984,#f9be8c,#f9c191,#f9c395,#fac599)"></i><i style="background:linear-gradient(90deg,#f9c293,#f9bf8e,#f9bc88,#f8b780,#f8b277,#f7ac6c,#f6a45f,#f69c51,#f59544,#f38f3a,#f18a31,#f08629,#ef8222,#ec7e1c,#e77818,#e17213,#d7690f,#c45f0d,#b7580c,#b2550c,#b5560c,#be5b0c,#c8610d,#cf650e,#cc630e,#c25d0d,#b6570c,#af530b,#af530b,#b8580c,#c8610d,#dc6c0f,#e37415,#e97b1a,#ed7f1e,#ef8222,#f08527,#f1892d,#f28d35,#f4923f,#f5984a,#f6a058,#f7a866,#f7af72,#f8b57c,#f9ba85,#f9be8c,#f9c191,#f9c395)"></i><i style="background:linear-gradient(90deg,#f9bf8e,#f9bc89,#f8b881,#f8b378,#f7ac6d,#f7a561,#f69d53,#f59545,#f38f3a,#f18a30,#f08528,#ef8221,#ec7e1d,#e97a1a,#e47516,#de6e10,#cd640e,#bc5b0c,#b2550c,#b0540b,#b6570c,#c15d0d,#cd640e,#d4680e,#d1660e,#c6600d,#b9590c,#af530b,#ac520b,#b2550b,#bf5c0d,#d3670e,#e07012,#e67717,#eb7c1b,#ed7f1d,#ee8121,#ef8426,#f1882c,#f28d35,#f4923f,#f5994c,#f6a15a,#f7a967,#f8b073,#f8b57d,#f9ba85,#f9be8c,#f9c191)"></i><i style="background:linear-gradient(90deg,#f9bc89,#f8b882,#f8b379,#f7ad6f,#f7a663,#f69e55,#f59646,#f3903b,#f18a30,#f08527,#ee8120,#ec7e1c,#e97b1a,#e67717,#e17113,#d7690f,#c45f0d,#b5570c,#ae530b,#af530b,#b8580c,#c55f0d,#d2670e,#da6b0f,#d7690f,#cb620e,#bc5a0c,#b0540b,#aa510b,#ad520b,#b7580c,#c9610d,#dd6d10,#e37415,#e87919,#ea7c1b,#ec7e1c,#ee801e,#ef8324,#f0882c,#f28d36,#f49340,#f59a4d,#f6a35c,#f7aa69,#f8b074,#f8b67e,#f9ba86,#f9be8c)"></i><i style="background:linear-gradient(90deg,#f9b984,#f8b57c,#f8b073,#f7aa68,#f6a25b,#f59a4d,#f49340,#f28d35,#f0872b,#ef8223,#ed7f1d,#ea7c1b,#e77818,#e37415,#de6e10,#cd640e,#bc5a0c,#b0540b,#ac510b,#b0540b,#ba5a0c,#c9620d,#d76a0f,#dd6d10,#dc6c0f,#cf650e,#bf5c0d,#b2550b,#a9500b,#a8500b,#b0540b,#bf5c0d,#d4670e,#e07012,#e57617,#e97a1a,#eb7c1b,#ec7e1d,#ee8120,#f08527,#f18a30,#f3903b,#f59646,#f69e54,#f7a662,#f7ad6e,#f8b378,#f8b780,#f9bb87)"></i><i style="background:linear-gradient(90deg,#f8b67f,#f8b277,#f7ac6d,#f7a661,#f69e54,#f59645,#f3903a,#f18a30,#ef8426,#ee801e,#eb7c1b,#e87919,#e57616,#e07113,#d7690f,#c45f0d,#b4560c,#ab510b,#aa500b,#b1540b,#be5b0c,#cd640e,#dc6c0f,#df6f11,#de6e10,#d4680e,#c35e0d,#b4560c,#a9500b,#a54e0a,#aa510b,#b7570c,#c9620d,#dd6d10,#e37315,#e77818,#e97b1a,#eb7c1b,#ed7f1d,#ef8222,#f0872b,#f28d35,#f49340,#f59a4d,#f6a25b,#f7a967,#f8af72,#f8b47b,#f8b882)"></i><i style="background:linear-gradient(90deg,#f8b379,#f7ae71,#f7a866,#f6a15a,#f59a4c,#f49340,#f28d35,#f0872a,#ef8221,#ec7e1c,#e97a1a,#e67717,#e27314,#dd6d10,#cd640e,#bb5a0c,#ad520b,#a74f0b,#a9500b,#b3550c,#c15d0d,#d2660e,#de6e10,#e07113,#df7012,#d96a0f,#c8610d,#b7580c,#aa500b,#a34d0a,#a54e0a,#af530b,#bf5c0d,#d4680e,#e07012,#e57516,#e77919,#e97b1a,#eb7d1c,#ee801e,#ef8426,#f18a30,#f3903a,#f59645,#f69e53,#f7a560,#f7ac6c,#f8b175,#f8b57d)"></i><i style="background:linear-gradient(90deg,#f8b074,#f7ab6b,#f6a560,#f69d53,#f59545,#f38f3a,#f1892f,#ef8425,#ed7f1d,#ea7b1a,#e77818,#e47515,#e07012,#d6690f,#c35e0d,#b3550c,#a84f0b,#a54e0a,#aa500b,#b5570c,#c55f0d,#d7690f,#df6f12,#e27214,#e17113,#dd6d0f,#cc630e,#ba5a0c,#ac510b,#a34c0a,#a14c0a,#a84f0b,#b6570c,#ca620d,#dd6d10,#e27314,#e67717,#e87919,#e97b1a,#ec7e1c,#ef8221,#f0872a,#f28c35,#f49240,#f5994c,#f6a159,#f7a865,#f7ae6f,#f8b278)"></i><i style="background:linear-gradient(90deg,#f7ad6e,#f7a764,#f6a159,#f5994b,#f4923f,#f28c34,#f0862a,#ee8120,#eb7c1b,#e87919,#e57616,#e17213,#dd6d10,#cc630e,#ba590c,#ab510b,#a34d0a,#a34d0a,#ab510b,#b8580c,#c9620d,#db6c0f,#e07113,#e37415,#e27314,#de6e11,#d1660e,#be5c0d,#ae530b,#a34d0a,#9e4a0a,#a24c0a,#ae530b,#bf5c0d,#d4680e,#df7012,#e47415,#e67717,#e87919,#ea7b1b,#ed7f1d,#ef8425,#f1892f,#f38f3a,#f59545,#f69d52,#f6a45f,#f7aa69,#f8af72)"></i><i style="background:linear-gradient(90deg,#f7aa68,#f6a45e,#f69d51,#f59544,#f38f3a,#f1892f,#ef8324,#ec7e1d,#e87a19,#e57617,#e37314,#df6f11,#d5680e,#c25e0d,#b1540b,#a54e0a,#a04b0a,#a34d0a,#ad520b,#bc5a0c,#ce640e,#dd6d10,#e27214,#e47516,#e37415,#df7012,#d5680e,#c35e0d,#b1540b,#a44d0a,#9c490a,#9d4a0a,#a64e0b,#b6570c,#ca620d,#dc6d0f,#e17213,#e47516,#e67717,#e87919,#eb7d1b,#ee8120,#f0862a,#f28c34,#f4923f,#f5994b,#f6a058,#f7a763,#f7ac6d)"></i><i style="background:linear-gradient(90deg,#f7a662,#f6a057,#f5984a,#f4923f,#f28c34,#f08629,#ee801f,#ea7b1b,#e67718,#e37415,#e07113,#dc6c0f,#cb630e,#b9590c,#a9500b,#9f4b0a,#9d4a0a,#a34d0a,#af530b,#c05d0d,#d2670e,#df6f11,#e37415,#e57717,#e57516,#e17113,#da6b0f,#c7600d,#b5560c,#a64e0a,#9c490a,#994809,#9f4b0a,#ad520b,#bf5c0d,#d3670e,#df6f11,#e27314,#e47516,#e67717,#e97a1a,#ec7e1d,#ef8324,#f1892e,#f38f39,#f59544,#f69c51,#f6a35d,#f7a967)"></i><i style="background:linear-gradient(90deg,#f6a25c,#f69c50,#f59544,#f38f39,#f1892e,#ef8323,#ec7e1c,#e77919,#e47516,#e17213,#de6e11,#d3670e,#c15d0d,#b0540b,#a24c0a,#9b490a,#9c490a,#a54e0a,#b3550c,#c45f0d,#d7690f,#e07012,#e47516,#e77818,#e67717,#e27314,#dd6d10,#cc630e,#b9590c,#a8500b,#9c490a,#974709,#994809,#a54e0a,#b5570c,#c9620d,#dc6c0f,#e07113,#e37315,#e47516,#e77818,#ea7c1b,#ee811f,#f08629,#f28c34,#f4923e,#f5984a,#f69f56,#f7a561)"></i><i style="background:linear-gradient(90deg,#f69f55,#f59849,#f4923e,#f28c33,#f08629,#ee801e,#e97b1a,#e57617,#e27314,#df6f12,#da6b0f,#ca620e,#b8580c,#a84f0b,#9c490a,#984709,#9c490a,#a74f0b,#b7580c,#c9620d,#dc6c0f,#e17213,#e67717,#e87919,#e77818,#e37415,#de6f11,#d1660e,#be5b0c,#ac520b,#9e4a0a,#954609,#954609,#9d4a0a,#ac520b,#bf5c0d,#d3670e,#de6e11,#e17213,#e37415,#e57616,#e87919,#ec7e1c,#ef8324,#f1892e,#f38f39,#f59543,#f69b50,#f6a25b)"></i><i style="background:linear-gradient(90deg,#f69b4f,#f49443,#f38f39,#f1892e,#ef8323,#eb7d1c,#e77818,#e37415,#e07112,#dd6d10,#d1660e,#c15d0d,#af530b,#a04b0a,#974709,#964709,#9e4a0a,#ab510b,#bc5a0c,#ce650e,#de6e10,#e37315,#e77818,#e97a1a,#e87919,#e57616,#e07012,#d6690f,#c35e0d,#b0540b,#a14b0a,#954609,#924409,#974709,#a44d0a,#b5570c,#c9620d,#da6b0f,#df6f12,#e17213,#e37415,#e67717,#e97b1a,#ee801e,#f08629,#f28c33,#f4923e,#f59849,#f69e55)"></i><i style="background:linear-gradient(90deg,#f59748,#f4913e,#f28c33,#f08628,#ee801e,#e97a19,#e47516,#e17113,#de6e11,#d7690f,#c8610d,#b7580c,#a64f0b,#9a480a,#934509,#964609,#a04b0a,#ae530b,#c05d0d,#d3670e,#df6f11,#e47516,#e87919,#ea7b1a,#e97a1a,#e67717,#e17213,#db6c0f,#c8610d,#b5560c,#a44d0a,#964709,#904409,#924409,#9c490a,#ac520b,#bf5c0d,#d1660e,#dd6d10,#e07012,#e17214,#e47415,#e77818,#eb7d1c,#ef8323,#f1892e,#f38f39,#f49443,#f59b4e)"></i><i style="background:linear-gradient(90deg,#f49442,#f38f38,#f1892e,#ef8323,#eb7d1b,#e67717,#e27314,#df6f11,#db6c0f,#cf650e,#bf5c0d,#ae530b,#9e4a0a,#944509,#914409,#964609,#a24c0a,#b3550c,#c5600d,#d96a0f,#e07113,#e57617,#e97a1a,#eb7c1b,#ea7b1b,#e77818,#e37314,#dd6d10,#cd640e,#ba590c,#a74f0b,#984709,#8f4309,#8e4209,#954609,#a34d0a,#b5570c,#c8610d,#d86a0f,#de6e10,#e07012,#e27214,#e57616,#e97a1a,#ee801e,#f08628,#f28c33,#f4913e,#f59748)"></i><i style="background:linear-gradient(90deg,#f3913d,#f28c33,#f08628,#ee801e,#e87919,#e47415,#e07012,#dd6d10,#d4670e,#c6600d,#b6570c,#a54e0a,#974709,#8f4309,#904309,#984709,#a64e0b,#b7580c,#cb620e,#dd6d0f,#e27214,#e67718,#ea7b1a,#eb7d1c,#eb7c1b,#e87919,#e47516,#df6f11,#d2670e,#bf5c0d,#ac520b,#9b490a,#8f4309,#8b4108,#8f4309,#9b490a,#ac510b,#bf5c0d,#cf650e,#dc6c0f,#de6e11,#e07112,#e37314,#e67718,#eb7d1c,#ef8323,#f1892e,#f38f38,#f49442)"></i><i style="background:linear-gradient(90deg,#f38f39,#f1892e,#ef8323,#eb7d1b,#e67717,#e17213,#de6e11,#d86a0f,#cc630e,#be5b0c,#ad520b,#9e4a0a,#924409,#8d4209,#904409,#9b490a,#ab510b,#bd5b0c,#d1660e,#de6e11,#e37415,#e87919,#eb7c1b,#ec7e1d,#ec7d1c,#e97b1a,#e57617,#e07113,#d86a0f,#c55f0d,#b1550b,#a04b0a,#924409,#8a4108,#8b4108,#944509,#a34d0a,#b5570c,#c7610d,#d5680e,#dd6d0f,#df6f11,#e17113,#e47516,#e97a1a,#ee801e,#f08629,#f28c34,#f4913e)"></i><i style="background:linear-gradient(90deg,#f28c34,#f08629,#ee801e,#e87a19,#e37415,#df7012,#dc6c0f,#d1660e,#c55f0d,#b5570c,#a54e0a,#974709,#8d4209,#8c4208,#934509,#a04b0a,#b1540b,#c45f0d,#d7690f,#e07012,#e57616,#e97a1a,#ec7e1c,#ed7f1d,#ed7f1d,#ea7c1b,#e77818,#e27314,#dd6d10,#cb630e,#b8580c,#a54e0a,#954609,#8b4108,#884008,#8e4309,#9b490a,#ad520b,#bf5c0d,#ce640e,#d86a0f,#dd6d10,#df7012,#e27314,#e67818,#ec7d1c,#ef8324,#f1892f,#f38f39)"></i><i style="background:linear-gradient(90deg,#f1892f,#ef8424,#ec7d1c,#e67717,#e17213,#dd6e10,#d6680e,#ca620e,#bd5b0c,#ad520b,#9e4a0a,#914409,#8b4108,#8c4208,#964609,#a54e0a,#b7570c,#ca620e,#dc6c0f,#e27214,#e67718,#ea7c1b,#ed7f1d,#ee801e,#ed7f1e,#eb7d1c,#e87919,#e47515,#df6f11,#d2660e,#be5c0d,#ab510b,#9a480a,#8d4209,#874008,#8a4108,#944609,#a44d0a,#b6570c,#c6600d,#d2670e,#da6b0f,#de6e10,#e07113,#e47516,#e97b1a,#ee811f,#f0872a,#f28c35)"></i><i style="background:linear-gradient(90deg,#f0872b,#ee8120,#e97a1a,#e47515,#df7012,#da6b0f,#cf650e,#c35e0d,#b5560c,#a54e0a,#964709,#8c4208,#894008,#8e4309,#9a480a,#aa510b,#bd5b0c,#d0660e,#de6e11,#e37415,#e87919,#eb7d1c,#ee7f1e,#ee811f,#ee801e,#ec7e1d,#e97b1a,#e57617,#e07113,#d86a0f,#c55f0d,#b1540b,#9f4b0a,#904409,#874008,#873f08,#8e4309,#9c490a,#ad520b,#be5b0c,#cc630e,#d5680e,#dc6c0f,#df6f11,#e27314,#e77818,#ec7e1d,#ef8425,#f18a30)"></i><i style="background:linear-gradient(90deg,#ef8426,#ec7e1d,#e77818,#e17214,#dd6d10,#d3670e,#c8610d,#bb5a0c,#ac520b,#9d4a0a,#904409,#894008,#894008,#904409,#9f4a0a,#b0540b,#c35e0d,#d7690f,#e07012,#e57616,#e97a1a,#ec7e1c,#ee801f,#ee8120,#ee8120,#ed7f1d,#ea7c1b,#e77818,#e27314,#dd6d10,#cb630e,#b7580c,#a54e0a,#944609,#894008,#853e08,#894008,#954609,#a54e0a,#b6570c,#c45f0d,#cf650e,#d7690f,#dd6d10,#e07113,#e57516,#ea7b1a,#ee8121,#f0872b)"></i><i style="background:linear-gradient(90deg,#ef8221,#ea7b1a,#e47516,#df7012,#d96a0f,#cc630e,#c05d0d,#b3550c,#a44d0a,#964609,#8b4108,#863f08,#894108,#944509,#a44d0a,#b6570c,#ca620d,#dc6c0f,#e27214,#e67717,#ea7c1b,#ed7f1d,#ee8120,#ef8221,#ee8221,#ee801e,#eb7d1c,#e87919,#e47415,#df6f11,#d2660e,#be5b0c,#aa510b,#994809,#8b4108,#843e08,#853f08,#8e4309,#9d490a,#ad520b,#bd5b0c,#c9610d,#d1660e,#da6b0f,#de6f11,#e27314,#e77918,#ed7f1d,#f08527)"></i><i style="background:linear-gradient(90deg,#ed7f1d,#e77818,#e27214,#dd6d10,#d2660e,#c5600d,#b9590c,#ab510b,#9c490a,#8f4309,#863f08,#853f08,#8b4108,#984709,#a9500b,#bc5b0c,#d0650e,#de6e11,#e37415,#e77919,#eb7d1b,#ee801e,#ee8221,#ef8222,#ef8222,#ee811f,#ec7e1d,#e97a1a,#e57617,#e07113,#d86a0f,#c45f0d,#b1540b,#9e4a0a,#8e4309,#853e08,#823d08,#884008,#944609,#a54e0a,#b4560c,#c25e0d,#cc630e,#d4680e,#dc6d0f,#e07113,#e57616,#ea7c1b,#ef8222)"></i><i style="background:linear-gradient(90deg,#ea7c1b,#e57616,#df7012,#d86a0f,#ca620e,#be5c0d,#b1540b,#a34d0a,#944609,#894008,#833e08,#853f08,#8e4309,#9d4a0a,#af530b,#c35e0d,#d6690f,#e07012,#e57616,#e97a1a,#ec7e1c,#ee801f,#ef8222,#ef8323,#ef8323,#ee8120,#ed7f1d,#ea7c1b,#e67818,#e27314,#dd6d10,#cb630e,#b7580c,#a44d0a,#934509,#863f08,#813d08,#833e08,#8d4209,#9c490a,#ac520b,#ba5a0c,#c5600d,#ce640e,#d7690f,#de6e11,#e37315,#e87919,#ee801e)"></i><i style="background:linear-gradient(90deg,#e87919,#e27314,#dd6d10,#d0660e,#c35e0d,#b7570c,#a9500b,#9b490a,#8d4209,#843e08,#813d08,#863f08,#924409,#a34c0a,#b5570c,#c9620d,#dc6c0f,#e17214,#e67717,#ea7b1b,#ed7f1d,#ee8120,#ef8323,#ef8324,#ef8323,#ef8221,#ee801e,#eb7d1c,#e87919,#e37415,#de6f11,#d1660e,#bd5b0c,#aa500b,#974709,#894008,#813c08,#803c08,#873f08,#944609,#a44d0a,#b3550c,#bf5c0d,#c8610d,#d1660e,#dc6c0f,#e07113,#e57717,#eb7d1c)"></i><i style="background:linear-gradient(90deg,#e57617,#e07012,#d7690f,#c9610d,#bc5a0c,#af530b,#a14c0a,#934509,#873f08,#803c08,#813c08,#884008,#964609,#a84f0b,#bc5a0c,#cf650e,#de6e11,#e37415,#e77918,#eb7c1b,#ee801e,#ef8221,#ef8323,#ef8425,#ef8324,#ef8222,#ee811f,#ec7e1c,#e97a1a,#e57616,#e07112,#d7690f,#c45f0d,#b0540b,#9d4a0a,#8c4208,#813d08,#7e3b07,#823d08,#8d4209,#9c490a,#ab510b,#b8580c,#c25e0d,#cb630e,#d6690e,#de6e11,#e37415,#e97a19)"></i><i style="height:1px;background:linear-gradient(90deg,#e37415,#de6e10,#d1660e,#c35e0d,#b6570c,#a9500b,#9b490a,#8d4209,#833e08,#7e3b07,#813d08,#8a4108,#9a480a,#ac520b,#c05d0d,#d4680e,#df7012,#e47516,#e87a19,#ec7d1c,#ee801e,#ef8222,#ef8324,#ef8425,#ef8425,#ef8323,#ee8120,#ed7f1d,#ea7b1a,#e67717,#e17213,#dc6c0f,#c8610d,#b4560c,#a14c0a,#8f4309,#833d08,#7d3b07,#7f3c07,#874008,#954609,#a54e0a,#b2550c,#bd5b0c,#c7600d,#d1660e,#dd6d0f,#e17213,#e77818)"></i></div>
<svg width="551" height="280" viewBox="0 0 551 280" xmlns="http://www.w3.org/2000/svg">
<g id="maps"></g>
<g stroke="#111" stroke-width="1.2"><line x1="66.00" y1="6.88" x2="67.6" y2="6.88"/>
<line x1="66.00" y1="10.55" x2="67.6" y2="10.55"/>
<line x1="66.00" y1="14.21" x2="67.6" y2="14.21"/>
<line x1="66.00" y1="17.88" x2="67.6" y2="17.88"/>
<line x1="66.00" y1="21.54" x2="67.6" y2="21.54"/>
<line x1="66.00" y1="25.21" x2="67.6" y2="25.21"/>
<line x1="66.00" y1="28.87" x2="67.6" y2="28.87"/>
<line x1="66.00" y1="32.54" x2="67.6" y2="32.54"/>
<line x1="64.60" y1="36.20" x2="67.6" y2="36.20"/>
<line x1="66.00" y1="39.87" x2="67.6" y2="39.87"/>
<line x1="66.00" y1="43.53" x2="67.6" y2="43.53"/>
<line x1="66.00" y1="47.20" x2="67.6" y2="47.20"/>
<line x1="66.00" y1="50.86" x2="67.6" y2="50.86"/>
<line x1="66.00" y1="54.53" x2="67.6" y2="54.53"/>
<line x1="66.00" y1="58.19" x2="67.6" y2="58.19"/>
<line x1="66.00" y1="61.86" x2="67.6" y2="61.86"/>
<line x1="66.00" y1="65.52" x2="67.6" y2="65.52"/>
<line x1="66.00" y1="69.19" x2="67.6" y2="69.19"/>
<line x1="64.60" y1="72.85" x2="67.6" y2="72.85"/>
<line x1="66.00" y1="76.52" x2="67.6" y2="76.52"/>
<line x1="66.00" y1="80.18" x2="67.6" y2="80.18"/>
<line x1="66.00" y1="83.85" x2="67.6" y2="83.85"/>
<line x1="66.00" y1="87.51" x2="67.6" y2="87.51"/>
<line x1="66.00" y1="91.18" x2="67.6" y2="91.18"/>
<line x1="66.00" y1="94.84" x2="67.6" y2="94.84"/>
<line x1="66.00" y1="98.51" x2="67.6" y2="98.51"/>
<line x1="66.00" y1="102.17" x2="67.6" y2="102.17"/>
<line x1="66.00" y1="105.84" x2="67.6" y2="105.84"/>
<line x1="64.60" y1="109.50" x2="67.6" y2="109.50"/>
<line x1="66.00" y1="113.17" x2="67.6" y2="113.17"/>
<line x1="66.00" y1="116.83" x2="67.6" y2="116.83"/>
<line x1="66.00" y1="120.50" x2="67.6" y2="120.50"/>
<line x1="66.00" y1="124.16" x2="67.6" y2="124.16"/>
<line x1="66.00" y1="127.83" x2="67.6" y2="127.83"/>
<line x1="66.00" y1="131.49" x2="67.6" y2="131.49"/>
<line x1="66.00" y1="135.16" x2="67.6" y2="135.16"/>
<line x1="66.00" y1="138.82" x2="67.6" y2="138.82"/>
<line x1="66.00" y1="142.49" x2="67.6" y2="142.49"/>
<line x1="64.60" y1="146.15" x2="67.6" y2="146.15"/>
<line x1="66.00" y1="149.81" x2="67.6" y2="149.81"/>
<line x1="66.00" y1="153.48" x2="67.6" y2="153.48"/>
<line x1="66.00" y1="157.15" x2="67.6" y2="157.15"/>
<line x1="66.00" y1="160.81" x2="67.6" y2="160.81"/>
<line x1="66.00" y1="164.48" x2="67.6" y2="164.48"/>
<line x1="66.00" y1="168.14" x2="67.6" y2="168.14"/>
<line x1="66.00" y1="171.81" x2="67.6" y2="171.81"/>
<line x1="66.00" y1="175.47" x2="67.6" y2="175.47"/>
<line x1="66.00" y1="179.14" x2="67.6" y2="179.14"/>
<line x1="64.60" y1="182.80" x2="67.6" y2="182.80"/>
<line x1="66.00" y1="186.46" x2="67.6" y2="186.46"/>
<line x1="66.00" y1="190.13" x2="67.6" y2="190.13"/>
<line x1="66.00" y1="193.80" x2="67.6" y2="193.80"/>
<line x1="66.00" y1="197.46" x2="67.6" y2="197.46"/>
<line x1="66.00" y1="201.12" x2="67.6" y2="201.12"/>
<line x1="66.00" y1="204.79" x2="67.6" y2="204.79"/>
<line x1="66.00" y1="208.45" x2="67.6" y2="208.45"/>
<line x1="66.00" y1="212.12" x2="67.6" y2="212.12"/>
<line x1="66.00" y1="215.79" x2="67.6" y2="215.79"/>
<line x1="64.60" y1="219.45" x2="67.6" y2="219.45"/>
<line x1="351.00" y1="7.62" x2="352.6" y2="7.62"/>
<line x1="351.00" y1="11.28" x2="352.6" y2="11.28"/>
<line x1="351.00" y1="14.94" x2="352.6" y2="14.94"/>
<line x1="351.00" y1="18.60" x2="352.6" y2="18.60"/>
<line x1="351.00" y1="22.26" x2="352.6" y2="22.26"/>
<line x1="351.00" y1="25.92" x2="352.6" y2="25.92"/>
<line x1="351.00" y1="29.58" x2="352.6" y2="29.58"/>
<line x1="351.00" y1="33.24" x2="352.6" y2="33.24"/>
<line x1="349.60" y1="36.90" x2="352.6" y2="36.90"/>
<line x1="351.00" y1="40.56" x2="352.6" y2="40.56"/>
<line x1="351.00" y1="44.22" x2="352.6" y2="44.22"/>
<line x1="351.00" y1="47.88" x2="352.6" y2="47.88"/>
<line x1="351.00" y1="51.54" x2="352.6" y2="51.54"/>
<line x1="351.00" y1="55.20" x2="352.6" y2="55.20"/>
<line x1="351.00" y1="58.86" x2="352.6" y2="58.86"/>
<line x1="351.00" y1="62.52" x2="352.6" y2="62.52"/>
<line x1="351.00" y1="66.18" x2="352.6" y2="66.18"/>
<line x1="351.00" y1="69.84" x2="352.6" y2="69.84"/>
<line x1="349.60" y1="73.50" x2="352.6" y2="73.50"/>
<line x1="351.00" y1="77.16" x2="352.6" y2="77.16"/>
<line x1="351.00" y1="80.82" x2="352.6" y2="80.82"/>
<line x1="351.00" y1="84.48" x2="352.6" y2="84.48"/>
<line x1="351.00" y1="88.14" x2="352.6" y2="88.14"/>
<line x1="351.00" y1="91.80" x2="352.6" y2="91.80"/>
<line x1="351.00" y1="95.46" x2="352.6" y2="95.46"/>
<line x1="351.00" y1="99.12" x2="352.6" y2="99.12"/>
<line x1="351.00" y1="102.78" x2="352.6" y2="102.78"/>
<line x1="351.00" y1="106.44" x2="352.6" y2="106.44"/>
<line x1="349.60" y1="110.10" x2="352.6" y2="110.10"/>
<line x1="351.00" y1="113.76" x2="352.6" y2="113.76"/>
<line x1="351.00" y1="117.42" x2="352.6" y2="117.42"/>
<line x1="351.00" y1="121.08" x2="352.6" y2="121.08"/>
<line x1="351.00" y1="124.74" x2="352.6" y2="124.74"/>
<line x1="351.00" y1="128.40" x2="352.6" y2="128.40"/>
<line x1="351.00" y1="132.06" x2="352.6" y2="132.06"/>
<line x1="351.00" y1="135.72" x2="352.6" y2="135.72"/>
<line x1="351.00" y1="139.38" x2="352.6" y2="139.38"/>
<line x1="351.00" y1="143.04" x2="352.6" y2="143.04"/>
<line x1="349.60" y1="146.70" x2="352.6" y2="146.70"/>
<line x1="351.00" y1="150.36" x2="352.6" y2="150.36"/>
<line x1="351.00" y1="154.02" x2="352.6" y2="154.02"/>
<line x1="351.00" y1="157.68" x2="352.6" y2="157.68"/>
<line x1="351.00" y1="161.34" x2="352.6" y2="161.34"/>
<line x1="351.00" y1="165.00" x2="352.6" y2="165.00"/>
<line x1="351.00" y1="168.66" x2="352.6" y2="168.66"/>
<line x1="351.00" y1="172.32" x2="352.6" y2="172.32"/>
<line x1="351.00" y1="175.98" x2="352.6" y2="175.98"/>
<line x1="351.00" y1="179.64" x2="352.6" y2="179.64"/>
<line x1="349.60" y1="183.30" x2="352.6" y2="183.30"/>
<line x1="351.00" y1="186.96" x2="352.6" y2="186.96"/>
<line x1="351.00" y1="190.62" x2="352.6" y2="190.62"/>
<line x1="351.00" y1="194.28" x2="352.6" y2="194.28"/>
<line x1="351.00" y1="197.94" x2="352.6" y2="197.94"/>
<line x1="351.00" y1="201.60" x2="352.6" y2="201.60"/>
<line x1="351.00" y1="205.26" x2="352.6" y2="205.26"/>
<line x1="351.00" y1="208.92" x2="352.6" y2="208.92"/>
<line x1="351.00" y1="212.58" x2="352.6" y2="212.58"/>
<line x1="351.00" y1="216.24" x2="352.6" y2="216.24"/>
<line x1="349.60" y1="219.90" x2="352.6" y2="219.90"/>
<line x1="72.89" y1="223" x2="72.89" y2="225.2"/>
<line x1="87.41" y1="223" x2="87.41" y2="226.0"/>
<line x1="101.93" y1="223" x2="101.93" y2="225.2"/>
<line x1="116.45" y1="223" x2="116.45" y2="226.0"/>
<line x1="130.97" y1="223" x2="130.97" y2="225.2"/>
<line x1="145.49" y1="223" x2="145.49" y2="226.0"/>
<line x1="160.01" y1="223" x2="160.01" y2="225.2"/>
<line x1="172.29" y1="223" x2="172.29" y2="225.2"/>
<line x1="186.56" y1="223" x2="186.56" y2="226.0"/>
<line x1="200.83" y1="223" x2="200.83" y2="225.2"/>
<line x1="215.10" y1="223" x2="215.10" y2="226.0"/>
<line x1="229.37" y1="223" x2="229.37" y2="225.2"/>
<line x1="243.64" y1="223" x2="243.64" y2="226.0"/>
<line x1="257.91" y1="223" x2="257.91" y2="225.2"/>
<line x1="358.34" y1="223" x2="358.34" y2="225.2"/>
<line x1="372.76" y1="223" x2="372.76" y2="226.0"/>
<line x1="387.18" y1="223" x2="387.18" y2="225.2"/>
<line x1="401.60" y1="223" x2="401.60" y2="226.0"/>
<line x1="416.02" y1="223" x2="416.02" y2="225.2"/>
<line x1="430.44" y1="223" x2="430.44" y2="226.0"/>
<line x1="444.86" y1="223" x2="444.86" y2="225.2"/>
<line x1="455.60" y1="223" x2="455.60" y2="225.2"/>
<line x1="469.90" y1="223" x2="469.90" y2="226.0"/>
<line x1="484.20" y1="223" x2="484.20" y2="225.2"/>
<line x1="498.50" y1="223" x2="498.50" y2="226.0"/>
<line x1="512.80" y1="223" x2="512.80" y2="225.2"/>
<line x1="527.10" y1="223" x2="527.10" y2="226.0"/>
<line x1="541.40" y1="223" x2="541.40" y2="225.2"/></g>
<rect x="67.6" y="3" width="197.5" height="1" fill="#111"/>
<rect x="67.6" y="222.8" width="197.5" height="1" fill="#111"/>
<rect x="67.6" y="3" width="1.6" height="220.8" fill="#111"/>
<rect x="264.1" y="3" width="1" height="220.8" fill="#3a3a3a"/>
<rect x="352.4" y="3" width="196.5" height="1" fill="#111"/>
<rect x="352.4" y="222.8" width="196.5" height="1" fill="#111"/>
<rect x="352.4" y="3" width="1.6" height="220.8" fill="#111"/>
<rect x="547.9" y="3" width="1" height="220.8" fill="#3a3a3a"/>
<rect x="167.1" y="4" width="1.3" height="218.8" fill="#fdf2ea" opacity="0.8"/>
<rect x="165.6" y="3" width="1.5" height="220.8" fill="#2a2a2a"/>
<rect x="449.4" y="4" width="2.9" height="218.8" fill="#8a8a86"/>
<rect x="450.5" y="3" width="1.2" height="220.8" fill="#4a4a48"/>
<text x="1" y="23.3" font-size="20">(a)</text>
<text x="45.00" y="46.0" font-size="20">0</text>
<text x="31.13" y="82.2" font-size="20">-0.5</text>
<text x="31.83" y="118.5" font-size="20">-1.0</text>
<text x="31.13" y="154.8" font-size="20">-1.5</text>
<text x="31.83" y="191.0" font-size="20">-2.0</text>
<text x="329.80" y="46.0" font-size="20">0</text>
<text x="315.93" y="82.2" font-size="20">-0.5</text>
<text x="316.63" y="118.5" font-size="20">-1.0</text>
<text x="315.93" y="154.8" font-size="20">-1.5</text>
<text x="316.63" y="191.0" font-size="20">-2.0</text>
<text x="69.03" y="248.6" font-size="20">-0.2</text>
<text x="112.10" y="248.6" font-size="20">0</text>
<text x="133.50" y="248.6" font-size="20">0.2</text>
<text x="168.13" y="248.6" font-size="20">-0.2</text>
<text x="211.20" y="248.6" font-size="20">0</text>
<text x="232.60" y="248.6" font-size="20">0.2</text>
<text x="353.73" y="248.6" font-size="20">-0.2</text>
<text x="396.80" y="248.6" font-size="20">0</text>
<text x="418.20" y="248.6" font-size="20">0.2</text>
<text x="452.43" y="248.6" font-size="20">-0.2</text>
<text x="495.50" y="248.6" font-size="20">0</text>
<text x="516.90" y="248.6" font-size="20">0.2</text>
<text x="89.6" y="272.2" font-size="19.3">k</text>
<rect x="100.9" y="267.2" width="1.8" height="9.4" fill="#222"/>
<text x="110.2" y="272.2" font-size="19.3">(Å<tspan font-size="13.9" dx="0.8" dy="-5.4">-1</tspan><tspan dx="0.6" dy="5.4">)</tspan></text>
<text x="186.9" y="272.2" font-size="19.3">k</text>
<rect x="198.2" y="267.2" width="1.8" height="9.4" fill="#222"/>
<text x="207.5" y="272.2" font-size="19.3">(Å<tspan font-size="13.9" dx="0.8" dy="-5.4">-1</tspan><tspan dx="0.6" dy="5.4">)</tspan></text>
<text x="374.8" y="272.2" font-size="19.3">k</text>
<rect x="386.1" y="267.2" width="1.8" height="9.4" fill="#222"/>
<text x="395.4" y="272.2" font-size="19.3">(Å<tspan font-size="13.9" dx="0.8" dy="-5.4">-1</tspan><tspan dx="0.6" dy="5.4">)</tspan></text>
<text x="471.9" y="272.2" font-size="19.3">k</text>
<rect x="483.2" y="267.2" width="1.8" height="9.4" fill="#222"/>
<text x="492.5" y="272.2" font-size="19.3">(Å<tspan font-size="13.9" dx="0.8" dy="-5.4">-1</tspan><tspan dx="0.6" dy="5.4">)</tspan></text>
<text transform="translate(19.6,150.8) rotate(-90)" font-size="20">E-E<tspan font-size="13.0" dy="3">F</tspan><tspan dy="-3"> (eV)</tspan></text>
<text transform="translate(304.20000000000005,150.8) rotate(-90)" font-size="20">E-E<tspan font-size="13.0" dy="3">F</tspan><tspan dy="-3"> (eV)</tspan></text>
<text x="285" y="23.5" font-size="20">(b)</text>
<text x="80.6" y="26.0" font-size="18.7">Li<tspan dy="-6" font-size="12">+</tspan><tspan dy="6">/SLG</tspan></text>
<text x="177.0" y="25.9" font-size="18.5">T<tspan dy="4.6" dx="-0.7" font-size="12.5">a</tspan><tspan dy="-4.6" dx="-1.7" font-size="19.3">=300 °C</tspan></text>
<text x="365.6" y="26.6" font-size="18.5">Li/SLG</text>
<text x="460.6" y="26.4" font-size="18.5">T<tspan dy="4.6" dx="-0.7" font-size="12.5">a</tspan><tspan dy="-4.6" dx="-1.7" font-size="19.3">=300 °C</tspan></text>
</svg>
</body></html>
